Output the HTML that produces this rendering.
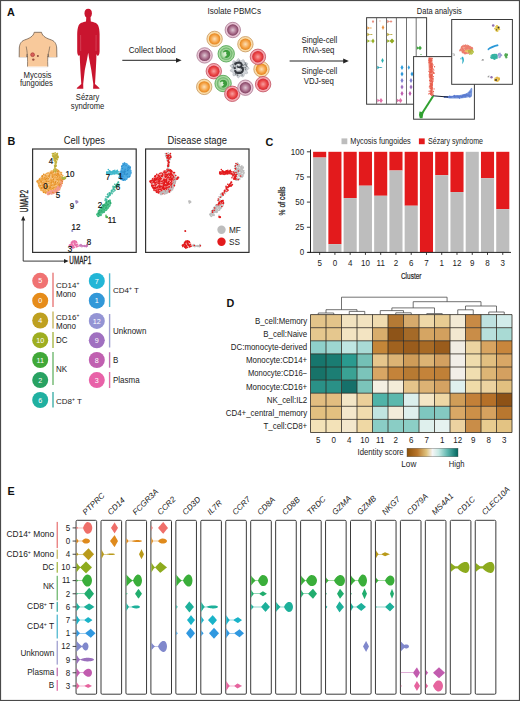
<!DOCTYPE html><html><head><meta charset="utf-8"><style>html,body{margin:0;padding:0;background:#fff;overflow:hidden;}svg{display:block;} text{font-family:"Liberation Sans", sans-serif;}</style></head><body><svg width="520" height="701" viewBox="0 0 520 701"><rect x="0.5" y="0.5" width="519" height="700" fill="#fff" stroke="#4a4a4a" stroke-width="1.2"/><text x="6.9" y="16.1" font-size="10.8" text-anchor="start" fill="#111" font-weight="bold">A</text><text x="7.5" y="145.2" font-size="10.8" text-anchor="start" fill="#111" font-weight="bold">B</text><text x="265.6" y="145.6" font-size="10.8" text-anchor="start" fill="#111" font-weight="bold">C</text><text x="226.5" y="307.2" font-size="10.8" text-anchor="start" fill="#111" font-weight="bold">D</text><text x="7.5" y="495" font-size="10.8" text-anchor="start" fill="#111" font-weight="bold">E</text><path d="M34.2,32.3 C33.5,36.5 29,38.5 24.5,40 C20.5,41.5 19.5,45 19.3,48 L19.2,57.8 L26.6,57.8 L27.2,54 C27.6,57 27.6,62 27.5,66.6 L47.8,66.6 C47.6,62 47.6,57 48.2,54 L48.8,57.8 L56.9,57.8 L56.7,48 C56.5,45 55.5,41.5 51.5,40 C47,38.5 42.3,36.5 41.5,32.3 Z" fill="#f8c99b" stroke="#6e5e50" stroke-width="0.8"/><path d="M26.2,46.5 C26.8,50 27.2,52 27.2,54 M49.8,46.5 C49.2,50 48.8,52 48.2,54" fill="none" stroke="#6e5e50" stroke-width="0.7"/><rect x="18" y="57.3" width="40" height="10" fill="#fff"/><path d="M27.5,57 C27.6,61 27.6,63 27.5,66.6 L47.8,66.6 C47.6,63 47.6,61 47.8,57 Z" fill="#f8c99b"/><path d="M27.5,56 C27.6,60 27.6,63 27.5,66.6 M47.8,56 C47.6,60 47.6,63 47.8,66.6" fill="none" stroke="#6e5e50" stroke-width="0.7"/><circle cx="32.6" cy="54.7" r="1.9" fill="#d9605a" stroke="#a83a35" stroke-width="0.7"/><circle cx="37.9" cy="56.1" r="1" fill="#8a4a3a"/><circle cx="33.3" cy="59.6" r="1.2" fill="#9a5040"/><text x="37.5" y="77.7" font-size="8.53" text-anchor="middle" fill="#222" textLength="28" lengthAdjust="spacingAndGlyphs">Mycosis</text><text x="36.4" y="86.3" font-size="8.53" text-anchor="middle" fill="#222" textLength="33" lengthAdjust="spacingAndGlyphs">fungoides</text><g fill="#c9152f"><ellipse cx="88.2" cy="13.3" rx="3.7" ry="4.5"/><path d="M86.3,17 L90.5,17 L90.8,21.5 C93.8,22.3 97.3,23 98.2,25.5 C99.2,28 99.5,31 99.6,34 L99.6,51.5 C99.5,54 98.8,55.8 97.8,55.8 C96.8,55.8 96.3,54.5 96.5,52 L96.3,60 L95.8,70 L95,84 L99.4,88 L99.5,88.8 L93.1,88.8 L93.3,84 L91.3,70 L89.4,60 L88.2,52.8 L86.9,60 L84.8,70 L83.2,84 L83.3,88.8 L76.9,88.8 L76.8,88 L81.3,84 L80.4,70 L79.9,60 L79.8,56 L80.2,52 C80.3,54.5 79.9,55.8 79,55.8 C78,55.8 77.2,54 77.2,51.5 L77.2,34 C77.3,31 77.6,28 78.6,25.5 C79.5,23 83,22.3 86,21.5 Z"/></g><path d="M80.6,35 L80.7,51 M96.1,35 L96,51" stroke="#e07080" stroke-width="0.45" fill="none"/><text x="87.6" y="100.3" font-size="8.53" text-anchor="middle" fill="#222" textLength="23.5" lengthAdjust="spacingAndGlyphs">Sézary</text><text x="87.6" y="108.8" font-size="8.53" text-anchor="middle" fill="#222" textLength="33.5" lengthAdjust="spacingAndGlyphs">syndrome</text><line x1="122.3" y1="60.3" x2="177" y2="60.3" stroke="#222" stroke-width="1"/><path d="M176,57.9 L181.6,60.3 L176,62.7 Z" fill="#222"/><text x="152.1" y="52.8" font-size="9.07" text-anchor="middle" fill="#222" textLength="46.6" lengthAdjust="spacingAndGlyphs">Collect blood</text><text x="234.2" y="13.7" font-size="9.07" text-anchor="middle" fill="#222" textLength="53.5" lengthAdjust="spacingAndGlyphs">Isolate PBMCs</text><defs><radialGradient id="gp"><stop offset="0" stop-color="#e0c8d4"/><stop offset="0.65" stop-color="#a86c8a"/><stop offset="1" stop-color="#804060"/></radialGradient><radialGradient id="go"><stop offset="0" stop-color="#fce0b8"/><stop offset="0.65" stop-color="#f5a448"/><stop offset="1" stop-color="#e4841c"/></radialGradient><radialGradient id="gr"><stop offset="0" stop-color="#f8a0a0"/><stop offset="0.65" stop-color="#ea4848"/><stop offset="1" stop-color="#d42832"/></radialGradient><radialGradient id="gg"><stop offset="0" stop-color="#eef8e8"/><stop offset="0.6" stop-color="#b8e0b0"/><stop offset="1" stop-color="#60b060"/></radialGradient></defs><circle cx="232.8" cy="30" r="7.7" fill="#e8c4d4" stroke="#a87890" stroke-width="0.8"/><circle cx="232.8" cy="30" r="5.7" fill="url(#gp)"/><circle cx="214.6" cy="38.9" r="7.7" fill="#f9dcaa" stroke="#c89860" stroke-width="0.8"/><circle cx="214.6" cy="38.9" r="5.7" fill="url(#go)"/><circle cx="245.4" cy="44.2" r="7.7" fill="#f9dcaa" stroke="#c89860" stroke-width="0.8"/><circle cx="245.4" cy="44.2" r="5.7" fill="url(#go)"/><circle cx="204.6" cy="55.4" r="7.7" fill="#e8c4d4" stroke="#a87890" stroke-width="0.8"/><circle cx="204.6" cy="55.4" r="5.7" fill="url(#gp)"/><circle cx="226.2" cy="53.8" r="8.2" fill="#a8d8a0" stroke="#48a048" stroke-width="0.8"/><circle cx="226.2" cy="53.8" r="6.2" fill="url(#gg)"/><path d="M223.2,51.3 C226.2,48.3 231.2,50.8 230.2,54.8 C229.7,57.8 226.2,58.8 224.2,57.3 C227.2,55.8 227.7,53.8 225.7,54.3 C227.7,51.8 225.2,50.8 223.2,52.8 Z" fill="#3c9c3c"/><circle cx="261.5" cy="69.2" r="7.7" fill="#f9dcaa" stroke="#c89860" stroke-width="0.8"/><circle cx="261.5" cy="69.2" r="5.7" fill="url(#go)"/><circle cx="257.9" cy="56.8" r="7.7" fill="#f4a8b0" stroke="#c05060" stroke-width="0.8"/><circle cx="257.9" cy="56.8" r="5.7" fill="url(#gr)"/><circle cx="213.8" cy="71.2" r="7.7" fill="#f4a8b0" stroke="#c05060" stroke-width="0.8"/><circle cx="213.8" cy="71.2" r="5.7" fill="url(#gr)"/><circle cx="204.2" cy="86.9" r="7.7" fill="#f9dcaa" stroke="#c89860" stroke-width="0.8"/><circle cx="204.2" cy="86.9" r="5.7" fill="url(#go)"/><circle cx="223.1" cy="83.5" r="8.2" fill="#a8d8a0" stroke="#48a048" stroke-width="0.8"/><circle cx="223.1" cy="83.5" r="6.2" fill="url(#gg)"/><path d="M220.1,81 C223.1,78 228.1,80.5 227.1,84.5 C226.6,87.5 223.1,88.5 221.1,87 C224.1,85.5 224.6,83.5 222.6,84 C224.6,81.5 222.1,80.5 220.1,82.5 Z" fill="#3c9c3c"/><circle cx="232.3" cy="93.8" r="7.7" fill="#f4a8b0" stroke="#c05060" stroke-width="0.8"/><circle cx="232.3" cy="93.8" r="5.7" fill="url(#gr)"/><circle cx="245.4" cy="87.7" r="7.7" fill="#e8c4d4" stroke="#a87890" stroke-width="0.8"/><circle cx="245.4" cy="87.7" r="5.7" fill="url(#gp)"/><circle cx="263.1" cy="84.2" r="7.7" fill="#f4a8b0" stroke="#c05060" stroke-width="0.8"/><circle cx="263.1" cy="84.2" r="5.7" fill="url(#gr)"/><polygon points="249.04,68.3 248.2,69.44 246.71,70.23 247.11,71.45 247.84,73.11 246.65,73.78 244.82,73.62 244.33,74.59 244,76.1 243.12,77.04 241.73,76.62 240.48,75.73 239.5,77.1 238.24,77.89 237.18,76.96 236.68,75.11 235.43,75.34 233.6,75.99 232.86,74.94 233.09,73.22 232.79,72.18 231.41,71.65 230.02,70.84 231.06,69.41 232.12,68.3 231.39,67.23 229.95,65.74 231.18,64.85 232.76,64.41 233.03,63.33 232.78,61.58 233.58,60.58 235.51,61.38 236.53,61.13 237.21,59.75 238.2,58.43 239.5,59.47 240.45,61.09 241.6,60.48 243.12,59.57 244.21,60.13 244.18,62.2 245.08,62.72 246.76,62.73 247.78,63.52 246.99,65.2 246.69,66.37 248.22,67.15" fill="#d0d4d8" stroke="#a0a6ac" stroke-width="0.5"/><g fill="#7a8086"><circle cx="232.93" cy="64.46" r="0.74"/><circle cx="246.18" cy="65.1" r="0.9"/><circle cx="237.97" cy="65.46" r="0.83"/><circle cx="246.92" cy="66.62" r="0.68"/><circle cx="238.67" cy="64.72" r="0.82"/><circle cx="235.68" cy="66.4" r="0.43"/><circle cx="244.34" cy="61.98" r="0.44"/><circle cx="241.1" cy="63.43" r="0.48"/><circle cx="237.59" cy="75.05" r="0.84"/><circle cx="245.53" cy="70.02" r="0.42"/><circle cx="238.59" cy="63.79" r="0.84"/><circle cx="245.15" cy="67.61" r="0.9"/><circle cx="238.69" cy="70.37" r="0.7"/><circle cx="242.99" cy="69" r="0.6"/><circle cx="237.07" cy="66.28" r="0.42"/><circle cx="242.52" cy="64.99" r="0.88"/><circle cx="243.42" cy="65.33" r="0.63"/><circle cx="233.13" cy="67.49" r="0.7"/><circle cx="233.63" cy="66.01" r="0.87"/><circle cx="234.25" cy="68.07" r="0.76"/><circle cx="239.84" cy="72.68" r="0.89"/><circle cx="233.63" cy="67.52" r="0.41"/><circle cx="234.25" cy="71.39" r="0.41"/><circle cx="234.75" cy="64.07" r="0.43"/><circle cx="235.69" cy="64.38" r="0.74"/><circle cx="235.46" cy="73.68" r="0.77"/><circle cx="241.45" cy="68.57" r="0.74"/><circle cx="243.4" cy="67.38" r="0.63"/><circle cx="235.72" cy="65.81" r="0.58"/><circle cx="237.64" cy="72.79" r="0.7"/><circle cx="237.97" cy="72.97" r="0.79"/><circle cx="245.45" cy="69.32" r="0.77"/><circle cx="238.11" cy="71.81" r="0.8"/><circle cx="239.75" cy="71.75" r="0.62"/><circle cx="238.68" cy="65.88" r="0.56"/><circle cx="235.83" cy="74.62" r="0.62"/><circle cx="241.53" cy="65.71" r="0.57"/><circle cx="235.09" cy="62.21" r="0.63"/><circle cx="239.93" cy="71.05" r="0.66"/><circle cx="242.11" cy="74.99" r="0.82"/><circle cx="241.21" cy="72.16" r="0.8"/><circle cx="234.99" cy="62.71" r="0.57"/><circle cx="242.47" cy="71.45" r="0.8"/><circle cx="238.88" cy="72.97" r="0.61"/><circle cx="235.02" cy="70.77" r="0.86"/><circle cx="239.8" cy="68.75" r="0.87"/><circle cx="245.29" cy="62.86" r="0.62"/><circle cx="246.83" cy="65.93" r="0.51"/><circle cx="239.29" cy="60.99" r="0.73"/><circle cx="235.23" cy="67.79" r="0.57"/><circle cx="239.79" cy="70.37" r="0.69"/><circle cx="237.84" cy="75.31" r="0.42"/><circle cx="244.98" cy="64.51" r="0.86"/><circle cx="245.54" cy="63.71" r="0.69"/><circle cx="246.38" cy="68.87" r="0.49"/></g><path d="M234.5,64.5 C238,61 243.5,62.5 241,66.8 C244.5,68.5 243,73.8 238,73 C236,72.7 235,71.5 235.5,70.2" fill="none" stroke="#34383e" stroke-width="2"/><path d="M241,66.8 C239.5,67.5 238,67.5 237,66.5" fill="none" stroke="#34383e" stroke-width="1.6"/><circle cx="234.8" cy="68.2" r="1.1" fill="#3a3e44"/><circle cx="238.8" cy="69.5" r="1.3" fill="#f4f4f4"/><circle cx="238.5" cy="64.8" r="0.9" fill="#f4f4f4"/><text x="319.4" y="43.1" font-size="9.07" text-anchor="middle" fill="#222" textLength="35.8" lengthAdjust="spacingAndGlyphs">Single-cell</text><text x="318.6" y="52.7" font-size="9.07" text-anchor="middle" fill="#222" textLength="31.7" lengthAdjust="spacingAndGlyphs">RNA-seq</text><line x1="289.6" y1="61" x2="344" y2="61" stroke="#222" stroke-width="1"/><path d="M343.2,58.6 L348.8,61 L343.2,63.4 Z" fill="#222"/><text x="319.4" y="74.4" font-size="9.07" text-anchor="middle" fill="#222" textLength="35.8" lengthAdjust="spacingAndGlyphs">Single-cell</text><text x="318.8" y="84.4" font-size="9.07" text-anchor="middle" fill="#222" textLength="30" lengthAdjust="spacingAndGlyphs">VDJ-seq</text><text x="439.3" y="13.8" font-size="9.07" text-anchor="middle" fill="#222" textLength="45" lengthAdjust="spacingAndGlyphs">Data analysis</text><rect x="366.6" y="17.7" width="60" height="86.5" fill="#fff" stroke="#3a3a3a" stroke-width="1"/><line x1="376.6" y1="17.7" x2="376.6" y2="104.2" stroke="#606060" stroke-width="0.9"/><line x1="386.5" y1="17.7" x2="386.5" y2="104.2" stroke="#606060" stroke-width="0.9"/><line x1="396.4" y1="17.7" x2="396.4" y2="104.2" stroke="#606060" stroke-width="0.9"/><line x1="406.5" y1="17.7" x2="406.5" y2="104.2" stroke="#606060" stroke-width="0.9"/><line x1="416.2" y1="17.7" x2="416.2" y2="104.2" stroke="#606060" stroke-width="0.9"/><path d="M371.8,21.6 L373,20 L374.2,21.6 L373,23.2 Z" fill="#e89080"/><path d="M369.8,28 L371,27.5 L372.2,28 L371,28.5 Z" fill="#e8a050"/><path d="M367.3,26.2 L369.5,27.65 L371,27.65 L371,28.35 L369.5,28.35 L367.3,29.8 Z" fill="#e8a050"/><path d="M370,34.5 L371.5,33.9 L373,34.5 L371.5,35.1 Z" fill="#b8a838"/><path d="M367.3,32.7 L369.5,34.15 L371.5,34.15 L371.5,34.85 L369.5,34.85 L367.3,36.3 Z" fill="#b8a838"/><path d="M371.4,41 L373,38.4 L374.6,41 L373,43.6 Z" fill="#98b028"/><path d="M367.3,39.2 L369.5,40.65 L373,40.65 L373,41.35 L369.5,41.35 L367.3,42.8 Z" fill="#98b028"/><path d="M379,21 L380,20.5 L381,21 L380,21.5 Z" fill="#e89080"/><path d="M381.8,27.5 L383,24.9 L384.2,27.5 L383,30.1 Z" fill="#e89040"/><path d="M389.5,21.5 L391,20.2 L392.5,21.5 L391,22.8 Z" fill="#e89080"/><path d="M387.2,19.7 L389.4,21.15 L391,21.15 L391,21.85 L389.4,21.85 L387.2,23.3 Z" fill="#e89080"/><path d="M390,34.5 L391.5,33.9 L393,34.5 L391.5,35.1 Z" fill="#b8a838"/><path d="M387.2,32.7 L389.4,34.15 L391.5,34.15 L391.5,34.85 L389.4,34.85 L387.2,36.3 Z" fill="#b8a838"/><path d="M389.6,41 L392,38.4 L394.4,41 L392,43.6 Z" fill="#90a820"/><path d="M387.2,39.2 L389.4,40.65 L392,40.65 L392,41.35 L389.4,41.35 L387.2,42.8 Z" fill="#90a820"/><path d="M418.2,48 L420,45.8 L421.8,48 L420,50.2 Z" fill="#40a840"/><path d="M416.8,46.2 L419,47.65 L420,47.65 L420,48.35 L419,48.35 L416.8,49.8 Z" fill="#40a840"/><path d="M420,54.5 L421,54.1 L422,54.5 L421,54.9 Z" fill="#40a840"/><path d="M381.2,60.5 L382.5,57.9 L383.8,60.5 L382.5,63.1 Z" fill="#28b0b0"/><path d="M379.4,67.5 L381,67 L382.6,67.5 L381,68 Z" fill="#28a0b0"/><path d="M377.3,65.7 L379.5,67.15 L381,67.15 L381,67.85 L379.5,67.85 L377.3,69.3 Z" fill="#28a0b0"/><path d="M379.2,100.5 L381,97.9 L382.8,100.5 L381,103.1 Z" fill="#e070a8"/><path d="M377.3,98.7 L379.5,100.15 L381,100.15 L381,100.85 L379.5,100.85 L377.3,102.3 Z" fill="#e070a8"/><path d="M400.5,67.5 L402,64.9 L403.5,67.5 L402,70.1 Z" fill="#30a0e0"/><path d="M400.5,74 L402,71.4 L403.5,74 L402,76.6 Z" fill="#3098d8"/><path d="M400.5,80.5 L402,78.1 L403.5,80.5 L402,82.9 Z" fill="#8080d0"/><path d="M400.5,87 L402,84.6 L403.5,87 L402,89.4 Z" fill="#a070c0"/><path d="M400.5,93.5 L402,91.1 L403.5,93.5 L402,95.9 Z" fill="#c060b0"/><path d="M398.7,100.5 L400.5,97.9 L402.3,100.5 L400.5,103.1 Z" fill="#e070a8"/><path d="M397,98.7 L399.2,100.15 L400.5,100.15 L400.5,100.85 L399.2,100.85 L397,102.3 Z" fill="#e070a8"/><path d="M407.6,67.5 L408.8,65.3 L410,67.5 L408.8,69.7 Z" fill="#30a0e0"/><path d="M410.5,74 L412,71.4 L413.5,74 L412,76.6 Z" fill="#3098d8"/><path d="M409.5,80.5 L411,78.1 L412.5,80.5 L411,82.9 Z" fill="#8080d0"/><path d="M409.5,87 L411,84.6 L412.5,87 L411,89.4 Z" fill="#a070c0"/><path d="M408.5,93.5 L410,91.1 L411.5,93.5 L410,95.9 Z" fill="#c060b0"/><rect x="413.6" y="56.6" width="60.8" height="62.6" fill="#fff" stroke="#3a3a3a" stroke-width="1"/><path d="M428.2,57.5 L432.2,57.5 C432.8,66 433.5,76 432.8,84 C432.6,89 433.5,93 434,95.8 L431.5,95.8 C430.5,91 429.8,87 429.5,82 C429.2,74 428.4,66 428.2,57.5 Z" fill="#f09080"/><g fill="#e86050" opacity="1"><circle cx="430.45" cy="64.19" r="0.65"/><circle cx="430.27" cy="75.97" r="0.65"/><circle cx="431.61" cy="66.1" r="0.65"/><circle cx="429.85" cy="77.22" r="0.65"/><circle cx="431.61" cy="76.94" r="0.65"/><circle cx="431.56" cy="71.91" r="0.65"/><circle cx="433.19" cy="79.95" r="0.65"/><circle cx="431.92" cy="66.71" r="0.65"/><circle cx="434.52" cy="66.73" r="0.65"/><circle cx="432.27" cy="85.7" r="0.65"/><circle cx="430.8" cy="90.81" r="0.65"/><circle cx="431.23" cy="70.33" r="0.65"/><circle cx="433.44" cy="76.66" r="0.65"/><circle cx="433.11" cy="71.82" r="0.65"/><circle cx="431.15" cy="63.81" r="0.65"/><circle cx="430.35" cy="92.8" r="0.65"/><circle cx="430.71" cy="74.99" r="0.65"/><circle cx="431.3" cy="76.18" r="0.65"/><circle cx="432.99" cy="65.01" r="0.65"/><circle cx="431.64" cy="66.81" r="0.65"/><circle cx="431.94" cy="87.26" r="0.65"/><circle cx="433.48" cy="91.52" r="0.65"/><circle cx="431.43" cy="86.3" r="0.65"/><circle cx="430.06" cy="85.37" r="0.65"/><circle cx="428.98" cy="62.59" r="0.65"/><circle cx="431.36" cy="65.54" r="0.65"/><circle cx="431.62" cy="92.62" r="0.65"/><circle cx="430.8" cy="71.7" r="0.65"/><circle cx="429.13" cy="74.92" r="0.65"/><circle cx="433.63" cy="72.5" r="0.65"/><circle cx="431.82" cy="59.01" r="0.65"/><circle cx="431.47" cy="95.23" r="0.65"/><circle cx="430.33" cy="76.6" r="0.65"/><circle cx="431.4" cy="86.06" r="0.65"/><circle cx="430.15" cy="66.33" r="0.65"/><circle cx="430.74" cy="81.35" r="0.65"/><circle cx="431.46" cy="64.78" r="0.65"/><circle cx="431.63" cy="92.77" r="0.65"/><circle cx="430.73" cy="71" r="0.65"/><circle cx="430.27" cy="61.87" r="0.65"/><circle cx="431.31" cy="60.46" r="0.65"/><circle cx="429.89" cy="72.06" r="0.65"/><circle cx="430.5" cy="83.63" r="0.65"/><circle cx="428.8" cy="93.94" r="0.65"/><circle cx="434.07" cy="73.26" r="0.65"/><circle cx="431.4" cy="80.14" r="0.65"/><circle cx="430" cy="91.12" r="0.65"/><circle cx="431.27" cy="67.27" r="0.65"/><circle cx="431.19" cy="90.86" r="0.65"/><circle cx="431.52" cy="88.2" r="0.65"/><circle cx="429.38" cy="87.02" r="0.65"/><circle cx="430.79" cy="59.96" r="0.65"/><circle cx="430.98" cy="67.67" r="0.65"/><circle cx="432" cy="64.4" r="0.65"/><circle cx="429.52" cy="60.6" r="0.65"/><circle cx="432.45" cy="94.88" r="0.65"/><circle cx="430.59" cy="85.97" r="0.65"/><circle cx="430.81" cy="93.96" r="0.65"/><circle cx="431.57" cy="77.71" r="0.65"/><circle cx="430.88" cy="65.95" r="0.65"/><circle cx="431.68" cy="89.43" r="0.65"/><circle cx="429.59" cy="80.55" r="0.65"/><circle cx="429.85" cy="73.98" r="0.65"/><circle cx="430.41" cy="69.55" r="0.65"/><circle cx="431.32" cy="78.04" r="0.65"/><circle cx="432.12" cy="58.38" r="0.65"/><circle cx="431.67" cy="83.7" r="0.65"/><circle cx="431.51" cy="80.26" r="0.65"/><circle cx="432.31" cy="82.14" r="0.65"/><circle cx="430.17" cy="67.64" r="0.65"/><circle cx="433.63" cy="73.21" r="0.65"/><circle cx="430.31" cy="63.01" r="0.65"/><circle cx="430.92" cy="61.56" r="0.65"/><circle cx="431.69" cy="74.76" r="0.65"/><circle cx="431.87" cy="63.28" r="0.65"/><circle cx="429.76" cy="62.74" r="0.65"/><circle cx="431.07" cy="78.2" r="0.65"/><circle cx="432.18" cy="66.24" r="0.65"/><circle cx="431.37" cy="64.23" r="0.65"/><circle cx="432.31" cy="84.62" r="0.65"/><circle cx="433.11" cy="78.63" r="0.65"/><circle cx="431.45" cy="90.77" r="0.65"/><circle cx="431.31" cy="87.03" r="0.65"/><circle cx="431.46" cy="75.4" r="0.65"/><circle cx="430.68" cy="60.38" r="0.65"/><circle cx="430.8" cy="84.68" r="0.65"/><circle cx="430.94" cy="67.48" r="0.65"/><circle cx="429.73" cy="59.57" r="0.65"/><circle cx="430.72" cy="72.58" r="0.65"/><circle cx="433.33" cy="69.06" r="0.65"/><circle cx="429.28" cy="76.87" r="0.65"/><circle cx="430.01" cy="61.7" r="0.65"/><circle cx="429.94" cy="80.54" r="0.65"/><circle cx="430.6" cy="94.27" r="0.65"/><circle cx="430.98" cy="69.63" r="0.65"/><circle cx="430.43" cy="79.03" r="0.65"/><circle cx="431.71" cy="60.39" r="0.65"/><circle cx="428.93" cy="71.32" r="0.65"/><circle cx="431.86" cy="69.93" r="0.65"/><circle cx="430.65" cy="60.85" r="0.65"/><circle cx="431.33" cy="60.75" r="0.65"/><circle cx="430.02" cy="74.8" r="0.65"/><circle cx="432.98" cy="81.3" r="0.65"/><circle cx="431.74" cy="74.6" r="0.65"/><circle cx="430.82" cy="77.4" r="0.65"/><circle cx="431.8" cy="66.46" r="0.65"/><circle cx="429.89" cy="59.83" r="0.65"/><circle cx="431.73" cy="84.41" r="0.65"/><circle cx="430.98" cy="88.65" r="0.65"/><circle cx="430.09" cy="66.87" r="0.65"/><circle cx="430.09" cy="72.45" r="0.65"/><circle cx="430.82" cy="94.12" r="0.65"/><circle cx="429.55" cy="61.2" r="0.65"/><circle cx="431.55" cy="84.89" r="0.65"/><circle cx="431.2" cy="91.39" r="0.65"/><circle cx="429.93" cy="86.44" r="0.65"/><circle cx="432.47" cy="83.05" r="0.65"/><circle cx="430.26" cy="83.61" r="0.65"/><circle cx="432.06" cy="67.2" r="0.65"/><circle cx="431.06" cy="81.05" r="0.65"/><circle cx="434.07" cy="88.93" r="0.65"/><circle cx="429.74" cy="58.24" r="0.65"/><circle cx="430.99" cy="69.72" r="0.65"/><circle cx="431.83" cy="63.45" r="0.65"/><circle cx="432.34" cy="78.75" r="0.65"/><circle cx="431.17" cy="93.38" r="0.65"/><circle cx="430.89" cy="85.84" r="0.65"/><circle cx="430.84" cy="93.85" r="0.65"/><circle cx="431.68" cy="84.4" r="0.65"/><circle cx="432.39" cy="82.06" r="0.65"/><circle cx="431.3" cy="83.56" r="0.65"/><circle cx="433.84" cy="70.08" r="0.65"/><circle cx="431.55" cy="67.53" r="0.65"/><circle cx="430.99" cy="83.54" r="0.65"/><circle cx="430.42" cy="65.5" r="0.65"/><circle cx="431.02" cy="72.21" r="0.65"/><circle cx="429.73" cy="93.28" r="0.65"/><circle cx="431.77" cy="81.14" r="0.65"/><circle cx="431.75" cy="68.52" r="0.65"/><circle cx="432.15" cy="68.22" r="0.65"/><circle cx="431.3" cy="65.07" r="0.65"/><circle cx="431.12" cy="88.39" r="0.65"/><circle cx="430.74" cy="93.05" r="0.65"/><circle cx="431.41" cy="76.8" r="0.65"/><circle cx="429.33" cy="59.47" r="0.65"/><circle cx="430.22" cy="67.01" r="0.65"/><circle cx="430" cy="58.29" r="0.65"/><circle cx="431.24" cy="69.59" r="0.65"/><circle cx="432.33" cy="75.03" r="0.65"/><circle cx="430.28" cy="63.06" r="0.65"/><circle cx="431.77" cy="87.69" r="0.65"/><circle cx="429.47" cy="59.84" r="0.65"/><circle cx="430" cy="65.03" r="0.65"/><circle cx="431.88" cy="66.44" r="0.65"/><circle cx="432.47" cy="88.09" r="0.65"/><circle cx="429.07" cy="91.13" r="0.65"/><circle cx="430.11" cy="58.66" r="0.65"/><circle cx="430.71" cy="91.74" r="0.65"/><circle cx="431.38" cy="86.01" r="0.65"/><circle cx="429.97" cy="60.24" r="0.65"/><circle cx="430.08" cy="88.57" r="0.65"/><circle cx="430.72" cy="75.67" r="0.65"/><circle cx="430.79" cy="88" r="0.65"/><circle cx="432.12" cy="71.24" r="0.65"/><circle cx="429.87" cy="69.17" r="0.65"/><circle cx="429.15" cy="60.66" r="0.65"/><circle cx="429.14" cy="60.54" r="0.65"/><circle cx="430.94" cy="65.12" r="0.65"/><circle cx="431.53" cy="68.12" r="0.65"/><circle cx="431.69" cy="76.56" r="0.65"/></g><path d="M444,96.2 C452,96 460,95.5 466,93.5 C468.5,92.5 470,90 471.2,87.8 L472.3,88.5 L472,96.5 C467,98 460,98.8 452,98.5 C449,98.3 446,97.8 444,97.4 Z" fill="#7898dc"/><g fill="#5a7ad0" opacity="1"><circle cx="463.06" cy="95.77" r="0.6"/><circle cx="446.92" cy="96.72" r="0.6"/><circle cx="470.06" cy="92.47" r="0.6"/><circle cx="463.34" cy="95.8" r="0.6"/><circle cx="464.38" cy="95.51" r="0.6"/><circle cx="467.16" cy="95.17" r="0.6"/><circle cx="449.98" cy="97.04" r="0.6"/><circle cx="458.91" cy="96.46" r="0.6"/><circle cx="461.59" cy="96.64" r="0.6"/><circle cx="457.83" cy="97.08" r="0.6"/><circle cx="448.54" cy="97.16" r="0.6"/><circle cx="469.38" cy="92.33" r="0.6"/><circle cx="463.03" cy="96.29" r="0.6"/><circle cx="469.28" cy="96.66" r="0.6"/><circle cx="458.93" cy="97.52" r="0.6"/><circle cx="454.92" cy="95.95" r="0.6"/><circle cx="470.37" cy="96.14" r="0.6"/><circle cx="444.31" cy="96.77" r="0.6"/><circle cx="453.85" cy="96.18" r="0.6"/><circle cx="465.16" cy="94.89" r="0.6"/><circle cx="462.11" cy="96.97" r="0.6"/><circle cx="459.01" cy="97.38" r="0.6"/><circle cx="468.69" cy="95.88" r="0.6"/><circle cx="459.54" cy="98.21" r="0.6"/><circle cx="465.72" cy="95.48" r="0.6"/><circle cx="454.15" cy="95.77" r="0.6"/><circle cx="446.32" cy="96.73" r="0.6"/><circle cx="459.12" cy="96.52" r="0.6"/><circle cx="466.82" cy="94.97" r="0.6"/><circle cx="444.76" cy="97.1" r="0.6"/><circle cx="455.84" cy="96.4" r="0.6"/><circle cx="462.63" cy="95.99" r="0.6"/><circle cx="449.9" cy="97.34" r="0.6"/><circle cx="458.64" cy="97.1" r="0.6"/><circle cx="469.06" cy="93.81" r="0.6"/><circle cx="450.72" cy="96.7" r="0.6"/><circle cx="455.88" cy="96.02" r="0.6"/><circle cx="465.04" cy="94.53" r="0.6"/><circle cx="462.22" cy="96.09" r="0.6"/><circle cx="454.59" cy="96.96" r="0.6"/><circle cx="457.71" cy="96.34" r="0.6"/><circle cx="456.85" cy="97.01" r="0.6"/><circle cx="445" cy="97.15" r="0.6"/><circle cx="466.48" cy="94.19" r="0.6"/><circle cx="464.62" cy="95.48" r="0.6"/><circle cx="454.55" cy="95.3" r="0.6"/><circle cx="455.02" cy="97.12" r="0.6"/><circle cx="460.28" cy="96.28" r="0.6"/><circle cx="460.14" cy="96.66" r="0.6"/><circle cx="450.36" cy="96.72" r="0.6"/><circle cx="464.56" cy="96.21" r="0.6"/><circle cx="445.54" cy="96.59" r="0.6"/><circle cx="454.37" cy="96.77" r="0.6"/><circle cx="456.92" cy="95.96" r="0.6"/><circle cx="454.9" cy="96.15" r="0.6"/><circle cx="463.4" cy="95.22" r="0.6"/><circle cx="468.23" cy="94.87" r="0.6"/><circle cx="451.01" cy="96.37" r="0.6"/><circle cx="465.89" cy="96.18" r="0.6"/><circle cx="449.57" cy="96.03" r="0.6"/><circle cx="467.74" cy="95.41" r="0.6"/><circle cx="452.62" cy="96.54" r="0.6"/><circle cx="461.74" cy="96.92" r="0.6"/><circle cx="451.42" cy="97.2" r="0.6"/><circle cx="463.11" cy="95.86" r="0.6"/><circle cx="449.79" cy="96.98" r="0.6"/><circle cx="457.93" cy="96.31" r="0.6"/><circle cx="463.22" cy="95.48" r="0.6"/><circle cx="453.38" cy="96.39" r="0.6"/><circle cx="449.41" cy="96.51" r="0.6"/><circle cx="447.95" cy="97.3" r="0.6"/><circle cx="455.58" cy="96.73" r="0.6"/><circle cx="447.45" cy="97.2" r="0.6"/><circle cx="444.59" cy="96.66" r="0.6"/><circle cx="464.29" cy="95.1" r="0.6"/><circle cx="458.02" cy="96.08" r="0.6"/><circle cx="470.94" cy="91.71" r="0.6"/><circle cx="461.8" cy="96.83" r="0.6"/><circle cx="454.24" cy="96.19" r="0.6"/><circle cx="461.8" cy="97.08" r="0.6"/><circle cx="456.79" cy="96.12" r="0.6"/><circle cx="466.1" cy="95.46" r="0.6"/><circle cx="444.56" cy="96.76" r="0.6"/><circle cx="450.2" cy="96.45" r="0.6"/><circle cx="460.43" cy="96.02" r="0.6"/><circle cx="457.72" cy="96.3" r="0.6"/><circle cx="448.62" cy="96.89" r="0.6"/><circle cx="453.19" cy="96.29" r="0.6"/><circle cx="450.03" cy="96.95" r="0.6"/><circle cx="448.25" cy="96.88" r="0.6"/><circle cx="461.48" cy="96.44" r="0.6"/><circle cx="447.13" cy="96.68" r="0.6"/><circle cx="458.96" cy="96.74" r="0.6"/><circle cx="465.3" cy="96.33" r="0.6"/><circle cx="449.69" cy="96.63" r="0.6"/><circle cx="446.38" cy="96.52" r="0.6"/><circle cx="450.79" cy="96.58" r="0.6"/><circle cx="449.7" cy="96.67" r="0.6"/><circle cx="460.15" cy="96.56" r="0.6"/><circle cx="462.58" cy="95.27" r="0.6"/><circle cx="444.25" cy="96.9" r="0.6"/><circle cx="469.58" cy="95.36" r="0.6"/><circle cx="454.01" cy="96.59" r="0.6"/><circle cx="457.96" cy="96.26" r="0.6"/><circle cx="468.96" cy="94.76" r="0.6"/><circle cx="449.1" cy="96.35" r="0.6"/><circle cx="469.93" cy="97.24" r="0.6"/><circle cx="465.73" cy="96.82" r="0.6"/><circle cx="464.15" cy="95.39" r="0.6"/><circle cx="453.54" cy="96.55" r="0.6"/></g><path d="M433,95.8 L448,97" stroke="#1a2030" stroke-width="1"/><path d="M433.2,96 L422,113.5" stroke="#30a030" stroke-width="2"/><path d="M419.5,111.5 L423.5,112.2 L422.5,118.3 L419.8,118.3 L419,115 Z" fill="#30a030"/><rect x="451.7" y="19.5" width="60.7" height="64.8" fill="#fff" stroke="#3a3a3a" stroke-width="1"/><ellipse cx="466.2" cy="49.3" rx="6" ry="4.2" fill="#f4a898"/><g fill="#ec7868" opacity="0.9"><circle cx="462.19" cy="46.6" r="0.82"/><circle cx="471.43" cy="47.93" r="0.87"/><circle cx="470.56" cy="49.86" r="0.88"/><circle cx="462.54" cy="45.86" r="0.55"/><circle cx="463.03" cy="49.73" r="0.72"/><circle cx="465.53" cy="49.07" r="0.59"/><circle cx="465.05" cy="53.53" r="0.81"/><circle cx="469.32" cy="52.69" r="0.56"/><circle cx="464.49" cy="48.22" r="0.5"/><circle cx="468.26" cy="47.81" r="0.59"/><circle cx="472.23" cy="48.84" r="0.62"/><circle cx="470.83" cy="48.51" r="0.77"/><circle cx="467.97" cy="53.49" r="0.78"/><circle cx="472.21" cy="48.41" r="0.62"/><circle cx="464.5" cy="50.7" r="0.56"/><circle cx="469.47" cy="50.28" r="0.74"/><circle cx="471.55" cy="49.38" r="0.64"/><circle cx="464.04" cy="53.09" r="0.69"/><circle cx="464.39" cy="52.16" r="0.78"/><circle cx="472.21" cy="50.86" r="0.51"/><circle cx="466.19" cy="45.16" r="0.51"/><circle cx="467.12" cy="46.65" r="0.73"/><circle cx="467.6" cy="49.36" r="0.57"/><circle cx="468.97" cy="48.75" r="0.8"/><circle cx="471.9" cy="47.43" r="0.64"/><circle cx="463.32" cy="51.88" r="0.81"/><circle cx="470.58" cy="51.74" r="0.82"/><circle cx="466.99" cy="48.64" r="0.88"/><circle cx="469.39" cy="50.72" r="0.74"/><circle cx="469.5" cy="48.01" r="0.87"/><circle cx="462.71" cy="48.6" r="0.63"/><circle cx="467" cy="50.43" r="0.56"/><circle cx="463.78" cy="45.13" r="0.56"/><circle cx="472.36" cy="50.64" r="0.71"/><circle cx="463.57" cy="50.52" r="0.74"/><circle cx="468.22" cy="46.6" r="0.67"/><circle cx="472.04" cy="50.78" r="0.51"/><circle cx="460.25" cy="49.47" r="0.55"/><circle cx="465.47" cy="44.94" r="0.75"/><circle cx="466.7" cy="47.87" r="0.67"/><circle cx="469.73" cy="52.63" r="0.62"/><circle cx="459.98" cy="50.61" r="0.84"/><circle cx="470.53" cy="48.84" r="0.7"/><circle cx="465.62" cy="46.21" r="0.62"/><circle cx="464.15" cy="50.28" r="0.65"/><circle cx="472.55" cy="48.98" r="0.75"/><circle cx="462.42" cy="49.31" r="0.54"/><circle cx="465.4" cy="53.24" r="0.85"/><circle cx="462.49" cy="52.35" r="0.81"/><circle cx="464.39" cy="45.85" r="0.8"/><circle cx="462.63" cy="52.16" r="0.61"/><circle cx="460.52" cy="49.65" r="0.78"/><circle cx="464.48" cy="53.51" r="0.76"/><circle cx="465.59" cy="49.06" r="0.72"/><circle cx="466.18" cy="52.99" r="0.69"/><circle cx="468.33" cy="45.99" r="0.82"/><circle cx="463.19" cy="52.25" r="0.8"/><circle cx="468.01" cy="46.95" r="0.84"/><circle cx="469.89" cy="46.58" r="0.89"/><circle cx="470.71" cy="48.43" r="0.71"/><circle cx="469.19" cy="52.86" r="0.87"/><circle cx="460.85" cy="49.83" r="0.79"/><circle cx="465.87" cy="47.45" r="0.81"/><circle cx="461.57" cy="47.51" r="0.67"/><circle cx="462.12" cy="46.52" r="0.75"/><circle cx="466" cy="48.56" r="0.56"/><circle cx="461.31" cy="50.61" r="0.59"/><circle cx="464.18" cy="46.01" r="0.52"/><circle cx="463.16" cy="49.68" r="0.52"/><circle cx="468.65" cy="51.19" r="0.57"/><circle cx="466.63" cy="50.1" r="0.69"/><circle cx="462.49" cy="51.7" r="0.74"/><circle cx="466.67" cy="53.56" r="0.5"/><circle cx="463.36" cy="50.63" r="0.66"/><circle cx="470.64" cy="52.01" r="0.65"/><circle cx="471.16" cy="50.09" r="0.54"/><circle cx="462.57" cy="48.57" r="0.73"/><circle cx="471.88" cy="48.25" r="0.67"/><circle cx="468.21" cy="45.97" r="0.65"/><circle cx="469.35" cy="52.01" r="0.73"/><circle cx="472.37" cy="48.12" r="0.74"/><circle cx="462.55" cy="52.72" r="0.5"/><circle cx="470.01" cy="51.42" r="0.75"/><circle cx="469.47" cy="52.06" r="0.86"/><circle cx="463.16" cy="51.38" r="0.59"/><circle cx="464.55" cy="53.59" r="0.65"/><circle cx="472.23" cy="48.26" r="0.74"/><circle cx="465.8" cy="53.75" r="0.7"/><circle cx="463.03" cy="50.59" r="0.89"/><circle cx="462.73" cy="49.42" r="0.69"/><circle cx="469.89" cy="51.76" r="0.68"/><circle cx="464.66" cy="53.13" r="0.83"/><circle cx="470.93" cy="49.57" r="0.61"/><circle cx="471.48" cy="47.73" r="0.6"/><circle cx="465.92" cy="51.06" r="0.9"/><circle cx="464.84" cy="52.68" r="0.69"/><circle cx="463.1" cy="46.54" r="0.8"/><circle cx="470.38" cy="51.95" r="0.62"/><circle cx="462.51" cy="48.75" r="0.62"/><circle cx="461.85" cy="48.73" r="0.64"/><circle cx="466.04" cy="45.84" r="0.51"/><circle cx="466.13" cy="52.34" r="0.87"/><circle cx="469.86" cy="47.15" r="0.51"/><circle cx="466.95" cy="46.4" r="0.73"/><circle cx="464.86" cy="45.84" r="0.69"/><circle cx="469.63" cy="47.83" r="0.66"/><circle cx="467.92" cy="47.7" r="0.62"/><circle cx="467.01" cy="48.29" r="0.83"/><circle cx="464.74" cy="46.52" r="0.61"/><circle cx="467.39" cy="45.09" r="0.56"/></g><g fill="#b0c038" opacity="0.9"><circle cx="468.3" cy="52.08" r="0.65"/><circle cx="469.93" cy="52.76" r="0.68"/><circle cx="470.8" cy="51.12" r="0.57"/><circle cx="471.63" cy="49.54" r="0.7"/><circle cx="473.02" cy="52.18" r="0.79"/><circle cx="473.01" cy="51.78" r="0.51"/><circle cx="471.27" cy="50.7" r="0.69"/><circle cx="472.92" cy="51.1" r="0.54"/><circle cx="469.74" cy="54.39" r="0.54"/><circle cx="469.02" cy="50.65" r="0.55"/><circle cx="470.05" cy="51.39" r="0.53"/><circle cx="469.92" cy="52.32" r="0.52"/><circle cx="468.2" cy="50.7" r="0.76"/><circle cx="471.81" cy="53.17" r="0.59"/><circle cx="468.8" cy="50.65" r="0.78"/><circle cx="470" cy="52.27" r="0.71"/><circle cx="471.89" cy="53.61" r="0.65"/><circle cx="472.39" cy="50.69" r="0.69"/><circle cx="470.31" cy="53.87" r="0.58"/><circle cx="470.51" cy="49.79" r="0.54"/><circle cx="470.68" cy="53.5" r="0.72"/><circle cx="471.59" cy="53.94" r="0.7"/><circle cx="472.61" cy="52.97" r="0.53"/><circle cx="472.14" cy="53.32" r="0.57"/><circle cx="471.99" cy="50.44" r="0.6"/><circle cx="470.65" cy="51.34" r="0.72"/><circle cx="471.6" cy="52.16" r="0.79"/><circle cx="469.91" cy="50.6" r="0.53"/><circle cx="472.91" cy="51.41" r="0.75"/><circle cx="472.01" cy="53.5" r="0.61"/></g><g fill="#e8e060" opacity="0.9"><circle cx="467.08" cy="51.86" r="0.52"/><circle cx="466.46" cy="51.76" r="0.43"/><circle cx="467.59" cy="49.95" r="0.56"/><circle cx="465.74" cy="51.56" r="0.5"/><circle cx="466.05" cy="50.38" r="0.55"/><circle cx="466.63" cy="51.29" r="0.41"/><circle cx="467.09" cy="51.28" r="0.58"/><circle cx="465.7" cy="51.16" r="0.4"/></g><path d="M462.2,56.5 C464.5,58.5 464.5,62 462,64.2 C462.8,61.5 462.6,59 461.5,57.5 Z" fill="#20a8c0"/><g fill="#30b0d0" opacity="0.9"><circle cx="460.5" cy="58.32" r="0.49"/><circle cx="460.94" cy="58.53" r="0.33"/><circle cx="462.11" cy="58.59" r="0.41"/><circle cx="460.81" cy="59.11" r="0.35"/><circle cx="461.78" cy="58.95" r="0.35"/><circle cx="461.64" cy="58.85" r="0.44"/><circle cx="463.12" cy="58.35" r="0.41"/><circle cx="462.87" cy="57.43" r="0.5"/></g><path d="M487.5,49 C490,46.5 494,45 498,44.2 L498.5,46 C494,47 490.5,48.5 488,50.5 Z" fill="#2a98d8"/><ellipse cx="494.4" cy="56.7" rx="3.2" ry="2.6" fill="#60c8b8"/><g fill="#30b0a0" opacity="0.9"><circle cx="490.95" cy="57.2" r="0.55"/><circle cx="493.45" cy="55.34" r="0.77"/><circle cx="494.21" cy="55.54" r="0.58"/><circle cx="496.11" cy="56.92" r="0.53"/><circle cx="491.51" cy="58.37" r="0.65"/><circle cx="493.47" cy="58.54" r="0.61"/><circle cx="494.06" cy="54.26" r="0.57"/><circle cx="494.58" cy="59.07" r="0.88"/><circle cx="492.96" cy="55.19" r="0.89"/><circle cx="495.29" cy="56.73" r="0.81"/><circle cx="493.76" cy="57.03" r="0.72"/><circle cx="496.99" cy="56.56" r="0.64"/><circle cx="495.2" cy="57.13" r="0.86"/><circle cx="490.92" cy="56.86" r="0.52"/><circle cx="494.43" cy="57.35" r="0.66"/><circle cx="496.09" cy="57.24" r="0.66"/><circle cx="494.12" cy="57.32" r="0.52"/><circle cx="495.9" cy="56.48" r="0.7"/><circle cx="492.25" cy="57.92" r="0.53"/><circle cx="493.94" cy="57.58" r="0.72"/><circle cx="496.85" cy="55.64" r="0.84"/><circle cx="494.51" cy="57.07" r="0.72"/><circle cx="491.69" cy="56.89" r="0.65"/><circle cx="492.23" cy="54.95" r="0.87"/><circle cx="493.55" cy="58.52" r="0.83"/><circle cx="494.6" cy="57.67" r="0.62"/><circle cx="497.1" cy="58.03" r="0.83"/><circle cx="493.9" cy="57.66" r="0.53"/><circle cx="494.43" cy="57.54" r="0.67"/><circle cx="492.82" cy="56.03" r="0.52"/><circle cx="494.16" cy="56.09" r="0.58"/><circle cx="493.91" cy="58.43" r="0.54"/><circle cx="492.63" cy="57.48" r="0.8"/><circle cx="491.2" cy="55.75" r="0.76"/><circle cx="494.57" cy="54.51" r="0.68"/><circle cx="495.59" cy="54.56" r="0.88"/><circle cx="493.99" cy="54.29" r="0.61"/><circle cx="495.25" cy="55.04" r="0.55"/><circle cx="495.76" cy="57.18" r="0.61"/><circle cx="493.54" cy="55.32" r="0.53"/><circle cx="494.63" cy="54.54" r="0.51"/><circle cx="495.63" cy="57.03" r="0.64"/><circle cx="496.63" cy="54.52" r="0.74"/><circle cx="494.68" cy="58.59" r="0.64"/><circle cx="494.21" cy="56.98" r="0.73"/><circle cx="495.83" cy="54.51" r="0.54"/><circle cx="492.94" cy="56.47" r="0.78"/><circle cx="491.11" cy="57.63" r="0.82"/><circle cx="495.89" cy="57.8" r="0.87"/><circle cx="492.1" cy="57.16" r="0.68"/></g><g fill="#9090d0" opacity="0.9"><circle cx="499.99" cy="53.1" r="0.66"/><circle cx="501.16" cy="55.13" r="0.53"/><circle cx="500.26" cy="54.01" r="0.52"/><circle cx="500.12" cy="55.44" r="0.67"/><circle cx="498.12" cy="55.77" r="0.62"/><circle cx="500" cy="56.79" r="0.56"/><circle cx="498.81" cy="54.93" r="0.73"/><circle cx="499.86" cy="56.98" r="0.57"/><circle cx="501.44" cy="55.25" r="0.75"/><circle cx="498.96" cy="54.43" r="0.54"/><circle cx="500.42" cy="53.98" r="0.51"/><circle cx="500.07" cy="56.19" r="0.72"/><circle cx="500.45" cy="54.84" r="0.74"/><circle cx="499.13" cy="57.35" r="0.76"/><circle cx="498.65" cy="53.94" r="0.61"/><circle cx="501.09" cy="55.61" r="0.68"/><circle cx="500.25" cy="56.93" r="0.6"/><circle cx="500.79" cy="55.74" r="0.61"/><circle cx="498.31" cy="55.81" r="0.62"/><circle cx="501.42" cy="55.25" r="0.78"/><circle cx="499.28" cy="53.58" r="0.66"/><circle cx="500.13" cy="54.06" r="0.68"/><circle cx="499.24" cy="53.87" r="0.59"/><circle cx="500.27" cy="55.85" r="0.61"/><circle cx="498.43" cy="54.45" r="0.71"/><circle cx="499.19" cy="57.76" r="0.58"/></g><g fill="#40a040" opacity="0.9"><circle cx="506.11" cy="55.42" r="0.73"/><circle cx="505.49" cy="54.11" r="0.77"/><circle cx="505.68" cy="54.14" r="0.72"/><circle cx="505.67" cy="55.35" r="0.66"/><circle cx="506.78" cy="55.35" r="0.79"/><circle cx="505.29" cy="55.62" r="0.5"/><circle cx="505.71" cy="56.59" r="0.7"/><circle cx="507.36" cy="54.76" r="0.68"/><circle cx="505.83" cy="56.47" r="0.71"/><circle cx="505" cy="55.39" r="0.61"/><circle cx="506.72" cy="55.34" r="0.59"/><circle cx="506.07" cy="57.72" r="0.77"/><circle cx="506.79" cy="57.52" r="0.73"/><circle cx="506.26" cy="56.54" r="0.67"/><circle cx="506.88" cy="54.19" r="0.72"/><circle cx="505.35" cy="56.72" r="0.66"/><circle cx="506.88" cy="55.32" r="0.58"/><circle cx="505.04" cy="54.67" r="0.56"/><circle cx="506.7" cy="56.14" r="0.67"/><circle cx="505.69" cy="55.43" r="0.56"/><circle cx="505.2" cy="55.01" r="0.71"/><circle cx="506.15" cy="55.46" r="0.65"/><circle cx="506.94" cy="54.14" r="0.6"/><circle cx="506.91" cy="54.57" r="0.78"/></g><g fill="#e0c038" opacity="0.9"><circle cx="497.78" cy="30.82" r="0.84"/><circle cx="496.68" cy="28.63" r="0.58"/><circle cx="497.94" cy="29.21" r="0.56"/><circle cx="496.87" cy="27.9" r="0.8"/><circle cx="497.3" cy="25.98" r="0.82"/><circle cx="496.93" cy="25.88" r="0.88"/><circle cx="495.7" cy="26.55" r="0.54"/><circle cx="498.03" cy="28.93" r="0.58"/><circle cx="496.26" cy="29.85" r="0.77"/><circle cx="497.47" cy="27.69" r="0.66"/><circle cx="495.97" cy="28.04" r="0.55"/><circle cx="496.2" cy="27.52" r="0.77"/><circle cx="494.95" cy="28.58" r="0.88"/><circle cx="499.54" cy="29.57" r="0.79"/><circle cx="497.25" cy="29.42" r="0.69"/><circle cx="496.14" cy="30.41" r="0.87"/><circle cx="496.47" cy="29.52" r="0.7"/><circle cx="496.74" cy="26.15" r="0.73"/><circle cx="497.07" cy="30.06" r="0.84"/><circle cx="496.92" cy="28.42" r="0.67"/><circle cx="497.66" cy="30.78" r="0.53"/><circle cx="497.39" cy="29.36" r="0.69"/><circle cx="499.4" cy="28.3" r="0.65"/><circle cx="498.22" cy="28.16" r="0.64"/><circle cx="497.57" cy="28.31" r="0.81"/><circle cx="497.29" cy="28.77" r="0.6"/><circle cx="495.95" cy="28.95" r="0.71"/><circle cx="498.65" cy="28.93" r="0.89"/><circle cx="495.83" cy="29.18" r="0.53"/><circle cx="497.04" cy="31.19" r="0.77"/><circle cx="496.9" cy="28.47" r="0.66"/><circle cx="497.8" cy="26.68" r="0.74"/><circle cx="499.21" cy="27.21" r="0.75"/><circle cx="497.89" cy="28.6" r="0.81"/></g><circle cx="493.2" cy="25.5" r="1.3" fill="#9070b0"/><circle cx="498.5" cy="27.5" r="0.9" fill="#333"/><circle cx="496.5" cy="29.8" r="0.6" fill="#333"/><g fill="#e0b030" opacity="0.9"><circle cx="494.9" cy="80.51" r="0.83"/><circle cx="498.23" cy="78.52" r="0.9"/><circle cx="496.99" cy="76.94" r="0.56"/><circle cx="497.21" cy="77.71" r="0.89"/><circle cx="498.06" cy="79.26" r="0.67"/><circle cx="496.68" cy="81" r="0.61"/><circle cx="496.46" cy="78.54" r="0.57"/><circle cx="496.24" cy="79.48" r="0.65"/><circle cx="498.78" cy="77.89" r="0.58"/><circle cx="499.16" cy="79.56" r="0.88"/><circle cx="496.15" cy="78.76" r="0.59"/><circle cx="499.02" cy="78.14" r="0.51"/><circle cx="497.55" cy="80.8" r="0.61"/><circle cx="496.94" cy="77.77" r="0.81"/><circle cx="497.94" cy="80.77" r="0.89"/><circle cx="496.68" cy="78.58" r="0.54"/><circle cx="495.95" cy="78.1" r="0.65"/><circle cx="495.01" cy="79.57" r="0.89"/><circle cx="497.01" cy="81.18" r="0.61"/><circle cx="494.85" cy="78.7" r="0.55"/><circle cx="494.81" cy="79.55" r="0.5"/><circle cx="497.11" cy="77.7" r="0.7"/><circle cx="495.19" cy="77.88" r="0.52"/><circle cx="496.41" cy="79.3" r="0.65"/><circle cx="496.69" cy="79.6" r="0.62"/><circle cx="494.98" cy="79.92" r="0.87"/><circle cx="495.65" cy="80.62" r="0.79"/><circle cx="499.15" cy="78.36" r="0.9"/><circle cx="496.57" cy="80.27" r="0.87"/><circle cx="498.38" cy="80.08" r="0.79"/></g><circle cx="491.5" cy="77.2" r="1.2" fill="#9070b0"/><circle cx="496" cy="80" r="0.9" fill="#333"/><path d="M452.5,53.8 l2.2,0.4 M453.5,55.5 l1.5,-0.5 M481.5,60.3 l2.5,-0.5 M482.5,59 l0.5,1.5 M487.5,76.8 l1.8,0.2 M489,75.5 l-0.5,1.5" stroke="#555" stroke-width="0.5"/><text x="84.4" y="143.7" font-size="10.15" text-anchor="middle" fill="#222" textLength="41.2" lengthAdjust="spacingAndGlyphs">Cell types</text><text x="197.2" y="144.2" font-size="10.15" text-anchor="middle" fill="#222" textLength="59.5" lengthAdjust="spacingAndGlyphs">Disease stage</text><rect x="32.6" y="149" width="103.6" height="103.4" fill="#fff" stroke="#333" stroke-width="1.2"/><rect x="145.6" y="149" width="103.4" height="103.4" fill="#fff" stroke="#333" stroke-width="1.2"/><path d="M23.2,261.1 L23.2,219.5 M23.2,261.1 L64.5,261.1" fill="none" stroke="#222" stroke-width="0.9"/><path d="M21.1,220.5 L23.2,215.8 L25.3,220.5 Z M64,259 L68.6,261.1 L64,263.2 Z" fill="#222"/><text x="0" y="0" font-size="10.2" fill="#222" stroke="#222" stroke-width="0.3" textLength="22" lengthAdjust="spacingAndGlyphs" transform="translate(69.3,264.4)">UMAP1</text><text x="0" y="0" font-size="10.2" fill="#222" stroke="#222" stroke-width="0.3" textLength="22.3" lengthAdjust="spacingAndGlyphs" transform="translate(28.1,212.2) rotate(-90)">UMAP2</text><polygon points="36.8,181 40,177.5 44,174 48.5,172 52.5,170.5 56,169.3 59.5,170.5 62,173 63.5,177.5 62.5,183 60.5,189 56.5,192.5 51,194.6 45.5,193.8 41,190.5 37.8,185" fill="#f2b060" opacity="0.7"/><polygon points="118.5,177.7 120,172 121.5,166 123.5,162.7 127,163 130,166.5 131.4,171.5 130,176.5 125.8,180 121.5,180.2" fill="#58b0e4" opacity="1"/><polygon points="96.5,214.5 99,209.5 102.5,205.5 106.5,201.5 110.5,200.2 111.2,203 108.5,208.5 104,212.5 100.5,216 97.5,216.8" fill="#70d0a8" opacity="1"/><polygon points="52,153.5 54.5,152.5 57.5,153.5 58.8,156.5 58,160 56.3,163 54.8,163.5 53.8,160 52.5,157" fill="#e8d878" opacity="0.8"/><polygon points="47,194.6 53,194 57.5,191.5 60.8,187.5 62.5,182.5 63.3,177.5 60.8,181.5 58,186.5 53.5,190.5 47,192.2" fill="#f8b0a8" opacity="0.8"/><g fill="#f0a848" opacity="1"><circle cx="48.88" cy="183.46" r="0.8"/><circle cx="61.48" cy="181.08" r="0.8"/><circle cx="50.36" cy="184.16" r="0.8"/><circle cx="41.73" cy="182.25" r="0.8"/><circle cx="53.62" cy="189.36" r="0.8"/><circle cx="55.31" cy="170.36" r="0.8"/><circle cx="54.26" cy="184.87" r="0.8"/><circle cx="37.6" cy="181.04" r="0.8"/><circle cx="48.56" cy="190.61" r="0.8"/><circle cx="50.66" cy="185.5" r="0.8"/><circle cx="50.14" cy="186.06" r="0.8"/><circle cx="49.01" cy="176.34" r="0.8"/><circle cx="59.23" cy="187.21" r="0.8"/><circle cx="45.22" cy="175.11" r="0.8"/><circle cx="57.26" cy="179.43" r="0.8"/><circle cx="59.4" cy="179.08" r="0.8"/><circle cx="61.1" cy="181.19" r="0.8"/><circle cx="62.98" cy="179.35" r="0.8"/><circle cx="38.75" cy="185.23" r="0.8"/><circle cx="57.59" cy="176.13" r="0.8"/><circle cx="58.08" cy="173.8" r="0.8"/><circle cx="51.73" cy="180.62" r="0.8"/><circle cx="41.89" cy="187.82" r="0.8"/><circle cx="40.3" cy="185.59" r="0.8"/><circle cx="39.91" cy="179.95" r="0.8"/><circle cx="42.48" cy="176.13" r="0.8"/><circle cx="44.92" cy="191.69" r="0.8"/><circle cx="42.43" cy="179.28" r="0.8"/><circle cx="59.61" cy="185.54" r="0.8"/><circle cx="42.49" cy="175.83" r="0.8"/><circle cx="57.43" cy="177.62" r="0.8"/><circle cx="39.21" cy="184.04" r="0.8"/><circle cx="43.29" cy="184.51" r="0.8"/><circle cx="46.72" cy="180.77" r="0.8"/><circle cx="62.41" cy="181.54" r="0.8"/><circle cx="52.14" cy="191.22" r="0.8"/><circle cx="60.35" cy="184.57" r="0.8"/><circle cx="43.17" cy="187.13" r="0.8"/><circle cx="43.66" cy="190.14" r="0.8"/><circle cx="52.73" cy="176.72" r="0.8"/><circle cx="41.48" cy="187.52" r="0.8"/><circle cx="51.74" cy="190.87" r="0.8"/><circle cx="53.2" cy="176.39" r="0.8"/><circle cx="61.29" cy="174.46" r="0.8"/><circle cx="41.51" cy="178.63" r="0.8"/><circle cx="52.08" cy="172.63" r="0.8"/><circle cx="46.47" cy="191.84" r="0.8"/><circle cx="55.26" cy="184.09" r="0.8"/><circle cx="49.68" cy="187.78" r="0.8"/><circle cx="38.81" cy="183.12" r="0.8"/><circle cx="56.48" cy="192.07" r="0.8"/><circle cx="56.48" cy="187.1" r="0.8"/><circle cx="46.19" cy="186.63" r="0.8"/><circle cx="47.94" cy="189.3" r="0.8"/><circle cx="59.85" cy="183.79" r="0.8"/><circle cx="53.49" cy="178.97" r="0.8"/><circle cx="52.36" cy="184.7" r="0.8"/><circle cx="38.94" cy="185.48" r="0.8"/><circle cx="56.24" cy="179.13" r="0.8"/><circle cx="56.43" cy="184" r="0.8"/><circle cx="48.56" cy="190.51" r="0.8"/><circle cx="49.64" cy="175.12" r="0.8"/><circle cx="55.45" cy="181.88" r="0.8"/><circle cx="53.21" cy="192.59" r="0.8"/><circle cx="44.84" cy="186.46" r="0.8"/><circle cx="60.98" cy="186" r="0.8"/><circle cx="48.6" cy="191.86" r="0.8"/><circle cx="45.53" cy="186.15" r="0.8"/><circle cx="42.1" cy="180.2" r="0.8"/><circle cx="60.3" cy="179.03" r="0.8"/><circle cx="52.37" cy="177.31" r="0.8"/><circle cx="40.44" cy="181.86" r="0.8"/><circle cx="48.83" cy="176.26" r="0.8"/><circle cx="42.52" cy="179.77" r="0.8"/><circle cx="53.51" cy="181.8" r="0.8"/><circle cx="45.22" cy="190.53" r="0.8"/><circle cx="55.72" cy="183.74" r="0.8"/><circle cx="45.05" cy="189.33" r="0.8"/><circle cx="58.95" cy="175.31" r="0.8"/><circle cx="53.6" cy="180.6" r="0.8"/><circle cx="53.62" cy="185.87" r="0.8"/><circle cx="55.08" cy="174.34" r="0.8"/><circle cx="49.49" cy="173.82" r="0.8"/><circle cx="37.09" cy="181.25" r="0.8"/><circle cx="55.87" cy="173.83" r="0.8"/><circle cx="44.07" cy="178.05" r="0.8"/><circle cx="55.42" cy="182.47" r="0.8"/><circle cx="53.21" cy="188.43" r="0.8"/><circle cx="47.31" cy="189.34" r="0.8"/><circle cx="40.27" cy="180.77" r="0.8"/><circle cx="53.5" cy="192.32" r="0.8"/><circle cx="46.86" cy="183.69" r="0.8"/><circle cx="62.01" cy="181.03" r="0.8"/><circle cx="54.19" cy="174.48" r="0.8"/><circle cx="56.08" cy="190" r="0.8"/><circle cx="53.93" cy="187.46" r="0.8"/><circle cx="51.14" cy="189.31" r="0.8"/><circle cx="45.35" cy="192.32" r="0.8"/><circle cx="59.65" cy="178.12" r="0.8"/><circle cx="39.01" cy="180.45" r="0.8"/><circle cx="51.49" cy="188.74" r="0.8"/><circle cx="58.4" cy="170.92" r="0.8"/><circle cx="58.16" cy="173.67" r="0.8"/><circle cx="45.74" cy="189.23" r="0.8"/><circle cx="50.59" cy="187.61" r="0.8"/><circle cx="59.23" cy="186.74" r="0.8"/><circle cx="62.05" cy="181.76" r="0.8"/><circle cx="42.71" cy="182.62" r="0.8"/><circle cx="44.55" cy="187.74" r="0.8"/><circle cx="53.86" cy="182.53" r="0.8"/><circle cx="59.32" cy="183.47" r="0.8"/><circle cx="45.12" cy="178.94" r="0.8"/><circle cx="42.36" cy="190.82" r="0.8"/><circle cx="52.1" cy="174.38" r="0.8"/><circle cx="51.11" cy="182.03" r="0.8"/><circle cx="47.5" cy="189.57" r="0.8"/><circle cx="51.83" cy="181.72" r="0.8"/><circle cx="55.25" cy="170.97" r="0.8"/><circle cx="51.18" cy="179.77" r="0.8"/><circle cx="43.99" cy="181.27" r="0.8"/><circle cx="40.19" cy="180.27" r="0.8"/><circle cx="49.52" cy="177.33" r="0.8"/><circle cx="41.91" cy="184.93" r="0.8"/><circle cx="61.5" cy="172.58" r="0.8"/><circle cx="57.61" cy="169.88" r="0.8"/><circle cx="55.14" cy="177.45" r="0.8"/><circle cx="46.29" cy="184.98" r="0.8"/><circle cx="39.6" cy="187.79" r="0.8"/><circle cx="40.08" cy="182.21" r="0.8"/><circle cx="50.96" cy="180.35" r="0.8"/><circle cx="46.83" cy="179.76" r="0.8"/><circle cx="50.93" cy="173.34" r="0.8"/><circle cx="42.25" cy="185.27" r="0.8"/><circle cx="53.85" cy="182.7" r="0.8"/><circle cx="59.53" cy="184.78" r="0.8"/><circle cx="59.68" cy="175.19" r="0.8"/><circle cx="56.58" cy="189.81" r="0.8"/><circle cx="60.9" cy="177.29" r="0.8"/><circle cx="45.21" cy="192.65" r="0.8"/><circle cx="60.5" cy="172.69" r="0.8"/><circle cx="43.19" cy="187.68" r="0.8"/><circle cx="59.02" cy="179.97" r="0.8"/><circle cx="57.89" cy="172.49" r="0.8"/><circle cx="47.55" cy="186.64" r="0.8"/><circle cx="55.02" cy="192.36" r="0.8"/><circle cx="50.3" cy="188.48" r="0.8"/><circle cx="50.22" cy="186.65" r="0.8"/><circle cx="51.53" cy="182.33" r="0.8"/><circle cx="51.99" cy="173.01" r="0.8"/><circle cx="49.14" cy="188.65" r="0.8"/><circle cx="45.53" cy="181.11" r="0.8"/><circle cx="50.56" cy="180.18" r="0.8"/><circle cx="55.52" cy="190.66" r="0.8"/><circle cx="41.64" cy="180.78" r="0.8"/><circle cx="56.54" cy="179.55" r="0.8"/><circle cx="55.61" cy="191.08" r="0.8"/><circle cx="53.6" cy="179.53" r="0.8"/><circle cx="52.81" cy="182.06" r="0.8"/><circle cx="43.7" cy="192.36" r="0.8"/><circle cx="56.68" cy="188.98" r="0.8"/><circle cx="58.55" cy="179.56" r="0.8"/><circle cx="55.35" cy="188.71" r="0.8"/><circle cx="57.23" cy="179.57" r="0.8"/><circle cx="56.09" cy="171.08" r="0.8"/><circle cx="45.92" cy="181.16" r="0.8"/><circle cx="53.85" cy="185.09" r="0.8"/><circle cx="54.58" cy="177.85" r="0.8"/><circle cx="54.42" cy="183.71" r="0.8"/><circle cx="51.03" cy="179.16" r="0.8"/><circle cx="55.52" cy="188.57" r="0.8"/><circle cx="53.23" cy="187.99" r="0.8"/><circle cx="43.65" cy="179.46" r="0.8"/><circle cx="43.5" cy="192.21" r="0.8"/><circle cx="51.49" cy="182.15" r="0.8"/><circle cx="58.41" cy="171.23" r="0.8"/><circle cx="52.75" cy="188.51" r="0.8"/><circle cx="41.07" cy="181.24" r="0.8"/><circle cx="41.32" cy="181.84" r="0.8"/><circle cx="53.12" cy="170.78" r="0.8"/><circle cx="62.04" cy="179.94" r="0.8"/><circle cx="50.86" cy="184.43" r="0.8"/><circle cx="46.56" cy="176.53" r="0.8"/><circle cx="54.29" cy="183.48" r="0.8"/><circle cx="44.37" cy="187.43" r="0.8"/><circle cx="40.98" cy="188.39" r="0.8"/><circle cx="47.21" cy="192.01" r="0.8"/><circle cx="56.78" cy="170.57" r="0.8"/><circle cx="48.27" cy="181.38" r="0.8"/><circle cx="62.78" cy="175.47" r="0.8"/><circle cx="50.77" cy="193.01" r="0.8"/><circle cx="56.1" cy="181.15" r="0.8"/><circle cx="52.92" cy="172.21" r="0.8"/><circle cx="53.47" cy="180.83" r="0.8"/><circle cx="50.9" cy="172.45" r="0.8"/><circle cx="48.62" cy="186.2" r="0.8"/><circle cx="48.96" cy="175.93" r="0.8"/><circle cx="52.35" cy="179.91" r="0.8"/><circle cx="57.57" cy="182.73" r="0.8"/><circle cx="56.41" cy="175.33" r="0.8"/><circle cx="57.74" cy="185.11" r="0.8"/><circle cx="46.39" cy="176.17" r="0.8"/><circle cx="55.09" cy="183.59" r="0.8"/><circle cx="52.6" cy="185.32" r="0.8"/><circle cx="56.91" cy="174.1" r="0.8"/><circle cx="44.03" cy="180.06" r="0.8"/><circle cx="53.44" cy="171.89" r="0.8"/><circle cx="51.26" cy="171.13" r="0.8"/><circle cx="39.11" cy="186.41" r="0.8"/><circle cx="51.5" cy="185.27" r="0.8"/><circle cx="46.76" cy="181.41" r="0.8"/><circle cx="42.42" cy="178" r="0.8"/><circle cx="56.69" cy="190.52" r="0.8"/><circle cx="58.41" cy="185.08" r="0.8"/><circle cx="57.33" cy="174.69" r="0.8"/><circle cx="48.13" cy="175.83" r="0.8"/><circle cx="58.42" cy="178.63" r="0.8"/><circle cx="45.49" cy="183.18" r="0.8"/><circle cx="48.22" cy="178.64" r="0.8"/><circle cx="51.86" cy="181.57" r="0.8"/><circle cx="55.1" cy="176.86" r="0.8"/><circle cx="57.51" cy="171.22" r="0.8"/><circle cx="42.49" cy="186.05" r="0.8"/><circle cx="56.16" cy="186.86" r="0.8"/><circle cx="46.35" cy="187.67" r="0.8"/><circle cx="55.74" cy="183.7" r="0.8"/><circle cx="61.19" cy="180.38" r="0.8"/><circle cx="58.24" cy="177.01" r="0.8"/><circle cx="45.28" cy="179.41" r="0.8"/><circle cx="43.43" cy="178.45" r="0.8"/><circle cx="46.56" cy="178.49" r="0.8"/><circle cx="47.36" cy="179.11" r="0.8"/><circle cx="42.01" cy="183.56" r="0.8"/><circle cx="58.08" cy="182.98" r="0.8"/><circle cx="59.13" cy="183.54" r="0.8"/><circle cx="41.52" cy="188.5" r="0.8"/><circle cx="60.32" cy="176.42" r="0.8"/><circle cx="37.39" cy="182.35" r="0.8"/><circle cx="51.33" cy="183.66" r="0.8"/><circle cx="58.28" cy="170.92" r="0.8"/><circle cx="51.4" cy="189.24" r="0.8"/><circle cx="56.48" cy="192.05" r="0.8"/><circle cx="39.06" cy="185.34" r="0.8"/><circle cx="40.64" cy="188.17" r="0.8"/><circle cx="54.13" cy="175.51" r="0.8"/><circle cx="42.69" cy="188.66" r="0.8"/><circle cx="50.73" cy="188.65" r="0.8"/><circle cx="47.33" cy="177.85" r="0.8"/><circle cx="49.98" cy="182.89" r="0.8"/><circle cx="56.05" cy="187.22" r="0.8"/><circle cx="61.23" cy="179.69" r="0.8"/><circle cx="58.86" cy="186.17" r="0.8"/><circle cx="59.59" cy="189.69" r="0.8"/><circle cx="50.79" cy="187.27" r="0.8"/><circle cx="58.22" cy="179.97" r="0.8"/><circle cx="48.03" cy="173" r="0.8"/><circle cx="46.83" cy="173.54" r="0.8"/><circle cx="42.26" cy="180.05" r="0.8"/><circle cx="39.87" cy="185.69" r="0.8"/><circle cx="57.52" cy="173.84" r="0.8"/><circle cx="38.46" cy="180.91" r="0.8"/><circle cx="52.39" cy="192.31" r="0.8"/><circle cx="43.09" cy="187.45" r="0.8"/><circle cx="52.68" cy="174.97" r="0.8"/><circle cx="41.74" cy="176.41" r="0.8"/><circle cx="41.41" cy="188.46" r="0.8"/><circle cx="45.12" cy="183.17" r="0.8"/><circle cx="58.62" cy="181.43" r="0.8"/><circle cx="43.75" cy="191.75" r="0.8"/><circle cx="61.21" cy="177.95" r="0.8"/><circle cx="51.41" cy="193.51" r="0.8"/><circle cx="49.69" cy="174.89" r="0.8"/><circle cx="58.2" cy="179.04" r="0.8"/><circle cx="50.89" cy="182.35" r="0.8"/><circle cx="54.36" cy="175.31" r="0.8"/><circle cx="37.09" cy="181.26" r="0.8"/><circle cx="46.72" cy="189.46" r="0.8"/><circle cx="55.84" cy="184.63" r="0.8"/><circle cx="45.39" cy="175.86" r="0.8"/><circle cx="60.01" cy="182.36" r="0.8"/><circle cx="43.92" cy="182.82" r="0.8"/><circle cx="40.82" cy="188.79" r="0.8"/><circle cx="55.93" cy="171.76" r="0.8"/><circle cx="49.62" cy="181.16" r="0.8"/><circle cx="59.69" cy="176.98" r="0.8"/><circle cx="57.87" cy="179.85" r="0.8"/><circle cx="58.86" cy="174.57" r="0.8"/><circle cx="51.31" cy="182.6" r="0.8"/><circle cx="41.01" cy="190.35" r="0.8"/><circle cx="45.11" cy="177.16" r="0.8"/><circle cx="49.27" cy="187.39" r="0.8"/><circle cx="46.4" cy="186.68" r="0.8"/><circle cx="39.62" cy="179.27" r="0.8"/><circle cx="49.13" cy="193.76" r="0.8"/><circle cx="58.95" cy="185.84" r="0.8"/><circle cx="55.76" cy="175.31" r="0.8"/><circle cx="51.86" cy="180.89" r="0.8"/><circle cx="58.15" cy="174.53" r="0.8"/><circle cx="53.25" cy="176.65" r="0.8"/><circle cx="46.84" cy="182.96" r="0.8"/><circle cx="44.76" cy="177.84" r="0.8"/><circle cx="47.27" cy="186.17" r="0.8"/><circle cx="43.65" cy="174.36" r="0.8"/><circle cx="56.33" cy="177.63" r="0.8"/><circle cx="62.03" cy="183.54" r="0.8"/><circle cx="56.13" cy="177.69" r="0.8"/><circle cx="58.88" cy="171.63" r="0.8"/><circle cx="54.89" cy="187.22" r="0.8"/><circle cx="41.6" cy="179.48" r="0.8"/><circle cx="59.15" cy="184.3" r="0.8"/><circle cx="61.38" cy="180.1" r="0.8"/><circle cx="50.46" cy="185.68" r="0.8"/><circle cx="57.28" cy="190.07" r="0.8"/><circle cx="47.1" cy="177.68" r="0.8"/><circle cx="47.5" cy="187.01" r="0.8"/><circle cx="54.43" cy="184.7" r="0.8"/><circle cx="45.94" cy="185.76" r="0.8"/><circle cx="39.64" cy="178.85" r="0.8"/><circle cx="50.4" cy="189.25" r="0.8"/><circle cx="58.83" cy="184.77" r="0.8"/><circle cx="41.03" cy="188.69" r="0.8"/><circle cx="60.91" cy="183.17" r="0.8"/><circle cx="46.21" cy="181.96" r="0.8"/><circle cx="40.58" cy="187.35" r="0.8"/><circle cx="55.9" cy="190.44" r="0.8"/><circle cx="53.54" cy="174.31" r="0.8"/><circle cx="52.19" cy="186.94" r="0.8"/><circle cx="45.59" cy="192.81" r="0.8"/><circle cx="46.44" cy="181.01" r="0.8"/><circle cx="51.31" cy="183.49" r="0.8"/><circle cx="51.76" cy="175.99" r="0.8"/></g><g fill="#f49a90" opacity="1"><circle cx="60.33" cy="187.79" r="0.8"/><circle cx="51.7" cy="192.84" r="0.8"/><circle cx="57.94" cy="190.11" r="0.8"/><circle cx="57.17" cy="189.29" r="0.8"/><circle cx="54.05" cy="192.96" r="0.8"/><circle cx="58.93" cy="187.72" r="0.8"/><circle cx="53.87" cy="191.27" r="0.8"/><circle cx="47.51" cy="192.86" r="0.8"/><circle cx="51.81" cy="193.28" r="0.8"/><circle cx="61.62" cy="180.84" r="0.8"/><circle cx="60.66" cy="183.56" r="0.8"/><circle cx="50.12" cy="192.55" r="0.8"/><circle cx="57.83" cy="191.02" r="0.8"/><circle cx="48.47" cy="194.31" r="0.8"/><circle cx="51.09" cy="191.24" r="0.8"/><circle cx="50.04" cy="192.84" r="0.8"/><circle cx="63.1" cy="178.07" r="0.8"/><circle cx="54.52" cy="190.34" r="0.8"/><circle cx="53.27" cy="193.39" r="0.8"/><circle cx="56.06" cy="188.53" r="0.8"/><circle cx="59.76" cy="186.34" r="0.8"/><circle cx="55.24" cy="191.96" r="0.8"/><circle cx="58.15" cy="186.4" r="0.8"/><circle cx="62.51" cy="180.47" r="0.8"/><circle cx="54.18" cy="190.72" r="0.8"/><circle cx="56.73" cy="189.72" r="0.8"/><circle cx="51.29" cy="191.15" r="0.8"/><circle cx="48.18" cy="193.01" r="0.8"/><circle cx="54.98" cy="190.52" r="0.8"/><circle cx="54.42" cy="190.24" r="0.8"/><circle cx="47.56" cy="194.53" r="0.8"/><circle cx="61.45" cy="185.41" r="0.8"/><circle cx="53.4" cy="191.92" r="0.8"/><circle cx="53.21" cy="190.86" r="0.8"/><circle cx="53.41" cy="193.29" r="0.8"/><circle cx="48.36" cy="192.59" r="0.8"/><circle cx="58.83" cy="188.89" r="0.8"/><circle cx="61.12" cy="181.37" r="0.8"/><circle cx="56.22" cy="191.33" r="0.8"/><circle cx="61.15" cy="181.51" r="0.8"/><circle cx="58.43" cy="186.96" r="0.8"/><circle cx="57.23" cy="188.12" r="0.8"/><circle cx="51.5" cy="191.69" r="0.8"/><circle cx="61.34" cy="184.03" r="0.8"/><circle cx="56.14" cy="191.71" r="0.8"/><circle cx="52.65" cy="192.66" r="0.8"/><circle cx="58.33" cy="189.24" r="0.8"/><circle cx="59.21" cy="186.63" r="0.8"/><circle cx="59.59" cy="185.72" r="0.8"/><circle cx="49.65" cy="192.31" r="0.8"/><circle cx="59.98" cy="184.21" r="0.8"/><circle cx="58.52" cy="188.15" r="0.8"/><circle cx="62.82" cy="179.79" r="0.8"/><circle cx="57.07" cy="190.59" r="0.8"/><circle cx="58.31" cy="186.84" r="0.8"/><circle cx="62.22" cy="181.8" r="0.8"/><circle cx="61.55" cy="182.79" r="0.8"/><circle cx="50.3" cy="192.33" r="0.8"/><circle cx="60.15" cy="184.27" r="0.8"/><circle cx="57.71" cy="188.15" r="0.8"/><circle cx="51.52" cy="193.55" r="0.8"/><circle cx="54.22" cy="191.76" r="0.8"/><circle cx="55.59" cy="191.35" r="0.8"/><circle cx="53.51" cy="191.23" r="0.8"/><circle cx="61.75" cy="183" r="0.8"/><circle cx="59.11" cy="186.84" r="0.8"/><circle cx="50.34" cy="192.56" r="0.8"/><circle cx="48.77" cy="194.39" r="0.8"/><circle cx="48.86" cy="191.82" r="0.8"/><circle cx="62.19" cy="180.1" r="0.8"/><circle cx="53.55" cy="192.33" r="0.8"/><circle cx="60" cy="186.25" r="0.8"/><circle cx="51.09" cy="191.3" r="0.8"/><circle cx="59.83" cy="185.89" r="0.8"/><circle cx="50.94" cy="191.18" r="0.8"/><circle cx="53.33" cy="192.02" r="0.8"/><circle cx="48.17" cy="194.39" r="0.8"/><circle cx="56.83" cy="189.38" r="0.8"/><circle cx="53.92" cy="191.52" r="0.8"/><circle cx="51.64" cy="192.42" r="0.8"/><circle cx="51.67" cy="192.11" r="0.8"/><circle cx="59.12" cy="187.78" r="0.8"/><circle cx="61.59" cy="181.8" r="0.8"/><circle cx="48.62" cy="192.83" r="0.8"/><circle cx="57.94" cy="187.85" r="0.8"/><circle cx="57.15" cy="190.19" r="0.8"/><circle cx="51.13" cy="191.37" r="0.8"/><circle cx="47.26" cy="192.2" r="0.8"/><circle cx="58.97" cy="189.69" r="0.8"/><circle cx="51.9" cy="194.02" r="0.8"/></g><g fill="#c8b848" opacity="1"><circle cx="56.37" cy="161.82" r="0.8"/><circle cx="52.53" cy="155.37" r="0.8"/><circle cx="54.24" cy="157.88" r="0.8"/><circle cx="56.45" cy="162.25" r="0.8"/><circle cx="55.41" cy="162.44" r="0.8"/><circle cx="54.68" cy="155.79" r="0.8"/><circle cx="57.03" cy="155.34" r="0.8"/><circle cx="54.5" cy="157.22" r="0.8"/><circle cx="55.24" cy="156.44" r="0.8"/><circle cx="54.93" cy="157.46" r="0.8"/><circle cx="55.72" cy="156.9" r="0.8"/><circle cx="53.51" cy="153.59" r="0.8"/><circle cx="54.53" cy="155.96" r="0.8"/><circle cx="55.29" cy="155.03" r="0.8"/><circle cx="57.1" cy="157.86" r="0.8"/><circle cx="56.03" cy="163.07" r="0.8"/><circle cx="54.49" cy="159.08" r="0.8"/><circle cx="54.51" cy="155.81" r="0.8"/><circle cx="56.14" cy="158.98" r="0.8"/><circle cx="54.14" cy="157.97" r="0.8"/><circle cx="55.51" cy="160.79" r="0.8"/><circle cx="52.36" cy="153.52" r="0.8"/><circle cx="53.71" cy="155.47" r="0.8"/><circle cx="57.41" cy="157.18" r="0.8"/><circle cx="57.85" cy="156.93" r="0.8"/><circle cx="53.94" cy="159.98" r="0.8"/><circle cx="57.65" cy="156.11" r="0.8"/><circle cx="57.36" cy="159.56" r="0.8"/><circle cx="55.75" cy="162.7" r="0.8"/><circle cx="57.01" cy="157.1" r="0.8"/><circle cx="57.31" cy="157.35" r="0.8"/><circle cx="57.11" cy="156.66" r="0.8"/><circle cx="55.04" cy="157.31" r="0.8"/><circle cx="52.8" cy="156.02" r="0.8"/><circle cx="56.53" cy="158.53" r="0.8"/><circle cx="52.77" cy="153.8" r="0.8"/><circle cx="55.81" cy="162.64" r="0.8"/><circle cx="53.44" cy="157.06" r="0.8"/><circle cx="55.65" cy="161.73" r="0.8"/><circle cx="55.21" cy="152.85" r="0.8"/><circle cx="54.94" cy="156.65" r="0.8"/><circle cx="55.36" cy="160.09" r="0.8"/><circle cx="54.64" cy="161.06" r="0.8"/><circle cx="53.37" cy="156.31" r="0.8"/><circle cx="53.11" cy="156.35" r="0.8"/><circle cx="56.02" cy="158.22" r="0.8"/><circle cx="54.64" cy="158.82" r="0.8"/><circle cx="57.73" cy="156.44" r="0.8"/><circle cx="55.97" cy="157.79" r="0.8"/><circle cx="56.74" cy="155.07" r="0.8"/><circle cx="55.91" cy="155.33" r="0.8"/><circle cx="54.57" cy="160.38" r="0.8"/><circle cx="54.94" cy="159.29" r="0.8"/><circle cx="58.19" cy="157.51" r="0.8"/><circle cx="55.31" cy="155.04" r="0.8"/><circle cx="57.12" cy="153.63" r="0.8"/><circle cx="55.86" cy="158.57" r="0.8"/><circle cx="54.26" cy="154.17" r="0.8"/><circle cx="57.48" cy="153.57" r="0.8"/><circle cx="57.33" cy="154.9" r="0.8"/><circle cx="56.16" cy="165.36" r="0.8"/><circle cx="55.59" cy="164.6" r="0.8"/><circle cx="56.08" cy="170.47" r="0.8"/><circle cx="55.49" cy="171.86" r="0.8"/><circle cx="55.98" cy="169.78" r="0.8"/><circle cx="53.89" cy="169.88" r="0.8"/><circle cx="54.69" cy="166.07" r="0.8"/><circle cx="56.07" cy="165.94" r="0.8"/><circle cx="54.59" cy="165.69" r="0.8"/><circle cx="55.23" cy="165.77" r="0.8"/><circle cx="55.3" cy="166.14" r="0.8"/><circle cx="54.84" cy="167.84" r="0.8"/><circle cx="55.41" cy="165.96" r="0.8"/><circle cx="54.67" cy="168.05" r="0.8"/><circle cx="54.25" cy="171.31" r="0.8"/><circle cx="53.9" cy="171.11" r="0.8"/><circle cx="56.01" cy="169.06" r="0.8"/><circle cx="55.39" cy="168.33" r="0.8"/><circle cx="54.13" cy="169.37" r="0.8"/><circle cx="55.82" cy="165.88" r="0.8"/><circle cx="54.94" cy="163.95" r="0.8"/><circle cx="55.17" cy="170.6" r="0.8"/></g><g fill="#a8b848" opacity="1"><circle cx="62.84" cy="177.67" r="0.8"/><circle cx="64.79" cy="178.04" r="0.8"/><circle cx="65.52" cy="177.21" r="0.8"/><circle cx="63.32" cy="178.04" r="0.8"/><circle cx="62.91" cy="178.33" r="0.8"/><circle cx="65.57" cy="177.75" r="0.8"/><circle cx="64.59" cy="178.86" r="0.8"/><circle cx="62.43" cy="178.61" r="0.8"/><circle cx="64.26" cy="179.02" r="0.8"/><circle cx="63.28" cy="179.05" r="0.8"/><circle cx="65.38" cy="178.51" r="0.8"/><circle cx="62.29" cy="178.44" r="0.8"/><circle cx="61.98" cy="176.96" r="0.8"/><circle cx="64.54" cy="177.34" r="0.8"/></g><g fill="#48a8e0" opacity="1"><circle cx="129.53" cy="176.43" r="0.8"/><circle cx="125.22" cy="164.05" r="0.8"/><circle cx="125.3" cy="165.93" r="0.8"/><circle cx="125.29" cy="168.9" r="0.8"/><circle cx="124.94" cy="166.16" r="0.8"/><circle cx="127.6" cy="170" r="0.8"/><circle cx="124.77" cy="164.08" r="0.8"/><circle cx="124.78" cy="172.46" r="0.8"/><circle cx="131.05" cy="172.53" r="0.8"/><circle cx="122.83" cy="174.99" r="0.8"/><circle cx="126.12" cy="174.7" r="0.8"/><circle cx="126.4" cy="173.43" r="0.8"/><circle cx="125.2" cy="179.49" r="0.8"/><circle cx="129.2" cy="174.75" r="0.8"/><circle cx="125.2" cy="172.85" r="0.8"/><circle cx="128.27" cy="176.84" r="0.8"/><circle cx="129.25" cy="169.83" r="0.8"/><circle cx="122.83" cy="168.77" r="0.8"/><circle cx="121.88" cy="172.95" r="0.8"/><circle cx="125.29" cy="168.57" r="0.8"/><circle cx="127.21" cy="170.66" r="0.8"/><circle cx="121.52" cy="178.13" r="0.8"/><circle cx="121.77" cy="171.08" r="0.8"/><circle cx="128.61" cy="168.53" r="0.8"/><circle cx="121.57" cy="174.15" r="0.8"/><circle cx="121.86" cy="171.85" r="0.8"/><circle cx="121.79" cy="178.05" r="0.8"/><circle cx="122.39" cy="168.47" r="0.8"/><circle cx="127.87" cy="174.5" r="0.8"/><circle cx="128.7" cy="172.15" r="0.8"/><circle cx="119.51" cy="176.06" r="0.8"/><circle cx="121.65" cy="166.51" r="0.8"/><circle cx="123.85" cy="180.02" r="0.8"/><circle cx="123.28" cy="168.94" r="0.8"/><circle cx="123.49" cy="165.07" r="0.8"/><circle cx="128.69" cy="176.39" r="0.8"/><circle cx="122.86" cy="176.53" r="0.8"/><circle cx="123.4" cy="167.72" r="0.8"/><circle cx="126.15" cy="175.68" r="0.8"/><circle cx="124.64" cy="177.02" r="0.8"/><circle cx="123.41" cy="163.84" r="0.8"/><circle cx="121.15" cy="178.07" r="0.8"/><circle cx="122.91" cy="178.99" r="0.8"/><circle cx="120.33" cy="175.2" r="0.8"/><circle cx="120.25" cy="174.57" r="0.8"/><circle cx="129.88" cy="175.41" r="0.8"/><circle cx="130.75" cy="170.64" r="0.8"/><circle cx="123.3" cy="164.8" r="0.8"/><circle cx="122.02" cy="179.13" r="0.8"/><circle cx="122.98" cy="163.56" r="0.8"/><circle cx="122.46" cy="165.9" r="0.8"/><circle cx="120.08" cy="171.92" r="0.8"/><circle cx="125.47" cy="172.63" r="0.8"/><circle cx="128.33" cy="171.92" r="0.8"/><circle cx="122.49" cy="176.01" r="0.8"/><circle cx="130.42" cy="171.52" r="0.8"/><circle cx="125.83" cy="167.85" r="0.8"/><circle cx="124.43" cy="173.25" r="0.8"/><circle cx="129.41" cy="170.84" r="0.8"/><circle cx="120.96" cy="179.22" r="0.8"/><circle cx="128.34" cy="169.71" r="0.8"/><circle cx="120.73" cy="175.59" r="0.8"/><circle cx="121.33" cy="176.69" r="0.8"/><circle cx="124.94" cy="174.12" r="0.8"/><circle cx="124.5" cy="165.89" r="0.8"/><circle cx="126.48" cy="169.16" r="0.8"/><circle cx="124.6" cy="173.62" r="0.8"/><circle cx="122.59" cy="168.94" r="0.8"/><circle cx="129.9" cy="172.87" r="0.8"/><circle cx="123.88" cy="172.15" r="0.8"/><circle cx="124.44" cy="168.52" r="0.8"/><circle cx="125.06" cy="179.93" r="0.8"/><circle cx="122.22" cy="165.69" r="0.8"/><circle cx="127.83" cy="166.81" r="0.8"/><circle cx="126.03" cy="165.46" r="0.8"/><circle cx="119.75" cy="174.73" r="0.8"/><circle cx="122.98" cy="172.49" r="0.8"/><circle cx="124.91" cy="178.84" r="0.8"/><circle cx="125.13" cy="169.33" r="0.8"/><circle cx="121.97" cy="172.75" r="0.8"/><circle cx="126.65" cy="170.79" r="0.8"/><circle cx="124.72" cy="173.92" r="0.8"/><circle cx="124.21" cy="164.18" r="0.8"/><circle cx="128.82" cy="166.8" r="0.8"/><circle cx="129.19" cy="176.66" r="0.8"/><circle cx="121.78" cy="178.5" r="0.8"/><circle cx="125" cy="170.16" r="0.8"/><circle cx="125.66" cy="179.25" r="0.8"/><circle cx="124.82" cy="171.14" r="0.8"/><circle cx="122.25" cy="177.42" r="0.8"/><circle cx="124.99" cy="168.69" r="0.8"/><circle cx="129.26" cy="176.76" r="0.8"/><circle cx="127.34" cy="176.65" r="0.8"/><circle cx="127.68" cy="176.87" r="0.8"/><circle cx="128.84" cy="165.78" r="0.8"/><circle cx="129.01" cy="168.01" r="0.8"/><circle cx="121.65" cy="178.79" r="0.8"/><circle cx="122.93" cy="176.56" r="0.8"/><circle cx="126.38" cy="178.64" r="0.8"/><circle cx="130.53" cy="173.97" r="0.8"/><circle cx="129.74" cy="168.14" r="0.8"/><circle cx="120.9" cy="174.85" r="0.8"/><circle cx="126.54" cy="164.89" r="0.8"/><circle cx="129.69" cy="176.15" r="0.8"/><circle cx="125.84" cy="179.21" r="0.8"/><circle cx="126.74" cy="171.31" r="0.8"/><circle cx="123.46" cy="168.88" r="0.8"/><circle cx="128.76" cy="166.7" r="0.8"/><circle cx="126.93" cy="176.27" r="0.8"/><circle cx="127.46" cy="171.73" r="0.8"/><circle cx="122.58" cy="167.48" r="0.8"/><circle cx="120.92" cy="174.04" r="0.8"/><circle cx="122.76" cy="178.92" r="0.8"/><circle cx="130.26" cy="167.78" r="0.8"/><circle cx="130.78" cy="173.54" r="0.8"/><circle cx="122.8" cy="167.59" r="0.8"/><circle cx="125.24" cy="171.24" r="0.8"/><circle cx="118.96" cy="177.79" r="0.8"/><circle cx="125.41" cy="170.98" r="0.8"/><circle cx="128.11" cy="167.07" r="0.8"/><circle cx="121.07" cy="172.86" r="0.8"/><circle cx="121.61" cy="168.43" r="0.8"/><circle cx="123.08" cy="171.92" r="0.8"/><circle cx="123.85" cy="169.82" r="0.8"/><circle cx="121.54" cy="170.99" r="0.8"/><circle cx="124.09" cy="174.7" r="0.8"/><circle cx="128.34" cy="172.41" r="0.8"/><circle cx="126.77" cy="179.12" r="0.8"/><circle cx="130.14" cy="167.1" r="0.8"/><circle cx="125.31" cy="166.01" r="0.8"/><circle cx="120.44" cy="172.35" r="0.8"/><circle cx="122.02" cy="175.29" r="0.8"/><circle cx="127.88" cy="168.29" r="0.8"/><circle cx="128.39" cy="174.04" r="0.8"/><circle cx="127.61" cy="170.69" r="0.8"/><circle cx="124.08" cy="164.57" r="0.8"/><circle cx="124.63" cy="179.41" r="0.8"/><circle cx="127.46" cy="170.36" r="0.8"/><circle cx="125.89" cy="175.72" r="0.8"/><circle cx="123.7" cy="174.07" r="0.8"/><circle cx="127.29" cy="173.47" r="0.8"/><circle cx="124.61" cy="162.99" r="0.8"/><circle cx="124.54" cy="164.55" r="0.8"/><circle cx="124.78" cy="172.99" r="0.8"/><circle cx="122.57" cy="179.91" r="0.8"/><circle cx="121.35" cy="177.85" r="0.8"/><circle cx="125.06" cy="169.88" r="0.8"/><circle cx="123.64" cy="178.22" r="0.8"/><circle cx="121.82" cy="176.55" r="0.8"/><circle cx="127.63" cy="170.55" r="0.8"/><circle cx="123.22" cy="170.34" r="0.8"/><circle cx="124.34" cy="168.22" r="0.8"/><circle cx="126.55" cy="169.89" r="0.8"/><circle cx="122.42" cy="176.22" r="0.8"/><circle cx="124.37" cy="170.99" r="0.8"/><circle cx="129.85" cy="170.66" r="0.8"/><circle cx="123.35" cy="178.41" r="0.8"/><circle cx="123.68" cy="174.45" r="0.8"/><circle cx="128.06" cy="167.88" r="0.8"/><circle cx="126.96" cy="174.4" r="0.8"/><circle cx="124.11" cy="174.13" r="0.8"/><circle cx="121.42" cy="176.18" r="0.8"/><circle cx="125.46" cy="179.85" r="0.8"/><circle cx="122.91" cy="175.15" r="0.8"/><circle cx="128.39" cy="167.24" r="0.8"/><circle cx="126.41" cy="166.57" r="0.8"/><circle cx="123.64" cy="180.09" r="0.8"/><circle cx="121.04" cy="178.67" r="0.8"/><circle cx="123.55" cy="173.03" r="0.8"/><circle cx="127.69" cy="176.03" r="0.8"/></g><g fill="#40b8cc" opacity="1"><circle cx="110.31" cy="171.61" r="0.8"/><circle cx="110.22" cy="172.04" r="0.8"/><circle cx="108.32" cy="169.61" r="0.8"/><circle cx="106.89" cy="172.8" r="0.8"/><circle cx="110.47" cy="171.47" r="0.8"/><circle cx="112.37" cy="173.51" r="0.8"/><circle cx="107.51" cy="172.15" r="0.8"/><circle cx="109" cy="172.35" r="0.8"/><circle cx="106.75" cy="171.97" r="0.8"/><circle cx="109.48" cy="170.87" r="0.8"/><circle cx="108.25" cy="173.76" r="0.8"/><circle cx="106.86" cy="172.59" r="0.8"/><circle cx="109.3" cy="171.34" r="0.8"/><circle cx="112.09" cy="172.16" r="0.8"/><circle cx="110.03" cy="173.74" r="0.8"/><circle cx="110.55" cy="172.03" r="0.8"/><circle cx="106.7" cy="173.3" r="0.8"/><circle cx="110.95" cy="174.11" r="0.8"/><circle cx="110.8" cy="171.53" r="0.8"/><circle cx="108.71" cy="173.82" r="0.8"/><circle cx="109.88" cy="173.88" r="0.8"/><circle cx="110.18" cy="172.72" r="0.8"/><circle cx="106.98" cy="172.83" r="0.8"/><circle cx="112.47" cy="174.04" r="0.8"/><circle cx="107.97" cy="173.69" r="0.8"/><circle cx="107.17" cy="174.31" r="0.8"/><circle cx="110.84" cy="172.19" r="0.8"/><circle cx="108.84" cy="172.05" r="0.8"/><circle cx="111.14" cy="174.5" r="0.8"/><circle cx="111.37" cy="172.47" r="0.8"/><circle cx="113.62" cy="171.57" r="0.8"/><circle cx="114.84" cy="170.41" r="0.8"/><circle cx="118.08" cy="173.59" r="0.8"/><circle cx="113.84" cy="173.8" r="0.8"/><circle cx="114.93" cy="173.21" r="0.8"/><circle cx="116.65" cy="171.25" r="0.8"/><circle cx="118.87" cy="173.63" r="0.8"/><circle cx="116.11" cy="173.78" r="0.8"/><circle cx="112.77" cy="173.23" r="0.8"/><circle cx="115.15" cy="172.28" r="0.8"/><circle cx="114.68" cy="173.91" r="0.8"/><circle cx="117.37" cy="170.36" r="0.8"/><circle cx="113.51" cy="170.82" r="0.8"/><circle cx="113.12" cy="173.8" r="0.8"/><circle cx="118.02" cy="173.96" r="0.8"/><circle cx="114.72" cy="171.74" r="0.8"/><circle cx="113.62" cy="172.11" r="0.8"/><circle cx="116.97" cy="172.58" r="0.8"/><circle cx="112.22" cy="172.8" r="0.8"/><circle cx="116.42" cy="171.4" r="0.8"/><circle cx="112.38" cy="173.15" r="0.8"/><circle cx="118.81" cy="173.81" r="0.8"/><circle cx="116.13" cy="173.13" r="0.8"/><circle cx="112.8" cy="171.61" r="0.8"/><circle cx="112.21" cy="171.57" r="0.8"/><circle cx="114.1" cy="171.49" r="0.8"/><circle cx="116.76" cy="172.54" r="0.8"/><circle cx="115.54" cy="171.5" r="0.8"/><circle cx="114.3" cy="171.14" r="0.8"/><circle cx="114.63" cy="171.95" r="0.8"/><circle cx="113.81" cy="171.95" r="0.8"/><circle cx="111.87" cy="172.82" r="0.8"/><circle cx="114.39" cy="171.45" r="0.8"/><circle cx="112.93" cy="171.42" r="0.8"/><circle cx="118.3" cy="171.69" r="0.8"/><circle cx="114.11" cy="172.64" r="0.8"/><circle cx="118.2" cy="173.35" r="0.8"/><circle cx="117.06" cy="171.08" r="0.8"/><circle cx="117.18" cy="171.61" r="0.8"/><circle cx="114.73" cy="172.46" r="0.8"/></g><g fill="#40b8a0" opacity="1"><circle cx="112.99" cy="192.02" r="0.8"/><circle cx="111.36" cy="191.76" r="0.8"/><circle cx="107.77" cy="196.56" r="0.8"/><circle cx="118.6" cy="182.19" r="0.8"/><circle cx="113.07" cy="186.36" r="0.8"/><circle cx="110.13" cy="193.39" r="0.8"/><circle cx="114.16" cy="186.65" r="0.8"/><circle cx="106" cy="196.72" r="0.8"/><circle cx="110.12" cy="195.17" r="0.8"/><circle cx="113.92" cy="191.26" r="0.8"/><circle cx="115.02" cy="190.37" r="0.8"/><circle cx="106.19" cy="201.22" r="0.8"/><circle cx="106.41" cy="199.27" r="0.8"/><circle cx="115.58" cy="186.51" r="0.8"/><circle cx="106.88" cy="201.1" r="0.8"/><circle cx="114.75" cy="187.73" r="0.8"/><circle cx="109.92" cy="200.06" r="0.8"/><circle cx="117.8" cy="183.16" r="0.8"/><circle cx="105.1" cy="200.54" r="0.8"/><circle cx="113.4" cy="189.07" r="0.8"/><circle cx="109.33" cy="193.4" r="0.8"/><circle cx="105.58" cy="199.34" r="0.8"/><circle cx="112.75" cy="189.93" r="0.8"/><circle cx="112.08" cy="193.63" r="0.8"/><circle cx="118.06" cy="186.08" r="0.8"/><circle cx="109.32" cy="194.37" r="0.8"/><circle cx="116.71" cy="186.41" r="0.8"/><circle cx="113.77" cy="187.83" r="0.8"/><circle cx="111.1" cy="192.84" r="0.8"/><circle cx="115.76" cy="185.87" r="0.8"/><circle cx="109.89" cy="194.26" r="0.8"/><circle cx="108.27" cy="196.14" r="0.8"/><circle cx="113.09" cy="187.3" r="0.8"/><circle cx="117.47" cy="183.67" r="0.8"/><circle cx="110.34" cy="194" r="0.8"/><circle cx="107.5" cy="194.57" r="0.8"/><circle cx="108.43" cy="196.15" r="0.8"/><circle cx="108.05" cy="197" r="0.8"/><circle cx="116.61" cy="184.2" r="0.8"/><circle cx="116.17" cy="184.55" r="0.8"/><circle cx="111.61" cy="190.24" r="0.8"/><circle cx="115.33" cy="186.69" r="0.8"/><circle cx="107.24" cy="197.32" r="0.8"/><circle cx="109.38" cy="192.75" r="0.8"/><circle cx="105.27" cy="199.02" r="0.8"/><circle cx="113.22" cy="188.76" r="0.8"/><circle cx="107.81" cy="197.57" r="0.8"/><circle cx="114.72" cy="184.2" r="0.8"/><circle cx="111.44" cy="190.74" r="0.8"/><circle cx="115" cy="187.02" r="0.8"/><circle cx="106.72" cy="199.49" r="0.8"/><circle cx="116.36" cy="185.33" r="0.8"/><circle cx="115.83" cy="186.4" r="0.8"/><circle cx="107.78" cy="194.08" r="0.8"/><circle cx="106.35" cy="201" r="0.8"/><circle cx="114.58" cy="189.68" r="0.8"/><circle cx="109.48" cy="195.69" r="0.8"/><circle cx="112.09" cy="191.09" r="0.8"/><circle cx="113.78" cy="189.17" r="0.8"/><circle cx="118.19" cy="182.08" r="0.8"/><circle cx="119.38" cy="184.65" r="0.8"/><circle cx="117.45" cy="185.81" r="0.8"/><circle cx="118.55" cy="185.52" r="0.8"/><circle cx="118.21" cy="185.06" r="0.8"/><circle cx="118.26" cy="185.33" r="0.8"/><circle cx="117.45" cy="184.63" r="0.8"/></g><g fill="#48c088" opacity="1"><circle cx="99.29" cy="212.23" r="0.8"/><circle cx="97.65" cy="214.55" r="0.8"/><circle cx="97.26" cy="213.9" r="0.8"/><circle cx="109.39" cy="206.52" r="0.8"/><circle cx="109.97" cy="200.82" r="0.8"/><circle cx="99.45" cy="210.83" r="0.8"/><circle cx="104.37" cy="206.43" r="0.8"/><circle cx="103.97" cy="206.64" r="0.8"/><circle cx="105.54" cy="203.41" r="0.8"/><circle cx="102.26" cy="209.19" r="0.8"/><circle cx="110.32" cy="202.39" r="0.8"/><circle cx="102.14" cy="211.95" r="0.8"/><circle cx="101.97" cy="211.93" r="0.8"/><circle cx="109.85" cy="200.88" r="0.8"/><circle cx="98.16" cy="216.46" r="0.8"/><circle cx="101.82" cy="210.25" r="0.8"/><circle cx="107.98" cy="201.23" r="0.8"/><circle cx="105.74" cy="204.84" r="0.8"/><circle cx="101.25" cy="210.27" r="0.8"/><circle cx="106.7" cy="203.35" r="0.8"/><circle cx="108.98" cy="203.5" r="0.8"/><circle cx="104.68" cy="205.83" r="0.8"/><circle cx="107.03" cy="204.06" r="0.8"/><circle cx="103.58" cy="212.2" r="0.8"/><circle cx="102.69" cy="205.47" r="0.8"/><circle cx="107.4" cy="207.89" r="0.8"/><circle cx="106.58" cy="202.72" r="0.8"/><circle cx="99.48" cy="210.44" r="0.8"/><circle cx="100.72" cy="213.05" r="0.8"/><circle cx="105.8" cy="207.98" r="0.8"/><circle cx="100.37" cy="210.19" r="0.8"/><circle cx="103.99" cy="208.67" r="0.8"/><circle cx="100.76" cy="207.76" r="0.8"/><circle cx="103.61" cy="206.81" r="0.8"/><circle cx="103.55" cy="206.13" r="0.8"/><circle cx="106.47" cy="202.7" r="0.8"/><circle cx="103.03" cy="205.1" r="0.8"/><circle cx="98.62" cy="213.15" r="0.8"/><circle cx="106.08" cy="208" r="0.8"/><circle cx="105.37" cy="208.01" r="0.8"/><circle cx="100.93" cy="215.42" r="0.8"/><circle cx="99.56" cy="210.88" r="0.8"/><circle cx="97.58" cy="215.53" r="0.8"/><circle cx="101.21" cy="212.22" r="0.8"/><circle cx="100.16" cy="209.36" r="0.8"/><circle cx="101.45" cy="207.18" r="0.8"/><circle cx="105.97" cy="206.25" r="0.8"/><circle cx="98.39" cy="211.86" r="0.8"/><circle cx="105.29" cy="210.38" r="0.8"/><circle cx="102.48" cy="210.96" r="0.8"/><circle cx="102" cy="207.02" r="0.8"/><circle cx="101.88" cy="210.94" r="0.8"/><circle cx="102.18" cy="210.87" r="0.8"/><circle cx="97.98" cy="213.46" r="0.8"/><circle cx="110.04" cy="205.23" r="0.8"/><circle cx="98.59" cy="210.79" r="0.8"/><circle cx="109.61" cy="201.59" r="0.8"/><circle cx="100.24" cy="212.8" r="0.8"/><circle cx="99.82" cy="214.77" r="0.8"/><circle cx="101.69" cy="208.06" r="0.8"/><circle cx="105.3" cy="205.5" r="0.8"/><circle cx="98.35" cy="213.61" r="0.8"/><circle cx="106.34" cy="202.82" r="0.8"/><circle cx="104.29" cy="207.06" r="0.8"/><circle cx="104.08" cy="212.04" r="0.8"/><circle cx="106.63" cy="209.66" r="0.8"/><circle cx="102.95" cy="207.92" r="0.8"/><circle cx="104.8" cy="204.84" r="0.8"/><circle cx="107.95" cy="205.71" r="0.8"/><circle cx="97.87" cy="214.87" r="0.8"/><circle cx="106.3" cy="207.06" r="0.8"/><circle cx="106.43" cy="201.97" r="0.8"/><circle cx="104.33" cy="209.86" r="0.8"/><circle cx="108.78" cy="206.51" r="0.8"/><circle cx="98.83" cy="213.91" r="0.8"/><circle cx="110.86" cy="203.16" r="0.8"/><circle cx="110.28" cy="203.66" r="0.8"/><circle cx="99.9" cy="215.14" r="0.8"/><circle cx="100.04" cy="210.96" r="0.8"/><circle cx="102.92" cy="207.78" r="0.8"/><circle cx="103.38" cy="206.35" r="0.8"/><circle cx="103.19" cy="211.58" r="0.8"/><circle cx="106.96" cy="205.62" r="0.8"/><circle cx="108.83" cy="206.54" r="0.8"/><circle cx="99.89" cy="212.22" r="0.8"/><circle cx="108.12" cy="201.58" r="0.8"/><circle cx="100.95" cy="207.7" r="0.8"/><circle cx="101.72" cy="208.03" r="0.8"/><circle cx="108.17" cy="204.54" r="0.8"/><circle cx="110.29" cy="203.04" r="0.8"/><circle cx="108.33" cy="202.21" r="0.8"/><circle cx="100.95" cy="207.54" r="0.8"/><circle cx="99.5" cy="215.1" r="0.8"/><circle cx="108.55" cy="201.38" r="0.8"/><circle cx="100.11" cy="212.34" r="0.8"/><circle cx="102.56" cy="209.27" r="0.8"/><circle cx="102.38" cy="209.58" r="0.8"/><circle cx="106.41" cy="205.77" r="0.8"/><circle cx="103.72" cy="206.47" r="0.8"/><circle cx="109.42" cy="206.18" r="0.8"/><circle cx="103.02" cy="208.93" r="0.8"/><circle cx="103.75" cy="205.91" r="0.8"/><circle cx="107.54" cy="208.55" r="0.8"/><circle cx="106.41" cy="207.86" r="0.8"/><circle cx="104.34" cy="209.81" r="0.8"/><circle cx="109.11" cy="201.06" r="0.8"/><circle cx="98.62" cy="212.71" r="0.8"/><circle cx="103.69" cy="212.41" r="0.8"/><circle cx="101.01" cy="214.86" r="0.8"/><circle cx="107.93" cy="204.77" r="0.8"/><circle cx="100.52" cy="211.36" r="0.8"/><circle cx="102.53" cy="208.05" r="0.8"/><circle cx="102.9" cy="210.09" r="0.8"/><circle cx="103.26" cy="210.88" r="0.8"/><circle cx="105.41" cy="206" r="0.8"/><circle cx="99.58" cy="212.33" r="0.8"/><circle cx="108.86" cy="200.89" r="0.8"/><circle cx="107.03" cy="208.05" r="0.8"/><circle cx="103.99" cy="204.7" r="0.8"/><circle cx="104.22" cy="211.19" r="0.8"/><circle cx="101.27" cy="210.81" r="0.8"/><circle cx="98.66" cy="216.32" r="0.8"/><circle cx="108.82" cy="200.92" r="0.8"/><circle cx="106.7" cy="206.3" r="0.8"/><circle cx="108.3" cy="207.87" r="0.8"/><circle cx="106.5" cy="209.3" r="0.8"/><circle cx="102.61" cy="211.74" r="0.8"/><circle cx="96.8" cy="214.6" r="0.8"/><circle cx="105.52" cy="206.08" r="0.8"/><circle cx="106.32" cy="210.26" r="0.8"/></g><g fill="#50b050" opacity="1"><circle cx="106.35" cy="217.52" r="0.8"/><circle cx="107.34" cy="217.37" r="0.8"/><circle cx="105.99" cy="216.73" r="0.8"/><circle cx="106.65" cy="216.81" r="0.8"/><circle cx="107.25" cy="217.06" r="0.8"/><circle cx="106.01" cy="215.37" r="0.8"/></g><g fill="#a088c0" opacity="1"><circle cx="76.95" cy="201.13" r="0.8"/><circle cx="76.41" cy="201.42" r="0.8"/><circle cx="77.56" cy="202.16" r="0.8"/><circle cx="75.89" cy="201.15" r="0.8"/><circle cx="77.54" cy="201.87" r="0.8"/><circle cx="76.27" cy="202.65" r="0.8"/><circle cx="76.53" cy="203" r="0.8"/></g><g fill="#9898d0" opacity="1"><circle cx="72.08" cy="230.84" r="0.8"/><circle cx="72.45" cy="231.16" r="0.8"/><circle cx="72.16" cy="231.03" r="0.8"/></g><g fill="#ea70a8" opacity="1"><circle cx="70.31" cy="245.11" r="0.8"/><circle cx="73.44" cy="246.57" r="0.8"/><circle cx="72.56" cy="247.84" r="0.8"/><circle cx="71.05" cy="244.62" r="0.8"/><circle cx="72.17" cy="247.25" r="0.8"/><circle cx="72.06" cy="244.32" r="0.8"/><circle cx="74.5" cy="242.72" r="0.8"/><circle cx="74.62" cy="241.27" r="0.8"/><circle cx="72.67" cy="242.85" r="0.8"/><circle cx="77.56" cy="246.34" r="0.8"/><circle cx="76.36" cy="245.08" r="0.8"/><circle cx="78.1" cy="246.14" r="0.8"/><circle cx="76.85" cy="246.85" r="0.8"/><circle cx="70.66" cy="244.88" r="0.8"/><circle cx="75.56" cy="245.15" r="0.8"/><circle cx="74.36" cy="242.74" r="0.8"/><circle cx="69.73" cy="245.62" r="0.8"/><circle cx="71.73" cy="242.37" r="0.8"/><circle cx="72.18" cy="245.17" r="0.8"/><circle cx="72.36" cy="245.59" r="0.8"/><circle cx="71.66" cy="246.73" r="0.8"/><circle cx="69.94" cy="244.99" r="0.8"/><circle cx="76.53" cy="244.6" r="0.8"/><circle cx="77.59" cy="244.37" r="0.8"/><circle cx="74.52" cy="247.46" r="0.8"/><circle cx="76.12" cy="241.64" r="0.8"/><circle cx="76.57" cy="245.85" r="0.8"/><circle cx="72.46" cy="246.36" r="0.8"/><circle cx="75.08" cy="243.78" r="0.8"/><circle cx="74.52" cy="242.78" r="0.8"/><circle cx="72.02" cy="247.2" r="0.8"/><circle cx="72.67" cy="246.35" r="0.8"/><circle cx="72.85" cy="242.17" r="0.8"/><circle cx="75.18" cy="241.25" r="0.8"/><circle cx="75.43" cy="245.28" r="0.8"/><circle cx="71.45" cy="242.39" r="0.8"/><circle cx="74.18" cy="243.82" r="0.8"/><circle cx="72.86" cy="247.65" r="0.8"/><circle cx="72.29" cy="246.76" r="0.8"/><circle cx="74.59" cy="241.54" r="0.8"/><circle cx="69.31" cy="245.19" r="0.8"/><circle cx="76.37" cy="242.47" r="0.8"/><circle cx="76.21" cy="246.8" r="0.8"/><circle cx="76.64" cy="242.56" r="0.8"/><circle cx="74.68" cy="241.17" r="0.8"/><circle cx="72.87" cy="247.35" r="0.8"/><circle cx="72.71" cy="241.39" r="0.8"/><circle cx="72.74" cy="242.27" r="0.8"/><circle cx="73.55" cy="245.24" r="0.8"/><circle cx="75.91" cy="241.49" r="0.8"/><circle cx="74.61" cy="241.2" r="0.8"/><circle cx="73.64" cy="246.62" r="0.8"/><circle cx="71.76" cy="246.72" r="0.8"/><circle cx="71.56" cy="243.63" r="0.8"/><circle cx="74.82" cy="244.66" r="0.8"/><circle cx="76.29" cy="242.41" r="0.8"/><circle cx="71.09" cy="244.27" r="0.8"/><circle cx="71.95" cy="244.78" r="0.8"/><circle cx="69.94" cy="245.8" r="0.8"/><circle cx="73.37" cy="241.16" r="0.8"/><circle cx="73.09" cy="247.89" r="0.8"/><circle cx="70.79" cy="246.03" r="0.8"/><circle cx="69.88" cy="246.59" r="0.8"/><circle cx="75.36" cy="244.23" r="0.8"/><circle cx="70.2" cy="245.43" r="0.8"/></g><g fill="#c878b8" opacity="1"><circle cx="80.13" cy="246.21" r="0.8"/><circle cx="84.43" cy="246.54" r="0.8"/><circle cx="85.8" cy="246.08" r="0.8"/><circle cx="81.6" cy="245.31" r="0.8"/><circle cx="80.23" cy="245.4" r="0.8"/><circle cx="86.37" cy="245.94" r="0.8"/><circle cx="84.78" cy="246.14" r="0.8"/><circle cx="86.8" cy="245.18" r="0.8"/><circle cx="86.06" cy="246.54" r="0.8"/><circle cx="80.9" cy="244.46" r="0.8"/><circle cx="81.87" cy="246.82" r="0.8"/><circle cx="83" cy="246.16" r="0.8"/><circle cx="87.4" cy="245.81" r="0.8"/><circle cx="86.32" cy="246.67" r="0.8"/><circle cx="87.23" cy="246.05" r="0.8"/><circle cx="86.94" cy="244.48" r="0.8"/><circle cx="81.32" cy="245.44" r="0.8"/><circle cx="84.76" cy="245.66" r="0.8"/><circle cx="87.12" cy="245.57" r="0.8"/><circle cx="83.84" cy="245.77" r="0.8"/><circle cx="79.57" cy="245.25" r="0.8"/><circle cx="82.54" cy="245.78" r="0.8"/></g><g fill="#e08a20" opacity="1"><circle cx="62.05" cy="181.76" r="0.55"/><circle cx="61.29" cy="174.46" r="0.55"/><circle cx="50.9" cy="172.45" r="0.55"/><circle cx="41.52" cy="188.5" r="0.55"/><circle cx="57.52" cy="173.84" r="0.55"/><circle cx="61.19" cy="180.38" r="0.55"/><circle cx="59.61" cy="185.54" r="0.55"/><circle cx="55.45" cy="181.88" r="0.55"/><circle cx="39.62" cy="179.27" r="0.55"/><circle cx="58.83" cy="184.77" r="0.55"/><circle cx="51.5" cy="185.27" r="0.55"/><circle cx="53.51" cy="181.8" r="0.55"/><circle cx="45.59" cy="192.81" r="0.55"/><circle cx="43.29" cy="184.51" r="0.55"/><circle cx="52.37" cy="177.31" r="0.55"/><circle cx="49.64" cy="175.12" r="0.55"/><circle cx="52.39" cy="192.31" r="0.55"/><circle cx="41.48" cy="187.52" r="0.55"/><circle cx="48.22" cy="178.64" r="0.55"/><circle cx="53.49" cy="178.97" r="0.55"/><circle cx="45.94" cy="185.76" r="0.55"/><circle cx="59.85" cy="183.79" r="0.55"/><circle cx="52.73" cy="176.72" r="0.55"/><circle cx="43.17" cy="187.13" r="0.55"/><circle cx="45.28" cy="179.41" r="0.55"/><circle cx="59.69" cy="176.98" r="0.55"/><circle cx="55.08" cy="174.34" r="0.55"/><circle cx="59.02" cy="179.97" r="0.55"/><circle cx="44.76" cy="177.84" r="0.55"/><circle cx="49.13" cy="193.76" r="0.55"/><circle cx="43.92" cy="182.82" r="0.55"/><circle cx="39.91" cy="179.95" r="0.55"/><circle cx="49.01" cy="176.34" r="0.55"/><circle cx="58.16" cy="173.67" r="0.55"/><circle cx="41.32" cy="181.84" r="0.55"/><circle cx="57.51" cy="171.22" r="0.55"/><circle cx="38.81" cy="183.12" r="0.55"/><circle cx="60.3" cy="179.03" r="0.55"/><circle cx="62.41" cy="181.54" r="0.55"/><circle cx="42.25" cy="185.27" r="0.55"/><circle cx="62.03" cy="183.54" r="0.55"/><circle cx="40.3" cy="185.59" r="0.55"/><circle cx="45.12" cy="178.94" r="0.55"/><circle cx="51.31" cy="182.6" r="0.55"/><circle cx="41.07" cy="181.24" r="0.55"/><circle cx="46.76" cy="181.41" r="0.55"/><circle cx="52.68" cy="174.97" r="0.55"/><circle cx="59.23" cy="186.74" r="0.55"/><circle cx="56.48" cy="192.05" r="0.55"/><circle cx="50.59" cy="187.61" r="0.55"/><circle cx="44.55" cy="187.74" r="0.55"/><circle cx="48.56" cy="190.61" r="0.55"/><circle cx="42.42" cy="178" r="0.55"/><circle cx="57.26" cy="179.43" r="0.55"/><circle cx="55.26" cy="184.09" r="0.55"/><circle cx="53.44" cy="171.89" r="0.55"/><circle cx="58.95" cy="175.31" r="0.55"/><circle cx="37.6" cy="181.04" r="0.55"/><circle cx="62.04" cy="179.94" r="0.55"/><circle cx="52.75" cy="188.51" r="0.55"/><circle cx="46.29" cy="184.98" r="0.55"/><circle cx="53.93" cy="187.46" r="0.55"/><circle cx="58.15" cy="174.53" r="0.55"/><circle cx="47.55" cy="186.64" r="0.55"/><circle cx="51.99" cy="173.01" r="0.55"/><circle cx="59.53" cy="184.78" r="0.55"/><circle cx="58.4" cy="170.92" r="0.55"/><circle cx="46.4" cy="186.68" r="0.55"/><circle cx="43.65" cy="174.36" r="0.55"/><circle cx="51.86" cy="180.89" r="0.55"/><circle cx="55.42" cy="182.47" r="0.55"/><circle cx="45.22" cy="175.11" r="0.55"/><circle cx="50.93" cy="173.34" r="0.55"/><circle cx="57.59" cy="176.13" r="0.55"/><circle cx="43.7" cy="192.36" r="0.55"/><circle cx="48.27" cy="181.38" r="0.55"/><circle cx="42.49" cy="175.83" r="0.55"/><circle cx="57.57" cy="182.73" r="0.55"/><circle cx="50.14" cy="186.06" r="0.55"/><circle cx="49.14" cy="188.65" r="0.55"/><circle cx="53.6" cy="179.53" r="0.55"/><circle cx="53.21" cy="192.59" r="0.55"/><circle cx="54.43" cy="184.7" r="0.55"/><circle cx="62.98" cy="179.35" r="0.55"/><circle cx="42.48" cy="176.13" r="0.55"/><circle cx="49.68" cy="187.78" r="0.55"/><circle cx="56.41" cy="175.33" r="0.55"/><circle cx="43.5" cy="192.21" r="0.55"/><circle cx="60.35" cy="184.57" r="0.55"/><circle cx="46.56" cy="178.49" r="0.55"/></g><g fill="#2a88c8" opacity="1"><circle cx="128.11" cy="167.07" r="0.55"/><circle cx="123.88" cy="172.15" r="0.55"/><circle cx="122.02" cy="179.13" r="0.55"/><circle cx="127.68" cy="176.87" r="0.55"/><circle cx="129.53" cy="176.43" r="0.55"/><circle cx="124.11" cy="174.13" r="0.55"/><circle cx="120.25" cy="174.57" r="0.55"/><circle cx="124.37" cy="170.99" r="0.55"/><circle cx="121.82" cy="176.55" r="0.55"/><circle cx="121.33" cy="176.69" r="0.55"/><circle cx="126.96" cy="174.4" r="0.55"/><circle cx="120.96" cy="179.22" r="0.55"/><circle cx="127.63" cy="170.55" r="0.55"/><circle cx="124.21" cy="164.18" r="0.55"/><circle cx="121.86" cy="171.85" r="0.55"/><circle cx="122.93" cy="176.56" r="0.55"/><circle cx="121.35" cy="177.85" r="0.55"/><circle cx="122.22" cy="165.69" r="0.55"/><circle cx="124.94" cy="174.12" r="0.55"/><circle cx="129.74" cy="168.14" r="0.55"/><circle cx="122.91" cy="178.99" r="0.55"/><circle cx="124.43" cy="173.25" r="0.55"/><circle cx="124.78" cy="172.46" r="0.55"/><circle cx="128.39" cy="167.24" r="0.55"/><circle cx="123.64" cy="180.09" r="0.55"/><circle cx="119.51" cy="176.06" r="0.55"/><circle cx="120.92" cy="174.04" r="0.55"/><circle cx="123.49" cy="165.07" r="0.55"/><circle cx="127.29" cy="173.47" r="0.55"/><circle cx="119.75" cy="174.73" r="0.55"/><circle cx="127.88" cy="168.29" r="0.55"/><circle cx="122.83" cy="174.99" r="0.55"/><circle cx="120.33" cy="175.2" r="0.55"/><circle cx="128.34" cy="169.71" r="0.55"/><circle cx="126.03" cy="165.46" r="0.55"/><circle cx="121.65" cy="166.51" r="0.55"/><circle cx="122.76" cy="178.92" r="0.55"/><circle cx="121.97" cy="172.75" r="0.55"/><circle cx="122.39" cy="168.47" r="0.55"/><circle cx="124.61" cy="162.99" r="0.55"/><circle cx="127.6" cy="170" r="0.55"/><circle cx="120.9" cy="174.85" r="0.55"/><circle cx="125.24" cy="171.24" r="0.55"/><circle cx="124.63" cy="179.41" r="0.55"/><circle cx="121.77" cy="171.08" r="0.55"/><circle cx="123.08" cy="171.92" r="0.55"/><circle cx="130.14" cy="167.1" r="0.55"/><circle cx="125.13" cy="169.33" r="0.55"/><circle cx="126.12" cy="174.7" r="0.55"/><circle cx="124.82" cy="171.14" r="0.55"/></g><g fill="#28a068" opacity="1"><circle cx="99.82" cy="214.77" r="0.55"/><circle cx="106.43" cy="201.97" r="0.55"/><circle cx="101.88" cy="210.94" r="0.55"/><circle cx="99.29" cy="212.23" r="0.55"/><circle cx="102.69" cy="205.47" r="0.55"/><circle cx="99.89" cy="212.22" r="0.55"/><circle cx="110.32" cy="202.39" r="0.55"/><circle cx="107.03" cy="204.06" r="0.55"/><circle cx="104.8" cy="204.84" r="0.55"/><circle cx="100.95" cy="207.54" r="0.55"/><circle cx="108.82" cy="200.92" r="0.55"/><circle cx="98.83" cy="213.91" r="0.55"/><circle cx="106.96" cy="205.62" r="0.55"/><circle cx="101.72" cy="208.03" r="0.55"/><circle cx="110.28" cy="203.66" r="0.55"/><circle cx="103.75" cy="205.91" r="0.55"/><circle cx="102.92" cy="207.78" r="0.55"/><circle cx="103.02" cy="208.93" r="0.55"/><circle cx="98.35" cy="213.61" r="0.55"/><circle cx="105.3" cy="205.5" r="0.55"/><circle cx="100.04" cy="210.96" r="0.55"/><circle cx="101.25" cy="210.27" r="0.55"/><circle cx="98.62" cy="213.15" r="0.55"/><circle cx="104.08" cy="212.04" r="0.55"/><circle cx="101.69" cy="208.06" r="0.55"/><circle cx="98.66" cy="216.32" r="0.55"/><circle cx="108.17" cy="204.54" r="0.55"/><circle cx="104.34" cy="209.81" r="0.55"/><circle cx="99.48" cy="210.44" r="0.55"/><circle cx="106.47" cy="202.7" r="0.55"/><circle cx="108.55" cy="201.38" r="0.55"/><circle cx="101.97" cy="211.93" r="0.55"/><circle cx="103.99" cy="204.7" r="0.55"/><circle cx="106.08" cy="208" r="0.55"/><circle cx="107.93" cy="204.77" r="0.55"/><circle cx="103.55" cy="206.13" r="0.55"/><circle cx="106.3" cy="207.06" r="0.55"/><circle cx="106.58" cy="202.72" r="0.55"/><circle cx="103.03" cy="205.1" r="0.55"/><circle cx="105.37" cy="208.01" r="0.55"/></g><g fill="#b0a030" opacity="1"><circle cx="57.73" cy="156.44" r="0.5"/><circle cx="57.12" cy="153.63" r="0.5"/><circle cx="55.49" cy="171.86" r="0.5"/><circle cx="55.3" cy="166.14" r="0.5"/><circle cx="57.41" cy="157.18" r="0.5"/><circle cx="56.02" cy="158.22" r="0.5"/><circle cx="56.14" cy="158.98" r="0.5"/><circle cx="55.98" cy="169.78" r="0.5"/><circle cx="55.82" cy="165.88" r="0.5"/><circle cx="54.69" cy="166.07" r="0.5"/><circle cx="53.37" cy="156.31" r="0.5"/><circle cx="55.51" cy="160.79" r="0.5"/><circle cx="56.74" cy="155.07" r="0.5"/><circle cx="55.86" cy="158.57" r="0.5"/><circle cx="53.51" cy="153.59" r="0.5"/><circle cx="56.03" cy="163.07" r="0.5"/><circle cx="54.24" cy="157.88" r="0.5"/><circle cx="54.94" cy="156.65" r="0.5"/><circle cx="57.01" cy="157.1" r="0.5"/><circle cx="55.91" cy="155.33" r="0.5"/></g><text x="51" y="164.4" font-size="8.64" text-anchor="middle" fill="#111" textLength="4.45" lengthAdjust="spacingAndGlyphs" stroke="#111" stroke-width="0.2">4</text><text x="70" y="177.4" font-size="8.64" text-anchor="middle" fill="#111" textLength="8.9" lengthAdjust="spacingAndGlyphs" stroke="#111" stroke-width="0.2">10</text><text x="45.5" y="189" font-size="8.64" text-anchor="middle" fill="#111" textLength="4.45" lengthAdjust="spacingAndGlyphs" stroke="#111" stroke-width="0.2">0</text><text x="58" y="197.9" font-size="8.64" text-anchor="middle" fill="#111" textLength="4.45" lengthAdjust="spacingAndGlyphs" stroke="#111" stroke-width="0.2">5</text><text x="108" y="179.9" font-size="8.64" text-anchor="middle" fill="#111" textLength="4.45" lengthAdjust="spacingAndGlyphs" stroke="#111" stroke-width="0.2">7</text><text x="120.5" y="179.4" font-size="8.64" text-anchor="middle" fill="#111" textLength="4.45" lengthAdjust="spacingAndGlyphs" stroke="#111" stroke-width="0.2">1</text><text x="118" y="190.4" font-size="8.64" text-anchor="middle" fill="#111" textLength="4.45" lengthAdjust="spacingAndGlyphs" stroke="#111" stroke-width="0.2">6</text><text x="100" y="207.9" font-size="8.64" text-anchor="middle" fill="#111" textLength="4.45" lengthAdjust="spacingAndGlyphs" stroke="#111" stroke-width="0.2">2</text><text x="112" y="223.4" font-size="8.64" text-anchor="middle" fill="#111" textLength="8.3" lengthAdjust="spacingAndGlyphs" stroke="#111" stroke-width="0.2">11</text><text x="72" y="209.4" font-size="8.64" text-anchor="middle" fill="#111" textLength="4.45" lengthAdjust="spacingAndGlyphs" stroke="#111" stroke-width="0.2">9</text><text x="76" y="229.9" font-size="8.64" text-anchor="middle" fill="#111" textLength="8.9" lengthAdjust="spacingAndGlyphs" stroke="#111" stroke-width="0.2">12</text><text x="89" y="245.2" font-size="8.64" text-anchor="middle" fill="#111" textLength="4.45" lengthAdjust="spacingAndGlyphs" stroke="#111" stroke-width="0.2">8</text><text x="70" y="252" font-size="8.64" text-anchor="middle" fill="#111" textLength="4.45" lengthAdjust="spacingAndGlyphs" stroke="#111" stroke-width="0.2">3</text><polygon points="149.8,181 153,177.5 157,174 161.5,172 165.5,170.5 169,169.3 172.5,170.5 175,173 176.5,177.5 175.5,183 173.5,189 169.5,192.5 164,194.6 158.5,193.8 154,190.5 150.8,185" fill="#f06060" opacity="0.5"/><g fill="#bdbdbd" opacity="1"><circle cx="174.48" cy="181.08" r="0.8"/><circle cx="172.23" cy="187.21" r="0.8"/><circle cx="152.21" cy="184.04" r="0.8"/><circle cx="156.17" cy="187.13" r="0.8"/><circle cx="174.29" cy="174.46" r="0.8"/><circle cx="161.56" cy="190.51" r="0.8"/><circle cx="158.53" cy="186.15" r="0.8"/><circle cx="173.3" cy="179.03" r="0.8"/><circle cx="155.52" cy="179.77" r="0.8"/><circle cx="166.21" cy="188.43" r="0.8"/><circle cx="153.27" cy="180.77" r="0.8"/><circle cx="175.01" cy="181.03" r="0.8"/><circle cx="162.52" cy="177.33" r="0.8"/><circle cx="163.93" cy="173.34" r="0.8"/><circle cx="169.58" cy="189.81" r="0.8"/><circle cx="168.02" cy="192.36" r="0.8"/><circle cx="156.7" cy="192.36" r="0.8"/><circle cx="169.09" cy="171.08" r="0.8"/><circle cx="169.69" cy="190.52" r="0.8"/><circle cx="172.59" cy="189.69" r="0.8"/><circle cx="163.89" cy="182.35" r="0.8"/><circle cx="173.01" cy="182.36" r="0.8"/><circle cx="172.69" cy="176.98" r="0.8"/><circle cx="152.62" cy="179.27" r="0.8"/><circle cx="168.76" cy="175.31" r="0.8"/><circle cx="169.33" cy="177.63" r="0.8"/><circle cx="175.03" cy="183.54" r="0.8"/><circle cx="174.38" cy="180.1" r="0.8"/></g><g fill="#e31a1c" opacity="1"><circle cx="161.88" cy="183.46" r="0.8"/><circle cx="163.36" cy="184.16" r="0.8"/><circle cx="154.73" cy="182.25" r="0.8"/><circle cx="166.62" cy="189.36" r="0.8"/><circle cx="168.31" cy="170.36" r="0.8"/><circle cx="167.26" cy="184.87" r="0.8"/><circle cx="150.6" cy="181.04" r="0.8"/><circle cx="161.56" cy="190.61" r="0.8"/><circle cx="163.66" cy="185.5" r="0.8"/><circle cx="163.14" cy="186.06" r="0.8"/><circle cx="162.01" cy="176.34" r="0.8"/><circle cx="158.22" cy="175.11" r="0.8"/><circle cx="170.26" cy="179.43" r="0.8"/><circle cx="172.4" cy="179.08" r="0.8"/><circle cx="174.1" cy="181.19" r="0.8"/><circle cx="175.98" cy="179.35" r="0.8"/><circle cx="151.75" cy="185.23" r="0.8"/><circle cx="170.59" cy="176.13" r="0.8"/><circle cx="171.08" cy="173.8" r="0.8"/><circle cx="164.73" cy="180.62" r="0.8"/><circle cx="154.89" cy="187.82" r="0.8"/><circle cx="153.3" cy="185.59" r="0.8"/><circle cx="152.91" cy="179.95" r="0.8"/><circle cx="155.48" cy="176.13" r="0.8"/><circle cx="157.92" cy="191.69" r="0.8"/><circle cx="155.43" cy="179.28" r="0.8"/><circle cx="172.61" cy="185.54" r="0.8"/><circle cx="155.49" cy="175.83" r="0.8"/><circle cx="170.43" cy="177.62" r="0.8"/><circle cx="156.29" cy="184.51" r="0.8"/><circle cx="159.72" cy="180.77" r="0.8"/><circle cx="175.41" cy="181.54" r="0.8"/><circle cx="165.14" cy="191.22" r="0.8"/><circle cx="173.35" cy="184.57" r="0.8"/><circle cx="156.66" cy="190.14" r="0.8"/><circle cx="165.73" cy="176.72" r="0.8"/><circle cx="154.48" cy="187.52" r="0.8"/><circle cx="164.74" cy="190.87" r="0.8"/><circle cx="166.2" cy="176.39" r="0.8"/><circle cx="154.51" cy="178.63" r="0.8"/><circle cx="165.08" cy="172.63" r="0.8"/><circle cx="159.47" cy="191.84" r="0.8"/><circle cx="168.26" cy="184.09" r="0.8"/><circle cx="162.68" cy="187.78" r="0.8"/><circle cx="151.81" cy="183.12" r="0.8"/><circle cx="169.48" cy="192.07" r="0.8"/><circle cx="169.48" cy="187.1" r="0.8"/><circle cx="159.19" cy="186.63" r="0.8"/><circle cx="160.94" cy="189.3" r="0.8"/><circle cx="172.85" cy="183.79" r="0.8"/><circle cx="166.49" cy="178.97" r="0.8"/><circle cx="165.36" cy="184.7" r="0.8"/><circle cx="151.94" cy="185.48" r="0.8"/><circle cx="169.24" cy="179.13" r="0.8"/><circle cx="169.43" cy="184" r="0.8"/><circle cx="162.64" cy="175.12" r="0.8"/><circle cx="168.45" cy="181.88" r="0.8"/><circle cx="166.21" cy="192.59" r="0.8"/><circle cx="157.84" cy="186.46" r="0.8"/><circle cx="173.98" cy="186" r="0.8"/><circle cx="161.6" cy="191.86" r="0.8"/><circle cx="155.1" cy="180.2" r="0.8"/><circle cx="165.37" cy="177.31" r="0.8"/><circle cx="153.44" cy="181.86" r="0.8"/><circle cx="161.83" cy="176.26" r="0.8"/><circle cx="166.51" cy="181.8" r="0.8"/><circle cx="158.22" cy="190.53" r="0.8"/><circle cx="168.72" cy="183.74" r="0.8"/><circle cx="158.05" cy="189.33" r="0.8"/><circle cx="171.95" cy="175.31" r="0.8"/><circle cx="166.6" cy="180.6" r="0.8"/><circle cx="166.62" cy="185.87" r="0.8"/><circle cx="168.08" cy="174.34" r="0.8"/><circle cx="162.49" cy="173.82" r="0.8"/><circle cx="150.09" cy="181.25" r="0.8"/><circle cx="168.87" cy="173.83" r="0.8"/><circle cx="157.07" cy="178.05" r="0.8"/><circle cx="168.42" cy="182.47" r="0.8"/><circle cx="160.31" cy="189.34" r="0.8"/><circle cx="166.5" cy="192.32" r="0.8"/><circle cx="159.86" cy="183.69" r="0.8"/><circle cx="167.19" cy="174.48" r="0.8"/><circle cx="169.08" cy="190" r="0.8"/><circle cx="166.93" cy="187.46" r="0.8"/><circle cx="164.14" cy="189.31" r="0.8"/><circle cx="158.35" cy="192.32" r="0.8"/><circle cx="172.65" cy="178.12" r="0.8"/><circle cx="152.01" cy="180.45" r="0.8"/><circle cx="164.49" cy="188.74" r="0.8"/><circle cx="171.4" cy="170.92" r="0.8"/><circle cx="171.16" cy="173.67" r="0.8"/><circle cx="158.74" cy="189.23" r="0.8"/><circle cx="163.59" cy="187.61" r="0.8"/><circle cx="172.23" cy="186.74" r="0.8"/><circle cx="175.05" cy="181.76" r="0.8"/><circle cx="155.71" cy="182.62" r="0.8"/><circle cx="157.55" cy="187.74" r="0.8"/><circle cx="166.86" cy="182.53" r="0.8"/><circle cx="172.32" cy="183.47" r="0.8"/><circle cx="158.12" cy="178.94" r="0.8"/><circle cx="155.36" cy="190.82" r="0.8"/><circle cx="165.1" cy="174.38" r="0.8"/><circle cx="164.11" cy="182.03" r="0.8"/><circle cx="160.5" cy="189.57" r="0.8"/><circle cx="164.83" cy="181.72" r="0.8"/><circle cx="168.25" cy="170.97" r="0.8"/><circle cx="164.18" cy="179.77" r="0.8"/><circle cx="156.99" cy="181.27" r="0.8"/><circle cx="153.19" cy="180.27" r="0.8"/><circle cx="154.91" cy="184.93" r="0.8"/><circle cx="174.5" cy="172.58" r="0.8"/><circle cx="170.61" cy="169.88" r="0.8"/><circle cx="168.14" cy="177.45" r="0.8"/><circle cx="159.29" cy="184.98" r="0.8"/><circle cx="152.6" cy="187.79" r="0.8"/><circle cx="153.08" cy="182.21" r="0.8"/><circle cx="163.96" cy="180.35" r="0.8"/><circle cx="159.83" cy="179.76" r="0.8"/><circle cx="155.25" cy="185.27" r="0.8"/><circle cx="166.85" cy="182.7" r="0.8"/><circle cx="172.53" cy="184.78" r="0.8"/><circle cx="172.68" cy="175.19" r="0.8"/><circle cx="173.9" cy="177.29" r="0.8"/><circle cx="158.21" cy="192.65" r="0.8"/><circle cx="173.5" cy="172.69" r="0.8"/><circle cx="156.19" cy="187.68" r="0.8"/><circle cx="172.02" cy="179.97" r="0.8"/><circle cx="170.89" cy="172.49" r="0.8"/><circle cx="160.55" cy="186.64" r="0.8"/><circle cx="163.3" cy="188.48" r="0.8"/><circle cx="163.22" cy="186.65" r="0.8"/><circle cx="164.53" cy="182.33" r="0.8"/><circle cx="164.99" cy="173.01" r="0.8"/><circle cx="162.14" cy="188.65" r="0.8"/><circle cx="158.53" cy="181.11" r="0.8"/><circle cx="163.56" cy="180.18" r="0.8"/><circle cx="168.52" cy="190.66" r="0.8"/><circle cx="154.64" cy="180.78" r="0.8"/><circle cx="169.54" cy="179.55" r="0.8"/><circle cx="168.61" cy="191.08" r="0.8"/><circle cx="166.6" cy="179.53" r="0.8"/><circle cx="165.81" cy="182.06" r="0.8"/><circle cx="169.68" cy="188.98" r="0.8"/><circle cx="171.55" cy="179.56" r="0.8"/><circle cx="168.35" cy="188.71" r="0.8"/><circle cx="170.23" cy="179.57" r="0.8"/><circle cx="158.92" cy="181.16" r="0.8"/><circle cx="166.85" cy="185.09" r="0.8"/><circle cx="167.58" cy="177.85" r="0.8"/><circle cx="167.42" cy="183.71" r="0.8"/><circle cx="164.03" cy="179.16" r="0.8"/><circle cx="168.52" cy="188.57" r="0.8"/><circle cx="166.23" cy="187.99" r="0.8"/><circle cx="156.65" cy="179.46" r="0.8"/><circle cx="156.5" cy="192.21" r="0.8"/><circle cx="164.49" cy="182.15" r="0.8"/><circle cx="171.41" cy="171.23" r="0.8"/><circle cx="165.75" cy="188.51" r="0.8"/><circle cx="154.07" cy="181.24" r="0.8"/><circle cx="154.32" cy="181.84" r="0.8"/><circle cx="166.12" cy="170.78" r="0.8"/><circle cx="175.04" cy="179.94" r="0.8"/><circle cx="163.86" cy="184.43" r="0.8"/><circle cx="159.56" cy="176.53" r="0.8"/><circle cx="167.29" cy="183.48" r="0.8"/><circle cx="157.37" cy="187.43" r="0.8"/><circle cx="153.98" cy="188.39" r="0.8"/><circle cx="160.21" cy="192.01" r="0.8"/><circle cx="169.78" cy="170.57" r="0.8"/><circle cx="161.27" cy="181.38" r="0.8"/><circle cx="175.78" cy="175.47" r="0.8"/><circle cx="163.77" cy="193.01" r="0.8"/><circle cx="169.1" cy="181.15" r="0.8"/><circle cx="165.92" cy="172.21" r="0.8"/><circle cx="166.47" cy="180.83" r="0.8"/><circle cx="163.9" cy="172.45" r="0.8"/><circle cx="161.62" cy="186.2" r="0.8"/><circle cx="161.96" cy="175.93" r="0.8"/><circle cx="165.35" cy="179.91" r="0.8"/><circle cx="170.57" cy="182.73" r="0.8"/><circle cx="169.41" cy="175.33" r="0.8"/><circle cx="170.74" cy="185.11" r="0.8"/><circle cx="159.39" cy="176.17" r="0.8"/><circle cx="168.09" cy="183.59" r="0.8"/><circle cx="165.6" cy="185.32" r="0.8"/><circle cx="169.91" cy="174.1" r="0.8"/><circle cx="157.03" cy="180.06" r="0.8"/><circle cx="166.44" cy="171.89" r="0.8"/><circle cx="164.26" cy="171.13" r="0.8"/><circle cx="152.11" cy="186.41" r="0.8"/><circle cx="164.5" cy="185.27" r="0.8"/><circle cx="159.76" cy="181.41" r="0.8"/><circle cx="155.42" cy="178" r="0.8"/><circle cx="171.41" cy="185.08" r="0.8"/><circle cx="170.33" cy="174.69" r="0.8"/><circle cx="161.13" cy="175.83" r="0.8"/><circle cx="171.42" cy="178.63" r="0.8"/><circle cx="158.49" cy="183.18" r="0.8"/><circle cx="161.22" cy="178.64" r="0.8"/><circle cx="164.86" cy="181.57" r="0.8"/><circle cx="168.1" cy="176.86" r="0.8"/><circle cx="170.51" cy="171.22" r="0.8"/><circle cx="155.49" cy="186.05" r="0.8"/><circle cx="169.16" cy="186.86" r="0.8"/><circle cx="159.35" cy="187.67" r="0.8"/><circle cx="168.74" cy="183.7" r="0.8"/><circle cx="174.19" cy="180.38" r="0.8"/><circle cx="171.24" cy="177.01" r="0.8"/><circle cx="158.28" cy="179.41" r="0.8"/><circle cx="156.43" cy="178.45" r="0.8"/><circle cx="159.56" cy="178.49" r="0.8"/><circle cx="160.36" cy="179.11" r="0.8"/><circle cx="155.01" cy="183.56" r="0.8"/><circle cx="171.08" cy="182.98" r="0.8"/><circle cx="172.13" cy="183.54" r="0.8"/><circle cx="154.52" cy="188.5" r="0.8"/><circle cx="173.32" cy="176.42" r="0.8"/><circle cx="150.39" cy="182.35" r="0.8"/><circle cx="164.33" cy="183.66" r="0.8"/><circle cx="171.28" cy="170.92" r="0.8"/><circle cx="164.4" cy="189.24" r="0.8"/><circle cx="169.48" cy="192.05" r="0.8"/><circle cx="152.06" cy="185.34" r="0.8"/><circle cx="153.64" cy="188.17" r="0.8"/><circle cx="167.13" cy="175.51" r="0.8"/><circle cx="155.69" cy="188.66" r="0.8"/><circle cx="163.73" cy="188.65" r="0.8"/><circle cx="160.33" cy="177.85" r="0.8"/><circle cx="162.98" cy="182.89" r="0.8"/><circle cx="169.05" cy="187.22" r="0.8"/><circle cx="174.23" cy="179.69" r="0.8"/><circle cx="171.86" cy="186.17" r="0.8"/><circle cx="163.79" cy="187.27" r="0.8"/><circle cx="171.22" cy="179.97" r="0.8"/><circle cx="161.03" cy="173" r="0.8"/><circle cx="159.83" cy="173.54" r="0.8"/><circle cx="155.26" cy="180.05" r="0.8"/><circle cx="152.87" cy="185.69" r="0.8"/><circle cx="170.52" cy="173.84" r="0.8"/><circle cx="151.46" cy="180.91" r="0.8"/><circle cx="165.39" cy="192.31" r="0.8"/><circle cx="156.09" cy="187.45" r="0.8"/><circle cx="165.68" cy="174.97" r="0.8"/><circle cx="154.74" cy="176.41" r="0.8"/><circle cx="154.41" cy="188.46" r="0.8"/><circle cx="158.12" cy="183.17" r="0.8"/><circle cx="171.62" cy="181.43" r="0.8"/><circle cx="156.75" cy="191.75" r="0.8"/><circle cx="174.21" cy="177.95" r="0.8"/><circle cx="164.41" cy="193.51" r="0.8"/><circle cx="162.69" cy="174.89" r="0.8"/><circle cx="171.2" cy="179.04" r="0.8"/><circle cx="167.36" cy="175.31" r="0.8"/><circle cx="150.09" cy="181.26" r="0.8"/><circle cx="159.72" cy="189.46" r="0.8"/><circle cx="168.84" cy="184.63" r="0.8"/><circle cx="158.39" cy="175.86" r="0.8"/><circle cx="156.92" cy="182.82" r="0.8"/><circle cx="153.82" cy="188.79" r="0.8"/><circle cx="168.93" cy="171.76" r="0.8"/><circle cx="162.62" cy="181.16" r="0.8"/><circle cx="170.87" cy="179.85" r="0.8"/><circle cx="171.86" cy="174.57" r="0.8"/><circle cx="164.31" cy="182.6" r="0.8"/><circle cx="154.01" cy="190.35" r="0.8"/><circle cx="158.11" cy="177.16" r="0.8"/><circle cx="162.27" cy="187.39" r="0.8"/><circle cx="159.4" cy="186.68" r="0.8"/><circle cx="162.13" cy="193.76" r="0.8"/><circle cx="171.95" cy="185.84" r="0.8"/><circle cx="164.86" cy="180.89" r="0.8"/><circle cx="171.15" cy="174.53" r="0.8"/><circle cx="166.25" cy="176.65" r="0.8"/><circle cx="159.84" cy="182.96" r="0.8"/><circle cx="157.76" cy="177.84" r="0.8"/><circle cx="160.27" cy="186.17" r="0.8"/><circle cx="156.65" cy="174.36" r="0.8"/><circle cx="169.13" cy="177.69" r="0.8"/><circle cx="171.88" cy="171.63" r="0.8"/><circle cx="167.89" cy="187.22" r="0.8"/><circle cx="154.6" cy="179.48" r="0.8"/><circle cx="172.15" cy="184.3" r="0.8"/><circle cx="163.46" cy="185.68" r="0.8"/><circle cx="170.28" cy="190.07" r="0.8"/><circle cx="160.1" cy="177.68" r="0.8"/><circle cx="160.5" cy="187.01" r="0.8"/><circle cx="167.43" cy="184.7" r="0.8"/><circle cx="158.94" cy="185.76" r="0.8"/><circle cx="152.64" cy="178.85" r="0.8"/><circle cx="163.4" cy="189.25" r="0.8"/><circle cx="171.83" cy="184.77" r="0.8"/><circle cx="154.03" cy="188.69" r="0.8"/><circle cx="173.91" cy="183.17" r="0.8"/><circle cx="159.21" cy="181.96" r="0.8"/><circle cx="153.58" cy="187.35" r="0.8"/><circle cx="168.9" cy="190.44" r="0.8"/><circle cx="166.54" cy="174.31" r="0.8"/><circle cx="165.19" cy="186.94" r="0.8"/><circle cx="158.59" cy="192.81" r="0.8"/><circle cx="159.44" cy="181.01" r="0.8"/><circle cx="164.31" cy="183.49" r="0.8"/><circle cx="164.76" cy="175.99" r="0.8"/></g><g fill="#bdbdbd" opacity="1"><circle cx="173.33" cy="187.79" r="0.8"/><circle cx="164.7" cy="192.84" r="0.8"/><circle cx="170.94" cy="190.11" r="0.8"/><circle cx="170.17" cy="189.29" r="0.8"/><circle cx="167.05" cy="192.96" r="0.8"/><circle cx="171.93" cy="187.72" r="0.8"/><circle cx="166.87" cy="191.27" r="0.8"/><circle cx="160.51" cy="192.86" r="0.8"/><circle cx="164.81" cy="193.28" r="0.8"/><circle cx="174.62" cy="180.84" r="0.8"/><circle cx="173.66" cy="183.56" r="0.8"/><circle cx="163.12" cy="192.55" r="0.8"/><circle cx="170.83" cy="191.02" r="0.8"/><circle cx="161.47" cy="194.31" r="0.8"/><circle cx="164.09" cy="191.24" r="0.8"/><circle cx="163.04" cy="192.84" r="0.8"/><circle cx="176.1" cy="178.07" r="0.8"/><circle cx="167.52" cy="190.34" r="0.8"/><circle cx="166.27" cy="193.39" r="0.8"/><circle cx="169.06" cy="188.53" r="0.8"/><circle cx="172.76" cy="186.34" r="0.8"/><circle cx="168.24" cy="191.96" r="0.8"/><circle cx="171.15" cy="186.4" r="0.8"/><circle cx="175.51" cy="180.47" r="0.8"/><circle cx="167.18" cy="190.72" r="0.8"/><circle cx="169.73" cy="189.72" r="0.8"/><circle cx="164.29" cy="191.15" r="0.8"/><circle cx="161.18" cy="193.01" r="0.8"/><circle cx="167.98" cy="190.52" r="0.8"/><circle cx="167.42" cy="190.24" r="0.8"/><circle cx="160.56" cy="194.53" r="0.8"/><circle cx="166.4" cy="191.92" r="0.8"/><circle cx="166.21" cy="190.86" r="0.8"/><circle cx="166.41" cy="193.29" r="0.8"/><circle cx="161.36" cy="192.59" r="0.8"/><circle cx="171.83" cy="188.89" r="0.8"/><circle cx="174.12" cy="181.37" r="0.8"/><circle cx="174.15" cy="181.51" r="0.8"/><circle cx="170.23" cy="188.12" r="0.8"/><circle cx="164.5" cy="191.69" r="0.8"/><circle cx="174.34" cy="184.03" r="0.8"/><circle cx="169.14" cy="191.71" r="0.8"/><circle cx="165.65" cy="192.66" r="0.8"/><circle cx="171.33" cy="189.24" r="0.8"/><circle cx="172.21" cy="186.63" r="0.8"/><circle cx="172.59" cy="185.72" r="0.8"/><circle cx="162.65" cy="192.31" r="0.8"/><circle cx="172.98" cy="184.21" r="0.8"/><circle cx="171.52" cy="188.15" r="0.8"/><circle cx="175.82" cy="179.79" r="0.8"/><circle cx="170.07" cy="190.59" r="0.8"/><circle cx="171.31" cy="186.84" r="0.8"/><circle cx="175.22" cy="181.8" r="0.8"/><circle cx="174.55" cy="182.79" r="0.8"/><circle cx="163.3" cy="192.33" r="0.8"/><circle cx="173.15" cy="184.27" r="0.8"/><circle cx="170.71" cy="188.15" r="0.8"/><circle cx="164.52" cy="193.55" r="0.8"/><circle cx="167.22" cy="191.76" r="0.8"/><circle cx="168.59" cy="191.35" r="0.8"/><circle cx="166.51" cy="191.23" r="0.8"/><circle cx="174.75" cy="183" r="0.8"/><circle cx="172.11" cy="186.84" r="0.8"/><circle cx="163.34" cy="192.56" r="0.8"/><circle cx="161.77" cy="194.39" r="0.8"/><circle cx="161.86" cy="191.82" r="0.8"/><circle cx="175.19" cy="180.1" r="0.8"/><circle cx="166.55" cy="192.33" r="0.8"/><circle cx="173" cy="186.25" r="0.8"/><circle cx="164.09" cy="191.3" r="0.8"/><circle cx="172.83" cy="185.89" r="0.8"/><circle cx="163.94" cy="191.18" r="0.8"/><circle cx="166.33" cy="192.02" r="0.8"/><circle cx="161.17" cy="194.39" r="0.8"/><circle cx="169.83" cy="189.38" r="0.8"/><circle cx="166.92" cy="191.52" r="0.8"/><circle cx="164.64" cy="192.42" r="0.8"/><circle cx="164.67" cy="192.11" r="0.8"/><circle cx="172.12" cy="187.78" r="0.8"/><circle cx="174.59" cy="181.8" r="0.8"/><circle cx="161.62" cy="192.83" r="0.8"/><circle cx="170.94" cy="187.85" r="0.8"/><circle cx="164.13" cy="191.37" r="0.8"/><circle cx="160.26" cy="192.2" r="0.8"/><circle cx="171.97" cy="189.69" r="0.8"/><circle cx="164.9" cy="194.02" r="0.8"/></g><g fill="#e31a1c" opacity="1"><circle cx="174.45" cy="185.41" r="0.8"/><circle cx="169.22" cy="191.33" r="0.8"/><circle cx="171.43" cy="186.96" r="0.8"/><circle cx="170.15" cy="190.19" r="0.8"/></g><g fill="#bdbdbd" opacity="1"><circle cx="169.37" cy="161.82" r="0.8"/><circle cx="165.53" cy="155.37" r="0.8"/><circle cx="169.45" cy="162.25" r="0.8"/><circle cx="168.72" cy="156.9" r="0.8"/><circle cx="167.53" cy="155.96" r="0.8"/><circle cx="168.29" cy="155.03" r="0.8"/><circle cx="169.03" cy="163.07" r="0.8"/><circle cx="167.49" cy="159.08" r="0.8"/><circle cx="165.36" cy="153.52" r="0.8"/><circle cx="166.94" cy="159.98" r="0.8"/><circle cx="170.36" cy="159.56" r="0.8"/><circle cx="170.01" cy="157.1" r="0.8"/><circle cx="170.11" cy="156.66" r="0.8"/><circle cx="168.04" cy="157.31" r="0.8"/><circle cx="165.8" cy="156.02" r="0.8"/><circle cx="169.53" cy="158.53" r="0.8"/><circle cx="165.77" cy="153.8" r="0.8"/><circle cx="166.44" cy="157.06" r="0.8"/><circle cx="168.21" cy="152.85" r="0.8"/><circle cx="167.94" cy="156.65" r="0.8"/><circle cx="166.37" cy="156.31" r="0.8"/><circle cx="166.11" cy="156.35" r="0.8"/><circle cx="169.02" cy="158.22" r="0.8"/><circle cx="167.64" cy="158.82" r="0.8"/><circle cx="170.73" cy="156.44" r="0.8"/><circle cx="168.97" cy="157.79" r="0.8"/><circle cx="169.74" cy="155.07" r="0.8"/><circle cx="167.57" cy="160.38" r="0.8"/><circle cx="167.94" cy="159.29" r="0.8"/><circle cx="171.19" cy="157.51" r="0.8"/><circle cx="170.12" cy="153.63" r="0.8"/><circle cx="167.26" cy="154.17" r="0.8"/><circle cx="170.33" cy="154.9" r="0.8"/><circle cx="169.16" cy="165.36" r="0.8"/><circle cx="168.49" cy="171.86" r="0.8"/><circle cx="166.89" cy="169.88" r="0.8"/><circle cx="169.07" cy="165.94" r="0.8"/><circle cx="167.59" cy="165.69" r="0.8"/><circle cx="167.84" cy="167.84" r="0.8"/><circle cx="167.67" cy="168.05" r="0.8"/><circle cx="166.9" cy="171.11" r="0.8"/><circle cx="169.01" cy="169.06" r="0.8"/><circle cx="168.39" cy="168.33" r="0.8"/><circle cx="168.82" cy="165.88" r="0.8"/></g><g fill="#e31a1c" opacity="1"><circle cx="167.24" cy="157.88" r="0.8"/><circle cx="168.41" cy="162.44" r="0.8"/><circle cx="167.68" cy="155.79" r="0.8"/><circle cx="170.03" cy="155.34" r="0.8"/><circle cx="167.5" cy="157.22" r="0.8"/><circle cx="168.24" cy="156.44" r="0.8"/><circle cx="167.93" cy="157.46" r="0.8"/><circle cx="166.51" cy="153.59" r="0.8"/><circle cx="170.1" cy="157.86" r="0.8"/><circle cx="167.51" cy="155.81" r="0.8"/><circle cx="169.14" cy="158.98" r="0.8"/><circle cx="167.14" cy="157.97" r="0.8"/><circle cx="168.51" cy="160.79" r="0.8"/><circle cx="166.71" cy="155.47" r="0.8"/><circle cx="170.41" cy="157.18" r="0.8"/><circle cx="170.85" cy="156.93" r="0.8"/><circle cx="170.65" cy="156.11" r="0.8"/><circle cx="168.75" cy="162.7" r="0.8"/><circle cx="170.31" cy="157.35" r="0.8"/><circle cx="168.81" cy="162.64" r="0.8"/><circle cx="168.65" cy="161.73" r="0.8"/><circle cx="168.36" cy="160.09" r="0.8"/><circle cx="167.64" cy="161.06" r="0.8"/><circle cx="168.91" cy="155.33" r="0.8"/><circle cx="168.31" cy="155.04" r="0.8"/><circle cx="168.86" cy="158.57" r="0.8"/><circle cx="170.48" cy="153.57" r="0.8"/><circle cx="168.59" cy="164.6" r="0.8"/><circle cx="169.08" cy="170.47" r="0.8"/><circle cx="168.98" cy="169.78" r="0.8"/><circle cx="167.69" cy="166.07" r="0.8"/><circle cx="168.23" cy="165.77" r="0.8"/><circle cx="168.3" cy="166.14" r="0.8"/><circle cx="168.41" cy="165.96" r="0.8"/><circle cx="167.25" cy="171.31" r="0.8"/><circle cx="167.13" cy="169.37" r="0.8"/><circle cx="167.94" cy="163.95" r="0.8"/><circle cx="168.17" cy="170.6" r="0.8"/></g><g fill="#bdbdbd" opacity="1"><circle cx="175.84" cy="177.67" r="0.8"/><circle cx="176.32" cy="178.04" r="0.8"/><circle cx="175.91" cy="178.33" r="0.8"/><circle cx="178.57" cy="177.75" r="0.8"/><circle cx="175.43" cy="178.61" r="0.8"/><circle cx="178.38" cy="178.51" r="0.8"/><circle cx="175.29" cy="178.44" r="0.8"/><circle cx="174.98" cy="176.96" r="0.8"/></g><g fill="#e31a1c" opacity="1"><circle cx="177.79" cy="178.04" r="0.8"/><circle cx="178.52" cy="177.21" r="0.8"/><circle cx="177.59" cy="178.86" r="0.8"/><circle cx="177.26" cy="179.02" r="0.8"/><circle cx="176.28" cy="179.05" r="0.8"/><circle cx="177.54" cy="177.34" r="0.8"/></g><g fill="#bdbdbd" opacity="1"><circle cx="242.53" cy="176.43" r="0.8"/><circle cx="238.22" cy="164.05" r="0.8"/><circle cx="238.3" cy="165.93" r="0.8"/><circle cx="238.29" cy="168.9" r="0.8"/><circle cx="237.94" cy="166.16" r="0.8"/><circle cx="240.6" cy="170" r="0.8"/><circle cx="237.77" cy="164.08" r="0.8"/><circle cx="237.78" cy="172.46" r="0.8"/><circle cx="244.05" cy="172.53" r="0.8"/><circle cx="239.12" cy="174.7" r="0.8"/><circle cx="239.4" cy="173.43" r="0.8"/><circle cx="242.2" cy="174.75" r="0.8"/><circle cx="238.2" cy="172.85" r="0.8"/><circle cx="241.27" cy="176.84" r="0.8"/><circle cx="242.25" cy="169.83" r="0.8"/><circle cx="235.83" cy="168.77" r="0.8"/><circle cx="234.88" cy="172.95" r="0.8"/><circle cx="238.29" cy="168.57" r="0.8"/><circle cx="240.21" cy="170.66" r="0.8"/><circle cx="234.77" cy="171.08" r="0.8"/><circle cx="241.61" cy="168.53" r="0.8"/><circle cx="234.86" cy="171.85" r="0.8"/><circle cx="234.79" cy="178.05" r="0.8"/><circle cx="240.87" cy="174.5" r="0.8"/><circle cx="241.7" cy="172.15" r="0.8"/><circle cx="234.65" cy="166.51" r="0.8"/><circle cx="236.85" cy="180.02" r="0.8"/><circle cx="236.28" cy="168.94" r="0.8"/><circle cx="236.49" cy="165.07" r="0.8"/><circle cx="241.69" cy="176.39" r="0.8"/><circle cx="236.4" cy="167.72" r="0.8"/><circle cx="239.15" cy="175.68" r="0.8"/><circle cx="237.64" cy="177.02" r="0.8"/><circle cx="236.41" cy="163.84" r="0.8"/><circle cx="233.25" cy="174.57" r="0.8"/><circle cx="242.88" cy="175.41" r="0.8"/><circle cx="243.75" cy="170.64" r="0.8"/><circle cx="236.3" cy="164.8" r="0.8"/><circle cx="235.02" cy="179.13" r="0.8"/><circle cx="238.47" cy="172.63" r="0.8"/><circle cx="241.33" cy="171.92" r="0.8"/><circle cx="235.49" cy="176.01" r="0.8"/><circle cx="243.42" cy="171.52" r="0.8"/><circle cx="238.83" cy="167.85" r="0.8"/><circle cx="237.43" cy="173.25" r="0.8"/><circle cx="242.41" cy="170.84" r="0.8"/><circle cx="241.34" cy="169.71" r="0.8"/><circle cx="233.73" cy="175.59" r="0.8"/><circle cx="237.94" cy="174.12" r="0.8"/><circle cx="237.5" cy="165.89" r="0.8"/><circle cx="239.48" cy="169.16" r="0.8"/><circle cx="237.6" cy="173.62" r="0.8"/><circle cx="242.9" cy="172.87" r="0.8"/><circle cx="236.88" cy="172.15" r="0.8"/><circle cx="237.44" cy="168.52" r="0.8"/><circle cx="238.06" cy="179.93" r="0.8"/><circle cx="235.22" cy="165.69" r="0.8"/><circle cx="240.83" cy="166.81" r="0.8"/><circle cx="239.03" cy="165.46" r="0.8"/><circle cx="237.91" cy="178.84" r="0.8"/><circle cx="238.13" cy="169.33" r="0.8"/><circle cx="234.97" cy="172.75" r="0.8"/><circle cx="239.65" cy="170.79" r="0.8"/><circle cx="237.72" cy="173.92" r="0.8"/><circle cx="237.21" cy="164.18" r="0.8"/><circle cx="241.82" cy="166.8" r="0.8"/><circle cx="242.19" cy="176.66" r="0.8"/><circle cx="238" cy="170.16" r="0.8"/><circle cx="238.66" cy="179.25" r="0.8"/><circle cx="237.82" cy="171.14" r="0.8"/><circle cx="237.99" cy="168.69" r="0.8"/><circle cx="242.26" cy="176.76" r="0.8"/><circle cx="240.34" cy="176.65" r="0.8"/><circle cx="240.68" cy="176.87" r="0.8"/><circle cx="241.84" cy="165.78" r="0.8"/><circle cx="242.01" cy="168.01" r="0.8"/><circle cx="239.38" cy="178.64" r="0.8"/><circle cx="243.53" cy="173.97" r="0.8"/><circle cx="242.74" cy="168.14" r="0.8"/><circle cx="233.9" cy="174.85" r="0.8"/><circle cx="239.54" cy="164.89" r="0.8"/><circle cx="242.69" cy="176.15" r="0.8"/><circle cx="238.84" cy="179.21" r="0.8"/><circle cx="239.74" cy="171.31" r="0.8"/><circle cx="236.46" cy="168.88" r="0.8"/><circle cx="241.76" cy="166.7" r="0.8"/><circle cx="239.93" cy="176.27" r="0.8"/><circle cx="240.46" cy="171.73" r="0.8"/><circle cx="235.58" cy="167.48" r="0.8"/><circle cx="243.26" cy="167.78" r="0.8"/><circle cx="243.78" cy="173.54" r="0.8"/><circle cx="235.8" cy="167.59" r="0.8"/><circle cx="238.24" cy="171.24" r="0.8"/><circle cx="241.11" cy="167.07" r="0.8"/><circle cx="234.61" cy="168.43" r="0.8"/><circle cx="236.08" cy="171.92" r="0.8"/><circle cx="236.85" cy="169.82" r="0.8"/><circle cx="234.54" cy="170.99" r="0.8"/><circle cx="237.09" cy="174.7" r="0.8"/><circle cx="241.34" cy="172.41" r="0.8"/><circle cx="239.77" cy="179.12" r="0.8"/><circle cx="243.14" cy="167.1" r="0.8"/><circle cx="238.31" cy="166.01" r="0.8"/><circle cx="233.44" cy="172.35" r="0.8"/><circle cx="240.88" cy="168.29" r="0.8"/><circle cx="241.39" cy="174.04" r="0.8"/><circle cx="240.61" cy="170.69" r="0.8"/><circle cx="237.08" cy="164.57" r="0.8"/><circle cx="237.63" cy="179.41" r="0.8"/><circle cx="240.46" cy="170.36" r="0.8"/><circle cx="238.89" cy="175.72" r="0.8"/><circle cx="236.7" cy="174.07" r="0.8"/><circle cx="240.29" cy="173.47" r="0.8"/><circle cx="237.61" cy="162.99" r="0.8"/><circle cx="237.78" cy="172.99" r="0.8"/><circle cx="235.57" cy="179.91" r="0.8"/><circle cx="234.35" cy="177.85" r="0.8"/><circle cx="238.06" cy="169.88" r="0.8"/><circle cx="236.64" cy="178.22" r="0.8"/><circle cx="234.82" cy="176.55" r="0.8"/><circle cx="240.63" cy="170.55" r="0.8"/><circle cx="236.22" cy="170.34" r="0.8"/><circle cx="237.34" cy="168.22" r="0.8"/><circle cx="239.55" cy="169.89" r="0.8"/><circle cx="235.42" cy="176.22" r="0.8"/><circle cx="237.37" cy="170.99" r="0.8"/><circle cx="242.85" cy="170.66" r="0.8"/><circle cx="236.35" cy="178.41" r="0.8"/><circle cx="241.06" cy="167.88" r="0.8"/><circle cx="239.96" cy="174.4" r="0.8"/><circle cx="237.11" cy="174.13" r="0.8"/><circle cx="234.42" cy="176.18" r="0.8"/><circle cx="238.46" cy="179.85" r="0.8"/><circle cx="241.39" cy="167.24" r="0.8"/><circle cx="239.41" cy="166.57" r="0.8"/><circle cx="236.64" cy="180.09" r="0.8"/><circle cx="236.55" cy="173.03" r="0.8"/></g><g fill="#e31a1c" opacity="1"><circle cx="235.83" cy="174.99" r="0.8"/><circle cx="238.2" cy="179.49" r="0.8"/><circle cx="234.52" cy="178.13" r="0.8"/><circle cx="234.57" cy="174.15" r="0.8"/><circle cx="235.39" cy="168.47" r="0.8"/><circle cx="232.51" cy="176.06" r="0.8"/><circle cx="235.86" cy="176.53" r="0.8"/><circle cx="234.15" cy="178.07" r="0.8"/><circle cx="235.91" cy="178.99" r="0.8"/><circle cx="233.33" cy="175.2" r="0.8"/><circle cx="235.98" cy="163.56" r="0.8"/><circle cx="235.46" cy="165.9" r="0.8"/><circle cx="233.08" cy="171.92" r="0.8"/><circle cx="233.96" cy="179.22" r="0.8"/><circle cx="234.33" cy="176.69" r="0.8"/><circle cx="235.59" cy="168.94" r="0.8"/><circle cx="232.75" cy="174.73" r="0.8"/><circle cx="235.98" cy="172.49" r="0.8"/><circle cx="234.78" cy="178.5" r="0.8"/><circle cx="235.25" cy="177.42" r="0.8"/><circle cx="234.65" cy="178.79" r="0.8"/><circle cx="235.93" cy="176.56" r="0.8"/><circle cx="233.92" cy="174.04" r="0.8"/><circle cx="235.76" cy="178.92" r="0.8"/><circle cx="231.96" cy="177.79" r="0.8"/><circle cx="238.41" cy="170.98" r="0.8"/><circle cx="234.07" cy="172.86" r="0.8"/><circle cx="235.02" cy="175.29" r="0.8"/><circle cx="237.54" cy="164.55" r="0.8"/><circle cx="236.68" cy="174.45" r="0.8"/><circle cx="235.91" cy="175.15" r="0.8"/><circle cx="234.04" cy="178.67" r="0.8"/><circle cx="240.69" cy="176.03" r="0.8"/></g><g fill="#bdbdbd" opacity="1"></g><g fill="#e31a1c" opacity="1"><circle cx="223.31" cy="171.61" r="0.8"/><circle cx="223.22" cy="172.04" r="0.8"/><circle cx="221.32" cy="169.61" r="0.8"/><circle cx="219.89" cy="172.8" r="0.8"/><circle cx="223.47" cy="171.47" r="0.8"/><circle cx="225.37" cy="173.51" r="0.8"/><circle cx="220.51" cy="172.15" r="0.8"/><circle cx="222" cy="172.35" r="0.8"/><circle cx="219.75" cy="171.97" r="0.8"/><circle cx="222.48" cy="170.87" r="0.8"/><circle cx="221.25" cy="173.76" r="0.8"/><circle cx="219.86" cy="172.59" r="0.8"/><circle cx="222.3" cy="171.34" r="0.8"/><circle cx="225.09" cy="172.16" r="0.8"/><circle cx="223.03" cy="173.74" r="0.8"/><circle cx="223.55" cy="172.03" r="0.8"/><circle cx="219.7" cy="173.3" r="0.8"/><circle cx="223.95" cy="174.11" r="0.8"/><circle cx="223.8" cy="171.53" r="0.8"/><circle cx="221.71" cy="173.82" r="0.8"/><circle cx="222.88" cy="173.88" r="0.8"/><circle cx="223.18" cy="172.72" r="0.8"/><circle cx="219.98" cy="172.83" r="0.8"/><circle cx="225.47" cy="174.04" r="0.8"/><circle cx="220.97" cy="173.69" r="0.8"/><circle cx="220.17" cy="174.31" r="0.8"/><circle cx="223.84" cy="172.19" r="0.8"/><circle cx="221.84" cy="172.05" r="0.8"/><circle cx="224.14" cy="174.5" r="0.8"/><circle cx="224.37" cy="172.47" r="0.8"/><circle cx="226.62" cy="171.57" r="0.8"/><circle cx="227.84" cy="170.41" r="0.8"/><circle cx="231.08" cy="173.59" r="0.8"/><circle cx="226.84" cy="173.8" r="0.8"/><circle cx="227.93" cy="173.21" r="0.8"/><circle cx="229.65" cy="171.25" r="0.8"/><circle cx="231.87" cy="173.63" r="0.8"/><circle cx="229.11" cy="173.78" r="0.8"/><circle cx="225.77" cy="173.23" r="0.8"/><circle cx="228.15" cy="172.28" r="0.8"/><circle cx="227.68" cy="173.91" r="0.8"/><circle cx="230.37" cy="170.36" r="0.8"/><circle cx="226.51" cy="170.82" r="0.8"/><circle cx="226.12" cy="173.8" r="0.8"/><circle cx="231.02" cy="173.96" r="0.8"/><circle cx="227.72" cy="171.74" r="0.8"/><circle cx="226.62" cy="172.11" r="0.8"/><circle cx="229.97" cy="172.58" r="0.8"/><circle cx="225.22" cy="172.8" r="0.8"/><circle cx="229.42" cy="171.4" r="0.8"/><circle cx="225.38" cy="173.15" r="0.8"/><circle cx="231.81" cy="173.81" r="0.8"/><circle cx="229.13" cy="173.13" r="0.8"/><circle cx="225.8" cy="171.61" r="0.8"/><circle cx="225.21" cy="171.57" r="0.8"/><circle cx="227.1" cy="171.49" r="0.8"/><circle cx="229.76" cy="172.54" r="0.8"/><circle cx="228.54" cy="171.5" r="0.8"/><circle cx="227.3" cy="171.14" r="0.8"/><circle cx="227.63" cy="171.95" r="0.8"/><circle cx="226.81" cy="171.95" r="0.8"/><circle cx="224.87" cy="172.82" r="0.8"/><circle cx="227.39" cy="171.45" r="0.8"/><circle cx="225.93" cy="171.42" r="0.8"/><circle cx="231.3" cy="171.69" r="0.8"/><circle cx="227.11" cy="172.64" r="0.8"/><circle cx="231.2" cy="173.35" r="0.8"/><circle cx="230.06" cy="171.08" r="0.8"/><circle cx="230.18" cy="171.61" r="0.8"/><circle cx="227.73" cy="172.46" r="0.8"/></g><g fill="#bdbdbd" opacity="1"><circle cx="225.99" cy="192.02" r="0.8"/><circle cx="220.77" cy="196.56" r="0.8"/><circle cx="223.13" cy="193.39" r="0.8"/><circle cx="227.16" cy="186.65" r="0.8"/><circle cx="219" cy="196.72" r="0.8"/><circle cx="219.19" cy="201.22" r="0.8"/><circle cx="219.41" cy="199.27" r="0.8"/><circle cx="219.88" cy="201.1" r="0.8"/><circle cx="222.92" cy="200.06" r="0.8"/><circle cx="218.58" cy="199.34" r="0.8"/><circle cx="225.75" cy="189.93" r="0.8"/><circle cx="225.08" cy="193.63" r="0.8"/><circle cx="221.27" cy="196.14" r="0.8"/><circle cx="223.34" cy="194" r="0.8"/><circle cx="220.5" cy="194.57" r="0.8"/><circle cx="221.43" cy="196.15" r="0.8"/><circle cx="221.05" cy="197" r="0.8"/><circle cx="222.38" cy="192.75" r="0.8"/><circle cx="220.81" cy="197.57" r="0.8"/><circle cx="219.72" cy="199.49" r="0.8"/><circle cx="220.78" cy="194.08" r="0.8"/><circle cx="219.35" cy="201" r="0.8"/><circle cx="222.48" cy="195.69" r="0.8"/><circle cx="226.78" cy="189.17" r="0.8"/><circle cx="231.21" cy="185.06" r="0.8"/><circle cx="230.45" cy="184.63" r="0.8"/></g><g fill="#e31a1c" opacity="1"><circle cx="224.36" cy="191.76" r="0.8"/><circle cx="231.6" cy="182.19" r="0.8"/><circle cx="226.07" cy="186.36" r="0.8"/><circle cx="223.12" cy="195.17" r="0.8"/><circle cx="226.92" cy="191.26" r="0.8"/><circle cx="228.02" cy="190.37" r="0.8"/><circle cx="228.58" cy="186.51" r="0.8"/><circle cx="227.75" cy="187.73" r="0.8"/><circle cx="230.8" cy="183.16" r="0.8"/><circle cx="218.1" cy="200.54" r="0.8"/><circle cx="226.4" cy="189.07" r="0.8"/><circle cx="222.33" cy="193.4" r="0.8"/><circle cx="231.06" cy="186.08" r="0.8"/><circle cx="222.32" cy="194.37" r="0.8"/><circle cx="229.71" cy="186.41" r="0.8"/><circle cx="226.77" cy="187.83" r="0.8"/><circle cx="224.1" cy="192.84" r="0.8"/><circle cx="228.76" cy="185.87" r="0.8"/><circle cx="222.89" cy="194.26" r="0.8"/><circle cx="226.09" cy="187.3" r="0.8"/><circle cx="230.47" cy="183.67" r="0.8"/><circle cx="229.61" cy="184.2" r="0.8"/><circle cx="229.17" cy="184.55" r="0.8"/><circle cx="224.61" cy="190.24" r="0.8"/><circle cx="228.33" cy="186.69" r="0.8"/><circle cx="220.24" cy="197.32" r="0.8"/><circle cx="218.27" cy="199.02" r="0.8"/><circle cx="226.22" cy="188.76" r="0.8"/><circle cx="227.72" cy="184.2" r="0.8"/><circle cx="224.44" cy="190.74" r="0.8"/><circle cx="228" cy="187.02" r="0.8"/><circle cx="229.36" cy="185.33" r="0.8"/><circle cx="228.83" cy="186.4" r="0.8"/><circle cx="227.58" cy="189.68" r="0.8"/><circle cx="225.09" cy="191.09" r="0.8"/><circle cx="231.19" cy="182.08" r="0.8"/><circle cx="232.38" cy="184.65" r="0.8"/><circle cx="230.45" cy="185.81" r="0.8"/><circle cx="231.55" cy="185.52" r="0.8"/><circle cx="231.26" cy="185.33" r="0.8"/></g><g fill="#bdbdbd" opacity="1"><circle cx="212.29" cy="212.23" r="0.8"/><circle cx="210.65" cy="214.55" r="0.8"/><circle cx="210.26" cy="213.9" r="0.8"/><circle cx="222.39" cy="206.52" r="0.8"/><circle cx="212.45" cy="210.83" r="0.8"/><circle cx="217.37" cy="206.43" r="0.8"/><circle cx="216.97" cy="206.64" r="0.8"/><circle cx="215.26" cy="209.19" r="0.8"/><circle cx="215.14" cy="211.95" r="0.8"/><circle cx="214.97" cy="211.93" r="0.8"/><circle cx="211.16" cy="216.46" r="0.8"/><circle cx="214.82" cy="210.25" r="0.8"/><circle cx="217.68" cy="205.83" r="0.8"/><circle cx="216.58" cy="212.2" r="0.8"/><circle cx="215.69" cy="205.47" r="0.8"/><circle cx="220.4" cy="207.89" r="0.8"/><circle cx="212.48" cy="210.44" r="0.8"/><circle cx="213.72" cy="213.05" r="0.8"/><circle cx="218.8" cy="207.98" r="0.8"/><circle cx="213.37" cy="210.19" r="0.8"/><circle cx="216.99" cy="208.67" r="0.8"/><circle cx="213.76" cy="207.76" r="0.8"/><circle cx="216.61" cy="206.81" r="0.8"/><circle cx="216.55" cy="206.13" r="0.8"/><circle cx="216.03" cy="205.1" r="0.8"/><circle cx="211.62" cy="213.15" r="0.8"/><circle cx="219.08" cy="208" r="0.8"/><circle cx="218.37" cy="208.01" r="0.8"/><circle cx="213.93" cy="215.42" r="0.8"/><circle cx="210.58" cy="215.53" r="0.8"/><circle cx="214.21" cy="212.22" r="0.8"/><circle cx="213.16" cy="209.36" r="0.8"/><circle cx="214.45" cy="207.18" r="0.8"/><circle cx="218.97" cy="206.25" r="0.8"/><circle cx="211.39" cy="211.86" r="0.8"/><circle cx="218.29" cy="210.38" r="0.8"/><circle cx="215.48" cy="210.96" r="0.8"/><circle cx="215" cy="207.02" r="0.8"/><circle cx="214.88" cy="210.94" r="0.8"/><circle cx="215.18" cy="210.87" r="0.8"/><circle cx="210.98" cy="213.46" r="0.8"/><circle cx="223.04" cy="205.23" r="0.8"/><circle cx="211.59" cy="210.79" r="0.8"/><circle cx="222.61" cy="201.59" r="0.8"/><circle cx="213.24" cy="212.8" r="0.8"/><circle cx="212.82" cy="214.77" r="0.8"/><circle cx="218.3" cy="205.5" r="0.8"/><circle cx="211.35" cy="213.61" r="0.8"/><circle cx="217.29" cy="207.06" r="0.8"/><circle cx="217.08" cy="212.04" r="0.8"/><circle cx="219.63" cy="209.66" r="0.8"/><circle cx="215.95" cy="207.92" r="0.8"/><circle cx="217.8" cy="204.84" r="0.8"/><circle cx="220.95" cy="205.71" r="0.8"/><circle cx="210.87" cy="214.87" r="0.8"/><circle cx="219.3" cy="207.06" r="0.8"/><circle cx="217.33" cy="209.86" r="0.8"/><circle cx="211.83" cy="213.91" r="0.8"/><circle cx="223.86" cy="203.16" r="0.8"/><circle cx="212.9" cy="215.14" r="0.8"/><circle cx="213.04" cy="210.96" r="0.8"/><circle cx="215.92" cy="207.78" r="0.8"/><circle cx="216.38" cy="206.35" r="0.8"/><circle cx="216.19" cy="211.58" r="0.8"/><circle cx="219.96" cy="205.62" r="0.8"/><circle cx="221.83" cy="206.54" r="0.8"/><circle cx="212.89" cy="212.22" r="0.8"/><circle cx="213.95" cy="207.7" r="0.8"/><circle cx="214.72" cy="208.03" r="0.8"/><circle cx="221.17" cy="204.54" r="0.8"/><circle cx="223.29" cy="203.04" r="0.8"/><circle cx="213.95" cy="207.54" r="0.8"/><circle cx="212.5" cy="215.1" r="0.8"/><circle cx="213.11" cy="212.34" r="0.8"/><circle cx="215.56" cy="209.27" r="0.8"/><circle cx="215.38" cy="209.58" r="0.8"/><circle cx="219.41" cy="205.77" r="0.8"/><circle cx="216.72" cy="206.47" r="0.8"/><circle cx="222.42" cy="206.18" r="0.8"/><circle cx="216.02" cy="208.93" r="0.8"/><circle cx="216.75" cy="205.91" r="0.8"/><circle cx="220.54" cy="208.55" r="0.8"/><circle cx="219.41" cy="207.86" r="0.8"/><circle cx="217.34" cy="209.81" r="0.8"/><circle cx="211.62" cy="212.71" r="0.8"/><circle cx="216.69" cy="212.41" r="0.8"/><circle cx="214.01" cy="214.86" r="0.8"/><circle cx="220.93" cy="204.77" r="0.8"/><circle cx="213.52" cy="211.36" r="0.8"/><circle cx="215.53" cy="208.05" r="0.8"/><circle cx="215.9" cy="210.09" r="0.8"/><circle cx="216.26" cy="210.88" r="0.8"/><circle cx="218.41" cy="206" r="0.8"/><circle cx="220.03" cy="208.05" r="0.8"/><circle cx="217.22" cy="211.19" r="0.8"/><circle cx="214.27" cy="210.81" r="0.8"/><circle cx="211.66" cy="216.32" r="0.8"/><circle cx="219.7" cy="206.3" r="0.8"/><circle cx="221.3" cy="207.87" r="0.8"/><circle cx="219.5" cy="209.3" r="0.8"/><circle cx="215.61" cy="211.74" r="0.8"/><circle cx="209.8" cy="214.6" r="0.8"/><circle cx="218.52" cy="206.08" r="0.8"/><circle cx="219.32" cy="210.26" r="0.8"/></g><g fill="#e31a1c" opacity="1"><circle cx="222.97" cy="200.82" r="0.8"/><circle cx="218.54" cy="203.41" r="0.8"/><circle cx="223.32" cy="202.39" r="0.8"/><circle cx="222.85" cy="200.88" r="0.8"/><circle cx="220.98" cy="201.23" r="0.8"/><circle cx="218.74" cy="204.84" r="0.8"/><circle cx="214.25" cy="210.27" r="0.8"/><circle cx="219.7" cy="203.35" r="0.8"/><circle cx="221.98" cy="203.5" r="0.8"/><circle cx="220.03" cy="204.06" r="0.8"/><circle cx="219.58" cy="202.72" r="0.8"/><circle cx="219.47" cy="202.7" r="0.8"/><circle cx="212.56" cy="210.88" r="0.8"/><circle cx="214.69" cy="208.06" r="0.8"/><circle cx="219.34" cy="202.82" r="0.8"/><circle cx="219.43" cy="201.97" r="0.8"/><circle cx="221.78" cy="206.51" r="0.8"/><circle cx="223.28" cy="203.66" r="0.8"/><circle cx="221.12" cy="201.58" r="0.8"/><circle cx="221.33" cy="202.21" r="0.8"/><circle cx="221.55" cy="201.38" r="0.8"/><circle cx="222.11" cy="201.06" r="0.8"/><circle cx="212.58" cy="212.33" r="0.8"/><circle cx="221.86" cy="200.89" r="0.8"/><circle cx="216.99" cy="204.7" r="0.8"/><circle cx="221.82" cy="200.92" r="0.8"/></g><g fill="#bdbdbd" opacity="1"><circle cx="219.01" cy="215.37" r="0.8"/></g><g fill="#e31a1c" opacity="1"><circle cx="219.35" cy="217.52" r="0.8"/><circle cx="220.34" cy="217.37" r="0.8"/><circle cx="218.99" cy="216.73" r="0.8"/><circle cx="219.65" cy="216.81" r="0.8"/><circle cx="220.25" cy="217.06" r="0.8"/></g><g fill="#bdbdbd" opacity="1"><circle cx="189.95" cy="201.13" r="0.8"/><circle cx="189.41" cy="201.42" r="0.8"/><circle cx="190.56" cy="202.16" r="0.8"/><circle cx="188.89" cy="201.15" r="0.8"/><circle cx="190.54" cy="201.87" r="0.8"/><circle cx="189.27" cy="202.65" r="0.8"/><circle cx="189.53" cy="203" r="0.8"/></g><g fill="#e31a1c" opacity="1"></g><g fill="#bdbdbd" opacity="1"><circle cx="185.08" cy="230.84" r="0.8"/></g><g fill="#e31a1c" opacity="1"><circle cx="185.45" cy="231.16" r="0.8"/><circle cx="185.16" cy="231.03" r="0.8"/></g><g fill="#bdbdbd" opacity="1"><circle cx="183.31" cy="245.11" r="0.8"/><circle cx="184.05" cy="244.62" r="0.8"/><circle cx="189.53" cy="244.6" r="0.8"/><circle cx="184.45" cy="242.39" r="0.8"/><circle cx="185.86" cy="247.65" r="0.8"/><circle cx="189.37" cy="242.47" r="0.8"/><circle cx="185.74" cy="242.27" r="0.8"/><circle cx="184.76" cy="246.72" r="0.8"/><circle cx="183.79" cy="246.03" r="0.8"/><circle cx="183.2" cy="245.43" r="0.8"/></g><g fill="#e31a1c" opacity="1"><circle cx="186.44" cy="246.57" r="0.8"/><circle cx="185.56" cy="247.84" r="0.8"/><circle cx="185.17" cy="247.25" r="0.8"/><circle cx="185.06" cy="244.32" r="0.8"/><circle cx="187.5" cy="242.72" r="0.8"/><circle cx="187.62" cy="241.27" r="0.8"/><circle cx="185.67" cy="242.85" r="0.8"/><circle cx="190.56" cy="246.34" r="0.8"/><circle cx="189.36" cy="245.08" r="0.8"/><circle cx="191.1" cy="246.14" r="0.8"/><circle cx="189.85" cy="246.85" r="0.8"/><circle cx="183.66" cy="244.88" r="0.8"/><circle cx="188.56" cy="245.15" r="0.8"/><circle cx="187.36" cy="242.74" r="0.8"/><circle cx="182.73" cy="245.62" r="0.8"/><circle cx="184.73" cy="242.37" r="0.8"/><circle cx="185.18" cy="245.17" r="0.8"/><circle cx="185.36" cy="245.59" r="0.8"/><circle cx="184.66" cy="246.73" r="0.8"/><circle cx="182.94" cy="244.99" r="0.8"/><circle cx="190.59" cy="244.37" r="0.8"/><circle cx="187.52" cy="247.46" r="0.8"/><circle cx="189.12" cy="241.64" r="0.8"/><circle cx="189.57" cy="245.85" r="0.8"/><circle cx="185.46" cy="246.36" r="0.8"/><circle cx="188.08" cy="243.78" r="0.8"/><circle cx="187.52" cy="242.78" r="0.8"/><circle cx="185.02" cy="247.2" r="0.8"/><circle cx="185.67" cy="246.35" r="0.8"/><circle cx="185.85" cy="242.17" r="0.8"/><circle cx="188.18" cy="241.25" r="0.8"/><circle cx="188.43" cy="245.28" r="0.8"/><circle cx="187.18" cy="243.82" r="0.8"/><circle cx="185.29" cy="246.76" r="0.8"/><circle cx="187.59" cy="241.54" r="0.8"/><circle cx="182.31" cy="245.19" r="0.8"/><circle cx="189.21" cy="246.8" r="0.8"/><circle cx="189.64" cy="242.56" r="0.8"/><circle cx="187.68" cy="241.17" r="0.8"/><circle cx="185.87" cy="247.35" r="0.8"/><circle cx="185.71" cy="241.39" r="0.8"/><circle cx="186.55" cy="245.24" r="0.8"/><circle cx="188.91" cy="241.49" r="0.8"/><circle cx="187.61" cy="241.2" r="0.8"/><circle cx="186.64" cy="246.62" r="0.8"/><circle cx="184.56" cy="243.63" r="0.8"/><circle cx="187.82" cy="244.66" r="0.8"/><circle cx="189.29" cy="242.41" r="0.8"/><circle cx="184.09" cy="244.27" r="0.8"/><circle cx="184.95" cy="244.78" r="0.8"/><circle cx="182.94" cy="245.8" r="0.8"/><circle cx="186.37" cy="241.16" r="0.8"/><circle cx="186.09" cy="247.89" r="0.8"/><circle cx="182.88" cy="246.59" r="0.8"/><circle cx="188.36" cy="244.23" r="0.8"/></g><g fill="#bdbdbd" opacity="1"><circle cx="193.13" cy="246.21" r="0.8"/><circle cx="197.43" cy="246.54" r="0.8"/><circle cx="198.8" cy="246.08" r="0.8"/><circle cx="194.6" cy="245.31" r="0.8"/><circle cx="193.23" cy="245.4" r="0.8"/><circle cx="199.37" cy="245.94" r="0.8"/><circle cx="197.78" cy="246.14" r="0.8"/><circle cx="199.8" cy="245.18" r="0.8"/><circle cx="199.06" cy="246.54" r="0.8"/><circle cx="193.9" cy="244.46" r="0.8"/><circle cx="194.87" cy="246.82" r="0.8"/><circle cx="196" cy="246.16" r="0.8"/><circle cx="199.32" cy="246.67" r="0.8"/><circle cx="200.23" cy="246.05" r="0.8"/><circle cx="199.94" cy="244.48" r="0.8"/><circle cx="197.76" cy="245.66" r="0.8"/><circle cx="200.12" cy="245.57" r="0.8"/><circle cx="196.84" cy="245.77" r="0.8"/><circle cx="192.57" cy="245.25" r="0.8"/><circle cx="195.54" cy="245.78" r="0.8"/></g><g fill="#e31a1c" opacity="1"><circle cx="200.4" cy="245.81" r="0.8"/><circle cx="194.32" cy="245.44" r="0.8"/></g><circle cx="221.5" cy="229.7" r="4.2" fill="#bdbdbd"/><circle cx="221.5" cy="241.7" r="4.2" fill="#e31a1c"/><text x="229" y="232.6" font-size="8.86" text-anchor="start" fill="#222" textLength="11.84" lengthAdjust="spacingAndGlyphs">MF</text><text x="229" y="244.6" font-size="8.86" text-anchor="start" fill="#222" textLength="10.94" lengthAdjust="spacingAndGlyphs">SS</text><circle cx="40.2" cy="280.8" r="8" fill="#f07272"/><text x="40.2" y="283.4" font-size="7.78" text-anchor="middle" fill="#fff" textLength="4" lengthAdjust="spacingAndGlyphs">5</text><circle cx="40.2" cy="300.7" r="8" fill="#e68c1a"/><text x="40.2" y="303.3" font-size="7.78" text-anchor="middle" fill="#fff" textLength="4" lengthAdjust="spacingAndGlyphs">0</text><circle cx="40.2" cy="320.5" r="8" fill="#bea020"/><text x="40.2" y="323.1" font-size="7.78" text-anchor="middle" fill="#fff" textLength="4" lengthAdjust="spacingAndGlyphs">4</text><circle cx="40.2" cy="340.2" r="8" fill="#9eae20"/><text x="40.2" y="342.8" font-size="7.78" text-anchor="middle" fill="#fff" textLength="8.01" lengthAdjust="spacingAndGlyphs">10</text><circle cx="40.2" cy="360" r="8" fill="#40a838"/><text x="40.2" y="362.6" font-size="7.78" text-anchor="middle" fill="#fff" textLength="7.47" lengthAdjust="spacingAndGlyphs">11</text><circle cx="40.2" cy="380.1" r="8" fill="#28a262"/><text x="40.2" y="382.7" font-size="7.78" text-anchor="middle" fill="#fff" textLength="4" lengthAdjust="spacingAndGlyphs">2</text><circle cx="40.2" cy="400" r="8" fill="#20b0a0"/><text x="40.2" y="402.6" font-size="7.78" text-anchor="middle" fill="#fff" textLength="4" lengthAdjust="spacingAndGlyphs">6</text><circle cx="96.8" cy="280.9" r="8" fill="#22b6d6"/><text x="96.8" y="283.5" font-size="7.78" text-anchor="middle" fill="#fff" textLength="4" lengthAdjust="spacingAndGlyphs">7</text><circle cx="96.8" cy="300.7" r="8" fill="#3298d8"/><text x="96.8" y="303.3" font-size="7.78" text-anchor="middle" fill="#fff" textLength="4" lengthAdjust="spacingAndGlyphs">1</text><circle cx="96.8" cy="320.9" r="8" fill="#9494d4"/><text x="96.8" y="323.5" font-size="7.78" text-anchor="middle" fill="#fff" textLength="8.01" lengthAdjust="spacingAndGlyphs">12</text><circle cx="96.8" cy="340.3" r="8" fill="#a070c0"/><text x="96.8" y="342.9" font-size="7.78" text-anchor="middle" fill="#fff" textLength="4" lengthAdjust="spacingAndGlyphs">9</text><circle cx="96.8" cy="360" r="8" fill="#c060b0"/><text x="96.8" y="362.6" font-size="7.78" text-anchor="middle" fill="#fff" textLength="4" lengthAdjust="spacingAndGlyphs">8</text><circle cx="96.8" cy="380.1" r="8" fill="#e862a8"/><text x="96.8" y="382.7" font-size="7.78" text-anchor="middle" fill="#fff" textLength="4" lengthAdjust="spacingAndGlyphs">3</text><rect x="52.3" y="272.7" width="1.4" height="34.3" fill="#e87a7a"/><rect x="52.3" y="311.5" width="1.4" height="17" fill="#c8b860"/><rect x="52.3" y="332" width="1.4" height="16" fill="#a8b848"/><rect x="52.3" y="352" width="1.4" height="33" fill="#70b870"/><rect x="52.3" y="392" width="1.4" height="15.5" fill="#40b0a8"/><rect x="108.9" y="273.3" width="1.4" height="33.7" fill="#50b8d0"/><rect x="108.9" y="314" width="1.4" height="33.5" fill="#a0a0d0"/><rect x="108.9" y="352.2" width="1.4" height="15.5" fill="#c070b0"/><rect x="108.9" y="372" width="1.4" height="16" fill="#e070a8"/><text x="56" y="288.3" font-size="8" fill="#222">CD14<tspan font-size="4.96" dy="-3">+</tspan><tspan dy="3"></tspan></text><text x="56" y="297.3" font-size="8.64" text-anchor="start" fill="#222" textLength="20.01" lengthAdjust="spacingAndGlyphs">Mono</text><text x="56" y="320.4" font-size="8" fill="#222">CD16<tspan font-size="4.96" dy="-3">+</tspan><tspan dy="3"></tspan></text><text x="56" y="329.4" font-size="8.64" text-anchor="start" fill="#222" textLength="20.01" lengthAdjust="spacingAndGlyphs">Mono</text><text x="56" y="342.9" font-size="8.64" text-anchor="start" fill="#222" textLength="11.55" lengthAdjust="spacingAndGlyphs">DC</text><text x="56" y="372.3" font-size="8.64" text-anchor="start" fill="#222" textLength="11.11" lengthAdjust="spacingAndGlyphs">NK</text><text x="56" y="403.6" font-size="8" fill="#222">CD8<tspan font-size="4.96" dy="-3">+</tspan><tspan dy="3"> T</tspan></text><text x="113" y="292.8" font-size="8" fill="#222">CD4<tspan font-size="4.96" dy="-3">+</tspan><tspan dy="3"> T</tspan></text><text x="113" y="333.6" font-size="8.64" text-anchor="start" fill="#222" textLength="33.35" lengthAdjust="spacingAndGlyphs">Unknown</text><text x="113" y="363" font-size="8.64" text-anchor="start" fill="#222" textLength="5.34" lengthAdjust="spacingAndGlyphs">B</text><text x="113" y="383.2" font-size="8.64" text-anchor="start" fill="#222" textLength="26.68" lengthAdjust="spacingAndGlyphs">Plasma</text><rect x="341.5" y="138.4" width="5.8" height="5.8" fill="#bdbdbd"/><text x="350.3" y="144.3" font-size="8.53" text-anchor="start" fill="#222" textLength="60.5" lengthAdjust="spacingAndGlyphs">Mycosis fungoides</text><rect x="418.9" y="138.4" width="5.8" height="5.8" fill="#e31a1c"/><text x="428" y="144.3" font-size="8.53" text-anchor="start" fill="#222" textLength="55" lengthAdjust="spacingAndGlyphs">Sézary syndrome</text><rect x="313.1" y="151.8" width="13.1" height="5.73" fill="#e31a1c"/><rect x="313.1" y="157.53" width="13.1" height="94.87" fill="#bdbdbd"/><line x1="319.65" y1="252.4" x2="319.65" y2="254.9" stroke="#222" stroke-width="0.9"/><text x="319.65" y="266.3" font-size="8.64" text-anchor="middle" fill="#222" textLength="4.45" lengthAdjust="spacingAndGlyphs">5</text><rect x="328.36" y="151.8" width="13.1" height="92.35" fill="#e31a1c"/><rect x="328.36" y="244.15" width="13.1" height="8.25" fill="#bdbdbd"/><line x1="334.91" y1="252.4" x2="334.91" y2="254.9" stroke="#222" stroke-width="0.9"/><text x="334.91" y="266.3" font-size="8.64" text-anchor="middle" fill="#222" textLength="4.45" lengthAdjust="spacingAndGlyphs">0</text><rect x="343.62" y="151.8" width="13.1" height="46.28" fill="#e31a1c"/><rect x="343.62" y="198.08" width="13.1" height="54.32" fill="#bdbdbd"/><line x1="350.17" y1="252.4" x2="350.17" y2="254.9" stroke="#222" stroke-width="0.9"/><text x="350.17" y="266.3" font-size="8.64" text-anchor="middle" fill="#222" textLength="4.45" lengthAdjust="spacingAndGlyphs">4</text><rect x="358.88" y="151.8" width="13.1" height="33.9" fill="#e31a1c"/><rect x="358.88" y="185.7" width="13.1" height="66.7" fill="#bdbdbd"/><line x1="365.43" y1="252.4" x2="365.43" y2="254.9" stroke="#222" stroke-width="0.9"/><text x="365.43" y="266.3" font-size="8.64" text-anchor="middle" fill="#222" textLength="8.9" lengthAdjust="spacingAndGlyphs">10</text><rect x="374.14" y="151.8" width="13.1" height="43.96" fill="#e31a1c"/><rect x="374.14" y="195.76" width="13.1" height="56.64" fill="#bdbdbd"/><line x1="380.69" y1="252.4" x2="380.69" y2="254.9" stroke="#222" stroke-width="0.9"/><text x="380.69" y="266.3" font-size="8.64" text-anchor="middle" fill="#222" textLength="8.3" lengthAdjust="spacingAndGlyphs">11</text><rect x="389.4" y="151.8" width="13.1" height="18.71" fill="#e31a1c"/><rect x="389.4" y="170.51" width="13.1" height="81.89" fill="#bdbdbd"/><line x1="395.95" y1="252.4" x2="395.95" y2="254.9" stroke="#222" stroke-width="0.9"/><text x="395.95" y="266.3" font-size="8.64" text-anchor="middle" fill="#222" textLength="4.45" lengthAdjust="spacingAndGlyphs">2</text><rect x="404.66" y="151.8" width="13.1" height="53.92" fill="#e31a1c"/><rect x="404.66" y="205.72" width="13.1" height="46.68" fill="#bdbdbd"/><line x1="411.21" y1="252.4" x2="411.21" y2="254.9" stroke="#222" stroke-width="0.9"/><text x="411.21" y="266.3" font-size="8.64" text-anchor="middle" fill="#222" textLength="4.45" lengthAdjust="spacingAndGlyphs">6</text><rect x="419.92" y="151.8" width="13.1" height="100.6" fill="#e31a1c"/><rect x="419.92" y="252.4" width="13.1" height="0" fill="#bdbdbd"/><line x1="426.47" y1="252.4" x2="426.47" y2="254.9" stroke="#222" stroke-width="0.9"/><text x="426.47" y="266.3" font-size="8.64" text-anchor="middle" fill="#222" textLength="4.45" lengthAdjust="spacingAndGlyphs">7</text><rect x="435.18" y="151.8" width="13.1" height="23.44" fill="#e31a1c"/><rect x="435.18" y="175.24" width="13.1" height="77.16" fill="#bdbdbd"/><line x1="441.73" y1="252.4" x2="441.73" y2="254.9" stroke="#222" stroke-width="0.9"/><text x="441.73" y="266.3" font-size="8.64" text-anchor="middle" fill="#222" textLength="4.45" lengthAdjust="spacingAndGlyphs">1</text><rect x="450.44" y="151.8" width="13.1" height="40.24" fill="#e31a1c"/><rect x="450.44" y="192.04" width="13.1" height="60.36" fill="#bdbdbd"/><line x1="456.99" y1="252.4" x2="456.99" y2="254.9" stroke="#222" stroke-width="0.9"/><text x="456.99" y="266.3" font-size="8.64" text-anchor="middle" fill="#222" textLength="8.9" lengthAdjust="spacingAndGlyphs">12</text><rect x="465.7" y="151.8" width="13.1" height="0" fill="#e31a1c"/><rect x="465.7" y="151.8" width="13.1" height="100.6" fill="#bdbdbd"/><line x1="472.25" y1="252.4" x2="472.25" y2="254.9" stroke="#222" stroke-width="0.9"/><text x="472.25" y="266.3" font-size="8.64" text-anchor="middle" fill="#222" textLength="4.45" lengthAdjust="spacingAndGlyphs">9</text><rect x="480.96" y="151.8" width="13.1" height="26.46" fill="#e31a1c"/><rect x="480.96" y="178.26" width="13.1" height="74.14" fill="#bdbdbd"/><line x1="487.51" y1="252.4" x2="487.51" y2="254.9" stroke="#222" stroke-width="0.9"/><text x="487.51" y="266.3" font-size="8.64" text-anchor="middle" fill="#222" textLength="4.45" lengthAdjust="spacingAndGlyphs">8</text><rect x="496.22" y="151.8" width="13.1" height="57.34" fill="#e31a1c"/><rect x="496.22" y="209.14" width="13.1" height="43.26" fill="#bdbdbd"/><line x1="502.77" y1="252.4" x2="502.77" y2="254.9" stroke="#222" stroke-width="0.9"/><text x="502.77" y="266.3" font-size="8.64" text-anchor="middle" fill="#222" textLength="4.45" lengthAdjust="spacingAndGlyphs">3</text><line x1="310.5" y1="149.5" x2="310.5" y2="252.9" stroke="#222" stroke-width="1"/><line x1="307.7" y1="252.4" x2="511" y2="252.4" stroke="#222" stroke-width="1"/><line x1="306.9" y1="252.4" x2="310.5" y2="252.4" stroke="#222" stroke-width="0.9"/><text x="304.2" y="255.3" font-size="8.64" text-anchor="end" fill="#222" textLength="4.45" lengthAdjust="spacingAndGlyphs">0</text><line x1="306.9" y1="227.25" x2="310.5" y2="227.25" stroke="#222" stroke-width="0.9"/><text x="304.2" y="230.15" font-size="8.64" text-anchor="end" fill="#222" textLength="8.9" lengthAdjust="spacingAndGlyphs">25</text><line x1="306.9" y1="202.1" x2="310.5" y2="202.1" stroke="#222" stroke-width="0.9"/><text x="304.2" y="205" font-size="8.64" text-anchor="end" fill="#222" textLength="8.9" lengthAdjust="spacingAndGlyphs">50</text><line x1="306.9" y1="176.95" x2="310.5" y2="176.95" stroke="#222" stroke-width="0.9"/><text x="304.2" y="179.85" font-size="8.64" text-anchor="end" fill="#222" textLength="8.9" lengthAdjust="spacingAndGlyphs">75</text><line x1="306.9" y1="151.8" x2="310.5" y2="151.8" stroke="#222" stroke-width="0.9"/><text x="304.2" y="154.7" font-size="8.64" text-anchor="end" fill="#222" textLength="13.35" lengthAdjust="spacingAndGlyphs">100</text><text x="0" y="0" font-size="9.4" fill="#222" stroke="#222" stroke-width="0.25" textLength="29" lengthAdjust="spacingAndGlyphs" transform="translate(285.4,215.5) rotate(-90)">% of cells</text><text x="411.2" y="279.2" font-size="9.2" text-anchor="middle" fill="#222" stroke="#222" stroke-width="0.2" textLength="20.5" lengthAdjust="spacingAndGlyphs">Cluster</text><rect x="310.5" y="314.6" width="15.5" height="13.1" fill="#e3c48a"/><rect x="326" y="314.6" width="15.5" height="13.1" fill="#e3c48a"/><rect x="341.5" y="314.6" width="15.5" height="13.1" fill="#f2e3c0"/><rect x="357" y="314.6" width="15.5" height="13.1" fill="#f2e3c0"/><rect x="372.5" y="314.6" width="15.5" height="13.1" fill="#f0dcb0"/><rect x="388" y="314.6" width="15.5" height="13.1" fill="#b57a35"/><rect x="403.5" y="314.6" width="15.5" height="13.1" fill="#d6aa6c"/><rect x="419" y="314.6" width="15.5" height="13.1" fill="#eed8a8"/><rect x="434.5" y="314.6" width="15.5" height="13.1" fill="#e8cc92"/><rect x="450" y="314.6" width="15.5" height="13.1" fill="#f3ead5"/><rect x="465.5" y="314.6" width="15.5" height="13.1" fill="#c88a45"/><rect x="481" y="314.6" width="15.5" height="13.1" fill="#bfe2e0"/><rect x="496.5" y="314.6" width="15.5" height="13.1" fill="#d2ecea"/><rect x="310.5" y="327.7" width="15.5" height="13.1" fill="#e5c78e"/><rect x="326" y="327.7" width="15.5" height="13.1" fill="#e5c78e"/><rect x="341.5" y="327.7" width="15.5" height="13.1" fill="#f3e4c2"/><rect x="357" y="327.7" width="15.5" height="13.1" fill="#f3e4c2"/><rect x="372.5" y="327.7" width="15.5" height="13.1" fill="#d8ad6c"/><rect x="388" y="327.7" width="15.5" height="13.1" fill="#8e5418"/><rect x="403.5" y="327.7" width="15.5" height="13.1" fill="#a56a28"/><rect x="419" y="327.7" width="15.5" height="13.1" fill="#d5a563"/><rect x="434.5" y="327.7" width="15.5" height="13.1" fill="#d2a05e"/><rect x="450" y="327.7" width="15.5" height="13.1" fill="#f3e8d0"/><rect x="465.5" y="327.7" width="15.5" height="13.1" fill="#c98d48"/><rect x="481" y="327.7" width="15.5" height="13.1" fill="#b8e0dc"/><rect x="496.5" y="327.7" width="15.5" height="13.1" fill="#a9dad4"/><rect x="310.5" y="340.8" width="15.5" height="13.1" fill="#8fd0ca"/><rect x="326" y="340.8" width="15.5" height="13.1" fill="#9dd6d0"/><rect x="341.5" y="340.8" width="15.5" height="13.1" fill="#c0e6e2"/><rect x="357" y="340.8" width="15.5" height="13.1" fill="#a9dbd6"/><rect x="372.5" y="340.8" width="15.5" height="13.1" fill="#c48638"/><rect x="388" y="340.8" width="15.5" height="13.1" fill="#a0621f"/><rect x="403.5" y="340.8" width="15.5" height="13.1" fill="#9a5c1c"/><rect x="419" y="340.8" width="15.5" height="13.1" fill="#a86a25"/><rect x="434.5" y="340.8" width="15.5" height="13.1" fill="#9a5c1c"/><rect x="450" y="340.8" width="15.5" height="13.1" fill="#f1ede3"/><rect x="465.5" y="340.8" width="15.5" height="13.1" fill="#ecd4a0"/><rect x="481" y="340.8" width="15.5" height="13.1" fill="#d8a460"/><rect x="496.5" y="340.8" width="15.5" height="13.1" fill="#c8863c"/><rect x="310.5" y="353.9" width="15.5" height="13.1" fill="#17766d"/><rect x="326" y="353.9" width="15.5" height="13.1" fill="#1a7c72"/><rect x="341.5" y="353.9" width="15.5" height="13.1" fill="#2a9a8f"/><rect x="357" y="353.9" width="15.5" height="13.1" fill="#74c0b6"/><rect x="372.5" y="353.9" width="15.5" height="13.1" fill="#e6c68c"/><rect x="388" y="353.9" width="15.5" height="13.1" fill="#dcb374"/><rect x="403.5" y="353.9" width="15.5" height="13.1" fill="#cf9c58"/><rect x="419" y="353.9" width="15.5" height="13.1" fill="#dcb374"/><rect x="434.5" y="353.9" width="15.5" height="13.1" fill="#d3a060"/><rect x="450" y="353.9" width="15.5" height="13.1" fill="#f2efe8"/><rect x="465.5" y="353.9" width="15.5" height="13.1" fill="#efdcac"/><rect x="481" y="353.9" width="15.5" height="13.1" fill="#e2bf80"/><rect x="496.5" y="353.9" width="15.5" height="13.1" fill="#d9a766"/><rect x="310.5" y="367" width="15.5" height="13.1" fill="#177369"/><rect x="326" y="367" width="15.5" height="13.1" fill="#1c7e74"/><rect x="341.5" y="367" width="15.5" height="13.1" fill="#3aa294"/><rect x="357" y="367" width="15.5" height="13.1" fill="#7bc4ba"/><rect x="372.5" y="367" width="15.5" height="13.1" fill="#d8a664"/><rect x="388" y="367" width="15.5" height="13.1" fill="#c4833a"/><rect x="403.5" y="367" width="15.5" height="13.1" fill="#b87a32"/><rect x="419" y="367" width="15.5" height="13.1" fill="#c4833a"/><rect x="434.5" y="367" width="15.5" height="13.1" fill="#c08037"/><rect x="450" y="367" width="15.5" height="13.1" fill="#f2efe8"/><rect x="465.5" y="367" width="15.5" height="13.1" fill="#f0deb0"/><rect x="481" y="367" width="15.5" height="13.1" fill="#ddb575"/><rect x="496.5" y="367" width="15.5" height="13.1" fill="#d4a060"/><rect x="310.5" y="380.1" width="15.5" height="13.1" fill="#2a9187"/><rect x="326" y="380.1" width="15.5" height="13.1" fill="#2a9187"/><rect x="341.5" y="380.1" width="15.5" height="13.1" fill="#16706a"/><rect x="357" y="380.1" width="15.5" height="13.1" fill="#7bc4ba"/><rect x="372.5" y="380.1" width="15.5" height="13.1" fill="#f4efe2"/><rect x="388" y="380.1" width="15.5" height="13.1" fill="#f4ecd8"/><rect x="403.5" y="380.1" width="15.5" height="13.1" fill="#e5c48a"/><rect x="419" y="380.1" width="15.5" height="13.1" fill="#dcb274"/><rect x="434.5" y="380.1" width="15.5" height="13.1" fill="#d4a262"/><rect x="450" y="380.1" width="15.5" height="13.1" fill="#dff0ee"/><rect x="465.5" y="380.1" width="15.5" height="13.1" fill="#f0dba8"/><rect x="481" y="380.1" width="15.5" height="13.1" fill="#ecd3a0"/><rect x="496.5" y="380.1" width="15.5" height="13.1" fill="#e2c080"/><rect x="310.5" y="393.2" width="15.5" height="13.1" fill="#e2bd80"/><rect x="326" y="393.2" width="15.5" height="13.1" fill="#e2bd80"/><rect x="341.5" y="393.2" width="15.5" height="13.1" fill="#f3e6c6"/><rect x="357" y="393.2" width="15.5" height="13.1" fill="#ebcf99"/><rect x="372.5" y="393.2" width="15.5" height="13.1" fill="#4fb3a8"/><rect x="388" y="393.2" width="15.5" height="13.1" fill="#5cb8ad"/><rect x="403.5" y="393.2" width="15.5" height="13.1" fill="#dbefec"/><rect x="419" y="393.2" width="15.5" height="13.1" fill="#f4e6c6"/><rect x="434.5" y="393.2" width="15.5" height="13.1" fill="#eed7a5"/><rect x="450" y="393.2" width="15.5" height="13.1" fill="#d09d58"/><rect x="465.5" y="393.2" width="15.5" height="13.1" fill="#c38038"/><rect x="481" y="393.2" width="15.5" height="13.1" fill="#b57028"/><rect x="496.5" y="393.2" width="15.5" height="13.1" fill="#8e5216"/><rect x="310.5" y="406.3" width="15.5" height="13.1" fill="#e3c080"/><rect x="326" y="406.3" width="15.5" height="13.1" fill="#e3c080"/><rect x="341.5" y="406.3" width="15.5" height="13.1" fill="#f4e8cc"/><rect x="357" y="406.3" width="15.5" height="13.1" fill="#f0dcae"/><rect x="372.5" y="406.3" width="15.5" height="13.1" fill="#c1e4e0"/><rect x="388" y="406.3" width="15.5" height="13.1" fill="#f3ecda"/><rect x="403.5" y="406.3" width="15.5" height="13.1" fill="#dff0ed"/><rect x="419" y="406.3" width="15.5" height="13.1" fill="#7ec7bf"/><rect x="434.5" y="406.3" width="15.5" height="13.1" fill="#84c9c1"/><rect x="450" y="406.3" width="15.5" height="13.1" fill="#d9a866"/><rect x="465.5" y="406.3" width="15.5" height="13.1" fill="#cc9048"/><rect x="481" y="406.3" width="15.5" height="13.1" fill="#d6a25f"/><rect x="496.5" y="406.3" width="15.5" height="13.1" fill="#b8772f"/><rect x="310.5" y="419.4" width="15.5" height="13.1" fill="#f3e2b8"/><rect x="326" y="419.4" width="15.5" height="13.1" fill="#f3e2b8"/><rect x="341.5" y="419.4" width="15.5" height="13.1" fill="#f3e7cc"/><rect x="357" y="419.4" width="15.5" height="13.1" fill="#efd8a4"/><rect x="372.5" y="419.4" width="15.5" height="13.1" fill="#8acdc5"/><rect x="388" y="419.4" width="15.5" height="13.1" fill="#8acdc5"/><rect x="403.5" y="419.4" width="15.5" height="13.1" fill="#8ccec6"/><rect x="419" y="419.4" width="15.5" height="13.1" fill="#dff0ed"/><rect x="434.5" y="419.4" width="15.5" height="13.1" fill="#e6f2f0"/><rect x="450" y="419.4" width="15.5" height="13.1" fill="#ecd2a0"/><rect x="465.5" y="419.4" width="15.5" height="13.1" fill="#c98d48"/><rect x="481" y="419.4" width="15.5" height="13.1" fill="#e8cc90"/><rect x="496.5" y="419.4" width="15.5" height="13.1" fill="#e3c383"/><path d="M310.5,314.6V432.5M326,314.6V432.5M341.5,314.6V432.5M357,314.6V432.5M372.5,314.6V432.5M388,314.6V432.5M403.5,314.6V432.5M419,314.6V432.5M434.5,314.6V432.5M450,314.6V432.5M465.5,314.6V432.5M481,314.6V432.5M496.5,314.6V432.5M512,314.6V432.5M310.5,314.6H512M310.5,327.7H512M310.5,340.8H512M310.5,353.9H512M310.5,367H512M310.5,380.1H512M310.5,393.2H512M310.5,406.3H512M310.5,419.4H512M310.5,432.5H512" stroke="#2e2a22" stroke-width="0.8" fill="none"/><text x="307.2" y="324.05" font-size="8.53" text-anchor="end" fill="#222" textLength="52.24" lengthAdjust="spacingAndGlyphs">B_cell:Memory</text><text x="307.2" y="337.15" font-size="8.53" text-anchor="end" fill="#222" textLength="43.91" lengthAdjust="spacingAndGlyphs">B_cell:Naive</text><text x="307.2" y="350.25" font-size="8.53" text-anchor="end" fill="#222" textLength="76.39" lengthAdjust="spacingAndGlyphs">DC:monocyte-derived</text><text x="307.2" y="363.35" font-size="8.53" text-anchor="end" fill="#222" textLength="61.25" lengthAdjust="spacingAndGlyphs">Monocyte:CD14+</text><text x="307.2" y="376.45" font-size="8.53" text-anchor="end" fill="#222" textLength="59.27" lengthAdjust="spacingAndGlyphs">Monocyte:CD16−</text><text x="307.2" y="389.55" font-size="8.53" text-anchor="end" fill="#222" textLength="61.25" lengthAdjust="spacingAndGlyphs">Monocyte:CD16+</text><text x="307.2" y="402.65" font-size="8.53" text-anchor="end" fill="#222" textLength="40.4" lengthAdjust="spacingAndGlyphs">NK_cell:IL2</text><text x="307.2" y="415.75" font-size="8.53" text-anchor="end" fill="#222" textLength="81.44" lengthAdjust="spacingAndGlyphs">CD4+_central_memory</text><text x="307.2" y="428.85" font-size="8.53" text-anchor="end" fill="#222" textLength="43.68" lengthAdjust="spacingAndGlyphs">T_cell:CD8+</text><text x="318.25" y="443.2" font-size="8.64" text-anchor="middle" fill="#222" textLength="4.45" lengthAdjust="spacingAndGlyphs">5</text><text x="333.75" y="443.2" font-size="8.64" text-anchor="middle" fill="#222" textLength="4.45" lengthAdjust="spacingAndGlyphs">0</text><text x="349.25" y="443.2" font-size="8.64" text-anchor="middle" fill="#222" textLength="4.45" lengthAdjust="spacingAndGlyphs">4</text><text x="364.75" y="443.2" font-size="8.64" text-anchor="middle" fill="#222" textLength="8.9" lengthAdjust="spacingAndGlyphs">10</text><text x="380.25" y="443.2" font-size="8.64" text-anchor="middle" fill="#222" textLength="8.3" lengthAdjust="spacingAndGlyphs">11</text><text x="395.75" y="443.2" font-size="8.64" text-anchor="middle" fill="#222" textLength="4.45" lengthAdjust="spacingAndGlyphs">2</text><text x="411.25" y="443.2" font-size="8.64" text-anchor="middle" fill="#222" textLength="4.45" lengthAdjust="spacingAndGlyphs">6</text><text x="426.75" y="443.2" font-size="8.64" text-anchor="middle" fill="#222" textLength="4.45" lengthAdjust="spacingAndGlyphs">7</text><text x="442.25" y="443.2" font-size="8.64" text-anchor="middle" fill="#222" textLength="4.45" lengthAdjust="spacingAndGlyphs">1</text><text x="457.75" y="443.2" font-size="8.64" text-anchor="middle" fill="#222" textLength="8.9" lengthAdjust="spacingAndGlyphs">12</text><text x="473.25" y="443.2" font-size="8.64" text-anchor="middle" fill="#222" textLength="4.45" lengthAdjust="spacingAndGlyphs">9</text><text x="488.75" y="443.2" font-size="8.64" text-anchor="middle" fill="#222" textLength="4.45" lengthAdjust="spacingAndGlyphs">8</text><text x="504.25" y="443.2" font-size="8.64" text-anchor="middle" fill="#222" textLength="4.45" lengthAdjust="spacingAndGlyphs">3</text><path d="M318.25,314.6V313H333.75V314.6M349.25,314.6V311.4H364.75V314.6M326,313V309.7H357V311.4M395.75,314.6V312.8H411.25V314.6M380.25,314.6V310.6H403.5V312.8M426.75,314.6V313.6H442.25V314.6M391.88,310.6V307.9H434.5V313.6M457.75,314.6V309.8H473.25V314.6M488.75,314.6V312H504.25V314.6M465.5,309.8V306H496.5V312M413.19,307.9V301.7H481V306M341.5,309.7V297.2H447.09V301.7" stroke="#444" stroke-width="0.75" fill="none"/><defs><linearGradient id="brbg" x1="0" x2="1" y1="0" y2="0"><stop offset="0" stop-color="#8c510a"/><stop offset="0.2" stop-color="#b8752a"/><stop offset="0.38" stop-color="#dfc27d"/><stop offset="0.5" stop-color="#f5f5f5"/><stop offset="0.62" stop-color="#c7eae5"/><stop offset="0.8" stop-color="#5ab4ac"/><stop offset="1" stop-color="#01665e"/></linearGradient></defs><rect x="407" y="448.2" width="51" height="8.6" fill="url(#brbg)" stroke="#555" stroke-width="0.4"/><text x="380.6" y="455.4" font-size="8.53" text-anchor="middle" fill="#222" textLength="46.2" lengthAdjust="spacingAndGlyphs">Identity score</text><text x="408.8" y="467.3" font-size="8.53" text-anchor="middle" fill="#222" textLength="15" lengthAdjust="spacingAndGlyphs">Low</text><text x="456.6" y="467.3" font-size="8.53" text-anchor="middle" fill="#222" textLength="15.7" lengthAdjust="spacingAndGlyphs">High</text><rect x="76.05" y="520.3" width="20.6" height="173.9" rx="1.2" fill="#fff" stroke="#3a3a3a" stroke-width="1"/><text x="0" y="0" font-size="8.1" font-style="italic" fill="#222" transform="translate(85.75,515.4) rotate(-45)">PTPRC</text><rect x="101" y="520.3" width="20.6" height="173.9" rx="1.2" fill="#fff" stroke="#3a3a3a" stroke-width="1"/><text x="0" y="0" font-size="8.1" font-style="italic" fill="#222" transform="translate(110.7,515.4) rotate(-45)">CD14</text><rect x="125.95" y="520.3" width="20.6" height="173.9" rx="1.2" fill="#fff" stroke="#3a3a3a" stroke-width="1"/><text x="0" y="0" font-size="8.1" font-style="italic" fill="#222" transform="translate(135.65,515.4) rotate(-45)">FCGR3A</text><rect x="150.9" y="520.3" width="20.6" height="173.9" rx="1.2" fill="#fff" stroke="#3a3a3a" stroke-width="1"/><text x="0" y="0" font-size="8.1" font-style="italic" fill="#222" transform="translate(160.6,515.4) rotate(-45)">CCR2</text><rect x="175.85" y="520.3" width="20.6" height="173.9" rx="1.2" fill="#fff" stroke="#3a3a3a" stroke-width="1"/><text x="0" y="0" font-size="8.1" font-style="italic" fill="#222" transform="translate(185.55,515.4) rotate(-45)">CD3D</text><rect x="200.8" y="520.3" width="20.6" height="173.9" rx="1.2" fill="#fff" stroke="#3a3a3a" stroke-width="1"/><text x="0" y="0" font-size="8.1" font-style="italic" fill="#222" transform="translate(210.5,515.4) rotate(-45)">IL7R</text><rect x="225.75" y="520.3" width="20.6" height="173.9" rx="1.2" fill="#fff" stroke="#3a3a3a" stroke-width="1"/><text x="0" y="0" font-size="8.1" font-style="italic" fill="#222" transform="translate(235.45,515.4) rotate(-45)">CCR7</text><rect x="250.7" y="520.3" width="20.6" height="173.9" rx="1.2" fill="#fff" stroke="#3a3a3a" stroke-width="1"/><text x="0" y="0" font-size="8.1" font-style="italic" fill="#222" transform="translate(260.4,515.4) rotate(-45)">CD8A</text><rect x="275.65" y="520.3" width="20.6" height="173.9" rx="1.2" fill="#fff" stroke="#3a3a3a" stroke-width="1"/><text x="0" y="0" font-size="8.1" font-style="italic" fill="#222" transform="translate(285.35,515.4) rotate(-45)">CD8B</text><rect x="300.6" y="520.3" width="20.6" height="173.9" rx="1.2" fill="#fff" stroke="#3a3a3a" stroke-width="1"/><text x="0" y="0" font-size="8.1" font-style="italic" fill="#222" transform="translate(310.3,515.4) rotate(-45)">TRDC</text><rect x="325.55" y="520.3" width="20.6" height="173.9" rx="1.2" fill="#fff" stroke="#3a3a3a" stroke-width="1"/><text x="0" y="0" font-size="8.1" font-style="italic" fill="#222" transform="translate(335.25,515.4) rotate(-45)">GZMA</text><rect x="350.5" y="520.3" width="20.6" height="173.9" rx="1.2" fill="#fff" stroke="#3a3a3a" stroke-width="1"/><text x="0" y="0" font-size="8.1" font-style="italic" fill="#222" transform="translate(360.2,515.4) rotate(-45)">GZMB</text><rect x="375.45" y="520.3" width="20.6" height="173.9" rx="1.2" fill="#fff" stroke="#3a3a3a" stroke-width="1"/><text x="0" y="0" font-size="8.1" font-style="italic" fill="#222" transform="translate(385.15,515.4) rotate(-45)">NKG7</text><rect x="400.4" y="520.3" width="20.6" height="173.9" rx="1.2" fill="#fff" stroke="#3a3a3a" stroke-width="1"/><text x="0" y="0" font-size="8.1" font-style="italic" fill="#222" transform="translate(410.1,515.4) rotate(-45)">CD79A</text><rect x="425.35" y="520.3" width="20.6" height="173.9" rx="1.2" fill="#fff" stroke="#3a3a3a" stroke-width="1"/><text x="0" y="0" font-size="8.1" font-style="italic" fill="#222" transform="translate(435.05,515.4) rotate(-45)">MS4A1</text><rect x="450.3" y="520.3" width="20.6" height="173.9" rx="1.2" fill="#fff" stroke="#3a3a3a" stroke-width="1"/><text x="0" y="0" font-size="8.1" font-style="italic" fill="#222" transform="translate(460,515.4) rotate(-45)">CD1C</text><rect x="475.25" y="520.3" width="20.6" height="173.9" rx="1.2" fill="#fff" stroke="#3a3a3a" stroke-width="1"/><text x="0" y="0" font-size="8.1" font-style="italic" fill="#222" transform="translate(484.95,515.4) rotate(-45)">CLEC10A</text><polygon points="76.55,526.4 76.75,526.61 76.95,526.8 77.15,526.99 77.35,527.16 77.55,527.33 77.75,527.48 77.95,527.62 78.14,527.65 78.34,527.65 78.54,527.65 78.74,527.65 78.94,527.65 79.14,527.65 79.34,527.65 79.54,527.65 79.74,527.65 79.94,527.65 80.14,527.65 80.34,527.65 80.54,527.65 80.74,527.65 80.94,527.65 81.14,527.65 81.33,527.65 81.53,527.65 81.73,527.65 81.93,527.65 82.13,527.65 82.33,527.65 82.53,527.65 82.73,527.65 82.93,527.65 83.13,527.43 83.33,526.88 83.53,526.4 83.73,525.96 83.93,525.55 84.13,525.17 84.33,524.82 84.52,524.49 84.72,524.18 84.92,523.89 85.12,523.63 85.32,523.38 85.52,523.15 85.72,522.95 85.92,522.76 86.12,522.59 86.32,522.45 86.52,522.32 86.72,522.22 86.92,522.15 87.12,522.11 87.32,522.1 87.52,522.1 87.71,522.11 87.91,522.12 88.11,522.14 88.31,522.17 88.51,522.2 88.71,522.25 88.91,522.31 89.11,522.38 89.31,522.46 89.51,522.56 89.71,522.67 89.91,522.8 90.11,522.95 90.31,523.12 90.51,523.31 90.71,523.53 90.9,523.78 91.1,524.07 91.3,524.4 91.5,524.77 91.7,525.22 91.9,525.75 92.1,526.46 92.3,527.9 92.3,527.9 92.1,529.34 91.9,530.05 91.7,530.58 91.5,531.03 91.3,531.4 91.1,531.73 90.9,532.02 90.71,532.27 90.51,532.49 90.31,532.68 90.11,532.85 89.91,533 89.71,533.13 89.51,533.24 89.31,533.34 89.11,533.42 88.91,533.49 88.71,533.55 88.51,533.6 88.31,533.63 88.11,533.66 87.91,533.68 87.71,533.69 87.52,533.7 87.32,533.7 87.12,533.69 86.92,533.65 86.72,533.58 86.52,533.48 86.32,533.35 86.12,533.21 85.92,533.04 85.72,532.85 85.52,532.65 85.32,532.42 85.12,532.17 84.92,531.91 84.72,531.62 84.52,531.31 84.33,530.98 84.13,530.63 83.93,530.25 83.73,529.84 83.53,529.4 83.33,528.92 83.13,528.37 82.93,528.15 82.73,528.15 82.53,528.15 82.33,528.15 82.13,528.15 81.93,528.15 81.73,528.15 81.53,528.15 81.33,528.15 81.14,528.15 80.94,528.15 80.74,528.15 80.54,528.15 80.34,528.15 80.14,528.15 79.94,528.15 79.74,528.15 79.54,528.15 79.34,528.15 79.14,528.15 78.94,528.15 78.74,528.15 78.54,528.15 78.34,528.15 78.14,528.15 77.95,528.18 77.75,528.32 77.55,528.47 77.35,528.64 77.15,528.81 76.95,529 76.75,529.19 76.55,529.4" fill="#ef6f6a"/><polygon points="76.55,538.07 76.75,538.4 76.95,538.71 77.14,539.02 77.34,539.31 77.54,539.59 77.74,539.85 77.93,540.1 78.13,540.33 78.33,540.55 78.53,540.74 78.73,540.82 78.92,540.82 79.12,540.82 79.32,540.82 79.52,540.82 79.71,540.82 79.91,540.82 80.11,540.82 80.31,540.82 80.51,540.82 80.7,540.82 80.9,540.82 81.1,540.82 81.3,540.82 81.49,540.82 81.69,540.82 81.89,540.82 82.09,540.82 82.29,540.6 82.48,540.35 82.68,540.13 82.88,539.93 83.08,539.74 83.28,539.57 83.47,539.41 83.67,539.26 83.87,539.13 84.07,539.01 84.26,538.9 84.46,538.81 84.66,538.73 84.86,538.66 85.06,538.61 85.25,538.58 85.45,538.57 85.65,538.57 85.85,538.57 86.04,538.58 86.24,538.59 86.44,538.6 86.64,538.62 86.84,538.64 87.03,538.67 87.23,538.71 87.43,538.75 87.63,538.8 87.82,538.87 88.02,538.94 88.22,539.02 88.42,539.11 88.62,539.22 88.81,539.34 89.01,539.49 89.21,539.65 89.41,539.85 89.6,540.09 89.8,540.41 90,541.07 90,541.07 89.8,541.73 89.6,542.05 89.41,542.29 89.21,542.49 89.01,542.65 88.81,542.8 88.62,542.92 88.42,543.03 88.22,543.12 88.02,543.2 87.82,543.27 87.63,543.34 87.43,543.39 87.23,543.43 87.03,543.47 86.84,543.5 86.64,543.52 86.44,543.54 86.24,543.55 86.04,543.56 85.85,543.57 85.65,543.57 85.45,543.57 85.25,543.56 85.06,543.53 84.86,543.48 84.66,543.41 84.46,543.33 84.26,543.24 84.07,543.13 83.87,543.01 83.67,542.88 83.47,542.73 83.28,542.57 83.08,542.4 82.88,542.21 82.68,542.01 82.48,541.79 82.29,541.54 82.09,541.32 81.89,541.32 81.69,541.32 81.49,541.32 81.3,541.32 81.1,541.32 80.9,541.32 80.7,541.32 80.51,541.32 80.31,541.32 80.11,541.32 79.91,541.32 79.71,541.32 79.52,541.32 79.32,541.32 79.12,541.32 78.92,541.32 78.73,541.32 78.53,541.4 78.33,541.59 78.13,541.81 77.93,542.04 77.74,542.29 77.54,542.55 77.34,542.83 77.14,543.12 76.95,543.43 76.75,543.74 76.55,544.07" fill="#df8a1c"/><polygon points="76.55,552.24 76.75,552.46 76.95,552.67 77.14,552.87 77.34,553.07 77.54,553.25 77.74,553.43 77.94,553.6 78.14,553.75 78.33,553.89 78.53,553.99 78.73,553.99 78.93,553.99 79.13,553.99 79.33,553.99 79.52,553.99 79.72,553.99 79.92,553.99 80.12,553.99 80.32,553.99 80.52,553.99 80.71,553.99 80.91,553.99 81.11,553.99 81.31,553.99 81.51,553.99 81.71,553.99 81.9,553.99 82.1,553.99 82.3,553.99 82.5,553.99 82.7,553.99 82.9,553.84 83.09,553.65 83.29,553.45 83.49,553.25 83.69,553.05 83.89,552.85 84.09,552.65 84.28,552.46 84.48,552.26 84.68,552.06 84.88,551.86 85.08,551.66 85.28,551.47 85.47,551.27 85.67,551.07 85.87,550.87 86.07,550.67 86.27,550.47 86.46,550.28 86.66,550.08 86.86,549.88 87.06,549.68 87.26,549.48 87.46,549.28 87.65,549.09 87.85,548.89 88.05,548.69 88.25,548.49 88.45,548.29 88.65,548.4 88.84,548.62 89.04,548.83 89.24,549.05 89.44,549.26 89.64,549.48 89.84,549.7 90.03,549.91 90.23,550.13 90.43,550.35 90.63,550.56 90.83,550.78 91.03,551 91.22,551.21 91.42,551.43 91.62,551.64 91.82,551.86 92.02,552.08 92.22,552.29 92.41,552.51 92.61,552.73 92.81,552.94 93.01,553.16 93.21,553.37 93.41,553.59 93.6,553.81 93.8,554.02 94,554.24 94,554.24 93.8,554.46 93.6,554.67 93.41,554.89 93.21,555.11 93.01,555.32 92.81,555.54 92.61,555.75 92.41,555.97 92.22,556.19 92.02,556.4 91.82,556.62 91.62,556.84 91.42,557.05 91.22,557.27 91.03,557.48 90.83,557.7 90.63,557.92 90.43,558.13 90.23,558.35 90.03,558.57 89.84,558.78 89.64,559 89.44,559.22 89.24,559.43 89.04,559.65 88.84,559.86 88.65,560.08 88.45,560.19 88.25,559.99 88.05,559.79 87.85,559.59 87.65,559.39 87.46,559.2 87.26,559 87.06,558.8 86.86,558.6 86.66,558.4 86.46,558.2 86.27,558.01 86.07,557.81 85.87,557.61 85.67,557.41 85.47,557.21 85.28,557.01 85.08,556.82 84.88,556.62 84.68,556.42 84.48,556.22 84.28,556.02 84.09,555.83 83.89,555.63 83.69,555.43 83.49,555.23 83.29,555.03 83.09,554.83 82.9,554.64 82.7,554.49 82.5,554.49 82.3,554.49 82.1,554.49 81.9,554.49 81.71,554.49 81.51,554.49 81.31,554.49 81.11,554.49 80.91,554.49 80.71,554.49 80.52,554.49 80.32,554.49 80.12,554.49 79.92,554.49 79.72,554.49 79.52,554.49 79.33,554.49 79.13,554.49 78.93,554.49 78.73,554.49 78.53,554.49 78.33,554.59 78.14,554.73 77.94,554.88 77.74,555.05 77.54,555.23 77.34,555.41 77.14,555.61 76.95,555.81 76.75,556.02 76.55,556.24" fill="#b99a1a"/><polygon points="76.55,562.41 76.75,562.72 76.95,563.02 77.14,563.31 77.34,563.6 77.54,563.88 77.74,564.16 77.94,564.42 78.13,564.69 78.33,564.94 78.53,565.19 78.73,565.43 78.93,565.66 79.12,565.89 79.32,566.1 79.52,566.31 79.72,566.5 79.92,566.69 80.12,566.86 80.31,567.01 80.51,566.9 80.71,566.7 80.91,566.5 81.11,566.3 81.3,566.11 81.5,565.91 81.7,565.71 81.9,565.51 82.1,565.31 82.29,565.12 82.49,564.92 82.69,564.72 82.89,564.52 83.09,564.32 83.28,564.13 83.48,563.93 83.68,563.73 83.88,563.53 84.08,563.33 84.27,563.13 84.47,562.94 84.67,562.74 84.87,562.54 85.07,562.34 85.27,562.14 85.46,561.95 85.66,561.75 85.86,561.55 86.06,561.47 86.26,561.67 86.45,561.86 86.65,562.06 86.85,562.26 87.05,562.46 87.25,562.66 87.44,562.85 87.64,563.05 87.84,563.25 88.04,563.45 88.24,563.65 88.43,563.84 88.63,564.04 88.83,564.24 89.03,564.44 89.23,564.64 89.42,564.83 89.62,565.03 89.82,565.23 90.02,565.43 90.22,565.63 90.42,565.83 90.61,566.02 90.81,566.22 91.01,566.42 91.21,566.62 91.41,566.82 91.6,567.01 91.8,567.21 92,567.41 92,567.41 91.8,567.61 91.6,567.81 91.41,568 91.21,568.2 91.01,568.4 90.81,568.6 90.61,568.8 90.42,568.99 90.22,569.19 90.02,569.39 89.82,569.59 89.62,569.79 89.42,569.99 89.23,570.18 89.03,570.38 88.83,570.58 88.63,570.78 88.43,570.98 88.24,571.17 88.04,571.37 87.84,571.57 87.64,571.77 87.44,571.97 87.25,572.16 87.05,572.36 86.85,572.56 86.65,572.76 86.45,572.96 86.26,573.15 86.06,573.35 85.86,573.27 85.66,573.07 85.46,572.87 85.27,572.68 85.07,572.48 84.87,572.28 84.67,572.08 84.47,571.88 84.27,571.68 84.08,571.49 83.88,571.29 83.68,571.09 83.48,570.89 83.28,570.69 83.09,570.5 82.89,570.3 82.69,570.1 82.49,569.9 82.29,569.7 82.1,569.51 81.9,569.31 81.7,569.11 81.5,568.91 81.3,568.71 81.11,568.52 80.91,568.32 80.71,568.12 80.51,567.92 80.31,567.81 80.12,567.96 79.92,568.13 79.72,568.32 79.52,568.51 79.32,568.72 79.12,568.93 78.93,569.16 78.73,569.39 78.53,569.63 78.33,569.88 78.13,570.13 77.94,570.4 77.74,570.66 77.54,570.94 77.34,571.22 77.14,571.51 76.95,571.8 76.75,572.1 76.55,572.41" fill="#8dab1e"/><polygon points="76.55,579.08 76.75,579.28 76.95,579.48 77.14,579.66 77.34,579.84 77.54,580 77.74,580.16 77.94,580.29 78.13,580.33 78.33,580.33 78.53,580.33 78.73,580.33 78.93,580.33 79.12,580.33 79.32,580.33 79.52,580.33 79.72,580.33 79.92,580.33 80.12,580.33 80.31,580.33 80.51,580.33 80.71,580.33 80.91,580.33 81.11,580.33 81.3,580.33 81.5,580.33 81.7,580.33 81.9,580.33 82.1,580.25 82.29,579.75 82.49,579.31 82.69,578.9 82.89,578.53 83.09,578.18 83.28,577.85 83.48,577.54 83.68,577.24 83.88,576.96 84.08,576.7 84.27,576.45 84.47,576.22 84.67,576 84.87,575.8 85.07,575.61 85.27,575.43 85.46,575.27 85.66,575.13 85.86,575 86.06,574.88 86.26,574.78 86.45,574.7 86.65,574.64 86.85,574.59 87.05,574.58 87.25,574.58 87.44,574.59 87.64,574.6 87.84,574.61 88.04,574.64 88.24,574.68 88.43,574.72 88.63,574.78 88.83,574.85 89.03,574.93 89.23,575.03 89.42,575.15 89.62,575.28 89.82,575.43 90.02,575.61 90.22,575.81 90.42,576.04 90.61,576.3 90.81,576.59 91.01,576.93 91.21,577.32 91.41,577.78 91.6,578.34 91.8,579.08 92,580.58 92,580.58 91.8,582.08 91.6,582.82 91.41,583.38 91.21,583.84 91.01,584.23 90.81,584.57 90.61,584.86 90.42,585.12 90.22,585.35 90.02,585.55 89.82,585.73 89.62,585.88 89.42,586.01 89.23,586.13 89.03,586.23 88.83,586.31 88.63,586.38 88.43,586.44 88.24,586.48 88.04,586.52 87.84,586.55 87.64,586.56 87.44,586.57 87.25,586.58 87.05,586.58 86.85,586.57 86.65,586.52 86.45,586.46 86.26,586.38 86.06,586.28 85.86,586.16 85.66,586.03 85.46,585.89 85.27,585.73 85.07,585.55 84.87,585.36 84.67,585.16 84.47,584.94 84.27,584.71 84.08,584.46 83.88,584.2 83.68,583.92 83.48,583.62 83.28,583.31 83.09,582.98 82.89,582.63 82.69,582.26 82.49,581.85 82.29,581.41 82.1,580.91 81.9,580.83 81.7,580.83 81.5,580.83 81.3,580.83 81.11,580.83 80.91,580.83 80.71,580.83 80.51,580.83 80.31,580.83 80.12,580.83 79.92,580.83 79.72,580.83 79.52,580.83 79.32,580.83 79.12,580.83 78.93,580.83 78.73,580.83 78.53,580.83 78.33,580.83 78.13,580.83 77.94,580.87 77.74,581 77.54,581.16 77.34,581.32 77.14,581.5 76.95,581.68 76.75,581.88 76.55,582.08" fill="#3aae3a"/><polygon points="76.55,592.55 76.75,592.71 76.95,592.87 77.14,593.02 77.34,593.16 77.54,593.29 77.74,593.41 77.94,593.5 78.14,593.5 78.33,593.5 78.53,593.5 78.73,593.5 78.93,593.5 79.13,593.5 79.33,593.5 79.52,593.5 79.72,593.5 79.92,593.5 80.12,593.5 80.32,593.5 80.52,593.5 80.71,593.5 80.91,593.5 81.11,593.5 81.31,593.5 81.51,593.5 81.71,593.5 81.9,593.5 82.1,593.5 82.3,593.5 82.5,593.5 82.7,593.5 82.9,593.5 83.09,593.5 83.29,593.5 83.49,593.5 83.69,593.5 83.89,593.5 84.09,593.5 84.28,593.42 84.48,593.19 84.68,592.97 84.88,592.74 85.08,592.51 85.28,592.28 85.47,592.05 85.67,591.82 85.87,591.59 86.07,591.36 86.27,591.13 86.46,590.91 86.66,590.68 86.86,590.45 87.06,590.22 87.26,589.99 87.46,589.76 87.65,589.53 87.85,589.3 88.05,589.08 88.25,588.85 88.45,588.62 88.65,588.39 88.84,588.16 89.04,587.93 89.24,587.8 89.44,588.05 89.64,588.3 89.84,588.54 90.03,588.79 90.23,589.04 90.43,589.29 90.63,589.54 90.83,589.78 91.03,590.03 91.22,590.28 91.42,590.53 91.62,590.78 91.82,591.02 92.02,591.27 92.22,591.52 92.41,591.77 92.61,592.01 92.81,592.26 93.01,592.51 93.21,592.76 93.41,593.01 93.6,593.25 93.8,593.5 94,593.75 94,593.75 93.8,594 93.6,594.25 93.41,594.49 93.21,594.74 93.01,594.99 92.81,595.24 92.61,595.49 92.41,595.73 92.22,595.98 92.02,596.23 91.82,596.48 91.62,596.72 91.42,596.97 91.22,597.22 91.03,597.47 90.83,597.72 90.63,597.96 90.43,598.21 90.23,598.46 90.03,598.71 89.84,598.96 89.64,599.2 89.44,599.45 89.24,599.7 89.04,599.57 88.84,599.34 88.65,599.11 88.45,598.88 88.25,598.65 88.05,598.42 87.85,598.2 87.65,597.97 87.46,597.74 87.26,597.51 87.06,597.28 86.86,597.05 86.66,596.82 86.46,596.59 86.27,596.37 86.07,596.14 85.87,595.91 85.67,595.68 85.47,595.45 85.28,595.22 85.08,594.99 84.88,594.76 84.68,594.53 84.48,594.31 84.28,594.08 84.09,594 83.89,594 83.69,594 83.49,594 83.29,594 83.09,594 82.9,594 82.7,594 82.5,594 82.3,594 82.1,594 81.9,594 81.71,594 81.51,594 81.31,594 81.11,594 80.91,594 80.71,594 80.52,594 80.32,594 80.12,594 79.92,594 79.72,594 79.52,594 79.33,594 79.13,594 78.93,594 78.73,594 78.53,594 78.33,594 78.14,594 77.94,594 77.74,594.09 77.54,594.21 77.34,594.34 77.14,594.48 76.95,594.63 76.75,594.79 76.55,594.95" fill="#21ad6e"/><polygon points="76.55,602.42 76.75,602.73 76.95,603.04 77.15,603.33 77.35,603.62 77.55,603.91 77.75,604.18 77.95,604.45 78.15,604.71 78.34,604.97 78.54,605.21 78.74,605.44 78.94,605.67 79.14,605.88 79.34,606.08 79.54,606.27 79.74,606.44 79.94,606.6 80.14,606.67 80.34,606.67 80.54,606.67 80.74,606.67 80.94,606.67 81.14,606.67 81.34,606.67 81.54,606.67 81.74,606.67 81.94,606.67 82.13,606.67 82.33,606.67 82.53,606.67 82.73,606.67 82.93,606.67 83.13,606.67 83.33,606.67 83.53,606.67 83.73,606.67 83.93,606.66 84.13,606.53 84.33,606.41 84.53,606.29 84.73,606.17 84.93,606.04 85.13,605.92 85.33,605.8 85.53,605.68 85.72,605.55 85.92,605.43 86.12,605.31 86.32,605.19 86.52,605.06 86.72,604.94 86.92,604.82 87.12,604.7 87.32,604.57 87.52,604.45 87.72,604.33 87.92,604.21 88.12,604.08 88.32,603.96 88.52,603.84 88.72,603.72 88.92,603.59 89.11,603.47 89.31,603.5 89.51,603.63 89.71,603.76 89.91,603.89 90.11,604.02 90.31,604.15 90.51,604.29 90.71,604.42 90.91,604.55 91.11,604.68 91.31,604.81 91.51,604.94 91.71,605.08 91.91,605.21 92.11,605.34 92.31,605.47 92.51,605.6 92.7,605.73 92.9,605.87 93.1,606 93.3,606.13 93.5,606.26 93.7,606.39 93.9,606.52 94.1,606.66 94.3,606.79 94.5,606.92 94.5,606.92 94.3,607.05 94.1,607.18 93.9,607.32 93.7,607.45 93.5,607.58 93.3,607.71 93.1,607.84 92.9,607.97 92.7,608.11 92.51,608.24 92.31,608.37 92.11,608.5 91.91,608.63 91.71,608.76 91.51,608.9 91.31,609.03 91.11,609.16 90.91,609.29 90.71,609.42 90.51,609.55 90.31,609.69 90.11,609.82 89.91,609.95 89.71,610.08 89.51,610.21 89.31,610.34 89.11,610.37 88.92,610.25 88.72,610.12 88.52,610 88.32,609.88 88.12,609.76 87.92,609.63 87.72,609.51 87.52,609.39 87.32,609.27 87.12,609.14 86.92,609.02 86.72,608.9 86.52,608.78 86.32,608.65 86.12,608.53 85.92,608.41 85.72,608.29 85.53,608.16 85.33,608.04 85.13,607.92 84.93,607.8 84.73,607.67 84.53,607.55 84.33,607.43 84.13,607.31 83.93,607.18 83.73,607.17 83.53,607.17 83.33,607.17 83.13,607.17 82.93,607.17 82.73,607.17 82.53,607.17 82.33,607.17 82.13,607.17 81.94,607.17 81.74,607.17 81.54,607.17 81.34,607.17 81.14,607.17 80.94,607.17 80.74,607.17 80.54,607.17 80.34,607.17 80.14,607.17 79.94,607.24 79.74,607.4 79.54,607.57 79.34,607.76 79.14,607.96 78.94,608.17 78.74,608.4 78.54,608.63 78.34,608.87 78.15,609.13 77.95,609.39 77.75,609.66 77.55,609.93 77.35,610.22 77.15,610.51 76.95,610.8 76.75,611.11 76.55,611.42" fill="#1db09a"/><polygon points="76.55,615.09 76.75,615.44 76.95,615.77 77.15,616.1 77.35,616.43 77.55,616.74 77.75,617.05 77.95,617.35 78.14,617.64 78.34,617.92 78.54,618.19 78.74,618.45 78.94,618.69 79.14,618.93 79.34,619.15 79.54,619.36 79.74,619.56 79.94,619.73 80.14,619.84 80.34,619.84 80.54,619.84 80.74,619.84 80.94,619.84 81.14,619.84 81.33,619.84 81.53,619.84 81.73,619.84 81.93,619.84 82.13,619.84 82.33,619.84 82.53,619.84 82.73,619.84 82.93,619.84 83.13,619.84 83.33,619.84 83.53,619.84 83.73,619.84 83.93,619.84 84.13,619.84 84.33,619.84 84.53,619.71 84.72,619.57 84.92,619.43 85.12,619.29 85.32,619.15 85.52,619 85.72,618.86 85.92,618.72 86.12,618.58 86.32,618.43 86.52,618.29 86.72,618.15 86.92,618.01 87.12,617.86 87.32,617.72 87.52,617.58 87.72,617.44 87.91,617.29 88.11,617.15 88.31,617.17 88.51,617.31 88.71,617.45 88.91,617.59 89.11,617.73 89.31,617.86 89.51,618 89.71,618.14 89.91,618.28 90.11,618.42 90.31,618.56 90.51,618.7 90.71,618.84 90.91,618.98 91.1,619.12 91.3,619.26 91.5,619.39 91.7,619.53 91.9,619.67 92.1,619.81 92.3,619.95 92.5,620.09 92.5,620.09 92.3,620.23 92.1,620.37 91.9,620.51 91.7,620.65 91.5,620.79 91.3,620.92 91.1,621.06 90.91,621.2 90.71,621.34 90.51,621.48 90.31,621.62 90.11,621.76 89.91,621.9 89.71,622.04 89.51,622.18 89.31,622.32 89.11,622.45 88.91,622.59 88.71,622.73 88.51,622.87 88.31,623.01 88.11,623.03 87.91,622.89 87.72,622.74 87.52,622.6 87.32,622.46 87.12,622.32 86.92,622.17 86.72,622.03 86.52,621.89 86.32,621.75 86.12,621.6 85.92,621.46 85.72,621.32 85.52,621.18 85.32,621.03 85.12,620.89 84.92,620.75 84.72,620.61 84.53,620.46 84.33,620.34 84.13,620.34 83.93,620.34 83.73,620.34 83.53,620.34 83.33,620.34 83.13,620.34 82.93,620.34 82.73,620.34 82.53,620.34 82.33,620.34 82.13,620.34 81.93,620.34 81.73,620.34 81.53,620.34 81.33,620.34 81.14,620.34 80.94,620.34 80.74,620.34 80.54,620.34 80.34,620.34 80.14,620.34 79.94,620.45 79.74,620.62 79.54,620.82 79.34,621.03 79.14,621.25 78.94,621.49 78.74,621.73 78.54,621.99 78.34,622.26 78.14,622.54 77.95,622.83 77.75,623.13 77.55,623.44 77.35,623.75 77.15,624.08 76.95,624.41 76.75,624.74 76.55,625.09" fill="#1ab3c8"/><polygon points="76.55,629.26 76.75,629.54 76.95,629.81 77.15,630.07 77.35,630.33 77.55,630.58 77.75,630.83 77.95,631.07 78.15,631.3 78.35,631.52 78.54,631.74 78.74,631.95 78.94,632.14 79.14,632.33 79.34,632.51 79.54,632.68 79.74,632.83 79.94,632.97 80.14,633.01 80.34,633.01 80.54,633.01 80.74,633.01 80.94,633.01 81.14,633.01 81.34,633.01 81.54,633.01 81.74,633.01 81.94,633.01 82.14,633.01 82.33,633.01 82.53,633.01 82.73,633.01 82.93,633.01 83.13,633.01 83.33,633.01 83.53,633.01 83.73,633.01 83.93,633.01 84.13,633.01 84.33,633.01 84.53,633.01 84.73,633.01 84.93,633.01 85.13,633.01 85.33,633.01 85.53,632.85 85.73,632.7 85.93,632.54 86.12,632.39 86.32,632.23 86.52,632.08 86.72,631.92 86.92,631.77 87.12,631.61 87.32,631.46 87.52,631.3 87.72,631.15 87.92,630.99 88.12,630.84 88.32,630.68 88.52,630.53 88.72,630.38 88.92,630.22 89.12,630.07 89.32,629.91 89.52,629.76 89.72,629.6 89.91,629.45 90.11,629.29 90.31,629.14 90.51,628.98 90.71,628.83 90.91,628.87 91.11,629.06 91.31,629.25 91.51,629.44 91.71,629.63 91.91,629.82 92.11,630.01 92.31,630.2 92.51,630.4 92.71,630.59 92.91,630.78 93.11,630.97 93.31,631.16 93.51,631.35 93.7,631.54 93.9,631.73 94.1,631.92 94.3,632.11 94.5,632.31 94.7,632.5 94.9,632.69 95.1,632.88 95.3,633.07 95.5,633.26 95.5,633.26 95.3,633.45 95.1,633.64 94.9,633.83 94.7,634.02 94.5,634.21 94.3,634.41 94.1,634.6 93.9,634.79 93.7,634.98 93.51,635.17 93.31,635.36 93.11,635.55 92.91,635.74 92.71,635.93 92.51,636.12 92.31,636.32 92.11,636.51 91.91,636.7 91.71,636.89 91.51,637.08 91.31,637.27 91.11,637.46 90.91,637.65 90.71,637.69 90.51,637.54 90.31,637.38 90.11,637.23 89.91,637.07 89.72,636.92 89.52,636.76 89.32,636.61 89.12,636.45 88.92,636.3 88.72,636.14 88.52,635.99 88.32,635.84 88.12,635.68 87.92,635.53 87.72,635.37 87.52,635.22 87.32,635.06 87.12,634.91 86.92,634.75 86.72,634.6 86.52,634.44 86.32,634.29 86.12,634.13 85.93,633.98 85.73,633.82 85.53,633.67 85.33,633.51 85.13,633.51 84.93,633.51 84.73,633.51 84.53,633.51 84.33,633.51 84.13,633.51 83.93,633.51 83.73,633.51 83.53,633.51 83.33,633.51 83.13,633.51 82.93,633.51 82.73,633.51 82.53,633.51 82.33,633.51 82.14,633.51 81.94,633.51 81.74,633.51 81.54,633.51 81.34,633.51 81.14,633.51 80.94,633.51 80.74,633.51 80.54,633.51 80.34,633.51 80.14,633.51 79.94,633.55 79.74,633.69 79.54,633.84 79.34,634.01 79.14,634.19 78.94,634.38 78.74,634.57 78.54,634.78 78.35,635 78.15,635.22 77.95,635.45 77.75,635.69 77.55,635.94 77.35,636.19 77.15,636.45 76.95,636.71 76.75,636.98 76.55,637.26" fill="#3098e0"/><polygon points="76.55,640.93 76.75,641.16 76.95,641.4 77.15,641.62 77.35,641.85 77.55,642.07 77.75,642.29 77.94,642.51 78.14,642.72 78.34,642.93 78.54,643.13 78.74,643.34 78.94,643.53 79.14,643.73 79.34,643.92 79.54,644.11 79.74,644.29 79.94,644.47 80.13,644.64 80.33,644.81 80.53,644.97 80.73,645.13 80.93,645.29 81.13,645.43 81.33,645.57 81.53,645.71 81.73,645.84 81.93,645.96 82.13,646.05 82.33,645.6 82.53,645.21 82.72,644.85 82.92,644.53 83.12,644.23 83.32,643.96 83.52,643.71 83.72,643.48 83.92,643.27 84.12,643.09 84.32,642.92 84.52,642.78 84.72,642.65 84.91,642.55 85.11,642.48 85.31,642.44 85.51,642.43 85.71,642.44 85.91,642.45 86.11,642.48 86.31,642.53 86.51,642.6 86.71,642.69 86.91,642.81 87.11,642.96 87.31,643.15 87.5,643.38 87.7,643.67 87.9,644.03 88.1,644.49 88.3,645.11 88.5,646.43 88.5,646.43 88.3,647.75 88.1,648.37 87.9,648.83 87.7,649.19 87.5,649.48 87.31,649.71 87.11,649.9 86.91,650.05 86.71,650.17 86.51,650.26 86.31,650.33 86.11,650.38 85.91,650.41 85.71,650.42 85.51,650.43 85.31,650.42 85.11,650.38 84.91,650.31 84.72,650.21 84.52,650.08 84.32,649.94 84.12,649.77 83.92,649.59 83.72,649.38 83.52,649.15 83.32,648.9 83.12,648.63 82.92,648.33 82.72,648.01 82.53,647.65 82.33,647.26 82.13,646.81 81.93,646.9 81.73,647.02 81.53,647.15 81.33,647.29 81.13,647.43 80.93,647.57 80.73,647.73 80.53,647.89 80.33,648.05 80.13,648.22 79.94,648.39 79.74,648.57 79.54,648.75 79.34,648.94 79.14,649.13 78.94,649.33 78.74,649.52 78.54,649.73 78.34,649.93 78.14,650.14 77.94,650.35 77.75,650.57 77.55,650.79 77.35,651.01 77.15,651.24 76.95,651.46 76.75,651.7 76.55,651.93" fill="#8088cc"/><polygon points="76.55,654.6 76.75,654.94 76.95,655.28 77.14,655.61 77.34,655.93 77.54,656.24 77.74,656.55 77.94,656.85 78.14,657.13 78.33,657.41 78.53,657.68 78.73,657.94 78.93,658.19 79.13,658.42 79.33,658.65 79.52,658.86 79.72,659.05 79.92,659.22 80.12,659.35 80.32,659.35 80.52,659.3 80.71,659.21 80.91,659.12 81.11,659.04 81.31,658.96 81.51,658.88 81.71,658.81 81.9,658.74 82.1,658.68 82.3,658.61 82.5,658.55 82.7,658.5 82.9,658.44 83.09,658.39 83.29,658.33 83.49,658.29 83.69,658.24 83.89,658.19 84.09,658.15 84.28,658.11 84.48,658.07 84.68,658.04 84.88,658 85.08,657.97 85.28,657.94 85.47,657.92 85.67,657.89 85.87,657.87 86.07,657.85 86.27,657.83 86.46,657.82 86.66,657.81 86.86,657.8 87.06,657.8 87.26,657.8 87.46,657.8 87.65,657.8 87.85,657.8 88.05,657.81 88.25,657.81 88.45,657.82 88.65,657.83 88.84,657.83 89.04,657.84 89.24,657.86 89.44,657.87 89.64,657.89 89.84,657.91 90.03,657.93 90.23,657.95 90.43,657.97 90.63,658 90.83,658.04 91.03,658.07 91.22,658.11 91.42,658.15 91.62,658.2 91.82,658.25 92.02,658.3 92.22,658.36 92.41,658.43 92.61,658.5 92.81,658.59 93.01,658.68 93.21,658.78 93.41,658.9 93.6,659.05 93.8,659.23 94,659.6 94,659.6 93.8,659.97 93.6,660.15 93.41,660.3 93.21,660.42 93.01,660.52 92.81,660.61 92.61,660.7 92.41,660.77 92.22,660.84 92.02,660.9 91.82,660.95 91.62,661 91.42,661.05 91.22,661.09 91.03,661.13 90.83,661.16 90.63,661.2 90.43,661.23 90.23,661.25 90.03,661.27 89.84,661.29 89.64,661.31 89.44,661.33 89.24,661.34 89.04,661.36 88.84,661.37 88.65,661.37 88.45,661.38 88.25,661.39 88.05,661.39 87.85,661.4 87.65,661.4 87.46,661.4 87.26,661.4 87.06,661.4 86.86,661.4 86.66,661.39 86.46,661.38 86.27,661.37 86.07,661.35 85.87,661.33 85.67,661.31 85.47,661.28 85.28,661.26 85.08,661.23 84.88,661.2 84.68,661.16 84.48,661.13 84.28,661.09 84.09,661.05 83.89,661.01 83.69,660.96 83.49,660.91 83.29,660.87 83.09,660.81 82.9,660.76 82.7,660.7 82.5,660.65 82.3,660.59 82.1,660.52 81.9,660.46 81.71,660.39 81.51,660.32 81.31,660.24 81.11,660.16 80.91,660.08 80.71,659.99 80.52,659.9 80.32,659.85 80.12,659.85 79.92,659.98 79.72,660.15 79.52,660.34 79.33,660.55 79.13,660.78 78.93,661.01 78.73,661.26 78.53,661.52 78.33,661.79 78.14,662.07 77.94,662.35 77.74,662.65 77.54,662.96 77.34,663.27 77.14,663.59 76.95,663.92 76.75,664.26 76.55,664.6" fill="#9a70bc"/><polygon points="76.55,667.77 76.75,668.11 76.95,668.45 77.14,668.78 77.34,669.1 77.54,669.41 77.74,669.72 77.94,670.01 78.13,670.3 78.33,670.58 78.53,670.85 78.73,671.11 78.93,671.36 79.12,671.59 79.32,671.81 79.52,672.02 79.72,672.22 79.92,672.39 80.12,672.52 80.31,672.52 80.51,672.52 80.71,672.52 80.91,672.52 81.11,672.52 81.3,672.52 81.5,672.52 81.7,672.52 81.9,672.52 82.1,672.52 82.29,672.52 82.49,672.52 82.69,672.52 82.89,672.52 83.09,672.52 83.28,672.25 83.48,671.96 83.68,671.7 83.88,671.46 84.08,671.23 84.27,671.01 84.47,670.81 84.67,670.62 84.87,670.43 85.07,670.26 85.27,670.1 85.46,669.94 85.66,669.8 85.86,669.66 86.06,669.54 86.26,669.42 86.45,669.31 86.65,669.21 86.85,669.12 87.05,669.03 87.25,668.96 87.44,668.9 87.64,668.85 87.84,668.81 88.04,668.78 88.24,668.77 88.43,668.77 88.63,668.78 88.83,668.79 89.03,668.82 89.23,668.85 89.42,668.9 89.62,668.96 89.82,669.04 90.02,669.13 90.22,669.25 90.42,669.39 90.61,669.56 90.81,669.76 91.01,669.99 91.21,670.27 91.41,670.61 91.6,671.03 91.8,671.59 92,672.77 92,672.77 91.8,673.95 91.6,674.51 91.41,674.93 91.21,675.27 91.01,675.55 90.81,675.78 90.61,675.98 90.42,676.15 90.22,676.29 90.02,676.41 89.82,676.5 89.62,676.58 89.42,676.64 89.23,676.69 89.03,676.72 88.83,676.75 88.63,676.76 88.43,676.77 88.24,676.77 88.04,676.76 87.84,676.73 87.64,676.69 87.44,676.64 87.25,676.58 87.05,676.51 86.85,676.42 86.65,676.33 86.45,676.23 86.26,676.12 86.06,676 85.86,675.88 85.66,675.74 85.46,675.6 85.27,675.44 85.07,675.28 84.87,675.11 84.67,674.92 84.47,674.73 84.27,674.53 84.08,674.31 83.88,674.08 83.68,673.84 83.48,673.58 83.28,673.29 83.09,673.02 82.89,673.02 82.69,673.02 82.49,673.02 82.29,673.02 82.1,673.02 81.9,673.02 81.7,673.02 81.5,673.02 81.3,673.02 81.11,673.02 80.91,673.02 80.71,673.02 80.51,673.02 80.31,673.02 80.12,673.02 79.92,673.15 79.72,673.32 79.52,673.52 79.32,673.73 79.12,673.95 78.93,674.18 78.73,674.43 78.53,674.69 78.33,674.96 78.13,675.24 77.94,675.53 77.74,675.82 77.54,676.13 77.34,676.44 77.14,676.76 76.95,677.09 76.75,677.43 76.55,677.77" fill="#c25caf"/><polygon points="76.55,681.94 76.75,682.25 76.95,682.56 77.14,682.86 77.34,683.15 77.54,683.43 77.74,683.7 77.94,683.97 78.13,684.22 78.33,684.46 78.53,684.7 78.73,684.92 78.93,685.13 79.12,685.32 79.32,685.5 79.52,685.66 79.72,685.69 79.92,685.69 80.12,685.69 80.31,685.69 80.51,685.69 80.71,685.69 80.91,685.69 81.11,685.69 81.3,685.69 81.5,685.69 81.7,685.69 81.9,685.69 82.1,685.69 82.29,685.69 82.49,685.69 82.69,685.69 82.89,685.69 83.09,685.69 83.28,685.69 83.48,685.69 83.68,685.69 83.88,685.69 84.08,685.69 84.27,685.69 84.47,685.69 84.67,685.62 84.87,685.53 85.07,685.43 85.27,685.34 85.46,685.24 85.66,685.15 85.86,685.05 86.06,684.96 86.26,684.87 86.45,684.77 86.65,684.68 86.85,684.58 87.05,684.49 87.25,684.39 87.44,684.3 87.64,684.21 87.84,684.11 88.04,684.02 88.24,683.96 88.43,684.06 88.63,684.17 88.83,684.27 89.03,684.38 89.23,684.48 89.42,684.58 89.62,684.69 89.82,684.79 90.02,684.9 90.22,685 90.42,685.11 90.61,685.21 90.81,685.31 91.01,685.42 91.21,685.52 91.41,685.63 91.6,685.73 91.8,685.84 92,685.94 92,685.94 91.8,686.04 91.6,686.15 91.41,686.25 91.21,686.36 91.01,686.46 90.81,686.57 90.61,686.67 90.42,686.77 90.22,686.88 90.02,686.98 89.82,687.09 89.62,687.19 89.42,687.3 89.23,687.4 89.03,687.5 88.83,687.61 88.63,687.71 88.43,687.82 88.24,687.92 88.04,687.86 87.84,687.77 87.64,687.67 87.44,687.58 87.25,687.49 87.05,687.39 86.85,687.3 86.65,687.2 86.45,687.11 86.26,687.01 86.06,686.92 85.86,686.83 85.66,686.73 85.46,686.64 85.27,686.54 85.07,686.45 84.87,686.35 84.67,686.26 84.47,686.19 84.27,686.19 84.08,686.19 83.88,686.19 83.68,686.19 83.48,686.19 83.28,686.19 83.09,686.19 82.89,686.19 82.69,686.19 82.49,686.19 82.29,686.19 82.1,686.19 81.9,686.19 81.7,686.19 81.5,686.19 81.3,686.19 81.11,686.19 80.91,686.19 80.71,686.19 80.51,686.19 80.31,686.19 80.12,686.19 79.92,686.19 79.72,686.19 79.52,686.22 79.32,686.38 79.12,686.56 78.93,686.75 78.73,686.96 78.53,687.18 78.33,687.42 78.13,687.66 77.94,687.91 77.74,688.18 77.54,688.45 77.34,688.73 77.14,689.02 76.95,689.32 76.75,689.63 76.55,689.94" fill="#e6649e"/><polygon points="111,527.9 111.19,527.6 111.39,527.31 111.58,527.01 111.78,526.71 111.97,526.41 112.17,526.12 112.36,525.82 112.56,525.52 112.75,525.23 112.94,524.93 113.14,524.63 113.33,524.34 113.53,524.04 113.72,523.74 113.92,523.44 114.11,523.15 114.31,522.85 114.5,522.55 114.69,522.55 114.89,522.87 115.08,523.18 115.28,523.5 115.47,523.81 115.67,524.13 115.86,524.44 116.06,524.75 116.25,525.07 116.44,525.38 116.64,525.7 116.83,526.01 117.03,526.33 117.22,526.64 117.42,526.96 117.61,527.27 117.81,527.59 118,527.9 118,527.9 117.81,528.21 117.61,528.53 117.42,528.84 117.22,529.16 117.03,529.47 116.83,529.79 116.64,530.1 116.44,530.42 116.25,530.73 116.06,531.05 115.86,531.36 115.67,531.67 115.47,531.99 115.28,532.3 115.08,532.62 114.89,532.93 114.69,533.25 114.5,533.25 114.31,532.95 114.11,532.65 113.92,532.36 113.72,532.06 113.53,531.76 113.33,531.46 113.14,531.17 112.94,530.87 112.75,530.57 112.56,530.28 112.36,529.98 112.17,529.68 111.97,529.39 111.78,529.09 111.58,528.79 111.39,528.49 111.19,528.2 111,527.9" fill="#ef6f6a"/><polygon points="110,541.07 110.2,540.82 110.39,540.56 110.59,540.31 110.78,540.05 110.98,539.8 111.17,539.54 111.37,539.29 111.56,539.03 111.76,538.78 111.95,538.52 112.15,538.27 112.34,538.02 112.54,537.76 112.73,537.51 112.93,537.25 113.12,537 113.32,536.74 113.51,536.49 113.71,536.23 113.9,535.98 114.1,535.73 114.29,535.47 114.49,535.22 114.68,535.22 114.88,535.56 115.07,535.91 115.27,536.25 115.46,536.59 115.66,536.94 115.85,537.28 116.05,537.63 116.24,537.97 116.44,538.32 116.63,538.66 116.83,539 117.02,539.35 117.22,539.69 117.41,540.04 117.61,540.38 117.8,540.73 118,541.07 118,541.07 117.8,541.41 117.61,541.76 117.41,542.1 117.22,542.45 117.02,542.79 116.83,543.14 116.63,543.48 116.44,543.82 116.24,544.17 116.05,544.51 115.85,544.86 115.66,545.2 115.46,545.55 115.27,545.89 115.07,546.23 114.88,546.58 114.68,546.92 114.49,546.92 114.29,546.67 114.1,546.41 113.9,546.16 113.71,545.91 113.51,545.65 113.32,545.4 113.12,545.14 112.93,544.89 112.73,544.63 112.54,544.38 112.34,544.12 112.15,543.87 111.95,543.62 111.76,543.36 111.56,543.11 111.37,542.85 111.17,542.6 110.98,542.34 110.78,542.09 110.59,541.83 110.39,541.58 110.2,541.32 110,541.07" fill="#df8a1c"/><polygon points="101.5,549.24 101.7,549.7 101.9,550.14 102.1,550.57 102.29,550.99 102.49,551.39 102.69,551.78 102.89,552.15 103.09,552.5 103.29,552.83 103.49,553.14 103.68,553.43 103.88,553.69 104.08,553.92 104.28,553.99 104.48,553.99 104.68,553.99 104.88,553.99 105.07,553.99 105.27,553.99 105.47,553.99 105.67,553.99 105.87,553.99 106.07,553.99 106.26,553.99 106.46,553.99 106.66,553.99 106.86,553.97 107.06,553.93 107.26,553.88 107.46,553.84 107.65,553.8 107.85,553.76 108.05,553.73 108.25,553.69 108.45,553.66 108.65,553.63 108.85,553.61 109.04,553.58 109.24,553.56 109.44,553.53 109.64,553.52 109.84,553.5 110.04,553.48 110.24,553.47 110.43,553.46 110.63,553.45 110.83,553.44 111.03,553.44 111.23,553.44 111.43,553.44 111.62,553.44 111.82,553.45 112.02,553.45 112.22,553.46 112.42,553.47 112.62,553.49 112.82,553.5 113.01,553.52 113.21,553.55 113.41,553.58 113.61,553.61 113.81,553.65 114.01,553.7 114.21,553.75 114.4,553.82 114.6,553.9 114.8,554.01 115,554.24 115,554.24 114.8,554.47 114.6,554.58 114.4,554.66 114.21,554.73 114.01,554.78 113.81,554.83 113.61,554.87 113.41,554.9 113.21,554.93 113.01,554.96 112.82,554.98 112.62,554.99 112.42,555.01 112.22,555.02 112.02,555.03 111.82,555.03 111.62,555.04 111.43,555.04 111.23,555.04 111.03,555.04 110.83,555.04 110.63,555.03 110.43,555.02 110.24,555.01 110.04,555 109.84,554.98 109.64,554.96 109.44,554.95 109.24,554.92 109.04,554.9 108.85,554.87 108.65,554.85 108.45,554.82 108.25,554.79 108.05,554.75 107.85,554.72 107.65,554.68 107.46,554.64 107.26,554.6 107.06,554.55 106.86,554.51 106.66,554.49 106.46,554.49 106.26,554.49 106.07,554.49 105.87,554.49 105.67,554.49 105.47,554.49 105.27,554.49 105.07,554.49 104.88,554.49 104.68,554.49 104.48,554.49 104.28,554.49 104.08,554.56 103.88,554.79 103.68,555.05 103.49,555.34 103.29,555.65 103.09,555.98 102.89,556.33 102.69,556.7 102.49,557.09 102.29,557.49 102.1,557.91 101.9,558.34 101.7,558.78 101.5,559.24" fill="#b99a1a"/><polygon points="126.45,538.07 126.65,538.4 126.85,538.72 127.05,539.02 127.25,539.32 127.45,539.6 127.65,539.86 127.85,540.11 128.04,540.35 128.24,540.56 128.44,540.75 128.64,540.82 128.84,540.82 129.04,540.82 129.24,540.82 129.44,540.82 129.64,540.82 129.84,540.82 130.04,540.82 130.24,540.82 130.44,540.82 130.64,540.82 130.84,540.82 131.04,540.82 131.23,540.82 131.43,540.82 131.63,540.82 131.83,540.79 132.03,540.74 132.23,540.69 132.43,540.64 132.63,540.59 132.83,540.55 133.03,540.51 133.23,540.47 133.43,540.44 133.63,540.4 133.83,540.37 134.03,540.33 134.22,540.3 134.42,540.28 134.62,540.25 134.82,540.22 135.02,540.2 135.22,540.18 135.42,540.16 135.62,540.14 135.82,540.12 136.02,540.11 136.22,540.1 136.42,540.09 136.62,540.08 136.82,540.07 137.02,540.07 137.22,540.07 137.41,540.07 137.61,540.07 137.81,540.08 138.01,540.08 138.21,540.09 138.41,540.09 138.61,540.1 138.81,540.11 139.01,540.13 139.21,540.14 139.41,540.16 139.61,540.18 139.81,540.21 140.01,540.24 140.21,540.27 140.41,540.31 140.6,540.35 140.8,540.4 141,540.46 141.2,540.53 141.4,540.6 141.6,540.7 141.8,540.82 142,541.07 142,541.07 141.8,541.32 141.6,541.44 141.4,541.54 141.2,541.61 141,541.68 140.8,541.74 140.6,541.79 140.41,541.83 140.21,541.87 140.01,541.9 139.81,541.93 139.61,541.96 139.41,541.98 139.21,542 139.01,542.01 138.81,542.03 138.61,542.04 138.41,542.05 138.21,542.05 138.01,542.06 137.81,542.06 137.61,542.07 137.41,542.07 137.22,542.07 137.02,542.07 136.82,542.07 136.62,542.06 136.42,542.05 136.22,542.04 136.02,542.03 135.82,542.02 135.62,542 135.42,541.98 135.22,541.96 135.02,541.94 134.82,541.92 134.62,541.89 134.42,541.86 134.22,541.84 134.03,541.81 133.83,541.77 133.63,541.74 133.43,541.7 133.23,541.67 133.03,541.63 132.83,541.59 132.63,541.55 132.43,541.5 132.23,541.45 132.03,541.4 131.83,541.35 131.63,541.32 131.43,541.32 131.23,541.32 131.04,541.32 130.84,541.32 130.64,541.32 130.44,541.32 130.24,541.32 130.04,541.32 129.84,541.32 129.64,541.32 129.44,541.32 129.24,541.32 129.04,541.32 128.84,541.32 128.64,541.32 128.44,541.39 128.24,541.58 128.04,541.79 127.85,542.03 127.65,542.28 127.45,542.54 127.25,542.82 127.05,543.12 126.85,543.42 126.65,543.74 126.45,544.07" fill="#df8a1c"/><polygon points="139,554.24 139.19,553.86 139.38,553.47 139.58,553.09 139.77,552.7 139.96,552.32 140.15,551.93 140.35,551.55 140.54,551.16 140.73,550.78 140.92,550.39 141.12,550.01 141.31,549.62 141.5,549.24 141.69,549.62 141.88,550.01 142.08,550.39 142.27,550.78 142.46,551.16 142.65,551.55 142.85,551.93 143.04,552.32 143.23,552.7 143.42,553.09 143.62,553.47 143.81,553.86 144,554.24 144,554.24 143.81,554.62 143.62,555.01 143.42,555.39 143.23,555.78 143.04,556.16 142.85,556.55 142.65,556.93 142.46,557.32 142.27,557.7 142.08,558.09 141.88,558.47 141.69,558.86 141.5,559.24 141.31,558.86 141.12,558.47 140.92,558.09 140.73,557.7 140.54,557.32 140.35,556.93 140.15,556.55 139.96,556.16 139.77,555.78 139.58,555.39 139.38,555.01 139.19,554.62 139,554.24" fill="#b99a1a"/><polygon points="126.45,574.58 126.65,574.82 126.85,575.05 127.05,575.29 127.25,575.51 127.45,575.74 127.65,575.96 127.85,576.18 128.04,576.4 128.24,576.62 128.44,576.83 128.64,577.03 128.84,577.24 129.04,577.44 129.24,577.64 129.44,577.83 129.64,578.02 129.84,578.2 130.04,578.39 130.24,578.56 130.44,578.74 130.64,578.91 130.84,579.07 131.04,579.23 131.23,579.38 131.43,579.53 131.63,579.67 131.83,579.81 132.03,579.94 132.23,580.06 132.43,580.18 132.63,580.28 132.83,580.33 133.03,580.33 133.23,579.87 133.43,579.39 133.63,578.95 133.83,578.55 134.03,578.17 134.22,577.82 134.42,577.49 134.62,577.18 134.82,576.88 135.02,576.61 135.22,576.35 135.42,576.11 135.62,575.88 135.82,575.67 136.02,575.48 136.22,575.3 136.42,575.15 136.62,575 136.82,574.88 137.02,574.77 137.22,574.69 137.41,574.62 137.61,574.59 137.81,574.58 138.01,574.58 138.21,574.59 138.41,574.61 138.61,574.64 138.81,574.69 139.01,574.75 139.21,574.82 139.41,574.91 139.61,575.03 139.81,575.16 140.01,575.32 140.21,575.51 140.41,575.73 140.6,575.99 140.8,576.29 141,576.64 141.2,577.05 141.4,577.54 141.6,578.14 141.8,578.93 142,580.58 142,580.58 141.8,582.23 141.6,583.02 141.4,583.62 141.2,584.11 141,584.52 140.8,584.87 140.6,585.17 140.41,585.43 140.21,585.65 140.01,585.84 139.81,586 139.61,586.13 139.41,586.25 139.21,586.34 139.01,586.41 138.81,586.47 138.61,586.52 138.41,586.55 138.21,586.57 138.01,586.58 137.81,586.58 137.61,586.57 137.41,586.54 137.22,586.47 137.02,586.39 136.82,586.28 136.62,586.16 136.42,586.01 136.22,585.86 136.02,585.68 135.82,585.49 135.62,585.28 135.42,585.05 135.22,584.81 135.02,584.55 134.82,584.28 134.62,583.98 134.42,583.67 134.22,583.34 134.03,582.99 133.83,582.61 133.63,582.21 133.43,581.77 133.23,581.29 133.03,580.83 132.83,580.83 132.63,580.88 132.43,580.98 132.23,581.1 132.03,581.22 131.83,581.35 131.63,581.49 131.43,581.63 131.23,581.78 131.04,581.93 130.84,582.09 130.64,582.25 130.44,582.42 130.24,582.6 130.04,582.77 129.84,582.96 129.64,583.14 129.44,583.33 129.24,583.52 129.04,583.72 128.84,583.92 128.64,584.13 128.44,584.33 128.24,584.54 128.04,584.76 127.85,584.98 127.65,585.2 127.45,585.42 127.25,585.65 127.05,585.87 126.85,586.11 126.65,586.34 126.45,586.58" fill="#3aae3a"/><polygon points="126.45,592.75 126.65,592.93 126.85,593.1 127.05,593.26 127.25,593.4 127.45,593.53 127.65,593.64 127.85,593.73 128.04,593.75 128.24,593.75 128.44,593.75 128.64,593.75 128.84,593.75 129.04,593.75 129.24,593.75 129.44,593.75 129.64,593.75 129.84,593.75 130.04,593.75 130.24,593.75 130.44,593.75 130.64,593.75 130.84,593.75 131.04,593.75 131.23,593.75 131.43,593.75 131.63,593.75 131.83,593.75 132.03,593.75 132.23,593.75 132.43,593.75 132.63,593.75 132.83,593.75 133.03,593.75 133.23,593.75 133.43,593.75 133.63,593.75 133.83,593.75 134.03,593.75 134.22,593.75 134.42,593.75 134.62,593.75 134.82,593.75 135.02,593.72 135.22,593.43 135.42,593.15 135.62,592.86 135.82,592.58 136.02,592.29 136.22,592.01 136.42,591.72 136.62,591.44 136.82,591.15 137.02,590.87 137.22,590.59 137.41,590.3 137.61,590.02 137.81,589.73 138.01,589.45 138.21,589.16 138.41,588.88 138.61,588.91 138.81,589.19 139.01,589.48 139.21,589.76 139.41,590.05 139.61,590.33 139.81,590.62 140.01,590.9 140.21,591.19 140.41,591.47 140.6,591.76 140.8,592.04 141,592.33 141.2,592.61 141.4,592.9 141.6,593.18 141.8,593.47 142,593.75 142,593.75 141.8,594.03 141.6,594.32 141.4,594.6 141.2,594.89 141,595.17 140.8,595.46 140.6,595.74 140.41,596.03 140.21,596.31 140.01,596.6 139.81,596.88 139.61,597.17 139.41,597.45 139.21,597.74 139.01,598.02 138.81,598.31 138.61,598.59 138.41,598.62 138.21,598.34 138.01,598.05 137.81,597.77 137.61,597.48 137.41,597.2 137.22,596.91 137.02,596.63 136.82,596.35 136.62,596.06 136.42,595.78 136.22,595.49 136.02,595.21 135.82,594.92 135.62,594.64 135.42,594.35 135.22,594.07 135.02,593.78 134.82,593.75 134.62,593.75 134.42,593.75 134.22,593.75 134.03,593.75 133.83,593.75 133.63,593.75 133.43,593.75 133.23,593.75 133.03,593.75 132.83,593.75 132.63,593.75 132.43,593.75 132.23,593.75 132.03,593.75 131.83,593.75 131.63,593.75 131.43,593.75 131.23,593.75 131.04,593.75 130.84,593.75 130.64,593.75 130.44,593.75 130.24,593.75 130.04,593.75 129.84,593.75 129.64,593.75 129.44,593.75 129.24,593.75 129.04,593.75 128.84,593.75 128.64,593.75 128.44,593.75 128.24,593.75 128.04,593.75 127.85,593.77 127.65,593.86 127.45,593.97 127.25,594.1 127.05,594.24 126.85,594.4 126.65,594.57 126.45,594.75" fill="#21ad6e"/><polygon points="126.45,602.92 126.65,603.29 126.85,603.64 127.05,603.99 127.25,604.32 127.45,604.65 127.65,604.96 127.84,605.25 128.04,605.54 128.24,605.8 128.44,606.05 128.64,606.28 128.84,606.49 129.04,606.67 129.24,606.67 129.44,606.67 129.64,606.67 129.84,606.67 130.04,606.67 130.24,606.67 130.44,606.67 130.63,606.67 130.83,606.67 131.03,606.67 131.23,606.67 131.43,606.63 131.63,606.53 131.83,606.43 132.03,606.34 132.23,606.26 132.43,606.18 132.63,606.1 132.83,606.03 133.03,605.97 133.22,605.9 133.42,605.84 133.62,605.79 133.82,605.74 134.02,605.69 134.22,605.64 134.42,605.6 134.62,605.56 134.82,605.53 135.02,605.5 135.22,605.47 135.42,605.45 135.62,605.44 135.82,605.42 136.01,605.42 136.21,605.42 136.41,605.42 136.61,605.43 136.81,605.43 137.01,605.45 137.21,605.46 137.41,605.48 137.61,605.51 137.81,605.54 138.01,605.58 138.21,605.62 138.41,605.67 138.61,605.74 138.8,605.81 139,605.9 139.2,606 139.4,606.13 139.6,606.28 139.8,606.49 140,606.92 140,606.92 139.8,607.35 139.6,607.56 139.4,607.71 139.2,607.84 139,607.94 138.8,608.03 138.61,608.1 138.41,608.17 138.21,608.22 138.01,608.26 137.81,608.3 137.61,608.33 137.41,608.36 137.21,608.38 137.01,608.39 136.81,608.41 136.61,608.41 136.41,608.42 136.21,608.42 136.01,608.42 135.82,608.42 135.62,608.4 135.42,608.39 135.22,608.37 135.02,608.34 134.82,608.31 134.62,608.28 134.42,608.24 134.22,608.2 134.02,608.15 133.82,608.1 133.62,608.05 133.42,608 133.22,607.94 133.03,607.87 132.83,607.81 132.63,607.74 132.43,607.66 132.23,607.58 132.03,607.5 131.83,607.41 131.63,607.31 131.43,607.21 131.23,607.17 131.03,607.17 130.83,607.17 130.63,607.17 130.44,607.17 130.24,607.17 130.04,607.17 129.84,607.17 129.64,607.17 129.44,607.17 129.24,607.17 129.04,607.17 128.84,607.35 128.64,607.56 128.44,607.79 128.24,608.04 128.04,608.3 127.84,608.59 127.65,608.88 127.45,609.19 127.25,609.52 127.05,609.85 126.85,610.2 126.65,610.55 126.45,610.92" fill="#1db09a"/><polygon points="151.4,524.9 151.59,525.41 151.77,525.89 151.96,526.35 152.15,526.76 152.34,527.14 152.52,527.47 152.71,527.74 152.9,527.9 152.9,527.9 152.71,528.06 152.52,528.33 152.34,528.66 152.15,529.04 151.96,529.45 151.77,529.91 151.59,530.39 151.4,530.9" fill="#ef6f6a"/><polygon points="158,527.9 158.2,527.67 158.39,527.45 158.59,527.22 158.78,527 158.98,526.77 159.18,526.54 159.37,526.32 159.57,526.09 159.76,525.86 159.96,525.64 160.16,525.41 160.35,525.19 160.55,524.96 160.75,524.73 160.94,524.51 161.14,524.28 161.33,524.05 161.53,523.83 161.73,523.6 161.92,523.38 162.12,523.15 162.31,522.92 162.51,522.7 162.71,522.47 162.9,522.24 163.1,522.02 163.29,522.02 163.49,522.26 163.69,522.51 163.88,522.75 164.08,523 164.27,523.24 164.47,523.49 164.67,523.73 164.86,523.98 165.06,524.22 165.25,524.47 165.45,524.71 165.65,524.96 165.84,525.2 166.04,525.45 166.24,525.69 166.43,525.94 166.63,526.18 166.82,526.43 167.02,526.67 167.22,526.92 167.41,527.16 167.61,527.41 167.8,527.65 168,527.9 168,527.9 167.8,528.15 167.61,528.39 167.41,528.64 167.22,528.88 167.02,529.13 166.82,529.37 166.63,529.62 166.43,529.86 166.24,530.11 166.04,530.35 165.84,530.6 165.65,530.84 165.45,531.09 165.25,531.33 165.06,531.58 164.86,531.82 164.67,532.07 164.47,532.31 164.27,532.56 164.08,532.8 163.88,533.05 163.69,533.29 163.49,533.54 163.29,533.78 163.1,533.78 162.9,533.56 162.71,533.33 162.51,533.1 162.31,532.88 162.12,532.65 161.92,532.42 161.73,532.2 161.53,531.97 161.33,531.75 161.14,531.52 160.94,531.29 160.75,531.07 160.55,530.84 160.35,530.61 160.16,530.39 159.96,530.16 159.76,529.94 159.57,529.71 159.37,529.48 159.18,529.26 158.98,529.03 158.78,528.8 158.59,528.58 158.39,528.35 158.2,528.13 158,527.9" fill="#ef6f6a"/><polygon points="151.4,537.07 151.6,537.61 151.79,538.13 151.99,538.62 152.19,539.09 152.39,539.53 152.58,539.93 152.78,540.3 152.98,540.62 153.18,540.82 153.37,540.82 153.57,540.82 153.77,540.82 153.97,540.82 154.16,540.82 154.36,540.82 154.56,540.82 154.76,540.82 154.95,540.82 155.15,540.82 155.35,540.82 155.55,540.82 155.74,540.82 155.94,540.82 156.14,540.82 156.34,540.82 156.53,540.82 156.73,540.82 156.93,540.82 157.13,540.82 157.32,540.82 157.52,540.82 157.72,540.82 157.92,540.82 158.11,540.82 158.31,540.65 158.51,540.44 158.71,540.25 158.9,540.08 159.1,539.91 159.3,539.76 159.5,539.62 159.69,539.49 159.89,539.36 160.09,539.25 160.29,539.14 160.48,539.04 160.68,538.95 160.88,538.87 161.08,538.8 161.27,538.73 161.47,538.68 161.67,538.63 161.87,538.6 162.06,538.58 162.26,538.57 162.46,538.57 162.66,538.57 162.85,538.58 163.05,538.59 163.25,538.6 163.45,538.62 163.64,538.64 163.84,538.66 164.04,538.7 164.24,538.73 164.43,538.78 164.63,538.84 164.83,538.9 165.03,538.97 165.22,539.05 165.42,539.15 165.62,539.25 165.82,539.38 166.01,539.52 166.21,539.69 166.41,539.88 166.61,540.12 166.8,540.43 167,541.07 167,541.07 166.8,541.71 166.61,542.02 166.41,542.26 166.21,542.45 166.01,542.62 165.82,542.76 165.62,542.89 165.42,542.99 165.22,543.09 165.03,543.17 164.83,543.24 164.63,543.3 164.43,543.36 164.24,543.41 164.04,543.44 163.84,543.48 163.64,543.5 163.45,543.52 163.25,543.54 163.05,543.55 162.85,543.56 162.66,543.57 162.46,543.57 162.26,543.57 162.06,543.56 161.87,543.54 161.67,543.51 161.47,543.46 161.27,543.41 161.08,543.34 160.88,543.27 160.68,543.19 160.48,543.1 160.29,543 160.09,542.89 159.89,542.78 159.69,542.65 159.5,542.52 159.3,542.38 159.1,542.23 158.9,542.06 158.71,541.89 158.51,541.7 158.31,541.49 158.11,541.32 157.92,541.32 157.72,541.32 157.52,541.32 157.32,541.32 157.13,541.32 156.93,541.32 156.73,541.32 156.53,541.32 156.34,541.32 156.14,541.32 155.94,541.32 155.74,541.32 155.55,541.32 155.35,541.32 155.15,541.32 154.95,541.32 154.76,541.32 154.56,541.32 154.36,541.32 154.16,541.32 153.97,541.32 153.77,541.32 153.57,541.32 153.37,541.32 153.18,541.32 152.98,541.52 152.78,541.84 152.58,542.21 152.39,542.61 152.19,543.05 151.99,543.52 151.79,544.01 151.6,544.53 151.4,545.07" fill="#df8a1c"/><polygon points="151.4,562.41 151.6,562.75 151.79,563.09 151.99,563.42 152.19,563.74 152.39,564.05 152.58,564.35 152.78,564.65 152.98,564.94 153.18,565.21 153.37,565.48 153.57,565.74 153.77,565.99 153.97,566.22 154.16,566.44 154.36,566.65 154.56,566.85 154.76,567.02 154.95,567.16 155.15,567.16 155.35,567.04 155.55,566.83 155.74,566.62 155.94,566.41 156.14,566.21 156.34,566 156.53,565.79 156.73,565.58 156.93,565.37 157.13,565.16 157.32,564.95 157.52,564.74 157.72,564.53 157.92,564.33 158.11,564.12 158.31,563.91 158.51,563.7 158.71,563.49 158.9,563.28 159.1,563.07 159.3,562.86 159.5,562.65 159.69,562.45 159.89,562.24 160.09,562.03 160.29,561.98 160.48,562.14 160.68,562.3 160.88,562.46 161.08,562.62 161.27,562.78 161.47,562.94 161.67,563.1 161.87,563.26 162.06,563.42 162.26,563.58 162.46,563.74 162.66,563.9 162.85,564.06 163.05,564.22 163.25,564.38 163.45,564.54 163.64,564.69 163.84,564.85 164.04,565.01 164.24,565.17 164.43,565.33 164.63,565.49 164.83,565.65 165.03,565.81 165.22,565.97 165.42,566.13 165.62,566.29 165.82,566.45 166.01,566.61 166.21,566.77 166.41,566.93 166.61,567.09 166.8,567.25 167,567.41 167,567.41 166.8,567.57 166.61,567.73 166.41,567.89 166.21,568.05 166.01,568.21 165.82,568.37 165.62,568.53 165.42,568.69 165.22,568.85 165.03,569.01 164.83,569.17 164.63,569.33 164.43,569.49 164.24,569.65 164.04,569.81 163.84,569.97 163.64,570.13 163.45,570.28 163.25,570.44 163.05,570.6 162.85,570.76 162.66,570.92 162.46,571.08 162.26,571.24 162.06,571.4 161.87,571.56 161.67,571.72 161.47,571.88 161.27,572.04 161.08,572.2 160.88,572.36 160.68,572.52 160.48,572.68 160.29,572.84 160.09,572.79 159.89,572.58 159.69,572.37 159.5,572.17 159.3,571.96 159.1,571.75 158.9,571.54 158.71,571.33 158.51,571.12 158.31,570.91 158.11,570.7 157.92,570.49 157.72,570.29 157.52,570.08 157.32,569.87 157.13,569.66 156.93,569.45 156.73,569.24 156.53,569.03 156.34,568.82 156.14,568.61 155.94,568.41 155.74,568.2 155.55,567.99 155.35,567.78 155.15,567.66 154.95,567.66 154.76,567.8 154.56,567.97 154.36,568.17 154.16,568.38 153.97,568.6 153.77,568.83 153.57,569.08 153.37,569.34 153.18,569.61 152.98,569.88 152.78,570.17 152.58,570.47 152.39,570.77 152.19,571.08 151.99,571.4 151.79,571.73 151.6,572.07 151.4,572.41" fill="#8dab1e"/><polygon points="151.4,642.43 151.6,642.7 151.79,642.97 151.99,643.23 152.19,643.49 152.39,643.74 152.58,643.98 152.78,644.22 152.98,644.45 153.18,644.67 153.37,644.89 153.57,645.09 153.77,645.29 153.97,645.48 154.16,645.66 154.36,645.82 154.56,645.98 154.76,646.12 154.95,646.18 155.15,646.18 155.35,646.18 155.55,646.18 155.74,646.18 155.94,646.18 156.14,646.18 156.34,646.18 156.53,646.18 156.73,646.18 156.93,646.18 157.13,646.18 157.32,646.18 157.52,646.18 157.72,646.18 157.92,646.18 158.11,646.1 158.31,645.66 158.51,645.27 158.71,644.91 158.9,644.58 159.1,644.27 159.3,643.98 159.5,643.7 159.69,643.44 159.89,643.19 160.09,642.96 160.29,642.73 160.48,642.52 160.68,642.33 160.88,642.14 161.08,641.97 161.27,641.81 161.47,641.66 161.67,641.52 161.87,641.4 162.06,641.28 162.26,641.19 162.46,641.1 162.66,641.03 162.85,640.98 163.05,640.94 163.25,640.93 163.45,640.93 163.64,640.94 163.84,640.96 164.04,641 164.24,641.04 164.43,641.11 164.63,641.19 164.83,641.3 165.03,641.44 165.22,641.6 165.42,641.79 165.62,642.02 165.82,642.3 166.01,642.62 166.21,643 166.41,643.47 166.61,644.05 166.8,644.82 167,646.43 167,646.43 166.8,648.04 166.61,648.81 166.41,649.39 166.21,649.86 166.01,650.24 165.82,650.56 165.62,650.84 165.42,651.07 165.22,651.26 165.03,651.42 164.83,651.56 164.63,651.67 164.43,651.75 164.24,651.82 164.04,651.86 163.84,651.9 163.64,651.92 163.45,651.93 163.25,651.93 163.05,651.92 162.85,651.88 162.66,651.83 162.46,651.76 162.26,651.67 162.06,651.58 161.87,651.46 161.67,651.34 161.47,651.2 161.27,651.05 161.08,650.89 160.88,650.72 160.68,650.53 160.48,650.34 160.29,650.13 160.09,649.9 159.89,649.67 159.69,649.42 159.5,649.16 159.3,648.88 159.1,648.59 158.9,648.28 158.71,647.95 158.51,647.59 158.31,647.2 158.11,646.76 157.92,646.68 157.72,646.68 157.52,646.68 157.32,646.68 157.13,646.68 156.93,646.68 156.73,646.68 156.53,646.68 156.34,646.68 156.14,646.68 155.94,646.68 155.74,646.68 155.55,646.68 155.35,646.68 155.15,646.68 154.95,646.68 154.76,646.74 154.56,646.88 154.36,647.04 154.16,647.2 153.97,647.38 153.77,647.57 153.57,647.77 153.37,647.97 153.18,648.19 152.98,648.41 152.78,648.64 152.58,648.88 152.39,649.12 152.19,649.37 151.99,649.63 151.79,649.89 151.6,650.16 151.4,650.43" fill="#8088cc"/><polygon points="176.35,574.58 176.55,574.86 176.75,575.13 176.95,575.4 177.15,575.67 177.35,575.93 177.55,576.19 177.75,576.44 177.95,576.69 178.14,576.93 178.34,577.17 178.54,577.41 178.74,577.64 178.94,577.86 179.14,578.08 179.34,578.3 179.54,578.51 179.74,578.71 179.94,578.91 180.14,579.1 180.34,579.28 180.54,579.46 180.74,579.63 180.94,579.79 181.14,579.94 181.33,580.08 181.53,580.21 181.73,580.33 181.93,580.33 182.13,580.33 182.33,580.33 182.53,580.33 182.73,580.33 182.93,580.33 183.13,580.19 183.33,579.72 183.53,579.31 183.73,578.94 183.93,578.58 184.13,578.25 184.33,577.94 184.52,577.65 184.72,577.37 184.92,577.1 185.12,576.85 185.32,576.61 185.52,576.38 185.72,576.17 185.92,575.97 186.12,575.78 186.32,575.6 186.52,575.44 186.72,575.29 186.92,575.15 187.12,575.03 187.32,574.91 187.52,574.82 187.71,574.73 187.91,574.67 188.11,574.61 188.31,574.58 188.51,574.58 188.71,574.58 188.91,574.6 189.11,574.62 189.31,574.65 189.51,574.7 189.71,574.77 189.91,574.85 190.11,574.96 190.31,575.09 190.51,575.24 190.71,575.43 190.9,575.64 191.1,575.9 191.3,576.2 191.5,576.55 191.7,576.96 191.9,577.46 192.1,578.07 192.3,578.89 192.5,580.58 192.5,580.58 192.3,582.27 192.1,583.09 191.9,583.7 191.7,584.2 191.5,584.61 191.3,584.96 191.1,585.26 190.9,585.52 190.71,585.73 190.51,585.92 190.31,586.07 190.11,586.2 189.91,586.31 189.71,586.39 189.51,586.46 189.31,586.51 189.11,586.54 188.91,586.56 188.71,586.58 188.51,586.58 188.31,586.58 188.11,586.55 187.91,586.49 187.71,586.43 187.52,586.34 187.32,586.25 187.12,586.13 186.92,586.01 186.72,585.87 186.52,585.72 186.32,585.56 186.12,585.38 185.92,585.19 185.72,584.99 185.52,584.78 185.32,584.55 185.12,584.31 184.92,584.06 184.72,583.79 184.52,583.51 184.33,583.22 184.13,582.91 183.93,582.58 183.73,582.22 183.53,581.85 183.33,581.44 183.13,580.97 182.93,580.83 182.73,580.83 182.53,580.83 182.33,580.83 182.13,580.83 181.93,580.83 181.73,580.83 181.53,580.95 181.33,581.08 181.14,581.22 180.94,581.37 180.74,581.53 180.54,581.7 180.34,581.88 180.14,582.06 179.94,582.25 179.74,582.45 179.54,582.65 179.34,582.86 179.14,583.08 178.94,583.3 178.74,583.52 178.54,583.75 178.34,583.99 178.14,584.23 177.95,584.47 177.75,584.72 177.55,584.97 177.35,585.23 177.15,585.49 176.95,585.76 176.75,586.03 176.55,586.3 176.35,586.58" fill="#3aae3a"/><polygon points="176.35,604.92 176.55,605.28 176.75,605.62 176.94,605.93 177.14,606.22 177.34,606.48 177.54,606.7 177.74,606.87 177.94,606.92 178.13,606.92 178.33,606.92 178.53,606.92 178.73,606.92 178.93,606.92 179.13,606.92 179.32,606.92 179.52,606.92 179.72,606.92 179.92,606.92 180.12,606.92 180.32,606.92 180.51,606.92 180.71,606.92 180.91,606.92 181.11,606.92 181.31,606.92 181.51,606.92 181.7,606.92 181.9,606.92 182.1,606.92 182.3,606.92 182.5,606.92 182.7,606.92 182.89,606.92 183.09,606.92 183.29,606.92 183.49,606.92 183.69,606.92 183.89,606.92 184.08,606.92 184.28,606.92 184.48,606.92 184.68,606.92 184.88,606.92 185.08,606.83 185.27,606.58 185.47,606.33 185.67,606.08 185.87,605.83 186.07,605.59 186.27,605.34 186.46,605.09 186.66,604.84 186.86,604.59 187.06,604.35 187.26,604.1 187.46,603.85 187.65,603.6 187.85,603.35 188.05,603.11 188.25,602.86 188.45,602.61 188.65,602.36 188.84,602.12 189.04,601.87 189.24,601.62 189.44,601.47 189.64,601.7 189.84,601.94 190.03,602.18 190.23,602.41 190.43,602.65 190.63,602.89 190.83,603.13 191.03,603.36 191.22,603.6 191.42,603.84 191.62,604.07 191.82,604.31 192.02,604.55 192.22,604.79 192.41,605.02 192.61,605.26 192.81,605.5 193.01,605.73 193.21,605.97 193.41,606.21 193.6,606.45 193.8,606.68 194,606.92 194,606.92 193.8,607.16 193.6,607.39 193.41,607.63 193.21,607.87 193.01,608.11 192.81,608.34 192.61,608.58 192.41,608.82 192.22,609.05 192.02,609.29 191.82,609.53 191.62,609.77 191.42,610 191.22,610.24 191.03,610.48 190.83,610.71 190.63,610.95 190.43,611.19 190.23,611.43 190.03,611.66 189.84,611.9 189.64,612.14 189.44,612.37 189.24,612.22 189.04,611.97 188.84,611.72 188.65,611.48 188.45,611.23 188.25,610.98 188.05,610.73 187.85,610.49 187.65,610.24 187.46,609.99 187.26,609.74 187.06,609.49 186.86,609.25 186.66,609 186.46,608.75 186.27,608.5 186.07,608.25 185.87,608.01 185.67,607.76 185.47,607.51 185.27,607.26 185.08,607.01 184.88,606.92 184.68,606.92 184.48,606.92 184.28,606.92 184.08,606.92 183.89,606.92 183.69,606.92 183.49,606.92 183.29,606.92 183.09,606.92 182.89,606.92 182.7,606.92 182.5,606.92 182.3,606.92 182.1,606.92 181.9,606.92 181.7,606.92 181.51,606.92 181.31,606.92 181.11,606.92 180.91,606.92 180.71,606.92 180.51,606.92 180.32,606.92 180.12,606.92 179.92,606.92 179.72,606.92 179.52,606.92 179.32,606.92 179.13,606.92 178.93,606.92 178.73,606.92 178.53,606.92 178.33,606.92 178.13,606.92 177.94,606.92 177.74,606.97 177.54,607.14 177.34,607.36 177.14,607.62 176.94,607.91 176.75,608.22 176.55,608.56 176.35,608.92" fill="#1db09a"/><polygon points="187,620.09 187.2,619.85 187.39,619.6 187.59,619.36 187.78,619.11 187.98,618.87 188.17,618.63 188.37,618.38 188.56,618.14 188.76,617.89 188.95,617.65 189.15,617.41 189.34,617.16 189.54,616.92 189.73,616.68 189.93,616.43 190.12,616.19 190.32,615.94 190.51,615.7 190.71,615.46 190.9,615.21 191.1,615.21 191.29,615.46 191.49,615.7 191.68,615.94 191.88,616.19 192.07,616.43 192.27,616.68 192.46,616.92 192.66,617.16 192.85,617.41 193.05,617.65 193.24,617.89 193.44,618.14 193.63,618.38 193.83,618.63 194.02,618.87 194.22,619.11 194.41,619.36 194.61,619.6 194.8,619.85 195,620.09 195,620.09 194.8,620.33 194.61,620.58 194.41,620.82 194.22,621.07 194.02,621.31 193.83,621.55 193.63,621.8 193.44,622.04 193.24,622.29 193.05,622.53 192.85,622.77 192.66,623.02 192.46,623.26 192.27,623.5 192.07,623.75 191.88,623.99 191.68,624.24 191.49,624.48 191.29,624.72 191.1,624.97 190.9,624.97 190.71,624.72 190.51,624.48 190.32,624.24 190.12,623.99 189.93,623.75 189.73,623.5 189.54,623.26 189.34,623.02 189.15,622.77 188.95,622.53 188.76,622.29 188.56,622.04 188.37,621.8 188.17,621.55 187.98,621.31 187.78,621.07 187.59,620.82 187.39,620.58 187.2,620.33 187,620.09" fill="#1ab3c8"/><polygon points="176.35,631.26 176.55,631.62 176.75,631.96 176.95,632.27 177.14,632.56 177.34,632.82 177.54,633.04 177.74,633.21 177.94,633.26 178.14,633.26 178.33,633.26 178.53,633.26 178.73,633.26 178.93,633.26 179.13,633.26 179.33,633.26 179.52,633.26 179.72,633.26 179.92,633.26 180.12,633.26 180.32,633.26 180.52,633.26 180.71,633.26 180.91,633.26 181.11,633.26 181.31,633.26 181.51,633.26 181.71,633.26 181.91,633.26 182.1,633.26 182.3,633.26 182.5,633.26 182.7,633.26 182.9,633.26 183.1,633.26 183.29,633.26 183.49,633.26 183.69,633.26 183.89,633.26 184.09,633.26 184.29,633.26 184.48,633.26 184.68,633.26 184.88,633.26 185.08,633.26 185.28,633.26 185.48,633.26 185.68,633.26 185.87,633.26 186.07,633.17 186.27,632.93 186.47,632.69 186.67,632.44 186.87,632.2 187.06,631.96 187.26,631.72 187.46,631.47 187.66,631.23 187.86,630.99 188.06,630.75 188.25,630.5 188.45,630.26 188.65,630.02 188.85,629.78 189.05,629.53 189.25,629.29 189.44,629.05 189.64,628.81 189.84,628.56 190.04,628.32 190.24,628.08 190.44,627.84 190.64,627.93 190.83,628.17 191.03,628.41 191.23,628.65 191.43,628.9 191.63,629.14 191.83,629.38 192.02,629.62 192.22,629.87 192.42,630.11 192.62,630.35 192.82,630.59 193.02,630.84 193.21,631.08 193.41,631.32 193.61,631.56 193.81,631.81 194.01,632.05 194.21,632.29 194.4,632.53 194.6,632.78 194.8,633.02 195,633.26 195,633.26 194.8,633.5 194.6,633.74 194.4,633.99 194.21,634.23 194.01,634.47 193.81,634.71 193.61,634.96 193.41,635.2 193.21,635.44 193.02,635.68 192.82,635.93 192.62,636.17 192.42,636.41 192.22,636.65 192.02,636.9 191.83,637.14 191.63,637.38 191.43,637.62 191.23,637.87 191.03,638.11 190.83,638.35 190.64,638.59 190.44,638.68 190.24,638.44 190.04,638.2 189.84,637.96 189.64,637.71 189.44,637.47 189.25,637.23 189.05,636.99 188.85,636.74 188.65,636.5 188.45,636.26 188.25,636.02 188.06,635.77 187.86,635.53 187.66,635.29 187.46,635.05 187.26,634.8 187.06,634.56 186.87,634.32 186.67,634.08 186.47,633.83 186.27,633.59 186.07,633.35 185.87,633.26 185.68,633.26 185.48,633.26 185.28,633.26 185.08,633.26 184.88,633.26 184.68,633.26 184.48,633.26 184.29,633.26 184.09,633.26 183.89,633.26 183.69,633.26 183.49,633.26 183.29,633.26 183.1,633.26 182.9,633.26 182.7,633.26 182.5,633.26 182.3,633.26 182.1,633.26 181.91,633.26 181.71,633.26 181.51,633.26 181.31,633.26 181.11,633.26 180.91,633.26 180.71,633.26 180.52,633.26 180.32,633.26 180.12,633.26 179.92,633.26 179.72,633.26 179.52,633.26 179.33,633.26 179.13,633.26 178.93,633.26 178.73,633.26 178.53,633.26 178.33,633.26 178.14,633.26 177.94,633.26 177.74,633.31 177.54,633.48 177.34,633.7 177.14,633.96 176.95,634.25 176.75,634.56 176.55,634.9 176.35,635.26" fill="#3098e0"/><polygon points="201.3,601.92 201.5,602.26 201.7,602.6 201.9,602.93 202.1,603.25 202.29,603.57 202.49,603.87 202.69,604.17 202.89,604.46 203.09,604.74 203.29,605.01 203.49,605.27 203.69,605.52 203.88,605.75 204.08,605.98 204.28,606.18 204.48,606.38 204.68,606.55 204.88,606.67 205.08,606.67 205.28,606.67 205.48,606.67 205.67,606.67 205.87,606.67 206.07,606.67 206.27,606.67 206.47,606.67 206.67,606.61 206.87,606.54 207.07,606.47 207.26,606.4 207.46,606.34 207.66,606.28 207.86,606.22 208.06,606.16 208.26,606.11 208.46,606.06 208.66,606.01 208.85,605.96 209.05,605.92 209.25,605.87 209.45,605.83 209.65,605.79 209.85,605.76 210.05,605.72 210.25,605.69 210.45,605.65 210.64,605.62 210.84,605.59 211.04,605.57 211.24,605.54 211.44,605.52 211.64,605.5 211.84,605.48 212.04,605.46 212.23,605.45 212.43,605.44 212.63,605.43 212.83,605.42 213.03,605.42 213.23,605.42 213.43,605.42 213.63,605.42 213.82,605.43 214.02,605.43 214.22,605.44 214.42,605.45 214.62,605.47 214.82,605.49 215.02,605.51 215.22,605.53 215.42,605.56 215.61,605.59 215.81,605.63 216.01,605.68 216.21,605.73 216.41,605.78 216.61,605.85 216.81,605.92 217.01,606.01 217.2,606.1 217.4,606.22 217.6,606.36 217.8,606.54 218,606.92 218,606.92 217.8,607.3 217.6,607.48 217.4,607.62 217.2,607.74 217.01,607.83 216.81,607.92 216.61,607.99 216.41,608.06 216.21,608.11 216.01,608.16 215.81,608.21 215.61,608.25 215.42,608.28 215.22,608.31 215.02,608.33 214.82,608.35 214.62,608.37 214.42,608.39 214.22,608.4 214.02,608.41 213.82,608.41 213.63,608.42 213.43,608.42 213.23,608.42 213.03,608.42 212.83,608.42 212.63,608.41 212.43,608.4 212.23,608.39 212.04,608.38 211.84,608.36 211.64,608.34 211.44,608.32 211.24,608.3 211.04,608.27 210.84,608.25 210.64,608.22 210.45,608.19 210.25,608.15 210.05,608.12 209.85,608.08 209.65,608.05 209.45,608.01 209.25,607.97 209.05,607.92 208.85,607.88 208.66,607.83 208.46,607.78 208.26,607.73 208.06,607.68 207.86,607.62 207.66,607.56 207.46,607.5 207.26,607.44 207.07,607.37 206.87,607.3 206.67,607.23 206.47,607.17 206.27,607.17 206.07,607.17 205.87,607.17 205.67,607.17 205.48,607.17 205.28,607.17 205.08,607.17 204.88,607.17 204.68,607.29 204.48,607.46 204.28,607.66 204.08,607.86 203.88,608.09 203.69,608.32 203.49,608.57 203.29,608.83 203.09,609.1 202.89,609.38 202.69,609.67 202.49,609.97 202.29,610.27 202.1,610.59 201.9,610.91 201.7,611.24 201.5,611.58 201.3,611.92" fill="#1db09a"/><polygon points="201.3,616.09 201.5,616.46 201.7,616.81 201.9,617.16 202.09,617.49 202.29,617.81 202.49,618.12 202.69,618.42 202.89,618.7 203.09,618.97 203.29,619.22 203.49,619.45 203.68,619.65 203.88,619.84 204.08,619.99 204.28,620.09 204.48,620.09 204.68,620.09 204.88,620.09 205.08,620.09 205.27,620.09 205.47,620.09 205.67,620.09 205.87,620.09 206.07,620.09 206.27,620.09 206.47,620.09 206.67,620.09 206.86,620.09 207.06,620.09 207.26,620.09 207.46,620.09 207.66,620.09 207.86,620.09 208.06,620.03 208.26,619.82 208.45,619.61 208.65,619.4 208.85,619.18 209.05,618.97 209.25,618.76 209.45,618.55 209.65,618.34 209.85,618.13 210.04,617.92 210.24,617.7 210.44,617.49 210.64,617.28 210.84,617.07 211.04,616.86 211.24,616.65 211.44,616.44 211.63,616.22 211.83,616.01 212.03,615.8 212.23,615.59 212.43,615.38 212.63,615.17 212.83,615.24 213.03,615.47 213.22,615.7 213.42,615.93 213.62,616.16 213.82,616.39 214.02,616.62 214.22,616.85 214.42,617.09 214.62,617.32 214.81,617.55 215.01,617.78 215.21,618.01 215.41,618.24 215.61,618.47 215.81,618.7 216.01,618.93 216.21,619.17 216.4,619.4 216.6,619.63 216.8,619.86 217,620.09 217,620.09 216.8,620.32 216.6,620.55 216.4,620.78 216.21,621.01 216.01,621.25 215.81,621.48 215.61,621.71 215.41,621.94 215.21,622.17 215.01,622.4 214.81,622.63 214.62,622.86 214.42,623.09 214.22,623.33 214.02,623.56 213.82,623.79 213.62,624.02 213.42,624.25 213.22,624.48 213.03,624.71 212.83,624.94 212.63,625.01 212.43,624.8 212.23,624.59 212.03,624.38 211.83,624.17 211.63,623.96 211.44,623.74 211.24,623.53 211.04,623.32 210.84,623.11 210.64,622.9 210.44,622.69 210.24,622.48 210.04,622.26 209.85,622.05 209.65,621.84 209.45,621.63 209.25,621.42 209.05,621.21 208.85,621 208.65,620.78 208.45,620.57 208.26,620.36 208.06,620.15 207.86,620.09 207.66,620.09 207.46,620.09 207.26,620.09 207.06,620.09 206.86,620.09 206.67,620.09 206.47,620.09 206.27,620.09 206.07,620.09 205.87,620.09 205.67,620.09 205.47,620.09 205.27,620.09 205.08,620.09 204.88,620.09 204.68,620.09 204.48,620.09 204.28,620.09 204.08,620.19 203.88,620.34 203.68,620.53 203.49,620.73 203.29,620.96 203.09,621.21 202.89,621.48 202.69,621.76 202.49,622.06 202.29,622.37 202.09,622.69 201.9,623.02 201.7,623.37 201.5,623.72 201.3,624.09" fill="#1ab3c8"/><polygon points="201.3,630.26 201.5,630.59 201.7,630.91 201.9,631.21 202.1,631.51 202.29,631.78 202.49,632.05 202.69,632.3 202.89,632.53 203.09,632.74 203.29,632.93 203.49,633.1 203.69,633.22 203.89,633.26 204.08,633.26 204.28,633.26 204.48,633.26 204.68,633.26 204.88,633.26 205.08,633.26 205.28,633.26 205.48,633.26 205.68,633.26 205.87,633.26 206.07,633.26 206.27,633.26 206.47,633.26 206.67,633.26 206.87,633.26 207.07,633.26 207.27,633.26 207.47,633.26 207.66,633.26 207.86,633.26 208.06,633.26 208.26,633.26 208.46,633.26 208.66,633.26 208.86,633.26 209.06,633.2 209.26,632.98 209.45,632.76 209.65,632.54 209.85,632.32 210.05,632.1 210.25,631.89 210.45,631.67 210.65,631.45 210.85,631.23 211.04,631.01 211.24,630.79 211.44,630.57 211.64,630.35 211.84,630.14 212.04,629.92 212.24,629.7 212.44,629.48 212.64,629.26 212.83,629.04 213.03,628.82 213.23,628.6 213.43,628.39 213.63,628.17 213.83,627.95 214.03,627.79 214.23,628.01 214.43,628.23 214.62,628.45 214.82,628.67 215.02,628.88 215.22,629.1 215.42,629.32 215.62,629.54 215.82,629.76 216.02,629.98 216.22,630.2 216.41,630.42 216.61,630.63 216.81,630.85 217.01,631.07 217.21,631.29 217.41,631.51 217.61,631.73 217.81,631.95 218.01,632.17 218.2,632.38 218.4,632.6 218.6,632.82 218.8,633.04 219,633.26 219,633.26 218.8,633.48 218.6,633.7 218.4,633.92 218.2,634.14 218.01,634.35 217.81,634.57 217.61,634.79 217.41,635.01 217.21,635.23 217.01,635.45 216.81,635.67 216.61,635.89 216.41,636.1 216.22,636.32 216.02,636.54 215.82,636.76 215.62,636.98 215.42,637.2 215.22,637.42 215.02,637.64 214.82,637.85 214.62,638.07 214.43,638.29 214.23,638.51 214.03,638.73 213.83,638.57 213.63,638.35 213.43,638.13 213.23,637.92 213.03,637.7 212.83,637.48 212.64,637.26 212.44,637.04 212.24,636.82 212.04,636.6 211.84,636.38 211.64,636.17 211.44,635.95 211.24,635.73 211.04,635.51 210.85,635.29 210.65,635.07 210.45,634.85 210.25,634.63 210.05,634.42 209.85,634.2 209.65,633.98 209.45,633.76 209.26,633.54 209.06,633.32 208.86,633.26 208.66,633.26 208.46,633.26 208.26,633.26 208.06,633.26 207.86,633.26 207.66,633.26 207.47,633.26 207.27,633.26 207.07,633.26 206.87,633.26 206.67,633.26 206.47,633.26 206.27,633.26 206.07,633.26 205.87,633.26 205.68,633.26 205.48,633.26 205.28,633.26 205.08,633.26 204.88,633.26 204.68,633.26 204.48,633.26 204.28,633.26 204.08,633.26 203.89,633.26 203.69,633.3 203.49,633.42 203.29,633.59 203.09,633.78 202.89,633.99 202.69,634.22 202.49,634.47 202.29,634.74 202.1,635.01 201.9,635.31 201.7,635.61 201.5,635.93 201.3,636.26" fill="#3098e0"/><polygon points="226.25,615.09 226.45,615.44 226.65,615.77 226.85,616.1 227.05,616.43 227.25,616.74 227.45,617.05 227.65,617.35 227.84,617.64 228.04,617.92 228.24,618.19 228.44,618.45 228.64,618.69 228.84,618.93 229.04,619.15 229.24,619.36 229.44,619.56 229.64,619.73 229.84,619.84 230.04,619.84 230.24,619.84 230.44,619.84 230.64,619.84 230.84,619.84 231.03,619.84 231.23,619.84 231.43,619.84 231.63,619.84 231.83,619.84 232.03,619.84 232.23,619.84 232.43,619.84 232.63,619.84 232.83,619.84 233.03,619.84 233.23,619.84 233.43,619.83 233.63,619.71 233.83,619.58 234.03,619.46 234.22,619.34 234.42,619.22 234.62,619.1 234.82,618.97 235.02,618.85 235.22,618.73 235.42,618.61 235.62,618.49 235.82,618.36 236.02,618.24 236.22,618.12 236.42,618 236.62,617.88 236.82,617.75 237.02,617.63 237.22,617.51 237.41,617.39 237.61,617.27 237.81,617.14 238.01,617.17 238.21,617.32 238.41,617.46 238.61,617.61 238.81,617.76 239.01,617.9 239.21,618.05 239.41,618.19 239.61,618.34 239.81,618.49 240.01,618.63 240.21,618.78 240.41,618.92 240.6,619.07 240.8,619.21 241,619.36 241.2,619.51 241.4,619.65 241.6,619.8 241.8,619.94 242,620.09 242,620.09 241.8,620.24 241.6,620.38 241.4,620.53 241.2,620.67 241,620.82 240.8,620.97 240.6,621.11 240.41,621.26 240.21,621.4 240.01,621.55 239.81,621.69 239.61,621.84 239.41,621.99 239.21,622.13 239.01,622.28 238.81,622.42 238.61,622.57 238.41,622.72 238.21,622.86 238.01,623.01 237.81,623.04 237.61,622.91 237.41,622.79 237.22,622.67 237.02,622.55 236.82,622.43 236.62,622.3 236.42,622.18 236.22,622.06 236.02,621.94 235.82,621.82 235.62,621.69 235.42,621.57 235.22,621.45 235.02,621.33 234.82,621.21 234.62,621.08 234.42,620.96 234.22,620.84 234.03,620.72 233.83,620.6 233.63,620.47 233.43,620.35 233.23,620.34 233.03,620.34 232.83,620.34 232.63,620.34 232.43,620.34 232.23,620.34 232.03,620.34 231.83,620.34 231.63,620.34 231.43,620.34 231.23,620.34 231.03,620.34 230.84,620.34 230.64,620.34 230.44,620.34 230.24,620.34 230.04,620.34 229.84,620.34 229.64,620.45 229.44,620.62 229.24,620.82 229.04,621.03 228.84,621.25 228.64,621.49 228.44,621.73 228.24,621.99 228.04,622.26 227.84,622.54 227.65,622.83 227.45,623.13 227.25,623.44 227.05,623.75 226.85,624.08 226.65,624.41 226.45,624.74 226.25,625.09" fill="#1ab3c8"/><polygon points="226.25,628.26 226.45,628.61 226.65,628.94 226.85,629.27 227.05,629.6 227.25,629.91 227.45,630.22 227.65,630.52 227.85,630.81 228.04,631.09 228.24,631.36 228.44,631.62 228.64,631.87 228.84,632.1 229.04,632.32 229.24,632.53 229.44,632.73 229.64,632.9 229.84,633.01 230.04,633.01 230.24,633.01 230.44,633.01 230.64,633.01 230.84,633.01 231.04,633.01 231.24,633.01 231.44,633.01 231.63,633.01 231.83,633.01 232.03,633.01 232.23,633.01 232.43,633.01 232.63,633.01 232.83,633.01 233.03,633.01 233.23,633.01 233.43,633.01 233.63,633.01 233.83,633.01 234.03,633.01 234.23,633.01 234.43,632.95 234.63,632.8 234.83,632.66 235.03,632.51 235.22,632.37 235.42,632.22 235.62,632.08 235.82,631.93 236.02,631.79 236.22,631.64 236.42,631.5 236.62,631.35 236.82,631.21 237.02,631.06 237.22,630.92 237.42,630.77 237.62,630.63 237.82,630.48 238.02,630.34 238.22,630.19 238.42,630.05 238.62,629.9 238.81,629.76 239.01,629.61 239.21,629.47 239.41,629.32 239.61,629.36 239.81,629.54 240.01,629.71 240.21,629.89 240.41,630.07 240.61,630.25 240.81,630.42 241.01,630.6 241.21,630.78 241.41,630.96 241.61,631.13 241.81,631.31 242.01,631.49 242.21,631.66 242.4,631.84 242.6,632.02 242.8,632.2 243,632.37 243.2,632.55 243.4,632.73 243.6,632.91 243.8,633.08 244,633.26 244,633.26 243.8,633.44 243.6,633.61 243.4,633.79 243.2,633.97 243,634.15 242.8,634.32 242.6,634.5 242.4,634.68 242.21,634.86 242.01,635.03 241.81,635.21 241.61,635.39 241.41,635.56 241.21,635.74 241.01,635.92 240.81,636.1 240.61,636.27 240.41,636.45 240.21,636.63 240.01,636.81 239.81,636.98 239.61,637.16 239.41,637.2 239.21,637.05 239.01,636.91 238.81,636.76 238.62,636.62 238.42,636.47 238.22,636.33 238.02,636.18 237.82,636.04 237.62,635.89 237.42,635.75 237.22,635.6 237.02,635.46 236.82,635.31 236.62,635.17 236.42,635.02 236.22,634.88 236.02,634.73 235.82,634.59 235.62,634.44 235.42,634.3 235.22,634.15 235.03,634.01 234.83,633.86 234.63,633.72 234.43,633.57 234.23,633.51 234.03,633.51 233.83,633.51 233.63,633.51 233.43,633.51 233.23,633.51 233.03,633.51 232.83,633.51 232.63,633.51 232.43,633.51 232.23,633.51 232.03,633.51 231.83,633.51 231.63,633.51 231.44,633.51 231.24,633.51 231.04,633.51 230.84,633.51 230.64,633.51 230.44,633.51 230.24,633.51 230.04,633.51 229.84,633.51 229.64,633.62 229.44,633.79 229.24,633.99 229.04,634.2 228.84,634.42 228.64,634.65 228.44,634.9 228.24,635.16 228.04,635.43 227.85,635.71 227.65,636 227.45,636.3 227.25,636.61 227.05,636.92 226.85,637.25 226.65,637.58 226.45,637.91 226.25,638.26" fill="#3098e0"/><polygon points="226.25,680.94 226.45,681.29 226.65,681.62 226.85,681.95 227.05,682.28 227.25,682.59 227.45,682.9 227.65,683.2 227.84,683.49 228.04,683.77 228.24,684.04 228.44,684.3 228.64,684.54 228.84,684.78 229.04,685 229.24,685.21 229.44,685.41 229.64,685.58 229.84,685.69 230.04,685.69 230.24,685.69 230.44,685.69 230.64,685.69 230.84,685.69 231.03,685.69 231.23,685.69 231.43,685.69 231.63,685.69 231.83,685.69 232.03,685.69 232.23,685.69 232.43,685.69 232.63,685.69 232.83,685.69 233.03,685.69 233.23,685.69 233.43,685.69 233.63,685.69 233.83,685.69 234.03,685.69 234.22,685.69 234.42,685.64 234.62,685.49 234.82,685.35 235.02,685.21 235.22,685.07 235.42,684.93 235.62,684.78 235.82,684.64 236.02,684.5 236.22,684.36 236.42,684.21 236.62,684.07 236.82,683.93 237.02,683.79 237.22,683.64 237.41,683.5 237.61,683.5 237.81,683.61 238.01,683.72 238.21,683.84 238.41,683.95 238.61,684.06 238.81,684.17 239.01,684.28 239.21,684.39 239.41,684.5 239.61,684.61 239.81,684.72 240.01,684.83 240.21,684.94 240.41,685.05 240.6,685.16 240.8,685.28 241,685.39 241.2,685.5 241.4,685.61 241.6,685.72 241.8,685.83 242,685.94 242,685.94 241.8,686.05 241.6,686.16 241.4,686.27 241.2,686.38 241,686.49 240.8,686.6 240.6,686.72 240.41,686.83 240.21,686.94 240.01,687.05 239.81,687.16 239.61,687.27 239.41,687.38 239.21,687.49 239.01,687.6 238.81,687.71 238.61,687.82 238.41,687.93 238.21,688.04 238.01,688.16 237.81,688.27 237.61,688.38 237.41,688.38 237.22,688.24 237.02,688.09 236.82,687.95 236.62,687.81 236.42,687.67 236.22,687.52 236.02,687.38 235.82,687.24 235.62,687.1 235.42,686.95 235.22,686.81 235.02,686.67 234.82,686.53 234.62,686.39 234.42,686.24 234.22,686.19 234.03,686.19 233.83,686.19 233.63,686.19 233.43,686.19 233.23,686.19 233.03,686.19 232.83,686.19 232.63,686.19 232.43,686.19 232.23,686.19 232.03,686.19 231.83,686.19 231.63,686.19 231.43,686.19 231.23,686.19 231.03,686.19 230.84,686.19 230.64,686.19 230.44,686.19 230.24,686.19 230.04,686.19 229.84,686.19 229.64,686.3 229.44,686.47 229.24,686.67 229.04,686.88 228.84,687.1 228.64,687.34 228.44,687.58 228.24,687.84 228.04,688.11 227.84,688.39 227.65,688.68 227.45,688.98 227.25,689.29 227.05,689.6 226.85,689.93 226.65,690.26 226.45,690.59 226.25,690.94" fill="#e6649e"/><polygon points="251.2,575.58 251.4,575.85 251.6,576.12 251.79,576.39 251.99,576.65 252.19,576.91 252.39,577.16 252.58,577.4 252.78,577.64 252.98,577.88 253.18,578.11 253.37,578.33 253.57,578.55 253.77,578.76 253.97,578.96 254.16,579.16 254.36,579.35 254.56,579.53 254.76,579.7 254.96,579.87 255.15,580.02 255.35,580.16 255.55,580.29 255.75,580.33 255.94,580.33 256.14,580.33 256.34,580.33 256.54,580.33 256.73,580.33 256.93,580.33 257.13,580.33 257.33,580.33 257.52,580.33 257.72,580.33 257.92,580.33 258.12,580.19 258.32,579.7 258.51,579.26 258.71,578.87 258.91,578.5 259.11,578.16 259.3,577.84 259.5,577.54 259.7,577.25 259.9,576.99 260.09,576.74 260.29,576.51 260.49,576.29 260.69,576.09 260.88,575.91 261.08,575.74 261.28,575.59 261.48,575.46 261.68,575.34 261.87,575.24 262.07,575.17 262.27,575.11 262.47,575.08 262.66,575.08 262.86,575.08 263.06,575.09 263.26,575.1 263.45,575.11 263.65,575.14 263.85,575.17 264.05,575.2 264.24,575.25 264.44,575.3 264.64,575.37 264.84,575.44 265.04,575.53 265.23,575.63 265.43,575.75 265.63,575.88 265.83,576.03 266.02,576.19 266.22,576.38 266.42,576.59 266.62,576.83 266.81,577.09 267.01,577.39 267.21,577.74 267.41,578.15 267.6,578.64 267.8,579.28 268,580.58 268,580.58 267.8,581.88 267.6,582.52 267.41,583.01 267.21,583.42 267.01,583.77 266.81,584.07 266.62,584.33 266.42,584.57 266.22,584.78 266.02,584.97 265.83,585.13 265.63,585.28 265.43,585.41 265.23,585.53 265.04,585.63 264.84,585.72 264.64,585.79 264.44,585.86 264.24,585.91 264.05,585.96 263.85,585.99 263.65,586.02 263.45,586.05 263.26,586.06 263.06,586.07 262.86,586.08 262.66,586.08 262.47,586.08 262.27,586.05 262.07,585.99 261.87,585.92 261.68,585.82 261.48,585.7 261.28,585.57 261.08,585.42 260.88,585.25 260.69,585.07 260.49,584.87 260.29,584.65 260.09,584.42 259.9,584.17 259.7,583.91 259.5,583.62 259.3,583.32 259.11,583 258.91,582.66 258.71,582.29 258.51,581.9 258.32,581.46 258.12,580.97 257.92,580.83 257.72,580.83 257.52,580.83 257.33,580.83 257.13,580.83 256.93,580.83 256.73,580.83 256.54,580.83 256.34,580.83 256.14,580.83 255.94,580.83 255.75,580.83 255.55,580.87 255.35,581 255.15,581.14 254.96,581.29 254.76,581.46 254.56,581.63 254.36,581.81 254.16,582 253.97,582.2 253.77,582.4 253.57,582.61 253.37,582.83 253.18,583.05 252.98,583.28 252.78,583.52 252.58,583.76 252.39,584 252.19,584.25 251.99,584.51 251.79,584.77 251.6,585.04 251.4,585.31 251.2,585.58" fill="#3aae3a"/><polygon points="251.2,589.75 251.4,590.11 251.59,590.47 251.79,590.81 251.99,591.14 252.19,591.46 252.38,591.77 252.58,592.07 252.78,592.35 252.98,592.61 253.17,592.86 253.37,593.09 253.57,593.3 253.77,593.48 253.97,593.5 254.16,593.5 254.36,593.5 254.56,593.5 254.75,593.5 254.95,593.5 255.15,593.5 255.35,593.5 255.54,593.5 255.74,593.5 255.94,593.5 256.14,593.5 256.33,593.5 256.53,593.5 256.73,593.5 256.93,593.5 257.12,593.5 257.32,593.5 257.52,593.5 257.72,593.5 257.92,593.5 258.11,593.5 258.31,593.5 258.51,593.5 258.7,593.5 258.9,593.5 259.1,593.5 259.3,593.5 259.5,593.44 259.69,593.32 259.89,593.19 260.09,593.07 260.28,592.95 260.48,592.82 260.68,592.7 260.88,592.58 261.07,592.45 261.27,592.33 261.47,592.21 261.67,592.08 261.87,591.96 262.06,591.84 262.26,591.71 262.46,591.59 262.65,591.47 262.85,591.34 263.05,591.28 263.25,591.4 263.44,591.53 263.64,591.65 263.84,591.77 264.04,591.9 264.24,592.02 264.43,592.15 264.63,592.27 264.83,592.39 265.02,592.52 265.22,592.64 265.42,592.76 265.62,592.89 265.81,593.01 266.01,593.13 266.21,593.26 266.41,593.38 266.61,593.5 266.8,593.63 267,593.75 267,593.75 266.8,593.87 266.61,594 266.41,594.12 266.21,594.24 266.01,594.37 265.81,594.49 265.62,594.61 265.42,594.74 265.22,594.86 265.02,594.98 264.83,595.11 264.63,595.23 264.43,595.35 264.24,595.48 264.04,595.6 263.84,595.73 263.64,595.85 263.44,595.97 263.25,596.1 263.05,596.22 262.85,596.16 262.65,596.03 262.46,595.91 262.26,595.79 262.06,595.66 261.87,595.54 261.67,595.42 261.47,595.29 261.27,595.17 261.07,595.05 260.88,594.92 260.68,594.8 260.48,594.68 260.28,594.55 260.09,594.43 259.89,594.31 259.69,594.18 259.5,594.06 259.3,594 259.1,594 258.9,594 258.7,594 258.51,594 258.31,594 258.11,594 257.92,594 257.72,594 257.52,594 257.32,594 257.12,594 256.93,594 256.73,594 256.53,594 256.33,594 256.14,594 255.94,594 255.74,594 255.54,594 255.35,594 255.15,594 254.95,594 254.75,594 254.56,594 254.36,594 254.16,594 253.97,594 253.77,594.02 253.57,594.2 253.37,594.41 253.17,594.64 252.98,594.89 252.78,595.15 252.58,595.43 252.38,595.73 252.19,596.04 251.99,596.36 251.79,596.69 251.59,597.03 251.4,597.39 251.2,597.75" fill="#21ad6e"/><polygon points="251.2,603.92 251.4,604.19 251.6,604.46 251.79,604.72 251.99,604.97 252.19,605.21 252.39,605.44 252.59,605.66 252.78,605.87 252.98,606.07 253.18,606.26 253.38,606.43 253.57,606.59 253.77,606.67 253.97,606.67 254.17,606.67 254.37,606.67 254.56,606.67 254.76,606.67 254.96,606.67 255.16,606.67 255.36,606.67 255.55,606.67 255.75,606.67 255.95,606.67 256.15,606.67 256.35,606.67 256.54,606.67 256.74,606.67 256.94,606.67 257.14,606.67 257.33,606.67 257.53,606.67 257.73,606.67 257.93,606.67 258.13,606.67 258.32,606.67 258.52,606.67 258.72,606.67 258.92,606.67 259.12,606.67 259.31,606.67 259.51,606.67 259.71,606.67 259.91,606.67 260.11,606.67 260.3,606.67 260.5,606.67 260.7,606.67 260.9,606.67 261.09,606.67 261.29,606.59 261.49,606.37 261.69,606.16 261.89,605.94 262.08,605.72 262.28,605.5 262.48,605.28 262.68,605.06 262.88,604.84 263.07,604.62 263.27,604.4 263.47,604.18 263.67,603.96 263.87,603.74 264.06,603.52 264.26,603.3 264.46,603.08 264.66,602.86 264.85,602.64 265.05,602.42 265.25,602.2 265.45,601.98 265.65,602.08 265.84,602.3 266.04,602.52 266.24,602.74 266.44,602.96 266.64,603.18 266.83,603.4 267.03,603.62 267.23,603.84 267.43,604.06 267.63,604.28 267.82,604.5 268.02,604.72 268.22,604.94 268.42,605.16 268.61,605.38 268.81,605.6 269.01,605.82 269.21,606.04 269.41,606.26 269.6,606.48 269.8,606.7 270,606.92 270,606.92 269.8,607.14 269.6,607.36 269.41,607.58 269.21,607.8 269.01,608.02 268.81,608.24 268.61,608.46 268.42,608.68 268.22,608.9 268.02,609.12 267.82,609.34 267.63,609.56 267.43,609.78 267.23,610 267.03,610.22 266.83,610.44 266.64,610.66 266.44,610.88 266.24,611.1 266.04,611.32 265.84,611.54 265.65,611.76 265.45,611.86 265.25,611.64 265.05,611.42 264.85,611.2 264.66,610.98 264.46,610.76 264.26,610.54 264.06,610.32 263.87,610.1 263.67,609.88 263.47,609.66 263.27,609.44 263.07,609.22 262.88,609 262.68,608.78 262.48,608.56 262.28,608.34 262.08,608.12 261.89,607.9 261.69,607.68 261.49,607.47 261.29,607.25 261.09,607.17 260.9,607.17 260.7,607.17 260.5,607.17 260.3,607.17 260.11,607.17 259.91,607.17 259.71,607.17 259.51,607.17 259.31,607.17 259.12,607.17 258.92,607.17 258.72,607.17 258.52,607.17 258.32,607.17 258.13,607.17 257.93,607.17 257.73,607.17 257.53,607.17 257.33,607.17 257.14,607.17 256.94,607.17 256.74,607.17 256.54,607.17 256.35,607.17 256.15,607.17 255.95,607.17 255.75,607.17 255.55,607.17 255.36,607.17 255.16,607.17 254.96,607.17 254.76,607.17 254.56,607.17 254.37,607.17 254.17,607.17 253.97,607.17 253.77,607.17 253.57,607.25 253.38,607.41 253.18,607.58 252.98,607.77 252.78,607.97 252.59,608.18 252.39,608.4 252.19,608.63 251.99,608.87 251.79,609.12 251.6,609.38 251.4,609.65 251.2,609.92" fill="#1db09a"/><polygon points="276.15,601.92 276.35,602.2 276.55,602.47 276.74,602.73 276.94,602.99 277.14,603.25 277.34,603.5 277.54,603.75 277.74,603.99 277.93,604.22 278.13,604.45 278.33,604.68 278.53,604.9 278.73,605.11 278.93,605.31 279.12,605.51 279.32,605.7 279.52,605.88 279.72,606.05 279.92,606.22 280.11,606.37 280.31,606.51 280.51,606.64 280.71,606.67 280.91,606.67 281.11,606.67 281.3,606.67 281.5,606.67 281.7,606.67 281.9,606.67 282.1,606.67 282.3,606.67 282.49,606.67 282.69,606.67 282.89,606.67 283.09,606.67 283.29,606.67 283.48,606.67 283.68,606.67 283.88,606.67 284.08,606.67 284.28,606.23 284.48,605.84 284.67,605.49 284.87,605.17 285.07,604.86 285.27,604.57 285.47,604.31 285.67,604.05 285.86,603.81 286.06,603.59 286.26,603.38 286.46,603.18 286.66,603 286.85,602.83 287.05,602.67 287.25,602.52 287.45,602.39 287.65,602.28 287.85,602.17 288.04,602.09 288.24,602.02 288.44,601.96 288.64,601.93 288.84,601.92 289.04,601.92 289.23,601.93 289.43,601.95 289.63,601.97 289.83,602.01 290.03,602.05 290.22,602.11 290.42,602.19 290.62,602.28 290.82,602.4 291.02,602.53 291.22,602.69 291.41,602.87 291.61,603.09 291.81,603.34 292.01,603.63 292.21,603.97 292.41,604.38 292.6,604.88 292.8,605.54 293,606.92 293,606.92 292.8,608.3 292.6,608.96 292.41,609.46 292.21,609.87 292.01,610.21 291.81,610.5 291.61,610.75 291.41,610.97 291.22,611.15 291.02,611.31 290.82,611.44 290.62,611.56 290.42,611.65 290.22,611.73 290.03,611.79 289.83,611.83 289.63,611.87 289.43,611.89 289.23,611.91 289.04,611.92 288.84,611.92 288.64,611.91 288.44,611.88 288.24,611.82 288.04,611.75 287.85,611.67 287.65,611.56 287.45,611.45 287.25,611.32 287.05,611.17 286.85,611.01 286.66,610.84 286.46,610.66 286.26,610.46 286.06,610.25 285.86,610.03 285.67,609.79 285.47,609.53 285.27,609.27 285.07,608.98 284.87,608.67 284.67,608.35 284.48,608 284.28,607.61 284.08,607.17 283.88,607.17 283.68,607.17 283.48,607.17 283.29,607.17 283.09,607.17 282.89,607.17 282.69,607.17 282.49,607.17 282.3,607.17 282.1,607.17 281.9,607.17 281.7,607.17 281.5,607.17 281.3,607.17 281.11,607.17 280.91,607.17 280.71,607.17 280.51,607.2 280.31,607.33 280.11,607.47 279.92,607.62 279.72,607.79 279.52,607.96 279.32,608.14 279.12,608.33 278.93,608.53 278.73,608.73 278.53,608.94 278.33,609.16 278.13,609.39 277.93,609.62 277.74,609.85 277.54,610.09 277.34,610.34 277.14,610.59 276.94,610.85 276.74,611.11 276.55,611.37 276.35,611.64 276.15,611.92" fill="#1db09a"/><polygon points="301.1,575.58 301.3,575.86 301.5,576.13 301.7,576.39 301.89,576.66 302.09,576.91 302.29,577.17 302.49,577.41 302.69,577.65 302.89,577.89 303.09,578.12 303.29,578.34 303.48,578.56 303.68,578.77 303.88,578.98 304.08,579.18 304.28,579.37 304.48,579.55 304.68,579.72 304.88,579.88 305.07,580.04 305.27,580.18 305.47,580.31 305.67,580.33 305.87,580.33 306.07,580.33 306.27,579.9 306.47,579.51 306.66,579.15 306.86,578.81 307.06,578.5 307.26,578.2 307.46,577.92 307.66,577.66 307.86,577.4 308.06,577.17 308.25,576.94 308.45,576.73 308.65,576.53 308.85,576.34 309.05,576.17 309.25,576 309.45,575.85 309.65,575.71 309.84,575.58 310.04,575.47 310.24,575.36 310.44,575.28 310.64,575.2 310.84,575.14 311.04,575.1 311.24,575.08 311.44,575.08 311.63,575.08 311.83,575.09 312.03,575.1 312.23,575.11 312.43,575.13 312.63,575.16 312.83,575.19 313.02,575.24 313.22,575.29 313.42,575.35 313.62,575.42 313.82,575.5 314.02,575.59 314.22,575.69 314.42,575.81 314.62,575.95 314.81,576.1 315.01,576.26 315.21,576.45 315.41,576.66 315.61,576.89 315.81,577.16 316.01,577.46 316.2,577.8 316.4,578.2 316.6,578.68 316.8,579.31 317,580.58 317,580.58 316.8,581.85 316.6,582.48 316.4,582.96 316.2,583.36 316.01,583.7 315.81,584 315.61,584.27 315.41,584.5 315.21,584.71 315.01,584.9 314.81,585.06 314.62,585.21 314.42,585.35 314.22,585.47 314.02,585.57 313.82,585.66 313.62,585.74 313.42,585.81 313.22,585.87 313.02,585.92 312.83,585.97 312.63,586 312.43,586.03 312.23,586.05 312.03,586.06 311.83,586.07 311.63,586.08 311.44,586.08 311.24,586.08 311.04,586.06 310.84,586.02 310.64,585.96 310.44,585.88 310.24,585.8 310.04,585.69 309.84,585.58 309.65,585.45 309.45,585.31 309.25,585.16 309.05,584.99 308.85,584.82 308.65,584.63 308.45,584.43 308.25,584.22 308.06,583.99 307.86,583.76 307.66,583.5 307.46,583.24 307.26,582.96 307.06,582.66 306.86,582.35 306.66,582.01 306.47,581.65 306.27,581.26 306.07,580.83 305.87,580.83 305.67,580.83 305.47,580.85 305.27,580.98 305.07,581.12 304.88,581.28 304.68,581.44 304.48,581.61 304.28,581.79 304.08,581.98 303.88,582.18 303.68,582.39 303.48,582.6 303.29,582.82 303.09,583.04 302.89,583.27 302.69,583.51 302.49,583.75 302.29,583.99 302.09,584.25 301.89,584.5 301.7,584.77 301.5,585.03 301.3,585.3 301.1,585.58" fill="#3aae3a"/><polygon points="301.1,589.75 301.3,590.12 301.5,590.47 301.7,590.82 301.89,591.15 302.09,591.47 302.29,591.78 302.49,592.08 302.69,592.36 302.89,592.63 303.09,592.88 303.29,593.11 303.48,593.31 303.68,593.5 303.88,593.5 304.08,593.5 304.28,593.5 304.48,593.5 304.68,593.5 304.88,593.5 305.07,593.5 305.27,593.5 305.47,593.5 305.67,593.5 305.87,593.5 306.07,593.5 306.27,593.5 306.47,593.5 306.66,593.5 306.86,593.5 307.06,593.5 307.26,593.5 307.46,593.5 307.66,593.5 307.86,593.5 308.06,593.5 308.25,593.5 308.45,593.3 308.65,593.1 308.85,592.9 309.05,592.7 309.25,592.5 309.45,592.3 309.65,592.1 309.84,591.9 310.04,591.71 310.24,591.51 310.44,591.31 310.64,591.11 310.84,590.91 311.04,590.71 311.24,590.51 311.44,590.32 311.63,590.12 311.83,589.92 312.03,589.72 312.23,589.52 312.43,589.32 312.63,589.12 312.83,588.92 313.02,588.78 313.22,589.03 313.42,589.28 313.62,589.53 313.82,589.77 314.02,590.02 314.22,590.27 314.42,590.52 314.62,590.77 314.81,591.02 315.01,591.27 315.21,591.51 315.41,591.76 315.61,592.01 315.81,592.26 316.01,592.51 316.2,592.76 316.4,593 316.6,593.25 316.8,593.5 317,593.75 317,593.75 316.8,594 316.6,594.25 316.4,594.5 316.2,594.74 316.01,594.99 315.81,595.24 315.61,595.49 315.41,595.74 315.21,595.99 315.01,596.23 314.81,596.48 314.62,596.73 314.42,596.98 314.22,597.23 314.02,597.48 313.82,597.73 313.62,597.97 313.42,598.22 313.22,598.47 313.02,598.72 312.83,598.58 312.63,598.38 312.43,598.18 312.23,597.98 312.03,597.78 311.83,597.58 311.63,597.38 311.44,597.18 311.24,596.99 311.04,596.79 310.84,596.59 310.64,596.39 310.44,596.19 310.24,595.99 310.04,595.79 309.84,595.6 309.65,595.4 309.45,595.2 309.25,595 309.05,594.8 308.85,594.6 308.65,594.4 308.45,594.2 308.25,594 308.06,594 307.86,594 307.66,594 307.46,594 307.26,594 307.06,594 306.86,594 306.66,594 306.47,594 306.27,594 306.07,594 305.87,594 305.67,594 305.47,594 305.27,594 305.07,594 304.88,594 304.68,594 304.48,594 304.28,594 304.08,594 303.88,594 303.68,594 303.48,594.19 303.29,594.39 303.09,594.62 302.89,594.87 302.69,595.14 302.49,595.42 302.29,595.72 302.09,596.03 301.89,596.35 301.7,596.68 301.5,597.03 301.3,597.38 301.1,597.75" fill="#21ad6e"/><polygon points="326.05,577.58 326.25,577.86 326.45,578.12 326.65,578.38 326.85,578.63 327.05,578.88 327.25,579.11 327.45,579.33 327.65,579.54 327.85,579.74 328.04,579.93 328.24,580.1 328.44,580.26 328.64,580.33 328.84,580.33 329.04,580.33 329.24,580.33 329.44,580.33 329.64,580.33 329.84,580.33 330.04,580.33 330.24,580.33 330.44,580.33 330.64,580.33 330.84,580.33 331.04,580.33 331.24,580.33 331.44,580.33 331.64,580.33 331.83,580.33 332.03,580.33 332.23,580.33 332.43,580.33 332.63,580.33 332.83,580.33 333.03,580.33 333.23,580.33 333.43,580.33 333.63,580.33 333.83,580.33 334.03,580.33 334.23,580.05 334.43,579.68 334.63,579.35 334.83,579.05 335.03,578.76 335.23,578.48 335.43,578.22 335.62,577.97 335.82,577.74 336.02,577.51 336.22,577.3 336.42,577.09 336.62,576.9 336.82,576.71 337.02,576.54 337.22,576.37 337.42,576.22 337.62,576.07 337.82,575.93 338.02,575.8 338.22,575.68 338.42,575.57 338.62,575.47 338.82,575.38 339.02,575.3 339.22,575.23 339.41,575.17 339.61,575.12 339.81,575.09 340.01,575.08 340.21,575.08 340.41,575.09 340.61,575.09 340.81,575.11 341.01,575.13 341.21,575.16 341.41,575.2 341.61,575.25 341.81,575.32 342.01,575.39 342.21,575.48 342.41,575.59 342.61,575.71 342.81,575.85 343.01,576.01 343.2,576.2 343.4,576.4 343.6,576.64 343.8,576.91 344,577.22 344.2,577.58 344.4,578.01 344.6,578.52 344.8,579.19 345,580.58 345,580.58 344.8,581.97 344.6,582.64 344.4,583.15 344.2,583.58 344,583.94 343.8,584.25 343.6,584.52 343.4,584.76 343.2,584.96 343.01,585.15 342.81,585.31 342.61,585.45 342.41,585.57 342.21,585.68 342.01,585.77 341.81,585.84 341.61,585.91 341.41,585.96 341.21,586 341.01,586.03 340.81,586.05 340.61,586.07 340.41,586.07 340.21,586.08 340.01,586.08 339.81,586.07 339.61,586.04 339.41,585.99 339.22,585.93 339.02,585.86 338.82,585.78 338.62,585.69 338.42,585.59 338.22,585.48 338.02,585.36 337.82,585.23 337.62,585.09 337.42,584.94 337.22,584.79 337.02,584.62 336.82,584.45 336.62,584.26 336.42,584.07 336.22,583.86 336.02,583.65 335.82,583.42 335.62,583.19 335.43,582.94 335.23,582.68 335.03,582.4 334.83,582.11 334.63,581.81 334.43,581.48 334.23,581.11 334.03,580.83 333.83,580.83 333.63,580.83 333.43,580.83 333.23,580.83 333.03,580.83 332.83,580.83 332.63,580.83 332.43,580.83 332.23,580.83 332.03,580.83 331.83,580.83 331.64,580.83 331.44,580.83 331.24,580.83 331.04,580.83 330.84,580.83 330.64,580.83 330.44,580.83 330.24,580.83 330.04,580.83 329.84,580.83 329.64,580.83 329.44,580.83 329.24,580.83 329.04,580.83 328.84,580.83 328.64,580.83 328.44,580.9 328.24,581.06 328.04,581.23 327.85,581.42 327.65,581.62 327.45,581.83 327.25,582.05 327.05,582.28 326.85,582.53 326.65,582.78 326.45,583.04 326.25,583.3 326.05,583.58" fill="#3aae3a"/><polygon points="326.05,592.75 326.25,593.02 326.45,593.26 326.65,593.47 326.85,593.64 327.05,593.75 327.25,593.75 327.45,593.75 327.65,593.75 327.85,593.75 328.04,593.75 328.24,593.75 328.44,593.75 328.64,593.75 328.84,593.75 329.04,593.75 329.24,593.75 329.44,593.75 329.64,593.75 329.84,593.75 330.04,593.75 330.24,593.75 330.44,593.75 330.64,593.75 330.84,593.75 331.04,593.75 331.24,593.75 331.44,593.75 331.63,593.75 331.83,593.75 332.03,593.75 332.23,593.75 332.43,593.75 332.63,593.75 332.83,593.75 333.03,593.75 333.23,593.75 333.43,593.75 333.63,593.75 333.83,593.75 334.03,593.75 334.23,593.75 334.43,593.75 334.63,593.75 334.83,593.75 335.02,593.75 335.22,593.75 335.42,593.75 335.62,593.75 335.82,593.75 336.02,593.75 336.22,593.75 336.42,593.75 336.62,593.75 336.82,593.75 337.02,593.72 337.22,593.39 337.42,593.05 337.62,592.72 337.82,592.39 338.02,592.06 338.22,591.72 338.42,591.39 338.62,591.06 338.81,590.73 339.01,590.39 339.21,590.06 339.41,589.73 339.61,589.4 339.81,589.06 340.01,588.76 340.21,589.01 340.41,589.26 340.61,589.51 340.81,589.76 341.01,590.01 341.21,590.26 341.41,590.51 341.61,590.76 341.81,591.01 342.01,591.26 342.2,591.51 342.4,591.76 342.6,592 342.8,592.25 343,592.5 343.2,592.75 343.4,593 343.6,593.25 343.8,593.5 344,593.75 344,593.75 343.8,594 343.6,594.25 343.4,594.5 343.2,594.75 343,595 342.8,595.25 342.6,595.5 342.4,595.74 342.2,595.99 342.01,596.24 341.81,596.49 341.61,596.74 341.41,596.99 341.21,597.24 341.01,597.49 340.81,597.74 340.61,597.99 340.41,598.24 340.21,598.49 340.01,598.74 339.81,598.44 339.61,598.1 339.41,597.77 339.21,597.44 339.01,597.11 338.81,596.77 338.62,596.44 338.42,596.11 338.22,595.78 338.02,595.44 337.82,595.11 337.62,594.78 337.42,594.45 337.22,594.11 337.02,593.78 336.82,593.75 336.62,593.75 336.42,593.75 336.22,593.75 336.02,593.75 335.82,593.75 335.62,593.75 335.42,593.75 335.22,593.75 335.02,593.75 334.83,593.75 334.63,593.75 334.43,593.75 334.23,593.75 334.03,593.75 333.83,593.75 333.63,593.75 333.43,593.75 333.23,593.75 333.03,593.75 332.83,593.75 332.63,593.75 332.43,593.75 332.23,593.75 332.03,593.75 331.83,593.75 331.63,593.75 331.44,593.75 331.24,593.75 331.04,593.75 330.84,593.75 330.64,593.75 330.44,593.75 330.24,593.75 330.04,593.75 329.84,593.75 329.64,593.75 329.44,593.75 329.24,593.75 329.04,593.75 328.84,593.75 328.64,593.75 328.44,593.75 328.24,593.75 328.04,593.75 327.85,593.75 327.65,593.75 327.45,593.75 327.25,593.75 327.05,593.75 326.85,593.86 326.65,594.03 326.45,594.24 326.25,594.48 326.05,594.75" fill="#21ad6e"/><polygon points="326.05,605.42 326.25,605.69 326.45,605.95 326.65,606.18 326.85,606.4 327.05,606.6 327.25,606.76 327.45,606.88 327.65,606.92 327.85,606.92 328.04,606.92 328.24,606.92 328.44,606.92 328.64,606.92 328.84,606.92 329.04,606.92 329.24,606.92 329.44,606.92 329.64,606.92 329.84,606.92 330.04,606.92 330.24,606.92 330.44,606.92 330.64,606.92 330.84,606.92 331.04,606.92 331.24,606.92 331.44,606.92 331.63,606.92 331.83,606.92 332.03,606.92 332.23,606.92 332.43,606.92 332.63,606.92 332.83,606.92 333.03,606.92 333.23,606.92 333.43,606.92 333.63,606.92 333.83,606.92 334.03,606.92 334.23,606.92 334.43,606.92 334.63,606.92 334.83,606.92 335.02,606.92 335.22,606.92 335.42,606.92 335.62,606.92 335.82,606.92 336.02,606.89 336.22,606.57 336.42,606.26 336.62,605.94 336.82,605.63 337.02,605.32 337.22,605 337.42,604.69 337.62,604.38 337.82,604.06 338.02,603.75 338.22,603.44 338.42,603.12 338.62,602.81 338.81,602.5 339.01,602.18 339.21,601.87 339.41,601.56 339.61,601.56 339.81,601.8 340.01,602.04 340.21,602.29 340.41,602.53 340.61,602.78 340.81,603.02 341.01,603.26 341.21,603.51 341.41,603.75 341.61,603.99 341.81,604.24 342.01,604.48 342.2,604.73 342.4,604.97 342.6,605.21 342.8,605.46 343,605.7 343.2,605.94 343.4,606.19 343.6,606.43 343.8,606.68 344,606.92 344,606.92 343.8,607.16 343.6,607.41 343.4,607.65 343.2,607.9 343,608.14 342.8,608.38 342.6,608.63 342.4,608.87 342.2,609.11 342.01,609.36 341.81,609.6 341.61,609.85 341.41,610.09 341.21,610.33 341.01,610.58 340.81,610.82 340.61,611.06 340.41,611.31 340.21,611.55 340.01,611.8 339.81,612.04 339.61,612.28 339.41,612.28 339.21,611.97 339.01,611.66 338.81,611.34 338.62,611.03 338.42,610.72 338.22,610.4 338.02,610.09 337.82,609.78 337.62,609.46 337.42,609.15 337.22,608.84 337.02,608.52 336.82,608.21 336.62,607.9 336.42,607.58 336.22,607.27 336.02,606.95 335.82,606.92 335.62,606.92 335.42,606.92 335.22,606.92 335.02,606.92 334.83,606.92 334.63,606.92 334.43,606.92 334.23,606.92 334.03,606.92 333.83,606.92 333.63,606.92 333.43,606.92 333.23,606.92 333.03,606.92 332.83,606.92 332.63,606.92 332.43,606.92 332.23,606.92 332.03,606.92 331.83,606.92 331.63,606.92 331.44,606.92 331.24,606.92 331.04,606.92 330.84,606.92 330.64,606.92 330.44,606.92 330.24,606.92 330.04,606.92 329.84,606.92 329.64,606.92 329.44,606.92 329.24,606.92 329.04,606.92 328.84,606.92 328.64,606.92 328.44,606.92 328.24,606.92 328.04,606.92 327.85,606.92 327.65,606.92 327.45,606.96 327.25,607.08 327.05,607.24 326.85,607.44 326.65,607.66 326.45,607.89 326.25,608.15 326.05,608.42" fill="#1db09a"/><polygon points="351,575.58 351.2,575.85 351.4,576.12 351.59,576.39 351.79,576.65 351.99,576.91 352.19,577.16 352.38,577.4 352.58,577.64 352.78,577.88 352.98,578.11 353.17,578.33 353.37,578.55 353.57,578.76 353.77,578.96 353.96,579.16 354.16,579.35 354.36,579.53 354.56,579.7 354.75,579.86 354.95,580.02 355.15,580.16 355.35,580.29 355.54,580.33 355.74,580.33 355.94,580.33 356.14,580.33 356.33,580.33 356.53,580.33 356.73,580.33 356.93,580.33 357.12,580.33 357.32,580.33 357.52,580.33 357.72,580.33 357.91,580.33 358.11,580.18 358.31,579.63 358.51,579.16 358.7,578.73 358.9,578.33 359.1,577.95 359.3,577.6 359.49,577.27 359.69,576.96 359.89,576.67 360.09,576.4 360.28,576.15 360.48,575.91 360.68,575.69 360.88,575.49 361.07,575.31 361.27,575.15 361.47,575 361.67,574.87 361.86,574.76 362.06,574.68 362.26,574.62 362.46,574.58 362.65,574.58 362.85,574.58 363.05,574.6 363.25,574.61 363.44,574.64 363.64,574.68 363.84,574.74 364.04,574.8 364.23,574.89 364.43,574.99 364.63,575.11 364.83,575.25 365.02,575.42 365.22,575.62 365.42,575.84 365.62,576.1 365.81,576.4 366.01,576.74 366.21,577.15 366.41,577.62 366.6,578.21 366.8,578.98 367,580.58 367,580.58 366.8,582.18 366.6,582.95 366.41,583.54 366.21,584.01 366.01,584.42 365.81,584.76 365.62,585.06 365.42,585.32 365.22,585.54 365.02,585.74 364.83,585.91 364.63,586.05 364.43,586.17 364.23,586.27 364.04,586.36 363.84,586.42 363.64,586.48 363.44,586.52 363.25,586.55 363.05,586.56 362.85,586.58 362.65,586.58 362.46,586.58 362.26,586.54 362.06,586.48 361.86,586.4 361.67,586.29 361.47,586.16 361.27,586.01 361.07,585.85 360.88,585.67 360.68,585.47 360.48,585.25 360.28,585.01 360.09,584.76 359.89,584.49 359.69,584.2 359.49,583.89 359.3,583.56 359.1,583.21 358.9,582.83 358.7,582.43 358.51,582 358.31,581.53 358.11,580.98 357.91,580.83 357.72,580.83 357.52,580.83 357.32,580.83 357.12,580.83 356.93,580.83 356.73,580.83 356.53,580.83 356.33,580.83 356.14,580.83 355.94,580.83 355.74,580.83 355.54,580.83 355.35,580.87 355.15,581 354.95,581.14 354.75,581.3 354.56,581.46 354.36,581.63 354.16,581.81 353.96,582 353.77,582.2 353.57,582.4 353.37,582.61 353.17,582.83 352.98,583.05 352.78,583.28 352.58,583.52 352.38,583.76 352.19,584 351.99,584.25 351.79,584.51 351.59,584.77 351.4,585.04 351.2,585.31 351,585.58" fill="#3aae3a"/><polygon points="351,592.75 351.2,593.02 351.4,593.26 351.59,593.47 351.79,593.64 351.99,593.75 352.19,593.75 352.38,593.75 352.58,593.75 352.78,593.75 352.98,593.75 353.17,593.75 353.37,593.75 353.57,593.75 353.77,593.75 353.96,593.75 354.16,593.75 354.36,593.75 354.56,593.75 354.75,593.75 354.95,593.75 355.15,593.75 355.35,593.75 355.54,593.75 355.74,593.75 355.94,593.75 356.14,593.75 356.33,593.75 356.53,593.75 356.73,593.75 356.93,593.75 357.12,593.75 357.32,593.75 357.52,593.75 357.72,593.75 357.91,593.75 358.11,593.75 358.31,593.75 358.51,593.75 358.7,593.75 358.9,593.75 359.1,593.75 359.3,593.75 359.49,593.75 359.69,593.75 359.89,593.75 360.09,593.75 360.28,593.75 360.48,593.75 360.68,593.75 360.88,593.75 361.07,593.75 361.27,593.75 361.47,593.75 361.67,593.75 361.86,593.75 362.06,593.61 362.26,593.18 362.46,592.75 362.65,592.31 362.85,591.88 363.05,591.44 363.25,591.01 363.44,590.57 363.64,590.14 363.84,589.7 364.04,589.27 364.23,588.83 364.43,588.4 364.63,588.54 364.83,588.97 365.02,589.4 365.22,589.84 365.42,590.27 365.62,590.71 365.81,591.14 366.01,591.58 366.21,592.01 366.41,592.45 366.6,592.88 366.8,593.32 367,593.75 367,593.75 366.8,594.18 366.6,594.62 366.41,595.05 366.21,595.49 366.01,595.92 365.81,596.36 365.62,596.79 365.42,597.23 365.22,597.66 365.02,598.1 364.83,598.53 364.63,598.96 364.43,599.1 364.23,598.67 364.04,598.23 363.84,597.8 363.64,597.36 363.44,596.93 363.25,596.49 363.05,596.06 362.85,595.62 362.65,595.19 362.46,594.75 362.26,594.32 362.06,593.89 361.86,593.75 361.67,593.75 361.47,593.75 361.27,593.75 361.07,593.75 360.88,593.75 360.68,593.75 360.48,593.75 360.28,593.75 360.09,593.75 359.89,593.75 359.69,593.75 359.49,593.75 359.3,593.75 359.1,593.75 358.9,593.75 358.7,593.75 358.51,593.75 358.31,593.75 358.11,593.75 357.91,593.75 357.72,593.75 357.52,593.75 357.32,593.75 357.12,593.75 356.93,593.75 356.73,593.75 356.53,593.75 356.33,593.75 356.14,593.75 355.94,593.75 355.74,593.75 355.54,593.75 355.35,593.75 355.15,593.75 354.95,593.75 354.75,593.75 354.56,593.75 354.36,593.75 354.16,593.75 353.96,593.75 353.77,593.75 353.57,593.75 353.37,593.75 353.17,593.75 352.98,593.75 352.78,593.75 352.58,593.75 352.38,593.75 352.19,593.75 351.99,593.75 351.79,593.86 351.59,594.03 351.4,594.24 351.2,594.48 351,594.75" fill="#21ad6e"/><polygon points="351,602.92 351.2,603.28 351.39,603.64 351.59,603.98 351.79,604.31 351.99,604.63 352.18,604.94 352.38,605.23 352.58,605.51 352.78,605.78 352.97,606.03 353.17,606.26 353.37,606.47 353.57,606.65 353.76,606.67 353.96,606.67 354.16,606.67 354.36,606.67 354.55,606.67 354.75,606.67 354.95,606.67 355.14,606.67 355.34,606.67 355.54,606.67 355.74,606.67 355.93,606.67 356.13,606.67 356.33,606.67 356.53,606.52 356.72,606.37 356.92,606.22 357.12,606.07 357.32,605.92 357.51,605.77 357.71,605.62 357.91,605.47 358.11,605.32 358.3,605.17 358.5,605.02 358.7,604.86 358.89,604.71 359.09,604.56 359.29,604.41 359.49,604.26 359.68,604.11 359.88,603.96 360.08,603.81 360.28,603.66 360.47,603.51 360.67,603.36 360.87,603.21 361.07,603.06 361.26,602.93 361.46,603.1 361.66,603.26 361.86,603.43 362.05,603.6 362.25,603.76 362.45,603.93 362.64,604.09 362.84,604.26 363.04,604.43 363.24,604.59 363.43,604.76 363.63,604.93 363.83,605.09 364.03,605.26 364.22,605.42 364.42,605.59 364.62,605.76 364.82,605.92 365.01,606.09 365.21,606.26 365.41,606.42 365.61,606.59 365.8,606.75 366,606.92 366,606.92 365.8,607.09 365.61,607.25 365.41,607.42 365.21,607.58 365.01,607.75 364.82,607.92 364.62,608.08 364.42,608.25 364.22,608.42 364.03,608.58 363.83,608.75 363.63,608.91 363.43,609.08 363.24,609.25 363.04,609.41 362.84,609.58 362.64,609.75 362.45,609.91 362.25,610.08 362.05,610.24 361.86,610.41 361.66,610.58 361.46,610.74 361.26,610.91 361.07,610.78 360.87,610.63 360.67,610.48 360.47,610.33 360.28,610.18 360.08,610.03 359.88,609.88 359.68,609.73 359.49,609.58 359.29,609.43 359.09,609.28 358.89,609.13 358.7,608.98 358.5,608.82 358.3,608.67 358.11,608.52 357.91,608.37 357.71,608.22 357.51,608.07 357.32,607.92 357.12,607.77 356.92,607.62 356.72,607.47 356.53,607.32 356.33,607.17 356.13,607.17 355.93,607.17 355.74,607.17 355.54,607.17 355.34,607.17 355.14,607.17 354.95,607.17 354.75,607.17 354.55,607.17 354.36,607.17 354.16,607.17 353.96,607.17 353.76,607.17 353.57,607.19 353.37,607.37 353.17,607.58 352.97,607.81 352.78,608.06 352.58,608.33 352.38,608.61 352.18,608.9 351.99,609.21 351.79,609.53 351.59,609.86 351.39,610.2 351.2,610.56 351,610.92" fill="#1db09a"/><polygon points="363,646.43 363.19,646.09 363.39,645.74 363.58,645.4 363.77,645.06 363.97,644.71 364.16,644.37 364.35,644.03 364.55,643.68 364.74,643.34 364.94,643 365.13,642.65 365.32,642.31 365.52,641.97 365.71,641.62 365.9,641.28 366.1,640.94 366.29,641.29 366.48,641.66 366.68,642.03 366.87,642.39 367.06,642.76 367.26,643.13 367.45,643.49 367.65,643.86 367.84,644.23 368.03,644.59 368.23,644.96 368.42,645.33 368.61,645.7 368.81,646.06 369,646.43 369,646.43 368.81,646.8 368.61,647.16 368.42,647.53 368.23,647.9 368.03,648.27 367.84,648.63 367.65,649 367.45,649.37 367.26,649.73 367.06,650.1 366.87,650.47 366.68,650.83 366.48,651.2 366.29,651.57 366.1,651.92 365.9,651.58 365.71,651.24 365.52,650.89 365.32,650.55 365.13,650.21 364.94,649.86 364.74,649.52 364.55,649.18 364.35,648.83 364.16,648.49 363.97,648.15 363.77,647.8 363.58,647.46 363.39,647.12 363.19,646.77 363,646.43" fill="#8088cc"/><polygon points="375.95,550.24 376.15,550.6 376.35,550.96 376.54,551.3 376.74,551.63 376.94,551.96 377.14,552.26 377.34,552.56 377.53,552.84 377.73,553.11 377.93,553.36 378.13,553.59 378.32,553.79 378.52,553.98 378.72,553.99 378.92,553.99 379.12,553.99 379.31,553.99 379.51,553.99 379.71,553.99 379.91,553.99 380.11,553.99 380.3,553.99 380.5,553.99 380.7,553.99 380.9,553.99 381.1,553.99 381.29,553.99 381.49,553.99 381.69,553.9 381.89,553.8 382.08,553.7 382.28,553.6 382.48,553.5 382.68,553.4 382.88,553.3 383.07,553.2 383.27,553.1 383.47,553.01 383.67,552.91 383.87,552.81 384.06,552.71 384.26,552.61 384.46,552.51 384.66,552.41 384.85,552.31 385.05,552.26 385.25,552.34 385.45,552.42 385.65,552.5 385.84,552.58 386.04,552.66 386.24,552.74 386.44,552.82 386.64,552.89 386.83,552.97 387.03,553.05 387.23,553.13 387.43,553.21 387.63,553.29 387.82,553.37 388.02,553.45 388.22,553.53 388.42,553.61 388.61,553.69 388.81,553.77 389.01,553.84 389.21,553.92 389.41,554 389.6,554.08 389.8,554.16 390,554.24 390,554.24 389.8,554.32 389.6,554.4 389.41,554.48 389.21,554.56 389.01,554.64 388.81,554.71 388.61,554.79 388.42,554.87 388.22,554.95 388.02,555.03 387.82,555.11 387.63,555.19 387.43,555.27 387.23,555.35 387.03,555.43 386.83,555.51 386.64,555.59 386.44,555.66 386.24,555.74 386.04,555.82 385.84,555.9 385.65,555.98 385.45,556.06 385.25,556.14 385.05,556.22 384.85,556.17 384.66,556.07 384.46,555.97 384.26,555.87 384.06,555.77 383.87,555.67 383.67,555.57 383.47,555.47 383.27,555.38 383.07,555.28 382.88,555.18 382.68,555.08 382.48,554.98 382.28,554.88 382.08,554.78 381.89,554.68 381.69,554.58 381.49,554.49 381.29,554.49 381.1,554.49 380.9,554.49 380.7,554.49 380.5,554.49 380.3,554.49 380.11,554.49 379.91,554.49 379.71,554.49 379.51,554.49 379.31,554.49 379.12,554.49 378.92,554.49 378.72,554.49 378.52,554.5 378.32,554.69 378.13,554.89 377.93,555.12 377.73,555.37 377.53,555.64 377.34,555.92 377.14,556.22 376.94,556.52 376.74,556.85 376.54,557.18 376.35,557.52 376.15,557.88 375.95,558.24" fill="#b99a1a"/><polygon points="375.95,577.58 376.15,577.86 376.35,578.12 376.55,578.38 376.75,578.63 376.95,578.88 377.15,579.11 377.35,579.33 377.55,579.54 377.75,579.74 377.94,579.93 378.14,580.1 378.34,580.26 378.54,580.33 378.74,580.33 378.94,580.33 379.14,580.33 379.34,580.33 379.54,580.33 379.74,580.33 379.94,580.33 380.14,580.33 380.34,580.33 380.54,580.33 380.74,580.33 380.94,580.33 381.14,580.33 381.34,580.33 381.53,580.33 381.73,580.33 381.93,580.33 382.13,580.33 382.33,580.33 382.53,580.33 382.73,580.33 382.93,580.33 383.13,580.33 383.33,580.33 383.53,580.33 383.73,580.33 383.93,580.33 384.13,580.33 384.33,580.33 384.53,580.33 384.73,580.33 384.93,580.33 385.13,580.24 385.32,579.83 385.52,579.46 385.72,579.13 385.92,578.82 386.12,578.53 386.32,578.25 386.52,577.99 386.72,577.75 386.92,577.52 387.12,577.3 387.32,577.1 387.52,576.9 387.72,576.72 387.92,576.56 388.12,576.4 388.32,576.26 388.52,576.12 388.72,576 388.92,575.9 389.11,575.8 389.31,575.73 389.51,575.66 389.71,575.61 389.91,575.58 390.11,575.58 390.31,575.58 390.51,575.59 390.71,575.6 390.91,575.63 391.11,575.66 391.31,575.7 391.51,575.76 391.71,575.83 391.91,575.91 392.11,576.01 392.31,576.13 392.51,576.27 392.7,576.43 392.9,576.61 393.1,576.83 393.3,577.08 393.5,577.37 393.7,577.7 393.9,578.1 394.1,578.6 394.3,579.24 394.5,580.58 394.5,580.58 394.3,581.92 394.1,582.56 393.9,583.06 393.7,583.46 393.5,583.79 393.3,584.08 393.1,584.33 392.9,584.55 392.7,584.73 392.51,584.89 392.31,585.03 392.11,585.15 391.91,585.25 391.71,585.33 391.51,585.4 391.31,585.46 391.11,585.5 390.91,585.53 390.71,585.56 390.51,585.57 390.31,585.58 390.11,585.58 389.91,585.58 389.71,585.55 389.51,585.5 389.31,585.43 389.11,585.36 388.92,585.26 388.72,585.16 388.52,585.04 388.32,584.9 388.12,584.76 387.92,584.6 387.72,584.44 387.52,584.26 387.32,584.06 387.12,583.86 386.92,583.64 386.72,583.41 386.52,583.17 386.32,582.91 386.12,582.63 385.92,582.34 385.72,582.03 385.52,581.7 385.32,581.33 385.13,580.92 384.93,580.83 384.73,580.83 384.53,580.83 384.33,580.83 384.13,580.83 383.93,580.83 383.73,580.83 383.53,580.83 383.33,580.83 383.13,580.83 382.93,580.83 382.73,580.83 382.53,580.83 382.33,580.83 382.13,580.83 381.93,580.83 381.73,580.83 381.53,580.83 381.34,580.83 381.14,580.83 380.94,580.83 380.74,580.83 380.54,580.83 380.34,580.83 380.14,580.83 379.94,580.83 379.74,580.83 379.54,580.83 379.34,580.83 379.14,580.83 378.94,580.83 378.74,580.83 378.54,580.83 378.34,580.9 378.14,581.06 377.94,581.23 377.75,581.42 377.55,581.62 377.35,581.83 377.15,582.05 376.95,582.28 376.75,582.53 376.55,582.78 376.35,583.04 376.15,583.3 375.95,583.58" fill="#3aae3a"/><polygon points="390,593.75 390.19,593.27 390.38,592.8 390.57,592.32 390.76,591.85 390.95,591.37 391.14,590.89 391.33,590.42 391.52,589.94 391.71,589.46 391.9,588.99 392.1,588.99 392.29,589.46 392.48,589.94 392.67,590.42 392.86,590.89 393.05,591.37 393.24,591.85 393.43,592.32 393.62,592.8 393.81,593.27 394,593.75 394,593.75 393.81,594.23 393.62,594.7 393.43,595.18 393.24,595.65 393.05,596.13 392.86,596.61 392.67,597.08 392.48,597.56 392.29,598.04 392.1,598.51 391.9,598.51 391.71,598.04 391.52,597.56 391.33,597.08 391.14,596.61 390.95,596.13 390.76,595.65 390.57,595.18 390.38,594.7 390.19,594.23 390,593.75" fill="#21ad6e"/><polygon points="375.95,605.92 376.15,606.19 376.35,606.43 376.55,606.64 376.75,606.67 376.95,606.67 377.15,606.67 377.35,606.67 377.55,606.67 377.75,606.67 377.94,606.67 378.14,606.67 378.34,606.67 378.54,606.67 378.74,606.67 378.94,606.67 379.14,606.67 379.34,606.67 379.54,606.67 379.74,606.67 379.94,606.67 380.14,606.67 380.34,606.67 380.54,606.67 380.74,606.67 380.94,606.67 381.14,606.67 381.34,606.67 381.53,606.67 381.73,606.67 381.93,606.67 382.13,606.67 382.33,606.67 382.53,606.67 382.73,606.67 382.93,606.67 383.13,606.67 383.33,606.67 383.53,606.67 383.73,606.67 383.93,606.67 384.13,606.67 384.33,606.67 384.53,606.67 384.73,606.67 384.93,606.67 385.13,606.67 385.32,606.63 385.52,606.45 385.72,606.27 385.92,606.09 386.12,605.91 386.32,605.73 386.52,605.55 386.72,605.37 386.92,605.19 387.12,605.01 387.32,604.83 387.52,604.65 387.72,604.47 387.92,604.29 388.12,604.11 388.32,603.93 388.52,603.76 388.72,603.58 388.92,603.4 389.11,603.22 389.31,603.04 389.51,602.86 389.71,602.68 389.91,602.5 390.11,602.53 390.31,602.73 390.51,602.93 390.71,603.13 390.91,603.33 391.11,603.53 391.31,603.73 391.51,603.93 391.71,604.13 391.91,604.33 392.11,604.53 392.31,604.73 392.51,604.93 392.7,605.12 392.9,605.32 393.1,605.52 393.3,605.72 393.5,605.92 393.7,606.12 393.9,606.32 394.1,606.52 394.3,606.72 394.5,606.92 394.5,606.92 394.3,607.12 394.1,607.32 393.9,607.52 393.7,607.72 393.5,607.92 393.3,608.12 393.1,608.32 392.9,608.52 392.7,608.72 392.51,608.91 392.31,609.11 392.11,609.31 391.91,609.51 391.71,609.71 391.51,609.91 391.31,610.11 391.11,610.31 390.91,610.51 390.71,610.71 390.51,610.91 390.31,611.11 390.11,611.31 389.91,611.34 389.71,611.16 389.51,610.98 389.31,610.8 389.11,610.62 388.92,610.44 388.72,610.26 388.52,610.08 388.32,609.9 388.12,609.73 387.92,609.55 387.72,609.37 387.52,609.19 387.32,609.01 387.12,608.83 386.92,608.65 386.72,608.47 386.52,608.29 386.32,608.11 386.12,607.93 385.92,607.75 385.72,607.57 385.52,607.39 385.32,607.21 385.13,607.17 384.93,607.17 384.73,607.17 384.53,607.17 384.33,607.17 384.13,607.17 383.93,607.17 383.73,607.17 383.53,607.17 383.33,607.17 383.13,607.17 382.93,607.17 382.73,607.17 382.53,607.17 382.33,607.17 382.13,607.17 381.93,607.17 381.73,607.17 381.53,607.17 381.34,607.17 381.14,607.17 380.94,607.17 380.74,607.17 380.54,607.17 380.34,607.17 380.14,607.17 379.94,607.17 379.74,607.17 379.54,607.17 379.34,607.17 379.14,607.17 378.94,607.17 378.74,607.17 378.54,607.17 378.34,607.17 378.14,607.17 377.94,607.17 377.75,607.17 377.55,607.17 377.35,607.17 377.15,607.17 376.95,607.17 376.75,607.17 376.55,607.2 376.35,607.41 376.15,607.65 375.95,607.92" fill="#1db09a"/><polygon points="400.9,641.43 401.1,641.66 401.3,641.88 401.49,642.11 401.69,642.33 401.89,642.54 402.09,642.76 402.28,642.97 402.48,643.17 402.68,643.37 402.88,643.57 403.07,643.77 403.27,643.96 403.47,644.14 403.67,644.33 403.86,644.5 404.06,644.68 404.26,644.84 404.46,644.99 404.65,644.87 404.85,644.77 405.05,644.67 405.25,644.59 405.44,644.53 405.64,644.48 405.84,644.44 406.04,644.43 406.23,644.43 406.43,644.44 406.63,644.45 406.83,644.47 407.02,644.5 407.22,644.55 407.42,644.61 407.62,644.68 407.81,644.77 408.01,644.89 408.21,645.04 408.41,645.22 408.6,645.44 408.8,645.76 409,646.43 409,646.43 408.8,647.1 408.6,647.42 408.41,647.64 408.21,647.82 408.01,647.97 407.81,648.09 407.62,648.18 407.42,648.25 407.22,648.31 407.02,648.36 406.83,648.39 406.63,648.41 406.43,648.42 406.23,648.43 406.04,648.43 405.84,648.42 405.64,648.38 405.44,648.33 405.25,648.27 405.05,648.19 404.85,648.09 404.65,647.99 404.46,647.87 404.26,648.02 404.06,648.18 403.86,648.36 403.67,648.53 403.47,648.72 403.27,648.9 403.07,649.09 402.88,649.29 402.68,649.49 402.48,649.69 402.28,649.89 402.09,650.1 401.89,650.32 401.69,650.53 401.49,650.75 401.3,650.98 401.1,651.2 400.9,651.43" fill="#8088cc"/><polygon points="400.9,672.27 401.1,672.4 401.3,672.52 401.5,672.52 401.7,672.52 401.89,672.52 402.09,672.52 402.29,672.52 402.49,672.52 402.69,672.52 402.89,672.52 403.09,672.52 403.29,672.52 403.49,672.52 403.69,672.52 403.88,672.52 404.08,672.52 404.28,672.52 404.48,672.52 404.68,672.52 404.88,672.52 405.08,672.52 405.28,672.52 405.48,672.52 405.67,672.52 405.87,672.52 406.07,672.52 406.27,672.52 406.47,672.52 406.67,672.52 406.87,672.52 407.07,672.52 407.27,672.52 407.47,672.52 407.66,672.52 407.86,672.52 408.06,672.52 408.26,672.52 408.46,672.52 408.66,672.52 408.86,672.52 409.06,672.52 409.26,672.52 409.46,672.52 409.65,672.52 409.85,672.52 410.05,672.52 410.25,672.52 410.45,672.52 410.65,672.52 410.85,672.52 411.05,672.52 411.25,672.52 411.44,672.52 411.64,672.52 411.84,672.52 412.04,672.52 412.24,672.52 412.44,672.52 412.64,672.52 412.84,672.52 413.04,672.52 413.24,672.44 413.43,672.16 413.63,671.88 413.83,671.6 414.03,671.32 414.23,671.04 414.43,670.75 414.63,670.47 414.83,670.19 415.03,669.91 415.23,669.63 415.42,669.35 415.62,669.07 415.82,668.79 416.02,668.51 416.22,668.23 416.42,667.95 416.62,667.67 416.82,667.39 417.02,667.48 417.21,667.83 417.41,668.18 417.61,668.53 417.81,668.89 418.01,669.24 418.21,669.59 418.41,669.95 418.61,670.3 418.81,670.65 419.01,671.01 419.2,671.36 419.4,671.71 419.6,672.06 419.8,672.42 420,672.77 420,672.77 419.8,673.12 419.6,673.48 419.4,673.83 419.2,674.18 419.01,674.53 418.81,674.89 418.61,675.24 418.41,675.59 418.21,675.95 418.01,676.3 417.81,676.65 417.61,677.01 417.41,677.36 417.21,677.71 417.02,678.06 416.82,678.15 416.62,677.87 416.42,677.59 416.22,677.31 416.02,677.03 415.82,676.75 415.62,676.47 415.42,676.19 415.23,675.91 415.03,675.63 414.83,675.35 414.63,675.07 414.43,674.79 414.23,674.5 414.03,674.22 413.83,673.94 413.63,673.66 413.43,673.38 413.24,673.1 413.04,673.02 412.84,673.02 412.64,673.02 412.44,673.02 412.24,673.02 412.04,673.02 411.84,673.02 411.64,673.02 411.44,673.02 411.25,673.02 411.05,673.02 410.85,673.02 410.65,673.02 410.45,673.02 410.25,673.02 410.05,673.02 409.85,673.02 409.65,673.02 409.46,673.02 409.26,673.02 409.06,673.02 408.86,673.02 408.66,673.02 408.46,673.02 408.26,673.02 408.06,673.02 407.86,673.02 407.66,673.02 407.47,673.02 407.27,673.02 407.07,673.02 406.87,673.02 406.67,673.02 406.47,673.02 406.27,673.02 406.07,673.02 405.87,673.02 405.67,673.02 405.48,673.02 405.28,673.02 405.08,673.02 404.88,673.02 404.68,673.02 404.48,673.02 404.28,673.02 404.08,673.02 403.88,673.02 403.69,673.02 403.49,673.02 403.29,673.02 403.09,673.02 402.89,673.02 402.69,673.02 402.49,673.02 402.29,673.02 402.09,673.02 401.89,673.02 401.7,673.02 401.5,673.02 401.3,673.02 401.1,673.14 400.9,673.27" fill="#c25caf"/><polygon points="400.9,684.94 401.1,685.21 401.3,685.45 401.5,685.66 401.7,685.83 401.89,685.94 402.09,685.94 402.29,685.94 402.49,685.94 402.69,685.94 402.89,685.94 403.09,685.94 403.29,685.94 403.49,685.94 403.69,685.94 403.88,685.94 404.08,685.94 404.28,685.94 404.48,685.94 404.68,685.94 404.88,685.94 405.08,685.94 405.28,685.94 405.48,685.94 405.67,685.94 405.87,685.94 406.07,685.94 406.27,685.94 406.47,685.94 406.67,685.94 406.87,685.94 407.07,685.94 407.27,685.94 407.47,685.94 407.66,685.94 407.86,685.94 408.06,685.94 408.26,685.94 408.46,685.94 408.66,685.94 408.86,685.94 409.06,685.94 409.26,685.94 409.46,685.94 409.65,685.94 409.85,685.94 410.05,685.94 410.25,685.94 410.45,685.94 410.65,685.94 410.85,685.94 411.05,685.94 411.25,685.94 411.44,685.94 411.64,685.94 411.84,685.94 412.04,685.94 412.24,685.94 412.44,685.94 412.64,685.94 412.84,685.94 413.04,685.94 413.24,685.94 413.43,685.94 413.63,685.94 413.83,685.94 414.03,685.89 414.23,685.54 414.43,685.2 414.63,684.86 414.83,684.51 415.03,684.17 415.23,683.83 415.42,683.48 415.62,683.14 415.82,682.8 416.02,682.46 416.22,682.11 416.42,681.77 416.62,681.43 416.82,681.08 417.02,681.13 417.21,681.45 417.41,681.77 417.61,682.09 417.81,682.41 418.01,682.73 418.21,683.05 418.41,683.37 418.61,683.69 418.81,684.01 419.01,684.34 419.2,684.66 419.4,684.98 419.6,685.3 419.8,685.62 420,685.94 420,685.94 419.8,686.26 419.6,686.58 419.4,686.9 419.2,687.22 419.01,687.54 418.81,687.87 418.61,688.19 418.41,688.51 418.21,688.83 418.01,689.15 417.81,689.47 417.61,689.79 417.41,690.11 417.21,690.43 417.02,690.75 416.82,690.8 416.62,690.45 416.42,690.11 416.22,689.77 416.02,689.42 415.82,689.08 415.62,688.74 415.42,688.4 415.23,688.05 415.03,687.71 414.83,687.37 414.63,687.02 414.43,686.68 414.23,686.34 414.03,685.99 413.83,685.94 413.63,685.94 413.43,685.94 413.24,685.94 413.04,685.94 412.84,685.94 412.64,685.94 412.44,685.94 412.24,685.94 412.04,685.94 411.84,685.94 411.64,685.94 411.44,685.94 411.25,685.94 411.05,685.94 410.85,685.94 410.65,685.94 410.45,685.94 410.25,685.94 410.05,685.94 409.85,685.94 409.65,685.94 409.46,685.94 409.26,685.94 409.06,685.94 408.86,685.94 408.66,685.94 408.46,685.94 408.26,685.94 408.06,685.94 407.86,685.94 407.66,685.94 407.47,685.94 407.27,685.94 407.07,685.94 406.87,685.94 406.67,685.94 406.47,685.94 406.27,685.94 406.07,685.94 405.87,685.94 405.67,685.94 405.48,685.94 405.28,685.94 405.08,685.94 404.88,685.94 404.68,685.94 404.48,685.94 404.28,685.94 404.08,685.94 403.88,685.94 403.69,685.94 403.49,685.94 403.29,685.94 403.09,685.94 402.89,685.94 402.69,685.94 402.49,685.94 402.29,685.94 402.09,685.94 401.89,685.94 401.7,686.05 401.5,686.22 401.3,686.43 401.1,686.67 400.9,686.94" fill="#e6649e"/><polygon points="425.85,669.77 426.05,670.1 426.25,670.42 426.45,670.72 426.65,671.02 426.85,671.3 427.05,671.57 427.25,671.82 427.45,672.05 427.65,672.26 427.84,672.45 428.04,672.61 428.24,672.73 428.44,672.77 428.64,672.77 428.84,672.77 429.04,672.77 429.24,672.77 429.44,672.77 429.64,672.77 429.84,672.77 430.04,672.77 430.24,672.77 430.44,672.77 430.64,672.77 430.84,672.77 431.04,672.77 431.24,672.77 431.44,672.77 431.63,672.77 431.83,672.77 432.03,672.77 432.23,672.77 432.43,672.77 432.63,672.77 432.83,672.77 433.03,672.74 433.23,672.56 433.43,672.38 433.63,672.19 433.83,672.01 434.03,671.83 434.23,671.64 434.43,671.46 434.63,671.28 434.83,671.1 435.03,670.91 435.23,670.73 435.43,670.55 435.62,670.36 435.82,670.18 436.02,670 436.22,669.82 436.42,669.63 436.62,669.45 436.82,669.27 437.02,669.08 437.22,668.9 437.42,668.72 437.62,668.54 437.82,668.35 438.02,668.17 438.22,667.99 438.42,667.8 438.62,667.62 438.82,667.44 439.02,667.28 439.22,667.47 439.41,667.65 439.61,667.83 439.81,668.02 440.01,668.2 440.21,668.38 440.41,668.56 440.61,668.75 440.81,668.93 441.01,669.11 441.21,669.3 441.41,669.48 441.61,669.66 441.81,669.84 442.01,670.03 442.21,670.21 442.41,670.39 442.61,670.58 442.81,670.76 443.01,670.94 443.2,671.12 443.4,671.31 443.6,671.49 443.8,671.67 444,671.86 444.2,672.04 444.4,672.22 444.6,672.4 444.8,672.59 445,672.77 445,672.77 444.8,672.95 444.6,673.14 444.4,673.32 444.2,673.5 444,673.68 443.8,673.87 443.6,674.05 443.4,674.23 443.2,674.42 443.01,674.6 442.81,674.78 442.61,674.96 442.41,675.15 442.21,675.33 442.01,675.51 441.81,675.7 441.61,675.88 441.41,676.06 441.21,676.24 441.01,676.43 440.81,676.61 440.61,676.79 440.41,676.98 440.21,677.16 440.01,677.34 439.81,677.52 439.61,677.71 439.41,677.89 439.22,678.07 439.02,678.26 438.82,678.1 438.62,677.92 438.42,677.74 438.22,677.55 438.02,677.37 437.82,677.19 437.62,677 437.42,676.82 437.22,676.64 437.02,676.46 436.82,676.27 436.62,676.09 436.42,675.91 436.22,675.72 436.02,675.54 435.82,675.36 435.62,675.18 435.43,674.99 435.23,674.81 435.03,674.63 434.83,674.44 434.63,674.26 434.43,674.08 434.23,673.9 434.03,673.71 433.83,673.53 433.63,673.35 433.43,673.16 433.23,672.98 433.03,672.8 432.83,672.77 432.63,672.77 432.43,672.77 432.23,672.77 432.03,672.77 431.83,672.77 431.63,672.77 431.44,672.77 431.24,672.77 431.04,672.77 430.84,672.77 430.64,672.77 430.44,672.77 430.24,672.77 430.04,672.77 429.84,672.77 429.64,672.77 429.44,672.77 429.24,672.77 429.04,672.77 428.84,672.77 428.64,672.77 428.44,672.77 428.24,672.81 428.04,672.93 427.84,673.09 427.65,673.28 427.45,673.49 427.25,673.72 427.05,673.97 426.85,674.24 426.65,674.52 426.45,674.82 426.25,675.12 426.05,675.44 425.85,675.77" fill="#c25caf"/><polygon points="425.85,682.94 426.05,683.27 426.25,683.59 426.45,683.89 426.65,684.19 426.85,684.47 427.05,684.73 427.25,684.98 427.45,685.22 427.64,685.43 427.84,685.62 428.04,685.78 428.24,685.9 428.44,685.94 428.64,685.94 428.84,685.94 429.04,685.94 429.24,685.94 429.44,685.94 429.64,685.94 429.84,685.94 430.04,685.94 430.24,685.94 430.44,685.94 430.64,685.94 430.84,685.94 431.03,685.94 431.23,685.94 431.43,685.94 431.63,685.94 431.83,685.94 432.03,685.94 432.23,685.94 432.43,685.94 432.63,685.94 432.83,685.94 433.03,685.83 433.23,685.32 433.43,684.9 433.63,684.52 433.83,684.16 434.03,683.83 434.23,683.52 434.43,683.23 434.62,682.96 434.82,682.69 435.02,682.45 435.22,682.22 435.42,682 435.62,681.79 435.82,681.6 436.02,681.42 436.22,681.26 436.42,681.11 436.62,680.97 436.82,680.85 437.02,680.74 437.22,680.64 437.42,680.56 437.62,680.5 437.82,680.46 438.01,680.44 438.21,680.44 438.41,680.45 438.61,680.45 438.81,680.47 439.01,680.49 439.21,680.52 439.41,680.56 439.61,680.62 439.81,680.68 440.01,680.75 440.21,680.84 440.41,680.95 440.61,681.07 440.81,681.21 441.01,681.37 441.21,681.56 441.4,681.76 441.6,682 441.8,682.27 442,682.58 442.2,682.94 442.4,683.37 442.6,683.88 442.8,684.56 443,685.94 443,685.94 442.8,687.32 442.6,688 442.4,688.51 442.2,688.94 442,689.3 441.8,689.61 441.6,689.88 441.4,690.12 441.21,690.32 441.01,690.51 440.81,690.67 440.61,690.81 440.41,690.93 440.21,691.04 440.01,691.13 439.81,691.2 439.61,691.26 439.41,691.32 439.21,691.36 439.01,691.39 438.81,691.41 438.61,691.43 438.41,691.43 438.21,691.44 438.01,691.44 437.82,691.42 437.62,691.38 437.42,691.32 437.22,691.24 437.02,691.14 436.82,691.03 436.62,690.91 436.42,690.77 436.22,690.62 436.02,690.46 435.82,690.28 435.62,690.09 435.42,689.88 435.22,689.66 435.02,689.43 434.82,689.19 434.62,688.92 434.43,688.65 434.23,688.36 434.03,688.05 433.83,687.72 433.63,687.36 433.43,686.98 433.23,686.56 433.03,686.05 432.83,685.94 432.63,685.94 432.43,685.94 432.23,685.94 432.03,685.94 431.83,685.94 431.63,685.94 431.43,685.94 431.23,685.94 431.03,685.94 430.84,685.94 430.64,685.94 430.44,685.94 430.24,685.94 430.04,685.94 429.84,685.94 429.64,685.94 429.44,685.94 429.24,685.94 429.04,685.94 428.84,685.94 428.64,685.94 428.44,685.94 428.24,685.98 428.04,686.1 427.84,686.26 427.64,686.45 427.45,686.66 427.25,686.9 427.05,687.15 426.85,687.41 426.65,687.69 426.45,687.99 426.25,688.29 426.05,688.61 425.85,688.94" fill="#e6649e"/><polygon points="450.8,562.91 451,563.09 451.2,563.26 451.4,563.44 451.6,563.61 451.79,563.78 451.99,563.95 452.19,564.11 452.39,564.27 452.59,564.43 452.79,564.59 452.99,564.75 453.19,564.9 453.39,565.05 453.59,565.2 453.78,565.34 453.98,565.48 454.18,565.62 454.38,565.76 454.58,565.89 454.78,566.02 454.98,566.15 455.18,566.21 455.38,566.21 455.57,566.21 455.77,566.21 455.97,566.21 456.17,566.21 456.37,566.21 456.57,566.21 456.77,566.21 456.97,566.21 457.17,566.21 457.36,566.21 457.56,566.21 457.76,566.21 457.96,566.1 458.16,565.89 458.36,565.68 458.56,565.48 458.76,565.29 458.96,565.11 459.16,564.93 459.35,564.76 459.55,564.59 459.75,564.43 459.95,564.28 460.15,564.13 460.35,563.98 460.55,563.84 460.75,563.71 460.95,563.58 461.14,563.45 461.34,563.33 461.54,563.21 461.74,563.1 461.94,562.99 462.14,562.89 462.34,562.79 462.54,562.7 462.74,562.61 462.94,562.53 463.13,562.45 463.33,562.37 463.53,562.3 463.73,562.24 463.93,562.18 464.13,562.12 464.33,562.07 464.53,562.03 464.73,561.99 464.92,561.96 465.12,561.93 465.32,561.92 465.52,561.91 465.72,561.91 465.92,561.92 466.12,561.94 466.32,561.96 466.52,562 466.71,562.06 466.91,562.13 467.11,562.23 467.31,562.34 467.51,562.48 467.71,562.65 467.91,562.85 468.11,563.08 468.31,563.35 468.51,563.68 468.7,564.06 468.9,564.52 469.1,565.08 469.3,565.84 469.5,567.41 469.5,567.41 469.3,568.98 469.1,569.74 468.9,570.3 468.7,570.76 468.51,571.14 468.31,571.47 468.11,571.74 467.91,571.97 467.71,572.17 467.51,572.34 467.31,572.48 467.11,572.59 466.91,572.69 466.71,572.76 466.52,572.82 466.32,572.86 466.12,572.88 465.92,572.9 465.72,572.91 465.52,572.91 465.32,572.9 465.12,572.89 464.92,572.86 464.73,572.83 464.53,572.79 464.33,572.75 464.13,572.7 463.93,572.64 463.73,572.58 463.53,572.52 463.33,572.45 463.13,572.37 462.94,572.29 462.74,572.21 462.54,572.12 462.34,572.03 462.14,571.93 461.94,571.83 461.74,571.72 461.54,571.61 461.34,571.49 461.14,571.37 460.95,571.24 460.75,571.11 460.55,570.98 460.35,570.84 460.15,570.69 459.95,570.54 459.75,570.39 459.55,570.23 459.35,570.06 459.16,569.89 458.96,569.71 458.76,569.53 458.56,569.34 458.36,569.14 458.16,568.93 457.96,568.72 457.76,568.61 457.56,568.61 457.36,568.61 457.17,568.61 456.97,568.61 456.77,568.61 456.57,568.61 456.37,568.61 456.17,568.61 455.97,568.61 455.77,568.61 455.57,568.61 455.38,568.61 455.18,568.61 454.98,568.67 454.78,568.8 454.58,568.93 454.38,569.06 454.18,569.2 453.98,569.34 453.78,569.48 453.59,569.62 453.39,569.77 453.19,569.92 452.99,570.07 452.79,570.23 452.59,570.39 452.39,570.55 452.19,570.71 451.99,570.87 451.79,571.04 451.6,571.21 451.4,571.38 451.2,571.56 451,571.73 450.8,571.91" fill="#8dab1e"/><polygon points="475.75,562.91 475.95,563.09 476.15,563.26 476.35,563.44 476.55,563.61 476.75,563.78 476.95,563.95 477.15,564.11 477.35,564.28 477.55,564.44 477.74,564.6 477.94,564.75 478.14,564.91 478.34,565.06 478.54,565.2 478.74,565.35 478.94,565.49 479.14,565.63 479.34,565.77 479.54,565.9 479.74,566.03 479.94,566.16 480.14,566.21 480.34,566.21 480.54,566.21 480.74,566.21 480.94,566.21 481.14,566.21 481.34,566.21 481.53,566.21 481.73,566.21 481.93,566.21 482.13,566.21 482.33,566.21 482.53,566.21 482.73,566.21 482.93,566.12 483.13,565.9 483.33,565.69 483.53,565.49 483.73,565.3 483.93,565.11 484.13,564.93 484.33,564.76 484.53,564.59 484.73,564.43 484.93,564.27 485.12,564.12 485.32,563.97 485.52,563.83 485.72,563.69 485.92,563.56 486.12,563.43 486.32,563.31 486.52,563.2 486.72,563.08 486.92,562.97 487.12,562.87 487.32,562.77 487.52,562.68 487.72,562.59 487.92,562.5 488.12,562.42 488.32,562.35 488.52,562.28 488.72,562.22 488.91,562.16 489.11,562.1 489.31,562.05 489.51,562.01 489.71,561.98 489.91,561.95 490.11,561.93 490.31,561.91 490.51,561.91 490.71,561.91 490.91,561.92 491.11,561.94 491.31,561.98 491.51,562.02 491.71,562.08 491.91,562.16 492.11,562.26 492.31,562.37 492.51,562.52 492.7,562.69 492.9,562.88 493.1,563.12 493.3,563.39 493.5,563.71 493.7,564.09 493.9,564.55 494.1,565.11 494.3,565.86 494.5,567.41 494.5,567.41 494.3,568.96 494.1,569.71 493.9,570.27 493.7,570.73 493.5,571.11 493.3,571.43 493.1,571.7 492.9,571.94 492.7,572.13 492.51,572.3 492.31,572.45 492.11,572.56 491.91,572.66 491.71,572.74 491.51,572.8 491.31,572.84 491.11,572.88 490.91,572.9 490.71,572.91 490.51,572.91 490.31,572.91 490.11,572.89 489.91,572.87 489.71,572.84 489.51,572.81 489.31,572.77 489.11,572.72 488.91,572.66 488.72,572.6 488.52,572.54 488.32,572.47 488.12,572.4 487.92,572.32 487.72,572.23 487.52,572.14 487.32,572.05 487.12,571.95 486.92,571.85 486.72,571.74 486.52,571.62 486.32,571.51 486.12,571.39 485.92,571.26 485.72,571.13 485.52,570.99 485.32,570.85 485.12,570.7 484.93,570.55 484.73,570.39 484.53,570.23 484.33,570.06 484.13,569.89 483.93,569.71 483.73,569.52 483.53,569.33 483.33,569.13 483.13,568.92 482.93,568.7 482.73,568.61 482.53,568.61 482.33,568.61 482.13,568.61 481.93,568.61 481.73,568.61 481.53,568.61 481.34,568.61 481.14,568.61 480.94,568.61 480.74,568.61 480.54,568.61 480.34,568.61 480.14,568.61 479.94,568.66 479.74,568.79 479.54,568.92 479.34,569.05 479.14,569.19 478.94,569.33 478.74,569.47 478.54,569.62 478.34,569.76 478.14,569.91 477.94,570.07 477.74,570.22 477.55,570.38 477.35,570.54 477.15,570.71 476.95,570.87 476.75,571.04 476.55,571.21 476.35,571.38 476.15,571.56 475.95,571.73 475.75,571.91" fill="#8dab1e"/><line x1="72.6" y1="527.9" x2="76.2" y2="527.9" stroke="#333" stroke-width="0.9"/><text x="70.2" y="530.8" font-size="8.64" text-anchor="end" fill="#222" textLength="4.45" lengthAdjust="spacingAndGlyphs">5</text><line x1="72.6" y1="541.07" x2="76.2" y2="541.07" stroke="#333" stroke-width="0.9"/><text x="70.2" y="543.97" font-size="8.64" text-anchor="end" fill="#222" textLength="4.45" lengthAdjust="spacingAndGlyphs">0</text><line x1="72.6" y1="554.24" x2="76.2" y2="554.24" stroke="#333" stroke-width="0.9"/><text x="70.2" y="557.14" font-size="8.64" text-anchor="end" fill="#222" textLength="4.45" lengthAdjust="spacingAndGlyphs">4</text><line x1="72.6" y1="567.41" x2="76.2" y2="567.41" stroke="#333" stroke-width="0.9"/><text x="70.2" y="570.31" font-size="8.64" text-anchor="end" fill="#222" textLength="8.9" lengthAdjust="spacingAndGlyphs">10</text><line x1="72.6" y1="580.58" x2="76.2" y2="580.58" stroke="#333" stroke-width="0.9"/><text x="70.2" y="583.48" font-size="8.64" text-anchor="end" fill="#222" textLength="8.3" lengthAdjust="spacingAndGlyphs">11</text><line x1="72.6" y1="593.75" x2="76.2" y2="593.75" stroke="#333" stroke-width="0.9"/><text x="70.2" y="596.65" font-size="8.64" text-anchor="end" fill="#222" textLength="4.45" lengthAdjust="spacingAndGlyphs">2</text><line x1="72.6" y1="606.92" x2="76.2" y2="606.92" stroke="#333" stroke-width="0.9"/><text x="70.2" y="609.82" font-size="8.64" text-anchor="end" fill="#222" textLength="4.45" lengthAdjust="spacingAndGlyphs">6</text><line x1="72.6" y1="620.09" x2="76.2" y2="620.09" stroke="#333" stroke-width="0.9"/><text x="70.2" y="622.99" font-size="8.64" text-anchor="end" fill="#222" textLength="4.45" lengthAdjust="spacingAndGlyphs">7</text><line x1="72.6" y1="633.26" x2="76.2" y2="633.26" stroke="#333" stroke-width="0.9"/><text x="70.2" y="636.16" font-size="8.64" text-anchor="end" fill="#222" textLength="4.45" lengthAdjust="spacingAndGlyphs">1</text><line x1="72.6" y1="646.43" x2="76.2" y2="646.43" stroke="#333" stroke-width="0.9"/><text x="70.2" y="649.33" font-size="8.64" text-anchor="end" fill="#222" textLength="8.9" lengthAdjust="spacingAndGlyphs">12</text><line x1="72.6" y1="659.6" x2="76.2" y2="659.6" stroke="#333" stroke-width="0.9"/><text x="70.2" y="662.5" font-size="8.64" text-anchor="end" fill="#222" textLength="4.45" lengthAdjust="spacingAndGlyphs">9</text><line x1="72.6" y1="672.77" x2="76.2" y2="672.77" stroke="#333" stroke-width="0.9"/><text x="70.2" y="675.67" font-size="8.64" text-anchor="end" fill="#222" textLength="4.45" lengthAdjust="spacingAndGlyphs">8</text><line x1="72.6" y1="685.94" x2="76.2" y2="685.94" stroke="#333" stroke-width="0.9"/><text x="70.2" y="688.84" font-size="8.64" text-anchor="end" fill="#222" textLength="4.45" lengthAdjust="spacingAndGlyphs">3</text><rect x="56.6" y="521.9" width="1.3" height="26.2" fill="#e87a7a"/><rect x="56.6" y="549.6" width="1.3" height="9.2" fill="#c8b860"/><rect x="56.6" y="562" width="1.3" height="10.7" fill="#a8b848"/><rect x="56.6" y="575.8" width="1.3" height="24.6" fill="#70b870"/><rect x="56.6" y="601.9" width="1.3" height="9.9" fill="#40b0a8"/><rect x="56.6" y="614.6" width="1.3" height="23.9" fill="#50b8d0"/><rect x="56.6" y="640.8" width="1.3" height="23.8" fill="#a0a0d0"/><rect x="56.6" y="667.7" width="1.3" height="8.5" fill="#c070b0"/><rect x="56.6" y="680" width="1.3" height="10.8" fill="#e070a8"/><text x="54.2" y="537.1" font-size="8.4" fill="#222" text-anchor="end">CD14<tspan font-size="5.21" dy="-3">+</tspan><tspan dy="3"> Mono</tspan></text><text x="54.2" y="557.1" font-size="8.4" fill="#222" text-anchor="end">CD16<tspan font-size="5.21" dy="-3">+</tspan><tspan dy="3"> Mono</tspan></text><text x="54.2" y="570.2" font-size="8.75" text-anchor="end" fill="#222" textLength="11.7" lengthAdjust="spacingAndGlyphs">DC</text><text x="54.2" y="589.4" font-size="8.75" text-anchor="end" fill="#222" textLength="11.25" lengthAdjust="spacingAndGlyphs">NK</text><text x="54.2" y="609.4" font-size="8.4" fill="#222" text-anchor="end">CD8<tspan font-size="5.21" dy="-3">+</tspan><tspan dy="3"> T</tspan></text><text x="54.2" y="629.4" font-size="8.4" fill="#222" text-anchor="end">CD4<tspan font-size="5.21" dy="-3">+</tspan><tspan dy="3"> T</tspan></text><text x="54.2" y="655.9" font-size="8.75" text-anchor="end" fill="#222" textLength="33.77" lengthAdjust="spacingAndGlyphs">Unknown</text><text x="54.2" y="675.2" font-size="8.75" text-anchor="end" fill="#222" textLength="27.01" lengthAdjust="spacingAndGlyphs">Plasma</text><text x="54.2" y="688.3" font-size="8.75" text-anchor="end" fill="#222" textLength="5.4" lengthAdjust="spacingAndGlyphs">B</text></svg></body></html>
